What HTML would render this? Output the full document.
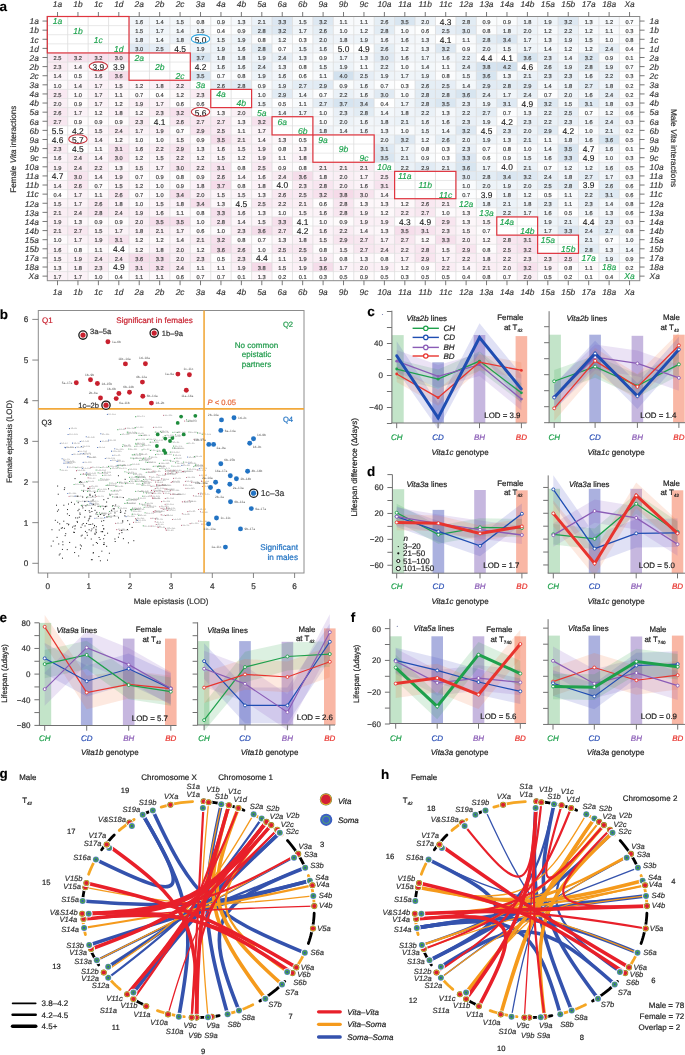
<!DOCTYPE html>
<html><head><meta charset="utf-8"><style>
html,body{margin:0;padding:0;background:#fff;}
svg{display:block;text-rendering:geometricPrecision;will-change:transform;}
</style></head><body>
<svg width="685" height="1055" viewBox="0 0 685 1055" font-family='"Liberation Sans", sans-serif'>
<rect width="685" height="1055" fill="#fff"/>
<rect x="129.02" y="16.5" width="20.43" height="9.11" fill="#f2f6fa"/>
<rect x="149.45" y="16.5" width="20.43" height="9.11" fill="#f4f8fb"/>
<rect x="169.88" y="16.5" width="20.43" height="9.11" fill="#f3f7fa"/>
<rect x="190.31" y="16.5" width="20.43" height="9.11" fill="#fbfcfd"/>
<rect x="210.74" y="16.5" width="20.43" height="9.11" fill="#fafcfd"/>
<rect x="231.17" y="16.5" width="20.43" height="9.11" fill="#f5f8fb"/>
<rect x="251.6" y="16.5" width="20.43" height="9.11" fill="#ebf2f8"/>
<rect x="272.03" y="16.5" width="20.43" height="9.11" fill="#dce7f2"/>
<rect x="292.46" y="16.5" width="20.43" height="9.11" fill="#f3f7fa"/>
<rect x="312.89" y="16.5" width="20.43" height="9.11" fill="#dde8f2"/>
<rect x="333.32" y="16.5" width="20.43" height="9.11" fill="#f8fafc"/>
<rect x="353.75" y="16.5" width="20.43" height="9.11" fill="#f8fafc"/>
<rect x="374.18" y="16.5" width="20.43" height="9.11" fill="#e5eef5"/>
<rect x="394.61" y="16.5" width="20.43" height="9.11" fill="#d9e6f1"/>
<rect x="415.04" y="16.5" width="20.43" height="9.11" fill="#edf3f8"/>
<rect x="435.47" y="16.5" width="20.43" height="9.11" fill="#ffffff"/>
<rect x="455.9" y="16.5" width="20.43" height="9.11" fill="#e2ecf4"/>
<rect x="476.33" y="16.5" width="20.43" height="9.11" fill="#fafcfd"/>
<rect x="496.76" y="16.5" width="20.43" height="9.11" fill="#fafcfd"/>
<rect x="517.19" y="16.5" width="20.43" height="9.11" fill="#eff4f9"/>
<rect x="537.62" y="16.5" width="20.43" height="9.11" fill="#eef4f9"/>
<rect x="558.05" y="16.5" width="20.43" height="9.11" fill="#dde8f2"/>
<rect x="578.48" y="16.5" width="20.43" height="9.11" fill="#f5f8fb"/>
<rect x="598.91" y="16.5" width="20.43" height="9.11" fill="#f6f9fc"/>
<rect x="619.34" y="16.5" width="20.43" height="9.11" fill="#fcfdfe"/>
<rect x="129.02" y="25.61" width="20.43" height="9.11" fill="#f3f7fa"/>
<rect x="149.45" y="25.61" width="20.43" height="9.11" fill="#f0f5f9"/>
<rect x="169.88" y="25.61" width="20.43" height="9.11" fill="#f4f8fb"/>
<rect x="190.31" y="25.61" width="20.43" height="9.11" fill="#f3f7fa"/>
<rect x="210.74" y="25.61" width="20.43" height="9.11" fill="#ffffff"/>
<rect x="231.17" y="25.61" width="20.43" height="9.11" fill="#fafcfd"/>
<rect x="251.6" y="25.61" width="20.43" height="9.11" fill="#e2ecf4"/>
<rect x="272.03" y="25.61" width="20.43" height="9.11" fill="#dde8f2"/>
<rect x="292.46" y="25.61" width="20.43" height="9.11" fill="#f0f5f9"/>
<rect x="312.89" y="25.61" width="20.43" height="9.11" fill="#e5eef5"/>
<rect x="333.32" y="25.61" width="20.43" height="9.11" fill="#f9fbfd"/>
<rect x="353.75" y="25.61" width="20.43" height="9.11" fill="#f6f9fc"/>
<rect x="374.18" y="25.61" width="20.43" height="9.11" fill="#e2ecf4"/>
<rect x="394.61" y="25.61" width="20.43" height="9.11" fill="#f9fbfd"/>
<rect x="415.04" y="25.61" width="20.43" height="9.11" fill="#fdfefe"/>
<rect x="435.47" y="25.61" width="20.43" height="9.11" fill="#e6eef6"/>
<rect x="455.9" y="25.61" width="20.43" height="9.11" fill="#e0eaf3"/>
<rect x="476.33" y="25.61" width="20.43" height="9.11" fill="#fbfcfd"/>
<rect x="496.76" y="25.61" width="20.43" height="9.11" fill="#eff4f9"/>
<rect x="517.19" y="25.61" width="20.43" height="9.11" fill="#edf3f8"/>
<rect x="537.62" y="25.61" width="20.43" height="9.11" fill="#f6f9fc"/>
<rect x="558.05" y="25.61" width="20.43" height="9.11" fill="#eaf1f7"/>
<rect x="578.48" y="25.61" width="20.43" height="9.11" fill="#f6f9fc"/>
<rect x="598.91" y="25.61" width="20.43" height="9.11" fill="#f8fafc"/>
<rect x="619.34" y="25.61" width="20.43" height="9.11" fill="#ffffff"/>
<rect x="129.02" y="34.72" width="20.43" height="9.11" fill="#eff4f9"/>
<rect x="149.45" y="34.72" width="20.43" height="9.11" fill="#f4f8fb"/>
<rect x="169.88" y="34.72" width="20.43" height="9.11" fill="#eff4f9"/>
<rect x="190.31" y="34.72" width="20.43" height="9.11" fill="#ffffff"/>
<rect x="210.74" y="34.72" width="20.43" height="9.11" fill="#f3f7fa"/>
<rect x="231.17" y="34.72" width="20.43" height="9.11" fill="#eef4f9"/>
<rect x="251.6" y="34.72" width="20.43" height="9.11" fill="#fbfcfd"/>
<rect x="272.03" y="34.72" width="20.43" height="9.11" fill="#f6f9fc"/>
<rect x="292.46" y="34.72" width="20.43" height="9.11" fill="#ffffff"/>
<rect x="312.89" y="34.72" width="20.43" height="9.11" fill="#edf3f8"/>
<rect x="333.32" y="34.72" width="20.43" height="9.11" fill="#eff4f9"/>
<rect x="353.75" y="34.72" width="20.43" height="9.11" fill="#eef4f9"/>
<rect x="374.18" y="34.72" width="20.43" height="9.11" fill="#f2f6fa"/>
<rect x="394.61" y="34.72" width="20.43" height="9.11" fill="#f2f6fa"/>
<rect x="415.04" y="34.72" width="20.43" height="9.11" fill="#f5f8fb"/>
<rect x="435.47" y="34.72" width="20.43" height="9.11" fill="#ffffff"/>
<rect x="455.9" y="34.72" width="20.43" height="9.11" fill="#f8fafc"/>
<rect x="476.33" y="34.72" width="20.43" height="9.11" fill="#e2ecf4"/>
<rect x="496.76" y="34.72" width="20.43" height="9.11" fill="#dae6f1"/>
<rect x="517.19" y="34.72" width="20.43" height="9.11" fill="#f0f5f9"/>
<rect x="537.62" y="34.72" width="20.43" height="9.11" fill="#f5f8fb"/>
<rect x="558.05" y="34.72" width="20.43" height="9.11" fill="#eef4f9"/>
<rect x="578.48" y="34.72" width="20.43" height="9.11" fill="#f3f7fa"/>
<rect x="598.91" y="34.72" width="20.43" height="9.11" fill="#f9fbfd"/>
<rect x="619.34" y="34.72" width="20.43" height="9.11" fill="#fbfcfd"/>
<rect x="129.02" y="43.83" width="20.43" height="9.11" fill="#e0eaf3"/>
<rect x="149.45" y="43.83" width="20.43" height="9.11" fill="#e6eef6"/>
<rect x="169.88" y="43.83" width="20.43" height="9.11" fill="#ffffff"/>
<rect x="190.31" y="43.83" width="20.43" height="9.11" fill="#eef4f9"/>
<rect x="210.74" y="43.83" width="20.43" height="9.11" fill="#eef4f9"/>
<rect x="231.17" y="43.83" width="20.43" height="9.11" fill="#f2f6fa"/>
<rect x="251.6" y="43.83" width="20.43" height="9.11" fill="#e2ecf4"/>
<rect x="272.03" y="43.83" width="20.43" height="9.11" fill="#fcfdfe"/>
<rect x="292.46" y="43.83" width="20.43" height="9.11" fill="#f3f7fa"/>
<rect x="312.89" y="43.83" width="20.43" height="9.11" fill="#f2f6fa"/>
<rect x="333.32" y="43.83" width="20.43" height="9.11" fill="#ffffff"/>
<rect x="353.75" y="43.83" width="20.43" height="9.11" fill="#ffffff"/>
<rect x="374.18" y="43.83" width="20.43" height="9.11" fill="#e5eef5"/>
<rect x="394.61" y="43.83" width="20.43" height="9.11" fill="#f6f9fc"/>
<rect x="415.04" y="43.83" width="20.43" height="9.11" fill="#f5f8fb"/>
<rect x="435.47" y="43.83" width="20.43" height="9.11" fill="#dde8f2"/>
<rect x="455.9" y="43.83" width="20.43" height="9.11" fill="#fafcfd"/>
<rect x="476.33" y="43.83" width="20.43" height="9.11" fill="#edf3f8"/>
<rect x="496.76" y="43.83" width="20.43" height="9.11" fill="#f3f7fa"/>
<rect x="517.19" y="43.83" width="20.43" height="9.11" fill="#f0f5f9"/>
<rect x="537.62" y="43.83" width="20.43" height="9.11" fill="#f4f8fb"/>
<rect x="558.05" y="43.83" width="20.43" height="9.11" fill="#f6f9fc"/>
<rect x="578.48" y="43.83" width="20.43" height="9.11" fill="#f6f9fc"/>
<rect x="598.91" y="43.83" width="20.43" height="9.11" fill="#e7eff6"/>
<rect x="619.34" y="43.83" width="20.43" height="9.11" fill="#ffffff"/>
<rect x="47.3" y="52.94" width="20.43" height="9.11" fill="#f9e9f2"/>
<rect x="67.73" y="52.94" width="20.43" height="9.11" fill="#f7e1ed"/>
<rect x="88.16" y="52.94" width="20.43" height="9.11" fill="#f7e1ed"/>
<rect x="108.59" y="52.94" width="20.43" height="9.11" fill="#f7e4ee"/>
<rect x="190.31" y="52.94" width="20.43" height="9.11" fill="#d6e4f0"/>
<rect x="210.74" y="52.94" width="20.43" height="9.11" fill="#eff4f9"/>
<rect x="231.17" y="52.94" width="20.43" height="9.11" fill="#eff4f9"/>
<rect x="251.6" y="52.94" width="20.43" height="9.11" fill="#eef4f9"/>
<rect x="272.03" y="52.94" width="20.43" height="9.11" fill="#e7eff6"/>
<rect x="292.46" y="52.94" width="20.43" height="9.11" fill="#f5f8fb"/>
<rect x="312.89" y="52.94" width="20.43" height="9.11" fill="#fafcfd"/>
<rect x="333.32" y="52.94" width="20.43" height="9.11" fill="#f0f5f9"/>
<rect x="353.75" y="52.94" width="20.43" height="9.11" fill="#f5f8fb"/>
<rect x="374.18" y="52.94" width="20.43" height="9.11" fill="#e0eaf3"/>
<rect x="394.61" y="52.94" width="20.43" height="9.11" fill="#f2f6fa"/>
<rect x="415.04" y="52.94" width="20.43" height="9.11" fill="#f0f5f9"/>
<rect x="435.47" y="52.94" width="20.43" height="9.11" fill="#f2f6fa"/>
<rect x="455.9" y="52.94" width="20.43" height="9.11" fill="#eaf1f7"/>
<rect x="476.33" y="52.94" width="20.43" height="9.11" fill="#ffffff"/>
<rect x="496.76" y="52.94" width="20.43" height="9.11" fill="#ffffff"/>
<rect x="517.19" y="52.94" width="20.43" height="9.11" fill="#d7e5f0"/>
<rect x="537.62" y="52.94" width="20.43" height="9.11" fill="#e9f0f7"/>
<rect x="558.05" y="52.94" width="20.43" height="9.11" fill="#f4f8fb"/>
<rect x="578.48" y="52.94" width="20.43" height="9.11" fill="#dde8f2"/>
<rect x="598.91" y="52.94" width="20.43" height="9.11" fill="#fafcfd"/>
<rect x="619.34" y="52.94" width="20.43" height="9.11" fill="#ffffff"/>
<rect x="47.3" y="62.05" width="20.43" height="9.11" fill="#faecf3"/>
<rect x="67.73" y="62.05" width="20.43" height="9.11" fill="#fcf5f9"/>
<rect x="88.16" y="62.05" width="20.43" height="9.11" fill="#ffffff"/>
<rect x="108.59" y="62.05" width="20.43" height="9.11" fill="#ffffff"/>
<rect x="190.31" y="62.05" width="20.43" height="9.11" fill="#ffffff"/>
<rect x="210.74" y="62.05" width="20.43" height="9.11" fill="#f2f6fa"/>
<rect x="231.17" y="62.05" width="20.43" height="9.11" fill="#f2f6fa"/>
<rect x="251.6" y="62.05" width="20.43" height="9.11" fill="#e7eff6"/>
<rect x="272.03" y="62.05" width="20.43" height="9.11" fill="#f5f8fb"/>
<rect x="292.46" y="62.05" width="20.43" height="9.11" fill="#fbfcfd"/>
<rect x="312.89" y="62.05" width="20.43" height="9.11" fill="#f3f7fa"/>
<rect x="333.32" y="62.05" width="20.43" height="9.11" fill="#eef4f9"/>
<rect x="353.75" y="62.05" width="20.43" height="9.11" fill="#f8fafc"/>
<rect x="374.18" y="62.05" width="20.43" height="9.11" fill="#eaf1f7"/>
<rect x="394.61" y="62.05" width="20.43" height="9.11" fill="#f9fbfd"/>
<rect x="415.04" y="62.05" width="20.43" height="9.11" fill="#f4f8fb"/>
<rect x="435.47" y="62.05" width="20.43" height="9.11" fill="#f8fafc"/>
<rect x="455.9" y="62.05" width="20.43" height="9.11" fill="#e7eff6"/>
<rect x="476.33" y="62.05" width="20.43" height="9.11" fill="#d5e3ef"/>
<rect x="496.76" y="62.05" width="20.43" height="9.11" fill="#d2e1ee"/>
<rect x="517.19" y="62.05" width="20.43" height="9.11" fill="#ffffff"/>
<rect x="537.62" y="62.05" width="20.43" height="9.11" fill="#e5eef5"/>
<rect x="558.05" y="62.05" width="20.43" height="9.11" fill="#eef4f9"/>
<rect x="578.48" y="62.05" width="20.43" height="9.11" fill="#e2ecf4"/>
<rect x="598.91" y="62.05" width="20.43" height="9.11" fill="#eef4f9"/>
<rect x="619.34" y="62.05" width="20.43" height="9.11" fill="#fcfdfe"/>
<rect x="47.3" y="71.16" width="20.43" height="9.11" fill="#fcf5f9"/>
<rect x="67.73" y="71.16" width="20.43" height="9.11" fill="#fffeff"/>
<rect x="88.16" y="71.16" width="20.43" height="9.11" fill="#fcf3f8"/>
<rect x="108.59" y="71.16" width="20.43" height="9.11" fill="#f5ddea"/>
<rect x="190.31" y="71.16" width="20.43" height="9.11" fill="#d9e6f1"/>
<rect x="210.74" y="71.16" width="20.43" height="9.11" fill="#fcfdfe"/>
<rect x="231.17" y="71.16" width="20.43" height="9.11" fill="#fbfcfd"/>
<rect x="251.6" y="71.16" width="20.43" height="9.11" fill="#eef4f9"/>
<rect x="272.03" y="71.16" width="20.43" height="9.11" fill="#f2f6fa"/>
<rect x="292.46" y="71.16" width="20.43" height="9.11" fill="#fdfefe"/>
<rect x="312.89" y="71.16" width="20.43" height="9.11" fill="#f8fafc"/>
<rect x="333.32" y="71.16" width="20.43" height="9.11" fill="#d2e1ee"/>
<rect x="353.75" y="71.16" width="20.43" height="9.11" fill="#e6eef6"/>
<rect x="374.18" y="71.16" width="20.43" height="9.11" fill="#eef4f9"/>
<rect x="394.61" y="71.16" width="20.43" height="9.11" fill="#f0f5f9"/>
<rect x="415.04" y="71.16" width="20.43" height="9.11" fill="#eef4f9"/>
<rect x="435.47" y="71.16" width="20.43" height="9.11" fill="#fbfcfd"/>
<rect x="455.9" y="71.16" width="20.43" height="9.11" fill="#f3f7fa"/>
<rect x="476.33" y="71.16" width="20.43" height="9.11" fill="#d7e5f0"/>
<rect x="496.76" y="71.16" width="20.43" height="9.11" fill="#f5f8fb"/>
<rect x="517.19" y="71.16" width="20.43" height="9.11" fill="#ebf2f8"/>
<rect x="537.62" y="71.16" width="20.43" height="9.11" fill="#e9f0f7"/>
<rect x="558.05" y="71.16" width="20.43" height="9.11" fill="#e9f0f7"/>
<rect x="578.48" y="71.16" width="20.43" height="9.11" fill="#f2f6fa"/>
<rect x="598.91" y="71.16" width="20.43" height="9.11" fill="#eaf1f7"/>
<rect x="619.34" y="71.16" width="20.43" height="9.11" fill="#ffffff"/>
<rect x="47.3" y="80.27" width="20.43" height="9.11" fill="#fdfafc"/>
<rect x="67.73" y="80.27" width="20.43" height="9.11" fill="#fcf5f9"/>
<rect x="88.16" y="80.27" width="20.43" height="9.11" fill="#fbf2f7"/>
<rect x="108.59" y="80.27" width="20.43" height="9.11" fill="#fcf4f8"/>
<rect x="129.02" y="80.27" width="20.43" height="9.11" fill="#fdf8fa"/>
<rect x="149.45" y="80.27" width="20.43" height="9.11" fill="#fbf1f7"/>
<rect x="169.88" y="80.27" width="20.43" height="9.11" fill="#faedf4"/>
<rect x="210.74" y="80.27" width="20.43" height="9.11" fill="#e5eef5"/>
<rect x="231.17" y="80.27" width="20.43" height="9.11" fill="#e2ecf4"/>
<rect x="251.6" y="80.27" width="20.43" height="9.11" fill="#fafcfd"/>
<rect x="272.03" y="80.27" width="20.43" height="9.11" fill="#eef4f9"/>
<rect x="292.46" y="80.27" width="20.43" height="9.11" fill="#e4edf5"/>
<rect x="312.89" y="80.27" width="20.43" height="9.11" fill="#e1ebf4"/>
<rect x="333.32" y="80.27" width="20.43" height="9.11" fill="#fafcfd"/>
<rect x="353.75" y="80.27" width="20.43" height="9.11" fill="#f2f6fa"/>
<rect x="374.18" y="80.27" width="20.43" height="9.11" fill="#fcfdfe"/>
<rect x="394.61" y="80.27" width="20.43" height="9.11" fill="#ffffff"/>
<rect x="415.04" y="80.27" width="20.43" height="9.11" fill="#e5eef5"/>
<rect x="435.47" y="80.27" width="20.43" height="9.11" fill="#e6eef6"/>
<rect x="455.9" y="80.27" width="20.43" height="9.11" fill="#f4f8fb"/>
<rect x="476.33" y="80.27" width="20.43" height="9.11" fill="#e1ebf4"/>
<rect x="496.76" y="80.27" width="20.43" height="9.11" fill="#e2ecf4"/>
<rect x="517.19" y="80.27" width="20.43" height="9.11" fill="#e1ebf4"/>
<rect x="537.62" y="80.27" width="20.43" height="9.11" fill="#f4f8fb"/>
<rect x="558.05" y="80.27" width="20.43" height="9.11" fill="#eff4f9"/>
<rect x="578.48" y="80.27" width="20.43" height="9.11" fill="#e4edf5"/>
<rect x="598.91" y="80.27" width="20.43" height="9.11" fill="#eff4f9"/>
<rect x="619.34" y="80.27" width="20.43" height="9.11" fill="#ffffff"/>
<rect x="47.3" y="89.38" width="20.43" height="9.11" fill="#f9e9f2"/>
<rect x="67.73" y="89.38" width="20.43" height="9.11" fill="#fdfafc"/>
<rect x="88.16" y="89.38" width="20.43" height="9.11" fill="#fbf2f7"/>
<rect x="108.59" y="89.38" width="20.43" height="9.11" fill="#fdf9fb"/>
<rect x="129.02" y="89.38" width="20.43" height="9.11" fill="#fefcfd"/>
<rect x="149.45" y="89.38" width="20.43" height="9.11" fill="#ffffff"/>
<rect x="169.88" y="89.38" width="20.43" height="9.11" fill="#fdf8fa"/>
<rect x="190.31" y="89.38" width="20.43" height="9.11" fill="#faecf3"/>
<rect x="251.6" y="89.38" width="20.43" height="9.11" fill="#f9fbfd"/>
<rect x="272.03" y="89.38" width="20.43" height="9.11" fill="#e1ebf4"/>
<rect x="292.46" y="89.38" width="20.43" height="9.11" fill="#f4f8fb"/>
<rect x="312.89" y="89.38" width="20.43" height="9.11" fill="#fcfdfe"/>
<rect x="333.32" y="89.38" width="20.43" height="9.11" fill="#eaf1f7"/>
<rect x="353.75" y="89.38" width="20.43" height="9.11" fill="#f2f6fa"/>
<rect x="374.18" y="89.38" width="20.43" height="9.11" fill="#e0eaf3"/>
<rect x="394.61" y="89.38" width="20.43" height="9.11" fill="#f9fbfd"/>
<rect x="415.04" y="89.38" width="20.43" height="9.11" fill="#e2ecf4"/>
<rect x="435.47" y="89.38" width="20.43" height="9.11" fill="#e2ecf4"/>
<rect x="455.9" y="89.38" width="20.43" height="9.11" fill="#d7e5f0"/>
<rect x="476.33" y="89.38" width="20.43" height="9.11" fill="#e7eff6"/>
<rect x="496.76" y="89.38" width="20.43" height="9.11" fill="#f0f5f9"/>
<rect x="517.19" y="89.38" width="20.43" height="9.11" fill="#e7eff6"/>
<rect x="537.62" y="89.38" width="20.43" height="9.11" fill="#fcfdfe"/>
<rect x="558.05" y="89.38" width="20.43" height="9.11" fill="#edf3f8"/>
<rect x="578.48" y="89.38" width="20.43" height="9.11" fill="#f2f6fa"/>
<rect x="598.91" y="89.38" width="20.43" height="9.11" fill="#e7eff6"/>
<rect x="619.34" y="89.38" width="20.43" height="9.11" fill="#ffffff"/>
<rect x="47.3" y="98.49" width="20.43" height="9.11" fill="#faeff5"/>
<rect x="67.73" y="98.49" width="20.43" height="9.11" fill="#fefbfc"/>
<rect x="88.16" y="98.49" width="20.43" height="9.11" fill="#fbf2f7"/>
<rect x="108.59" y="98.49" width="20.43" height="9.11" fill="#fdf8fa"/>
<rect x="129.02" y="98.49" width="20.43" height="9.11" fill="#fbf0f6"/>
<rect x="149.45" y="98.49" width="20.43" height="9.11" fill="#fbf2f7"/>
<rect x="169.88" y="98.49" width="20.43" height="9.11" fill="#fffdfe"/>
<rect x="190.31" y="98.49" width="20.43" height="9.11" fill="#fffdfe"/>
<rect x="251.6" y="98.49" width="20.43" height="9.11" fill="#f3f7fa"/>
<rect x="272.03" y="98.49" width="20.43" height="9.11" fill="#fefeff"/>
<rect x="292.46" y="98.49" width="20.43" height="9.11" fill="#f8fafc"/>
<rect x="312.89" y="98.49" width="20.43" height="9.11" fill="#e4edf5"/>
<rect x="333.32" y="98.49" width="20.43" height="9.11" fill="#d6e4f0"/>
<rect x="353.75" y="98.49" width="20.43" height="9.11" fill="#dae6f1"/>
<rect x="374.18" y="98.49" width="20.43" height="9.11" fill="#ffffff"/>
<rect x="394.61" y="98.49" width="20.43" height="9.11" fill="#f0f5f9"/>
<rect x="415.04" y="98.49" width="20.43" height="9.11" fill="#e2ecf4"/>
<rect x="435.47" y="98.49" width="20.43" height="9.11" fill="#d9e6f1"/>
<rect x="455.9" y="98.49" width="20.43" height="9.11" fill="#e9f0f7"/>
<rect x="476.33" y="98.49" width="20.43" height="9.11" fill="#eef4f9"/>
<rect x="496.76" y="98.49" width="20.43" height="9.11" fill="#dee9f3"/>
<rect x="517.19" y="98.49" width="20.43" height="9.11" fill="#ffffff"/>
<rect x="537.62" y="98.49" width="20.43" height="9.11" fill="#dde8f2"/>
<rect x="558.05" y="98.49" width="20.43" height="9.11" fill="#f3f7fa"/>
<rect x="578.48" y="98.49" width="20.43" height="9.11" fill="#dee9f3"/>
<rect x="598.91" y="98.49" width="20.43" height="9.11" fill="#eff4f9"/>
<rect x="619.34" y="98.49" width="20.43" height="9.11" fill="#ffffff"/>
<rect x="47.3" y="107.6" width="20.43" height="9.11" fill="#f9e8f1"/>
<rect x="67.73" y="107.6" width="20.43" height="9.11" fill="#fbf2f7"/>
<rect x="88.16" y="107.6" width="20.43" height="9.11" fill="#fdf8fa"/>
<rect x="108.59" y="107.6" width="20.43" height="9.11" fill="#fbf1f7"/>
<rect x="129.02" y="107.6" width="20.43" height="9.11" fill="#fdf8fa"/>
<rect x="149.45" y="107.6" width="20.43" height="9.11" fill="#faecf3"/>
<rect x="169.88" y="107.6" width="20.43" height="9.11" fill="#f7e1ed"/>
<rect x="190.31" y="107.6" width="20.43" height="9.11" fill="#ffffff"/>
<rect x="210.74" y="107.6" width="20.43" height="9.11" fill="#fdf7fa"/>
<rect x="231.17" y="107.6" width="20.43" height="9.11" fill="#faeff5"/>
<rect x="272.03" y="107.6" width="20.43" height="9.11" fill="#f4f8fb"/>
<rect x="292.46" y="107.6" width="20.43" height="9.11" fill="#f0f5f9"/>
<rect x="312.89" y="107.6" width="20.43" height="9.11" fill="#f9fbfd"/>
<rect x="333.32" y="107.6" width="20.43" height="9.11" fill="#e9f0f7"/>
<rect x="353.75" y="107.6" width="20.43" height="9.11" fill="#e2ecf4"/>
<rect x="374.18" y="107.6" width="20.43" height="9.11" fill="#f4f8fb"/>
<rect x="394.61" y="107.6" width="20.43" height="9.11" fill="#eff4f9"/>
<rect x="415.04" y="107.6" width="20.43" height="9.11" fill="#eaf1f7"/>
<rect x="435.47" y="107.6" width="20.43" height="9.11" fill="#f5f8fb"/>
<rect x="455.9" y="107.6" width="20.43" height="9.11" fill="#eaf1f7"/>
<rect x="476.33" y="107.6" width="20.43" height="9.11" fill="#e4edf5"/>
<rect x="496.76" y="107.6" width="20.43" height="9.11" fill="#fcfdfe"/>
<rect x="517.19" y="107.6" width="20.43" height="9.11" fill="#f5f8fb"/>
<rect x="537.62" y="107.6" width="20.43" height="9.11" fill="#eaf1f7"/>
<rect x="558.05" y="107.6" width="20.43" height="9.11" fill="#e6eef6"/>
<rect x="578.48" y="107.6" width="20.43" height="9.11" fill="#fcfdfe"/>
<rect x="598.91" y="107.6" width="20.43" height="9.11" fill="#f6f9fc"/>
<rect x="619.34" y="107.6" width="20.43" height="9.11" fill="#fdfefe"/>
<rect x="47.3" y="116.71" width="20.43" height="9.11" fill="#f8e7f0"/>
<rect x="67.73" y="116.71" width="20.43" height="9.11" fill="#fefbfc"/>
<rect x="88.16" y="116.71" width="20.43" height="9.11" fill="#fefbfc"/>
<rect x="108.59" y="116.71" width="20.43" height="9.11" fill="#fefbfc"/>
<rect x="129.02" y="116.71" width="20.43" height="9.11" fill="#faecf3"/>
<rect x="149.45" y="116.71" width="20.43" height="9.11" fill="#ffffff"/>
<rect x="169.88" y="116.71" width="20.43" height="9.11" fill="#f9e8f1"/>
<rect x="190.31" y="116.71" width="20.43" height="9.11" fill="#f8e7f0"/>
<rect x="210.74" y="116.71" width="20.43" height="9.11" fill="#f8e7f0"/>
<rect x="231.17" y="116.71" width="20.43" height="9.11" fill="#fdf7fa"/>
<rect x="251.6" y="116.71" width="20.43" height="9.11" fill="#f7e1ed"/>
<rect x="312.89" y="116.71" width="20.43" height="9.11" fill="#f9fbfd"/>
<rect x="333.32" y="116.71" width="20.43" height="9.11" fill="#edf3f8"/>
<rect x="353.75" y="116.71" width="20.43" height="9.11" fill="#f2f6fa"/>
<rect x="374.18" y="116.71" width="20.43" height="9.11" fill="#eff4f9"/>
<rect x="394.61" y="116.71" width="20.43" height="9.11" fill="#ebf2f8"/>
<rect x="415.04" y="116.71" width="20.43" height="9.11" fill="#f2f6fa"/>
<rect x="435.47" y="116.71" width="20.43" height="9.11" fill="#f2f6fa"/>
<rect x="455.9" y="116.71" width="20.43" height="9.11" fill="#e9f0f7"/>
<rect x="476.33" y="116.71" width="20.43" height="9.11" fill="#eef4f9"/>
<rect x="496.76" y="116.71" width="20.43" height="9.11" fill="#ffffff"/>
<rect x="517.19" y="116.71" width="20.43" height="9.11" fill="#e9f0f7"/>
<rect x="537.62" y="116.71" width="20.43" height="9.11" fill="#eaf1f7"/>
<rect x="558.05" y="116.71" width="20.43" height="9.11" fill="#e9f0f7"/>
<rect x="578.48" y="116.71" width="20.43" height="9.11" fill="#f2f6fa"/>
<rect x="598.91" y="116.71" width="20.43" height="9.11" fill="#e7eff6"/>
<rect x="619.34" y="116.71" width="20.43" height="9.11" fill="#ffffff"/>
<rect x="47.3" y="125.82" width="20.43" height="9.11" fill="#ffffff"/>
<rect x="67.73" y="125.82" width="20.43" height="9.11" fill="#ffffff"/>
<rect x="88.16" y="125.82" width="20.43" height="9.11" fill="#fcf4f8"/>
<rect x="108.59" y="125.82" width="20.43" height="9.11" fill="#f9ebf2"/>
<rect x="129.02" y="125.82" width="20.43" height="9.11" fill="#fbf2f7"/>
<rect x="149.45" y="125.82" width="20.43" height="9.11" fill="#fbf0f6"/>
<rect x="169.88" y="125.82" width="20.43" height="9.11" fill="#fefcfd"/>
<rect x="190.31" y="125.82" width="20.43" height="9.11" fill="#f8e5ef"/>
<rect x="210.74" y="125.82" width="20.43" height="9.11" fill="#f9e9f2"/>
<rect x="231.17" y="125.82" width="20.43" height="9.11" fill="#fdf9fb"/>
<rect x="251.6" y="125.82" width="20.43" height="9.11" fill="#fbf2f7"/>
<rect x="312.89" y="125.82" width="20.43" height="9.11" fill="#eff4f9"/>
<rect x="333.32" y="125.82" width="20.43" height="9.11" fill="#f4f8fb"/>
<rect x="353.75" y="125.82" width="20.43" height="9.11" fill="#f2f6fa"/>
<rect x="374.18" y="125.82" width="20.43" height="9.11" fill="#f5f8fb"/>
<rect x="394.61" y="125.82" width="20.43" height="9.11" fill="#f9fbfd"/>
<rect x="415.04" y="125.82" width="20.43" height="9.11" fill="#f3f7fa"/>
<rect x="435.47" y="125.82" width="20.43" height="9.11" fill="#f4f8fb"/>
<rect x="455.9" y="125.82" width="20.43" height="9.11" fill="#dde8f2"/>
<rect x="476.33" y="125.82" width="20.43" height="9.11" fill="#ffffff"/>
<rect x="496.76" y="125.82" width="20.43" height="9.11" fill="#e9f0f7"/>
<rect x="517.19" y="125.82" width="20.43" height="9.11" fill="#edf3f8"/>
<rect x="537.62" y="125.82" width="20.43" height="9.11" fill="#e1ebf4"/>
<rect x="558.05" y="125.82" width="20.43" height="9.11" fill="#ffffff"/>
<rect x="578.48" y="125.82" width="20.43" height="9.11" fill="#f9fbfd"/>
<rect x="598.91" y="125.82" width="20.43" height="9.11" fill="#ebf2f8"/>
<rect x="619.34" y="125.82" width="20.43" height="9.11" fill="#ffffff"/>
<rect x="47.3" y="134.93" width="20.43" height="9.11" fill="#ffffff"/>
<rect x="67.73" y="134.93" width="20.43" height="9.11" fill="#ffffff"/>
<rect x="88.16" y="134.93" width="20.43" height="9.11" fill="#fcf5f9"/>
<rect x="108.59" y="134.93" width="20.43" height="9.11" fill="#fdf8fa"/>
<rect x="129.02" y="134.93" width="20.43" height="9.11" fill="#fdfafc"/>
<rect x="149.45" y="134.93" width="20.43" height="9.11" fill="#fdfafc"/>
<rect x="169.88" y="134.93" width="20.43" height="9.11" fill="#fcf4f8"/>
<rect x="190.31" y="134.93" width="20.43" height="9.11" fill="#fefbfc"/>
<rect x="210.74" y="134.93" width="20.43" height="9.11" fill="#f6deeb"/>
<rect x="231.17" y="134.93" width="20.43" height="9.11" fill="#faeef4"/>
<rect x="251.6" y="134.93" width="20.43" height="9.11" fill="#fcf5f9"/>
<rect x="272.03" y="134.93" width="20.43" height="9.11" fill="#fdf7fa"/>
<rect x="292.46" y="134.93" width="20.43" height="9.11" fill="#fffeff"/>
<rect x="374.18" y="134.93" width="20.43" height="9.11" fill="#edf3f8"/>
<rect x="394.61" y="134.93" width="20.43" height="9.11" fill="#dde8f2"/>
<rect x="415.04" y="134.93" width="20.43" height="9.11" fill="#f6f9fc"/>
<rect x="435.47" y="134.93" width="20.43" height="9.11" fill="#e5eef5"/>
<rect x="455.9" y="134.93" width="20.43" height="9.11" fill="#edf3f8"/>
<rect x="476.33" y="134.93" width="20.43" height="9.11" fill="#eef4f9"/>
<rect x="496.76" y="134.93" width="20.43" height="9.11" fill="#f5f8fb"/>
<rect x="517.19" y="134.93" width="20.43" height="9.11" fill="#ebf2f8"/>
<rect x="537.62" y="134.93" width="20.43" height="9.11" fill="#f8fafc"/>
<rect x="558.05" y="134.93" width="20.43" height="9.11" fill="#eff4f9"/>
<rect x="578.48" y="134.93" width="20.43" height="9.11" fill="#f2f6fa"/>
<rect x="598.91" y="134.93" width="20.43" height="9.11" fill="#d7e5f0"/>
<rect x="619.34" y="134.93" width="20.43" height="9.11" fill="#fefeff"/>
<rect x="47.3" y="144.04" width="20.43" height="9.11" fill="#faecf3"/>
<rect x="67.73" y="144.04" width="20.43" height="9.11" fill="#ffffff"/>
<rect x="88.16" y="144.04" width="20.43" height="9.11" fill="#fdf9fb"/>
<rect x="108.59" y="144.04" width="20.43" height="9.11" fill="#f7e3ee"/>
<rect x="129.02" y="144.04" width="20.43" height="9.11" fill="#fcf3f8"/>
<rect x="149.45" y="144.04" width="20.43" height="9.11" fill="#faedf4"/>
<rect x="169.88" y="144.04" width="20.43" height="9.11" fill="#f8e5ef"/>
<rect x="190.31" y="144.04" width="20.43" height="9.11" fill="#fdf7fa"/>
<rect x="210.74" y="144.04" width="20.43" height="9.11" fill="#fcf3f8"/>
<rect x="231.17" y="144.04" width="20.43" height="9.11" fill="#fcf4f8"/>
<rect x="251.6" y="144.04" width="20.43" height="9.11" fill="#fbf0f6"/>
<rect x="272.03" y="144.04" width="20.43" height="9.11" fill="#fefcfd"/>
<rect x="292.46" y="144.04" width="20.43" height="9.11" fill="#fdf7fa"/>
<rect x="374.18" y="144.04" width="20.43" height="9.11" fill="#dee9f3"/>
<rect x="394.61" y="144.04" width="20.43" height="9.11" fill="#f0f5f9"/>
<rect x="415.04" y="144.04" width="20.43" height="9.11" fill="#fbfcfd"/>
<rect x="435.47" y="144.04" width="20.43" height="9.11" fill="#ffffff"/>
<rect x="455.9" y="144.04" width="20.43" height="9.11" fill="#e9f0f7"/>
<rect x="476.33" y="144.04" width="20.43" height="9.11" fill="#fcfdfe"/>
<rect x="496.76" y="144.04" width="20.43" height="9.11" fill="#fbfcfd"/>
<rect x="517.19" y="144.04" width="20.43" height="9.11" fill="#f9fbfd"/>
<rect x="537.62" y="144.04" width="20.43" height="9.11" fill="#f4f8fb"/>
<rect x="558.05" y="144.04" width="20.43" height="9.11" fill="#d9e6f1"/>
<rect x="578.48" y="144.04" width="20.43" height="9.11" fill="#ffffff"/>
<rect x="598.91" y="144.04" width="20.43" height="9.11" fill="#f2f6fa"/>
<rect x="619.34" y="144.04" width="20.43" height="9.11" fill="#ffffff"/>
<rect x="47.3" y="153.15" width="20.43" height="9.11" fill="#fcf3f8"/>
<rect x="67.73" y="153.15" width="20.43" height="9.11" fill="#f9ebf2"/>
<rect x="88.16" y="153.15" width="20.43" height="9.11" fill="#fcf5f9"/>
<rect x="108.59" y="153.15" width="20.43" height="9.11" fill="#f7e4ee"/>
<rect x="129.02" y="153.15" width="20.43" height="9.11" fill="#fdf8fa"/>
<rect x="149.45" y="153.15" width="20.43" height="9.11" fill="#fcf4f8"/>
<rect x="169.88" y="153.15" width="20.43" height="9.11" fill="#faedf4"/>
<rect x="190.31" y="153.15" width="20.43" height="9.11" fill="#fdf8fa"/>
<rect x="210.74" y="153.15" width="20.43" height="9.11" fill="#fcf4f8"/>
<rect x="231.17" y="153.15" width="20.43" height="9.11" fill="#fdf8fa"/>
<rect x="251.6" y="153.15" width="20.43" height="9.11" fill="#fbf0f6"/>
<rect x="272.03" y="153.15" width="20.43" height="9.11" fill="#fdf9fb"/>
<rect x="292.46" y="153.15" width="20.43" height="9.11" fill="#fbf1f7"/>
<rect x="374.18" y="153.15" width="20.43" height="9.11" fill="#d9e6f1"/>
<rect x="394.61" y="153.15" width="20.43" height="9.11" fill="#ebf2f8"/>
<rect x="415.04" y="153.15" width="20.43" height="9.11" fill="#fafcfd"/>
<rect x="435.47" y="153.15" width="20.43" height="9.11" fill="#ffffff"/>
<rect x="455.9" y="153.15" width="20.43" height="9.11" fill="#dce7f2"/>
<rect x="476.33" y="153.15" width="20.43" height="9.11" fill="#fdfefe"/>
<rect x="496.76" y="153.15" width="20.43" height="9.11" fill="#fafcfd"/>
<rect x="517.19" y="153.15" width="20.43" height="9.11" fill="#f3f7fa"/>
<rect x="537.62" y="153.15" width="20.43" height="9.11" fill="#f2f6fa"/>
<rect x="558.05" y="153.15" width="20.43" height="9.11" fill="#dce7f2"/>
<rect x="578.48" y="153.15" width="20.43" height="9.11" fill="#ffffff"/>
<rect x="598.91" y="153.15" width="20.43" height="9.11" fill="#f9fbfd"/>
<rect x="619.34" y="153.15" width="20.43" height="9.11" fill="#ffffff"/>
<rect x="47.3" y="162.26" width="20.43" height="9.11" fill="#fbf0f6"/>
<rect x="67.73" y="162.26" width="20.43" height="9.11" fill="#f9ebf2"/>
<rect x="88.16" y="162.26" width="20.43" height="9.11" fill="#faedf4"/>
<rect x="108.59" y="162.26" width="20.43" height="9.11" fill="#fdf7fa"/>
<rect x="129.02" y="162.26" width="20.43" height="9.11" fill="#fcf4f8"/>
<rect x="149.45" y="162.26" width="20.43" height="9.11" fill="#fbf2f7"/>
<rect x="169.88" y="162.26" width="20.43" height="9.11" fill="#f7e4ee"/>
<rect x="190.31" y="162.26" width="20.43" height="9.11" fill="#faedf4"/>
<rect x="210.74" y="162.26" width="20.43" height="9.11" fill="#f7e3ee"/>
<rect x="231.17" y="162.26" width="20.43" height="9.11" fill="#fefcfd"/>
<rect x="251.6" y="162.26" width="20.43" height="9.11" fill="#f9e9f2"/>
<rect x="272.03" y="162.26" width="20.43" height="9.11" fill="#fefbfc"/>
<rect x="292.46" y="162.26" width="20.43" height="9.11" fill="#fefcfd"/>
<rect x="312.89" y="162.26" width="20.43" height="9.11" fill="#faeef4"/>
<rect x="333.32" y="162.26" width="20.43" height="9.11" fill="#faeef4"/>
<rect x="353.75" y="162.26" width="20.43" height="9.11" fill="#faeef4"/>
<rect x="394.61" y="162.26" width="20.43" height="9.11" fill="#eaf1f7"/>
<rect x="415.04" y="162.26" width="20.43" height="9.11" fill="#e1ebf4"/>
<rect x="435.47" y="162.26" width="20.43" height="9.11" fill="#ebf2f8"/>
<rect x="455.9" y="162.26" width="20.43" height="9.11" fill="#d7e5f0"/>
<rect x="476.33" y="162.26" width="20.43" height="9.11" fill="#f0f5f9"/>
<rect x="496.76" y="162.26" width="20.43" height="9.11" fill="#ffffff"/>
<rect x="517.19" y="162.26" width="20.43" height="9.11" fill="#ebf2f8"/>
<rect x="537.62" y="162.26" width="20.43" height="9.11" fill="#fcfdfe"/>
<rect x="558.05" y="162.26" width="20.43" height="9.11" fill="#f6f9fc"/>
<rect x="578.48" y="162.26" width="20.43" height="9.11" fill="#f6f9fc"/>
<rect x="598.91" y="162.26" width="20.43" height="9.11" fill="#f2f6fa"/>
<rect x="619.34" y="162.26" width="20.43" height="9.11" fill="#fefeff"/>
<rect x="47.3" y="171.37" width="20.43" height="9.11" fill="#ffffff"/>
<rect x="67.73" y="171.37" width="20.43" height="9.11" fill="#f7e4ee"/>
<rect x="88.16" y="171.37" width="20.43" height="9.11" fill="#fcf5f9"/>
<rect x="108.59" y="171.37" width="20.43" height="9.11" fill="#fbf0f6"/>
<rect x="129.02" y="171.37" width="20.43" height="9.11" fill="#fefcfd"/>
<rect x="149.45" y="171.37" width="20.43" height="9.11" fill="#fefbfc"/>
<rect x="169.88" y="171.37" width="20.43" height="9.11" fill="#fefcfd"/>
<rect x="190.31" y="171.37" width="20.43" height="9.11" fill="#fefbfc"/>
<rect x="210.74" y="171.37" width="20.43" height="9.11" fill="#f9e8f1"/>
<rect x="231.17" y="171.37" width="20.43" height="9.11" fill="#fcf5f9"/>
<rect x="251.6" y="171.37" width="20.43" height="9.11" fill="#fcf3f8"/>
<rect x="272.03" y="171.37" width="20.43" height="9.11" fill="#f9ebf2"/>
<rect x="292.46" y="171.37" width="20.43" height="9.11" fill="#f5ddea"/>
<rect x="312.89" y="171.37" width="20.43" height="9.11" fill="#fbf1f7"/>
<rect x="333.32" y="171.37" width="20.43" height="9.11" fill="#faeff5"/>
<rect x="353.75" y="171.37" width="20.43" height="9.11" fill="#fbf2f7"/>
<rect x="374.18" y="171.37" width="20.43" height="9.11" fill="#f9e9f2"/>
<rect x="455.9" y="171.37" width="20.43" height="9.11" fill="#e0eaf3"/>
<rect x="476.33" y="171.37" width="20.43" height="9.11" fill="#e2ecf4"/>
<rect x="496.76" y="171.37" width="20.43" height="9.11" fill="#dae6f1"/>
<rect x="517.19" y="171.37" width="20.43" height="9.11" fill="#dde8f2"/>
<rect x="537.62" y="171.37" width="20.43" height="9.11" fill="#e7eff6"/>
<rect x="558.05" y="171.37" width="20.43" height="9.11" fill="#eff4f9"/>
<rect x="578.48" y="171.37" width="20.43" height="9.11" fill="#e4edf5"/>
<rect x="598.91" y="171.37" width="20.43" height="9.11" fill="#f0f5f9"/>
<rect x="619.34" y="171.37" width="20.43" height="9.11" fill="#ffffff"/>
<rect x="47.3" y="180.48" width="20.43" height="9.11" fill="#fcf5f9"/>
<rect x="67.73" y="180.48" width="20.43" height="9.11" fill="#f9e8f1"/>
<rect x="88.16" y="180.48" width="20.43" height="9.11" fill="#fefcfd"/>
<rect x="108.59" y="180.48" width="20.43" height="9.11" fill="#fcf4f8"/>
<rect x="129.02" y="180.48" width="20.43" height="9.11" fill="#fdf8fa"/>
<rect x="149.45" y="180.48" width="20.43" height="9.11" fill="#fdfafc"/>
<rect x="169.88" y="180.48" width="20.43" height="9.11" fill="#fefbfc"/>
<rect x="190.31" y="180.48" width="20.43" height="9.11" fill="#fbf1f7"/>
<rect x="210.74" y="180.48" width="20.43" height="9.11" fill="#f5dce9"/>
<rect x="231.17" y="180.48" width="20.43" height="9.11" fill="#fefcfd"/>
<rect x="251.6" y="180.48" width="20.43" height="9.11" fill="#fbf1f7"/>
<rect x="272.03" y="180.48" width="20.43" height="9.11" fill="#ffffff"/>
<rect x="292.46" y="180.48" width="20.43" height="9.11" fill="#faecf3"/>
<rect x="312.89" y="180.48" width="20.43" height="9.11" fill="#f8e6f0"/>
<rect x="333.32" y="180.48" width="20.43" height="9.11" fill="#faeff5"/>
<rect x="353.75" y="180.48" width="20.43" height="9.11" fill="#fcf3f8"/>
<rect x="374.18" y="180.48" width="20.43" height="9.11" fill="#f7e3ee"/>
<rect x="455.9" y="180.48" width="20.43" height="9.11" fill="#f9fbfd"/>
<rect x="476.33" y="180.48" width="20.43" height="9.11" fill="#edf3f8"/>
<rect x="496.76" y="180.48" width="20.43" height="9.11" fill="#eef4f9"/>
<rect x="517.19" y="180.48" width="20.43" height="9.11" fill="#edf3f8"/>
<rect x="537.62" y="180.48" width="20.43" height="9.11" fill="#e6eef6"/>
<rect x="558.05" y="180.48" width="20.43" height="9.11" fill="#e2ecf4"/>
<rect x="578.48" y="180.48" width="20.43" height="9.11" fill="#ffffff"/>
<rect x="598.91" y="180.48" width="20.43" height="9.11" fill="#e5eef5"/>
<rect x="619.34" y="180.48" width="20.43" height="9.11" fill="#fdfefe"/>
<rect x="47.3" y="189.59" width="20.43" height="9.11" fill="#ffffff"/>
<rect x="67.73" y="189.59" width="20.43" height="9.11" fill="#fbf2f7"/>
<rect x="88.16" y="189.59" width="20.43" height="9.11" fill="#fdf9fb"/>
<rect x="108.59" y="189.59" width="20.43" height="9.11" fill="#f9e8f1"/>
<rect x="129.02" y="189.59" width="20.43" height="9.11" fill="#fefcfd"/>
<rect x="149.45" y="189.59" width="20.43" height="9.11" fill="#fdfafc"/>
<rect x="169.88" y="189.59" width="20.43" height="9.11" fill="#f6dfeb"/>
<rect x="190.31" y="189.59" width="20.43" height="9.11" fill="#faeff5"/>
<rect x="210.74" y="189.59" width="20.43" height="9.11" fill="#fcf4f8"/>
<rect x="231.17" y="189.59" width="20.43" height="9.11" fill="#fcf4f8"/>
<rect x="251.6" y="189.59" width="20.43" height="9.11" fill="#fdf7fa"/>
<rect x="272.03" y="189.59" width="20.43" height="9.11" fill="#f9e8f1"/>
<rect x="292.46" y="189.59" width="20.43" height="9.11" fill="#f9e9f2"/>
<rect x="312.89" y="189.59" width="20.43" height="9.11" fill="#f7e1ed"/>
<rect x="333.32" y="189.59" width="20.43" height="9.11" fill="#f5dae8"/>
<rect x="353.75" y="189.59" width="20.43" height="9.11" fill="#f7e4ee"/>
<rect x="374.18" y="189.59" width="20.43" height="9.11" fill="#fcf5f9"/>
<rect x="455.9" y="189.59" width="20.43" height="9.11" fill="#fcfdfe"/>
<rect x="476.33" y="189.59" width="20.43" height="9.11" fill="#ffffff"/>
<rect x="496.76" y="189.59" width="20.43" height="9.11" fill="#eff4f9"/>
<rect x="517.19" y="189.59" width="20.43" height="9.11" fill="#f6f9fc"/>
<rect x="537.62" y="189.59" width="20.43" height="9.11" fill="#fefeff"/>
<rect x="558.05" y="189.59" width="20.43" height="9.11" fill="#f8fafc"/>
<rect x="578.48" y="189.59" width="20.43" height="9.11" fill="#eaf1f7"/>
<rect x="598.91" y="189.59" width="20.43" height="9.11" fill="#dee9f3"/>
<rect x="619.34" y="189.59" width="20.43" height="9.11" fill="#fdfefe"/>
<rect x="47.3" y="198.7" width="20.43" height="9.11" fill="#fcf4f8"/>
<rect x="67.73" y="198.7" width="20.43" height="9.11" fill="#fbf2f7"/>
<rect x="88.16" y="198.7" width="20.43" height="9.11" fill="#f9e8f1"/>
<rect x="108.59" y="198.7" width="20.43" height="9.11" fill="#fbf1f7"/>
<rect x="129.02" y="198.7" width="20.43" height="9.11" fill="#fdfafc"/>
<rect x="149.45" y="198.7" width="20.43" height="9.11" fill="#fcf4f8"/>
<rect x="169.88" y="198.7" width="20.43" height="9.11" fill="#fbf1f7"/>
<rect x="190.31" y="198.7" width="20.43" height="9.11" fill="#f6dfeb"/>
<rect x="210.74" y="198.7" width="20.43" height="9.11" fill="#fdf7fa"/>
<rect x="231.17" y="198.7" width="20.43" height="9.11" fill="#ffffff"/>
<rect x="251.6" y="198.7" width="20.43" height="9.11" fill="#f9e9f2"/>
<rect x="272.03" y="198.7" width="20.43" height="9.11" fill="#faedf4"/>
<rect x="292.46" y="198.7" width="20.43" height="9.11" fill="#faeef4"/>
<rect x="312.89" y="198.7" width="20.43" height="9.11" fill="#fffdfe"/>
<rect x="333.32" y="198.7" width="20.43" height="9.11" fill="#f8e6f0"/>
<rect x="353.75" y="198.7" width="20.43" height="9.11" fill="#fdf7fa"/>
<rect x="374.18" y="198.7" width="20.43" height="9.11" fill="#fdf7fa"/>
<rect x="394.61" y="198.7" width="20.43" height="9.11" fill="#fdf8fa"/>
<rect x="415.04" y="198.7" width="20.43" height="9.11" fill="#f9e8f1"/>
<rect x="435.47" y="198.7" width="20.43" height="9.11" fill="#faeef4"/>
<rect x="476.33" y="198.7" width="20.43" height="9.11" fill="#eff4f9"/>
<rect x="496.76" y="198.7" width="20.43" height="9.11" fill="#ebf2f8"/>
<rect x="517.19" y="198.7" width="20.43" height="9.11" fill="#eff4f9"/>
<rect x="537.62" y="198.7" width="20.43" height="9.11" fill="#e9f0f7"/>
<rect x="558.05" y="198.7" width="20.43" height="9.11" fill="#f8fafc"/>
<rect x="578.48" y="198.7" width="20.43" height="9.11" fill="#e9f0f7"/>
<rect x="598.91" y="198.7" width="20.43" height="9.11" fill="#f4f8fb"/>
<rect x="619.34" y="198.7" width="20.43" height="9.11" fill="#fbfcfd"/>
<rect x="47.3" y="207.81" width="20.43" height="9.11" fill="#faeef4"/>
<rect x="67.73" y="207.81" width="20.43" height="9.11" fill="#f9ebf2"/>
<rect x="88.16" y="207.81" width="20.43" height="9.11" fill="#f8e6f0"/>
<rect x="108.59" y="207.81" width="20.43" height="9.11" fill="#f9ebf2"/>
<rect x="129.02" y="207.81" width="20.43" height="9.11" fill="#fbf0f6"/>
<rect x="149.45" y="207.81" width="20.43" height="9.11" fill="#fcf3f8"/>
<rect x="169.88" y="207.81" width="20.43" height="9.11" fill="#fdf9fb"/>
<rect x="190.31" y="207.81" width="20.43" height="9.11" fill="#fefcfd"/>
<rect x="210.74" y="207.81" width="20.43" height="9.11" fill="#f6e0ec"/>
<rect x="231.17" y="207.81" width="20.43" height="9.11" fill="#fcf3f8"/>
<rect x="251.6" y="207.81" width="20.43" height="9.11" fill="#fdf7fa"/>
<rect x="272.03" y="207.81" width="20.43" height="9.11" fill="#fdfafc"/>
<rect x="292.46" y="207.81" width="20.43" height="9.11" fill="#fcf4f8"/>
<rect x="312.89" y="207.81" width="20.43" height="9.11" fill="#fcf3f8"/>
<rect x="333.32" y="207.81" width="20.43" height="9.11" fill="#f8e6f0"/>
<rect x="353.75" y="207.81" width="20.43" height="9.11" fill="#fbf0f6"/>
<rect x="374.18" y="207.81" width="20.43" height="9.11" fill="#fdf8fa"/>
<rect x="394.61" y="207.81" width="20.43" height="9.11" fill="#faedf4"/>
<rect x="415.04" y="207.81" width="20.43" height="9.11" fill="#f8e7f0"/>
<rect x="435.47" y="207.81" width="20.43" height="9.11" fill="#fdfafc"/>
<rect x="455.9" y="207.81" width="20.43" height="9.11" fill="#fdf7fa"/>
<rect x="496.76" y="207.81" width="20.43" height="9.11" fill="#eaf1f7"/>
<rect x="517.19" y="207.81" width="20.43" height="9.11" fill="#f0f5f9"/>
<rect x="537.62" y="207.81" width="20.43" height="9.11" fill="#f2f6fa"/>
<rect x="558.05" y="207.81" width="20.43" height="9.11" fill="#fefeff"/>
<rect x="578.48" y="207.81" width="20.43" height="9.11" fill="#f2f6fa"/>
<rect x="598.91" y="207.81" width="20.43" height="9.11" fill="#f5f8fb"/>
<rect x="619.34" y="207.81" width="20.43" height="9.11" fill="#fdfefe"/>
<rect x="47.3" y="216.92" width="20.43" height="9.11" fill="#fbf0f6"/>
<rect x="67.73" y="216.92" width="20.43" height="9.11" fill="#fdf7fa"/>
<rect x="88.16" y="216.92" width="20.43" height="9.11" fill="#fefbfc"/>
<rect x="108.59" y="216.92" width="20.43" height="9.11" fill="#fefbfc"/>
<rect x="129.02" y="216.92" width="20.43" height="9.11" fill="#faeff5"/>
<rect x="149.45" y="216.92" width="20.43" height="9.11" fill="#f6deeb"/>
<rect x="169.88" y="216.92" width="20.43" height="9.11" fill="#f6deeb"/>
<rect x="190.31" y="216.92" width="20.43" height="9.11" fill="#fdfafc"/>
<rect x="210.74" y="216.92" width="20.43" height="9.11" fill="#f8e6f0"/>
<rect x="231.17" y="216.92" width="20.43" height="9.11" fill="#fcf5f9"/>
<rect x="251.6" y="216.92" width="20.43" height="9.11" fill="#fcf4f8"/>
<rect x="272.03" y="216.92" width="20.43" height="9.11" fill="#f6e0ec"/>
<rect x="292.46" y="216.92" width="20.43" height="9.11" fill="#ffffff"/>
<rect x="312.89" y="216.92" width="20.43" height="9.11" fill="#fdfafc"/>
<rect x="333.32" y="216.92" width="20.43" height="9.11" fill="#fefbfc"/>
<rect x="353.75" y="216.92" width="20.43" height="9.11" fill="#fbf0f6"/>
<rect x="374.18" y="216.92" width="20.43" height="9.11" fill="#fbf0f6"/>
<rect x="394.61" y="216.92" width="20.43" height="9.11" fill="#ffffff"/>
<rect x="415.04" y="216.92" width="20.43" height="9.11" fill="#ffffff"/>
<rect x="435.47" y="216.92" width="20.43" height="9.11" fill="#f8e5ef"/>
<rect x="455.9" y="216.92" width="20.43" height="9.11" fill="#fdf7fa"/>
<rect x="476.33" y="216.92" width="20.43" height="9.11" fill="#fcf4f8"/>
<rect x="537.62" y="216.92" width="20.43" height="9.11" fill="#eef4f9"/>
<rect x="558.05" y="216.92" width="20.43" height="9.11" fill="#ebf2f8"/>
<rect x="578.48" y="216.92" width="20.43" height="9.11" fill="#ffffff"/>
<rect x="598.91" y="216.92" width="20.43" height="9.11" fill="#e9f0f7"/>
<rect x="619.34" y="216.92" width="20.43" height="9.11" fill="#ffffff"/>
<rect x="47.3" y="226.03" width="20.43" height="9.11" fill="#faeef4"/>
<rect x="67.73" y="226.03" width="20.43" height="9.11" fill="#f8e7f0"/>
<rect x="88.16" y="226.03" width="20.43" height="9.11" fill="#fcf4f8"/>
<rect x="108.59" y="226.03" width="20.43" height="9.11" fill="#fbf2f7"/>
<rect x="129.02" y="226.03" width="20.43" height="9.11" fill="#fbf1f7"/>
<rect x="149.45" y="226.03" width="20.43" height="9.11" fill="#faeef4"/>
<rect x="169.88" y="226.03" width="20.43" height="9.11" fill="#fbf2f7"/>
<rect x="190.31" y="226.03" width="20.43" height="9.11" fill="#fffdfe"/>
<rect x="210.74" y="226.03" width="20.43" height="9.11" fill="#fdfafc"/>
<rect x="231.17" y="226.03" width="20.43" height="9.11" fill="#faecf3"/>
<rect x="251.6" y="226.03" width="20.43" height="9.11" fill="#f5ddea"/>
<rect x="272.03" y="226.03" width="20.43" height="9.11" fill="#f8e7f0"/>
<rect x="292.46" y="226.03" width="20.43" height="9.11" fill="#ffffff"/>
<rect x="312.89" y="226.03" width="20.43" height="9.11" fill="#fcf3f8"/>
<rect x="333.32" y="226.03" width="20.43" height="9.11" fill="#faedf4"/>
<rect x="353.75" y="226.03" width="20.43" height="9.11" fill="#fcf5f9"/>
<rect x="374.18" y="226.03" width="20.43" height="9.11" fill="#fdf7fa"/>
<rect x="394.61" y="226.03" width="20.43" height="9.11" fill="#f6deeb"/>
<rect x="415.04" y="226.03" width="20.43" height="9.11" fill="#f7e3ee"/>
<rect x="435.47" y="226.03" width="20.43" height="9.11" fill="#faecf3"/>
<rect x="455.9" y="226.03" width="20.43" height="9.11" fill="#fcf4f8"/>
<rect x="476.33" y="226.03" width="20.43" height="9.11" fill="#fefcfd"/>
<rect x="537.62" y="226.03" width="20.43" height="9.11" fill="#f0f5f9"/>
<rect x="558.05" y="226.03" width="20.43" height="9.11" fill="#dce7f2"/>
<rect x="578.48" y="226.03" width="20.43" height="9.11" fill="#e7eff6"/>
<rect x="598.91" y="226.03" width="20.43" height="9.11" fill="#e4edf5"/>
<rect x="619.34" y="226.03" width="20.43" height="9.11" fill="#fbfcfd"/>
<rect x="47.3" y="235.14" width="20.43" height="9.11" fill="#fdfafc"/>
<rect x="67.73" y="235.14" width="20.43" height="9.11" fill="#fbf2f7"/>
<rect x="88.16" y="235.14" width="20.43" height="9.11" fill="#fbf0f6"/>
<rect x="108.59" y="235.14" width="20.43" height="9.11" fill="#f7e3ee"/>
<rect x="129.02" y="235.14" width="20.43" height="9.11" fill="#fdf8fa"/>
<rect x="149.45" y="235.14" width="20.43" height="9.11" fill="#fdf8fa"/>
<rect x="169.88" y="235.14" width="20.43" height="9.11" fill="#fcf5f9"/>
<rect x="190.31" y="235.14" width="20.43" height="9.11" fill="#faeef4"/>
<rect x="210.74" y="235.14" width="20.43" height="9.11" fill="#f7e1ed"/>
<rect x="231.17" y="235.14" width="20.43" height="9.11" fill="#fefcfd"/>
<rect x="251.6" y="235.14" width="20.43" height="9.11" fill="#fefcfd"/>
<rect x="272.03" y="235.14" width="20.43" height="9.11" fill="#fdf7fa"/>
<rect x="292.46" y="235.14" width="20.43" height="9.11" fill="#fbf1f7"/>
<rect x="312.89" y="235.14" width="20.43" height="9.11" fill="#fcf4f8"/>
<rect x="333.32" y="235.14" width="20.43" height="9.11" fill="#f8e5ef"/>
<rect x="353.75" y="235.14" width="20.43" height="9.11" fill="#f8e7f0"/>
<rect x="374.18" y="235.14" width="20.43" height="9.11" fill="#fbf2f7"/>
<rect x="394.61" y="235.14" width="20.43" height="9.11" fill="#f8e7f0"/>
<rect x="415.04" y="235.14" width="20.43" height="9.11" fill="#fdf8fa"/>
<rect x="435.47" y="235.14" width="20.43" height="9.11" fill="#f6e0ec"/>
<rect x="455.9" y="235.14" width="20.43" height="9.11" fill="#faeff5"/>
<rect x="476.33" y="235.14" width="20.43" height="9.11" fill="#fdf8fa"/>
<rect x="496.76" y="235.14" width="20.43" height="9.11" fill="#f8e6f0"/>
<rect x="517.19" y="235.14" width="20.43" height="9.11" fill="#f7e3ee"/>
<rect x="578.48" y="235.14" width="20.43" height="9.11" fill="#ebf2f8"/>
<rect x="598.91" y="235.14" width="20.43" height="9.11" fill="#fcfdfe"/>
<rect x="619.34" y="235.14" width="20.43" height="9.11" fill="#f9fbfd"/>
<rect x="47.3" y="244.25" width="20.43" height="9.11" fill="#fcf3f8"/>
<rect x="67.73" y="244.25" width="20.43" height="9.11" fill="#fefcfd"/>
<rect x="88.16" y="244.25" width="20.43" height="9.11" fill="#fdf9fb"/>
<rect x="108.59" y="244.25" width="20.43" height="9.11" fill="#ffffff"/>
<rect x="129.02" y="244.25" width="20.43" height="9.11" fill="#fdf8fa"/>
<rect x="149.45" y="244.25" width="20.43" height="9.11" fill="#fbf1f7"/>
<rect x="169.88" y="244.25" width="20.43" height="9.11" fill="#faeff5"/>
<rect x="190.31" y="244.25" width="20.43" height="9.11" fill="#fdf8fa"/>
<rect x="210.74" y="244.25" width="20.43" height="9.11" fill="#f5ddea"/>
<rect x="231.17" y="244.25" width="20.43" height="9.11" fill="#f9e8f1"/>
<rect x="251.6" y="244.25" width="20.43" height="9.11" fill="#fdfafc"/>
<rect x="272.03" y="244.25" width="20.43" height="9.11" fill="#f9e9f2"/>
<rect x="292.46" y="244.25" width="20.43" height="9.11" fill="#f9e9f2"/>
<rect x="312.89" y="244.25" width="20.43" height="9.11" fill="#fefcfd"/>
<rect x="333.32" y="244.25" width="20.43" height="9.11" fill="#fcf4f8"/>
<rect x="353.75" y="244.25" width="20.43" height="9.11" fill="#f8e7f0"/>
<rect x="374.18" y="244.25" width="20.43" height="9.11" fill="#f9ebf2"/>
<rect x="394.61" y="244.25" width="20.43" height="9.11" fill="#faedf4"/>
<rect x="415.04" y="244.25" width="20.43" height="9.11" fill="#f8e6f0"/>
<rect x="435.47" y="244.25" width="20.43" height="9.11" fill="#fcf4f8"/>
<rect x="455.9" y="244.25" width="20.43" height="9.11" fill="#f8e5ef"/>
<rect x="476.33" y="244.25" width="20.43" height="9.11" fill="#fefcfd"/>
<rect x="496.76" y="244.25" width="20.43" height="9.11" fill="#f9e9f2"/>
<rect x="517.19" y="244.25" width="20.43" height="9.11" fill="#f7e1ed"/>
<rect x="578.48" y="244.25" width="20.43" height="9.11" fill="#e2ecf4"/>
<rect x="598.91" y="244.25" width="20.43" height="9.11" fill="#f5f8fb"/>
<rect x="619.34" y="244.25" width="20.43" height="9.11" fill="#f4f8fb"/>
<rect x="47.3" y="253.36" width="20.43" height="9.11" fill="#fcf4f8"/>
<rect x="67.73" y="253.36" width="20.43" height="9.11" fill="#fbf0f6"/>
<rect x="88.16" y="253.36" width="20.43" height="9.11" fill="#f9ebf2"/>
<rect x="108.59" y="253.36" width="20.43" height="9.11" fill="#f9ebf2"/>
<rect x="129.02" y="253.36" width="20.43" height="9.11" fill="#f5ddea"/>
<rect x="149.45" y="253.36" width="20.43" height="9.11" fill="#f6e0ec"/>
<rect x="169.88" y="253.36" width="20.43" height="9.11" fill="#faeff5"/>
<rect x="190.31" y="253.36" width="20.43" height="9.11" fill="#faecf3"/>
<rect x="210.74" y="253.36" width="20.43" height="9.11" fill="#fffeff"/>
<rect x="231.17" y="253.36" width="20.43" height="9.11" fill="#faecf3"/>
<rect x="251.6" y="253.36" width="20.43" height="9.11" fill="#ffffff"/>
<rect x="272.03" y="253.36" width="20.43" height="9.11" fill="#fdf9fb"/>
<rect x="292.46" y="253.36" width="20.43" height="9.11" fill="#fbf0f6"/>
<rect x="312.89" y="253.36" width="20.43" height="9.11" fill="#fbf0f6"/>
<rect x="333.32" y="253.36" width="20.43" height="9.11" fill="#fefcfd"/>
<rect x="353.75" y="253.36" width="20.43" height="9.11" fill="#fdf7fa"/>
<rect x="374.18" y="253.36" width="20.43" height="9.11" fill="#fefcfd"/>
<rect x="394.61" y="253.36" width="20.43" height="9.11" fill="#fbf2f7"/>
<rect x="415.04" y="253.36" width="20.43" height="9.11" fill="#f8e5ef"/>
<rect x="435.47" y="253.36" width="20.43" height="9.11" fill="#fbf2f7"/>
<rect x="455.9" y="253.36" width="20.43" height="9.11" fill="#faedf4"/>
<rect x="476.33" y="253.36" width="20.43" height="9.11" fill="#fbf1f7"/>
<rect x="496.76" y="253.36" width="20.43" height="9.11" fill="#faedf4"/>
<rect x="517.19" y="253.36" width="20.43" height="9.11" fill="#faecf3"/>
<rect x="537.62" y="253.36" width="20.43" height="9.11" fill="#faecf3"/>
<rect x="558.05" y="253.36" width="20.43" height="9.11" fill="#f9e9f2"/>
<rect x="598.91" y="253.36" width="20.43" height="9.11" fill="#eef4f9"/>
<rect x="619.34" y="253.36" width="20.43" height="9.11" fill="#fafcfd"/>
<rect x="47.3" y="262.47" width="20.43" height="9.11" fill="#fdf7fa"/>
<rect x="67.73" y="262.47" width="20.43" height="9.11" fill="#fbf1f7"/>
<rect x="88.16" y="262.47" width="20.43" height="9.11" fill="#faecf3"/>
<rect x="108.59" y="262.47" width="20.43" height="9.11" fill="#ffffff"/>
<rect x="129.02" y="262.47" width="20.43" height="9.11" fill="#f7e3ee"/>
<rect x="149.45" y="262.47" width="20.43" height="9.11" fill="#f7e1ed"/>
<rect x="169.88" y="262.47" width="20.43" height="9.11" fill="#f9ebf2"/>
<rect x="190.31" y="262.47" width="20.43" height="9.11" fill="#fdf9fb"/>
<rect x="210.74" y="262.47" width="20.43" height="9.11" fill="#fdf9fb"/>
<rect x="231.17" y="262.47" width="20.43" height="9.11" fill="#fbf0f6"/>
<rect x="251.6" y="262.47" width="20.43" height="9.11" fill="#f5dae8"/>
<rect x="272.03" y="262.47" width="20.43" height="9.11" fill="#fcf4f8"/>
<rect x="292.46" y="262.47" width="20.43" height="9.11" fill="#fbf0f6"/>
<rect x="312.89" y="262.47" width="20.43" height="9.11" fill="#f5ddea"/>
<rect x="333.32" y="262.47" width="20.43" height="9.11" fill="#fbf2f7"/>
<rect x="353.75" y="262.47" width="20.43" height="9.11" fill="#faeff5"/>
<rect x="374.18" y="262.47" width="20.43" height="9.11" fill="#fbf0f6"/>
<rect x="394.61" y="262.47" width="20.43" height="9.11" fill="#fdf8fa"/>
<rect x="415.04" y="262.47" width="20.43" height="9.11" fill="#fefbfc"/>
<rect x="435.47" y="262.47" width="20.43" height="9.11" fill="#faedf4"/>
<rect x="455.9" y="262.47" width="20.43" height="9.11" fill="#fcf5f9"/>
<rect x="476.33" y="262.47" width="20.43" height="9.11" fill="#faeef4"/>
<rect x="496.76" y="262.47" width="20.43" height="9.11" fill="#faeff5"/>
<rect x="517.19" y="262.47" width="20.43" height="9.11" fill="#f7e1ed"/>
<rect x="537.62" y="262.47" width="20.43" height="9.11" fill="#fbf0f6"/>
<rect x="558.05" y="262.47" width="20.43" height="9.11" fill="#fefcfd"/>
<rect x="578.48" y="262.47" width="20.43" height="9.11" fill="#fdf9fb"/>
<rect x="619.34" y="262.47" width="20.43" height="9.11" fill="#ffffff"/>
<rect x="47.3" y="271.58" width="20.43" height="9.11" fill="#fbf2f7"/>
<rect x="67.73" y="271.58" width="20.43" height="9.11" fill="#fbf2f7"/>
<rect x="88.16" y="271.58" width="20.43" height="9.11" fill="#fdfafc"/>
<rect x="108.59" y="271.58" width="20.43" height="9.11" fill="#ffffff"/>
<rect x="129.02" y="271.58" width="20.43" height="9.11" fill="#fdf9fb"/>
<rect x="149.45" y="271.58" width="20.43" height="9.11" fill="#fdf9fb"/>
<rect x="169.88" y="271.58" width="20.43" height="9.11" fill="#fffdfe"/>
<rect x="190.31" y="271.58" width="20.43" height="9.11" fill="#fefcfd"/>
<rect x="210.74" y="271.58" width="20.43" height="9.11" fill="#fefcfd"/>
<rect x="231.17" y="271.58" width="20.43" height="9.11" fill="#ffffff"/>
<rect x="251.6" y="271.58" width="20.43" height="9.11" fill="#fdf7fa"/>
<rect x="272.03" y="271.58" width="20.43" height="9.11" fill="#ffffff"/>
<rect x="292.46" y="271.58" width="20.43" height="9.11" fill="#ffffff"/>
<rect x="312.89" y="271.58" width="20.43" height="9.11" fill="#ffffff"/>
<rect x="333.32" y="271.58" width="20.43" height="9.11" fill="#fffeff"/>
<rect x="353.75" y="271.58" width="20.43" height="9.11" fill="#fefbfc"/>
<rect x="374.18" y="271.58" width="20.43" height="9.11" fill="#fffeff"/>
<rect x="394.61" y="271.58" width="20.43" height="9.11" fill="#ffffff"/>
<rect x="415.04" y="271.58" width="20.43" height="9.11" fill="#fffeff"/>
<rect x="435.47" y="271.58" width="20.43" height="9.11" fill="#fffeff"/>
<rect x="455.9" y="271.58" width="20.43" height="9.11" fill="#ffffff"/>
<rect x="476.33" y="271.58" width="20.43" height="9.11" fill="#fefcfd"/>
<rect x="496.76" y="271.58" width="20.43" height="9.11" fill="#fefcfd"/>
<rect x="517.19" y="271.58" width="20.43" height="9.11" fill="#faeff5"/>
<rect x="537.62" y="271.58" width="20.43" height="9.11" fill="#fffeff"/>
<rect x="558.05" y="271.58" width="20.43" height="9.11" fill="#ffffff"/>
<rect x="578.48" y="271.58" width="20.43" height="9.11" fill="#ffffff"/>
<rect x="598.91" y="271.58" width="20.43" height="9.11" fill="#ffffff"/>
<line x1="67.73" y1="16.5" x2="67.73" y2="280.69" stroke="#d9d9d9" stroke-width="0.7"/>
<line x1="88.16" y1="16.5" x2="88.16" y2="280.69" stroke="#d9d9d9" stroke-width="0.7"/>
<line x1="108.59" y1="16.5" x2="108.59" y2="280.69" stroke="#d9d9d9" stroke-width="0.7"/>
<line x1="129.02" y1="16.5" x2="129.02" y2="280.69" stroke="#d9d9d9" stroke-width="0.7"/>
<line x1="149.45" y1="16.5" x2="149.45" y2="280.69" stroke="#d9d9d9" stroke-width="0.7"/>
<line x1="169.88" y1="16.5" x2="169.88" y2="280.69" stroke="#d9d9d9" stroke-width="0.7"/>
<line x1="190.31" y1="16.5" x2="190.31" y2="280.69" stroke="#d9d9d9" stroke-width="0.7"/>
<line x1="210.74" y1="16.5" x2="210.74" y2="280.69" stroke="#d9d9d9" stroke-width="0.7"/>
<line x1="231.17" y1="16.5" x2="231.17" y2="280.69" stroke="#d9d9d9" stroke-width="0.7"/>
<line x1="251.6" y1="16.5" x2="251.6" y2="280.69" stroke="#d9d9d9" stroke-width="0.7"/>
<line x1="272.03" y1="16.5" x2="272.03" y2="280.69" stroke="#d9d9d9" stroke-width="0.7"/>
<line x1="292.46" y1="16.5" x2="292.46" y2="280.69" stroke="#d9d9d9" stroke-width="0.7"/>
<line x1="312.89" y1="16.5" x2="312.89" y2="280.69" stroke="#d9d9d9" stroke-width="0.7"/>
<line x1="333.32" y1="16.5" x2="333.32" y2="280.69" stroke="#d9d9d9" stroke-width="0.7"/>
<line x1="353.75" y1="16.5" x2="353.75" y2="280.69" stroke="#d9d9d9" stroke-width="0.7"/>
<line x1="374.18" y1="16.5" x2="374.18" y2="280.69" stroke="#d9d9d9" stroke-width="0.7"/>
<line x1="394.61" y1="16.5" x2="394.61" y2="280.69" stroke="#d9d9d9" stroke-width="0.7"/>
<line x1="415.04" y1="16.5" x2="415.04" y2="280.69" stroke="#d9d9d9" stroke-width="0.7"/>
<line x1="435.47" y1="16.5" x2="435.47" y2="280.69" stroke="#d9d9d9" stroke-width="0.7"/>
<line x1="455.9" y1="16.5" x2="455.9" y2="280.69" stroke="#d9d9d9" stroke-width="0.7"/>
<line x1="476.33" y1="16.5" x2="476.33" y2="280.69" stroke="#d9d9d9" stroke-width="0.7"/>
<line x1="496.76" y1="16.5" x2="496.76" y2="280.69" stroke="#d9d9d9" stroke-width="0.7"/>
<line x1="517.19" y1="16.5" x2="517.19" y2="280.69" stroke="#d9d9d9" stroke-width="0.7"/>
<line x1="537.62" y1="16.5" x2="537.62" y2="280.69" stroke="#d9d9d9" stroke-width="0.7"/>
<line x1="558.05" y1="16.5" x2="558.05" y2="280.69" stroke="#d9d9d9" stroke-width="0.7"/>
<line x1="578.48" y1="16.5" x2="578.48" y2="280.69" stroke="#d9d9d9" stroke-width="0.7"/>
<line x1="598.91" y1="16.5" x2="598.91" y2="280.69" stroke="#d9d9d9" stroke-width="0.7"/>
<line x1="619.34" y1="16.5" x2="619.34" y2="280.69" stroke="#d9d9d9" stroke-width="0.7"/>
<line x1="47.3" y1="25.61" x2="639.77" y2="25.61" stroke="#e0e0e0" stroke-width="0.7"/>
<line x1="47.3" y1="34.72" x2="639.77" y2="34.72" stroke="#e0e0e0" stroke-width="0.7"/>
<line x1="47.3" y1="43.83" x2="639.77" y2="43.83" stroke="#e0e0e0" stroke-width="0.7"/>
<line x1="47.3" y1="52.94" x2="639.77" y2="52.94" stroke="#e0e0e0" stroke-width="0.7"/>
<line x1="47.3" y1="62.05" x2="639.77" y2="62.05" stroke="#e0e0e0" stroke-width="0.7"/>
<line x1="47.3" y1="71.16" x2="639.77" y2="71.16" stroke="#e0e0e0" stroke-width="0.7"/>
<line x1="47.3" y1="80.27" x2="639.77" y2="80.27" stroke="#e0e0e0" stroke-width="0.7"/>
<line x1="47.3" y1="89.38" x2="639.77" y2="89.38" stroke="#e0e0e0" stroke-width="0.7"/>
<line x1="47.3" y1="98.49" x2="639.77" y2="98.49" stroke="#e0e0e0" stroke-width="0.7"/>
<line x1="47.3" y1="107.6" x2="639.77" y2="107.6" stroke="#e0e0e0" stroke-width="0.7"/>
<line x1="47.3" y1="116.71" x2="639.77" y2="116.71" stroke="#e0e0e0" stroke-width="0.7"/>
<line x1="47.3" y1="125.82" x2="639.77" y2="125.82" stroke="#e0e0e0" stroke-width="0.7"/>
<line x1="47.3" y1="134.93" x2="639.77" y2="134.93" stroke="#e0e0e0" stroke-width="0.7"/>
<line x1="47.3" y1="144.04" x2="639.77" y2="144.04" stroke="#e0e0e0" stroke-width="0.7"/>
<line x1="47.3" y1="153.15" x2="639.77" y2="153.15" stroke="#e0e0e0" stroke-width="0.7"/>
<line x1="47.3" y1="162.26" x2="639.77" y2="162.26" stroke="#e0e0e0" stroke-width="0.7"/>
<line x1="47.3" y1="171.37" x2="639.77" y2="171.37" stroke="#e0e0e0" stroke-width="0.7"/>
<line x1="47.3" y1="180.48" x2="639.77" y2="180.48" stroke="#e0e0e0" stroke-width="0.7"/>
<line x1="47.3" y1="189.59" x2="639.77" y2="189.59" stroke="#e0e0e0" stroke-width="0.7"/>
<line x1="47.3" y1="198.7" x2="639.77" y2="198.7" stroke="#e0e0e0" stroke-width="0.7"/>
<line x1="47.3" y1="207.81" x2="639.77" y2="207.81" stroke="#e0e0e0" stroke-width="0.7"/>
<line x1="47.3" y1="216.92" x2="639.77" y2="216.92" stroke="#e0e0e0" stroke-width="0.7"/>
<line x1="47.3" y1="226.03" x2="639.77" y2="226.03" stroke="#e0e0e0" stroke-width="0.7"/>
<line x1="47.3" y1="235.14" x2="639.77" y2="235.14" stroke="#e0e0e0" stroke-width="0.7"/>
<line x1="47.3" y1="244.25" x2="639.77" y2="244.25" stroke="#e0e0e0" stroke-width="0.7"/>
<line x1="47.3" y1="253.36" x2="639.77" y2="253.36" stroke="#e0e0e0" stroke-width="0.7"/>
<line x1="47.3" y1="262.47" x2="639.77" y2="262.47" stroke="#e0e0e0" stroke-width="0.7"/>
<line x1="47.3" y1="271.58" x2="639.77" y2="271.58" stroke="#e0e0e0" stroke-width="0.7"/>
<text x="57.52" y="24.41" font-size="8.6" font-style="italic" fill="#1ea34e" text-anchor="middle" stroke="#1ea34e" stroke-width="0.14">1a</text>
<text x="139.23" y="23.81" font-size="5.7" fill="#4a4a4a" text-anchor="middle" stroke="#4a4a4a" stroke-width="0.2">1.6</text>
<text x="159.66" y="23.81" font-size="5.7" fill="#4a4a4a" text-anchor="middle" stroke="#4a4a4a" stroke-width="0.2">1.4</text>
<text x="180.09" y="23.81" font-size="5.7" fill="#4a4a4a" text-anchor="middle" stroke="#4a4a4a" stroke-width="0.2">1.5</text>
<text x="200.53" y="23.81" font-size="5.7" fill="#4a4a4a" text-anchor="middle" stroke="#4a4a4a" stroke-width="0.2">0.8</text>
<text x="220.96" y="23.81" font-size="5.7" fill="#4a4a4a" text-anchor="middle" stroke="#4a4a4a" stroke-width="0.2">0.9</text>
<text x="241.39" y="23.81" font-size="5.7" fill="#4a4a4a" text-anchor="middle" stroke="#4a4a4a" stroke-width="0.2">1.3</text>
<text x="261.81" y="23.81" font-size="5.7" fill="#4a4a4a" text-anchor="middle" stroke="#4a4a4a" stroke-width="0.2">2.1</text>
<text x="282.24" y="23.81" font-size="5.7" fill="#4a4a4a" text-anchor="middle" stroke="#4a4a4a" stroke-width="0.2">3.3</text>
<text x="302.67" y="23.81" font-size="5.7" fill="#4a4a4a" text-anchor="middle" stroke="#4a4a4a" stroke-width="0.2">1.5</text>
<text x="323.1" y="23.81" font-size="5.7" fill="#4a4a4a" text-anchor="middle" stroke="#4a4a4a" stroke-width="0.2">3.2</text>
<text x="343.53" y="23.81" font-size="5.7" fill="#4a4a4a" text-anchor="middle" stroke="#4a4a4a" stroke-width="0.2">1.1</text>
<text x="363.96" y="23.81" font-size="5.7" fill="#4a4a4a" text-anchor="middle" stroke="#4a4a4a" stroke-width="0.2">1.1</text>
<text x="384.39" y="23.81" font-size="5.7" fill="#4a4a4a" text-anchor="middle" stroke="#4a4a4a" stroke-width="0.2">2.6</text>
<text x="404.82" y="23.81" font-size="5.7" fill="#4a4a4a" text-anchor="middle" stroke="#4a4a4a" stroke-width="0.2">3.5</text>
<text x="425.25" y="23.81" font-size="5.7" fill="#4a4a4a" text-anchor="middle" stroke="#4a4a4a" stroke-width="0.2">2.0</text>
<text x="445.69" y="24.51" font-size="8.4" fill="#1a1a1a" text-anchor="middle" stroke="#1a1a1a" stroke-width="0.14">4.3</text>
<text x="466.12" y="23.81" font-size="5.7" fill="#4a4a4a" text-anchor="middle" stroke="#4a4a4a" stroke-width="0.2">2.8</text>
<text x="486.54" y="23.81" font-size="5.7" fill="#4a4a4a" text-anchor="middle" stroke="#4a4a4a" stroke-width="0.2">0.9</text>
<text x="506.97" y="23.81" font-size="5.7" fill="#4a4a4a" text-anchor="middle" stroke="#4a4a4a" stroke-width="0.2">0.9</text>
<text x="527.4" y="23.81" font-size="5.7" fill="#4a4a4a" text-anchor="middle" stroke="#4a4a4a" stroke-width="0.2">1.8</text>
<text x="547.84" y="23.81" font-size="5.7" fill="#4a4a4a" text-anchor="middle" stroke="#4a4a4a" stroke-width="0.2">1.9</text>
<text x="568.26" y="23.81" font-size="5.7" fill="#4a4a4a" text-anchor="middle" stroke="#4a4a4a" stroke-width="0.2">3.2</text>
<text x="588.69" y="23.81" font-size="5.7" fill="#4a4a4a" text-anchor="middle" stroke="#4a4a4a" stroke-width="0.2">1.3</text>
<text x="609.12" y="23.81" font-size="5.7" fill="#4a4a4a" text-anchor="middle" stroke="#4a4a4a" stroke-width="0.2">1.2</text>
<text x="629.55" y="23.81" font-size="5.7" fill="#4a4a4a" text-anchor="middle" stroke="#4a4a4a" stroke-width="0.2">0.7</text>
<text x="77.94" y="33.52" font-size="8.6" font-style="italic" fill="#1ea34e" text-anchor="middle" stroke="#1ea34e" stroke-width="0.14">1b</text>
<text x="139.23" y="32.92" font-size="5.7" fill="#4a4a4a" text-anchor="middle" stroke="#4a4a4a" stroke-width="0.2">1.5</text>
<text x="159.66" y="32.92" font-size="5.7" fill="#4a4a4a" text-anchor="middle" stroke="#4a4a4a" stroke-width="0.2">1.7</text>
<text x="180.09" y="32.92" font-size="5.7" fill="#4a4a4a" text-anchor="middle" stroke="#4a4a4a" stroke-width="0.2">1.4</text>
<text x="200.53" y="32.92" font-size="5.7" fill="#4a4a4a" text-anchor="middle" stroke="#4a4a4a" stroke-width="0.2">1.5</text>
<text x="220.96" y="32.92" font-size="5.7" fill="#4a4a4a" text-anchor="middle" stroke="#4a4a4a" stroke-width="0.2">0.4</text>
<text x="241.39" y="32.92" font-size="5.7" fill="#4a4a4a" text-anchor="middle" stroke="#4a4a4a" stroke-width="0.2">0.9</text>
<text x="261.81" y="32.92" font-size="5.7" fill="#4a4a4a" text-anchor="middle" stroke="#4a4a4a" stroke-width="0.2">2.8</text>
<text x="282.24" y="32.92" font-size="5.7" fill="#4a4a4a" text-anchor="middle" stroke="#4a4a4a" stroke-width="0.2">3.2</text>
<text x="302.67" y="32.92" font-size="5.7" fill="#4a4a4a" text-anchor="middle" stroke="#4a4a4a" stroke-width="0.2">1.7</text>
<text x="323.1" y="32.92" font-size="5.7" fill="#4a4a4a" text-anchor="middle" stroke="#4a4a4a" stroke-width="0.2">2.6</text>
<text x="343.53" y="32.92" font-size="5.7" fill="#4a4a4a" text-anchor="middle" stroke="#4a4a4a" stroke-width="0.2">1.0</text>
<text x="363.96" y="32.92" font-size="5.7" fill="#4a4a4a" text-anchor="middle" stroke="#4a4a4a" stroke-width="0.2">1.2</text>
<text x="384.39" y="32.92" font-size="5.7" fill="#4a4a4a" text-anchor="middle" stroke="#4a4a4a" stroke-width="0.2">2.8</text>
<text x="404.82" y="32.92" font-size="5.7" fill="#4a4a4a" text-anchor="middle" stroke="#4a4a4a" stroke-width="0.2">1.0</text>
<text x="425.25" y="32.92" font-size="5.7" fill="#4a4a4a" text-anchor="middle" stroke="#4a4a4a" stroke-width="0.2">0.6</text>
<text x="445.69" y="32.92" font-size="5.7" fill="#4a4a4a" text-anchor="middle" stroke="#4a4a4a" stroke-width="0.2">2.5</text>
<text x="466.12" y="32.92" font-size="5.7" fill="#4a4a4a" text-anchor="middle" stroke="#4a4a4a" stroke-width="0.2">3.0</text>
<text x="486.54" y="32.92" font-size="5.7" fill="#4a4a4a" text-anchor="middle" stroke="#4a4a4a" stroke-width="0.2">0.8</text>
<text x="506.97" y="32.92" font-size="5.7" fill="#4a4a4a" text-anchor="middle" stroke="#4a4a4a" stroke-width="0.2">1.8</text>
<text x="527.4" y="32.92" font-size="5.7" fill="#4a4a4a" text-anchor="middle" stroke="#4a4a4a" stroke-width="0.2">2.0</text>
<text x="547.84" y="32.92" font-size="5.7" fill="#4a4a4a" text-anchor="middle" stroke="#4a4a4a" stroke-width="0.2">1.2</text>
<text x="568.26" y="32.92" font-size="5.7" fill="#4a4a4a" text-anchor="middle" stroke="#4a4a4a" stroke-width="0.2">2.2</text>
<text x="588.69" y="32.92" font-size="5.7" fill="#4a4a4a" text-anchor="middle" stroke="#4a4a4a" stroke-width="0.2">1.2</text>
<text x="609.12" y="32.92" font-size="5.7" fill="#4a4a4a" text-anchor="middle" stroke="#4a4a4a" stroke-width="0.2">1.1</text>
<text x="629.55" y="32.92" font-size="5.7" fill="#4a4a4a" text-anchor="middle" stroke="#4a4a4a" stroke-width="0.2">0.3</text>
<text x="98.38" y="42.63" font-size="8.6" font-style="italic" fill="#1ea34e" text-anchor="middle" stroke="#1ea34e" stroke-width="0.14">1c</text>
<text x="139.23" y="42.03" font-size="5.7" fill="#4a4a4a" text-anchor="middle" stroke="#4a4a4a" stroke-width="0.2">1.8</text>
<text x="159.66" y="42.03" font-size="5.7" fill="#4a4a4a" text-anchor="middle" stroke="#4a4a4a" stroke-width="0.2">1.4</text>
<text x="180.09" y="42.03" font-size="5.7" fill="#4a4a4a" text-anchor="middle" stroke="#4a4a4a" stroke-width="0.2">1.8</text>
<text x="200.53" y="42.73" font-size="8.4" fill="#1a1a1a" text-anchor="middle" stroke="#1a1a1a" stroke-width="0.14">5.0</text>
<ellipse cx="200.53" cy="38.98" rx="9.2" ry="4.4" fill="none" stroke="#2fa6e0" stroke-width="1.1"/>
<text x="220.96" y="42.03" font-size="5.7" fill="#4a4a4a" text-anchor="middle" stroke="#4a4a4a" stroke-width="0.2">1.5</text>
<text x="241.39" y="42.03" font-size="5.7" fill="#4a4a4a" text-anchor="middle" stroke="#4a4a4a" stroke-width="0.2">1.9</text>
<text x="261.81" y="42.03" font-size="5.7" fill="#4a4a4a" text-anchor="middle" stroke="#4a4a4a" stroke-width="0.2">0.8</text>
<text x="282.24" y="42.03" font-size="5.7" fill="#4a4a4a" text-anchor="middle" stroke="#4a4a4a" stroke-width="0.2">1.2</text>
<text x="302.67" y="42.03" font-size="5.7" fill="#4a4a4a" text-anchor="middle" stroke="#4a4a4a" stroke-width="0.2">0.3</text>
<text x="323.1" y="42.03" font-size="5.7" fill="#4a4a4a" text-anchor="middle" stroke="#4a4a4a" stroke-width="0.2">2.0</text>
<text x="343.53" y="42.03" font-size="5.7" fill="#4a4a4a" text-anchor="middle" stroke="#4a4a4a" stroke-width="0.2">1.8</text>
<text x="363.96" y="42.03" font-size="5.7" fill="#4a4a4a" text-anchor="middle" stroke="#4a4a4a" stroke-width="0.2">1.9</text>
<text x="384.39" y="42.03" font-size="5.7" fill="#4a4a4a" text-anchor="middle" stroke="#4a4a4a" stroke-width="0.2">1.6</text>
<text x="404.82" y="42.03" font-size="5.7" fill="#4a4a4a" text-anchor="middle" stroke="#4a4a4a" stroke-width="0.2">1.6</text>
<text x="425.25" y="42.03" font-size="5.7" fill="#4a4a4a" text-anchor="middle" stroke="#4a4a4a" stroke-width="0.2">1.3</text>
<text x="445.69" y="42.73" font-size="8.4" fill="#1a1a1a" text-anchor="middle" stroke="#1a1a1a" stroke-width="0.14">4.1</text>
<text x="466.12" y="42.03" font-size="5.7" fill="#4a4a4a" text-anchor="middle" stroke="#4a4a4a" stroke-width="0.2">1.1</text>
<text x="486.54" y="42.03" font-size="5.7" fill="#4a4a4a" text-anchor="middle" stroke="#4a4a4a" stroke-width="0.2">2.8</text>
<text x="506.97" y="42.03" font-size="5.7" fill="#4a4a4a" text-anchor="middle" stroke="#4a4a4a" stroke-width="0.2">3.4</text>
<text x="527.4" y="42.03" font-size="5.7" fill="#4a4a4a" text-anchor="middle" stroke="#4a4a4a" stroke-width="0.2">1.7</text>
<text x="547.84" y="42.03" font-size="5.7" fill="#4a4a4a" text-anchor="middle" stroke="#4a4a4a" stroke-width="0.2">1.3</text>
<text x="568.26" y="42.03" font-size="5.7" fill="#4a4a4a" text-anchor="middle" stroke="#4a4a4a" stroke-width="0.2">1.9</text>
<text x="588.69" y="42.03" font-size="5.7" fill="#4a4a4a" text-anchor="middle" stroke="#4a4a4a" stroke-width="0.2">1.5</text>
<text x="609.12" y="42.03" font-size="5.7" fill="#4a4a4a" text-anchor="middle" stroke="#4a4a4a" stroke-width="0.2">1.0</text>
<text x="629.55" y="42.03" font-size="5.7" fill="#4a4a4a" text-anchor="middle" stroke="#4a4a4a" stroke-width="0.2">0.8</text>
<text x="118.81" y="51.74" font-size="8.6" font-style="italic" fill="#1ea34e" text-anchor="middle" stroke="#1ea34e" stroke-width="0.14">1d</text>
<text x="139.23" y="51.14" font-size="5.7" fill="#4a4a4a" text-anchor="middle" stroke="#4a4a4a" stroke-width="0.2">3.0</text>
<text x="159.66" y="51.14" font-size="5.7" fill="#4a4a4a" text-anchor="middle" stroke="#4a4a4a" stroke-width="0.2">2.5</text>
<text x="180.09" y="51.84" font-size="8.4" fill="#1a1a1a" text-anchor="middle" stroke="#1a1a1a" stroke-width="0.14">4.5</text>
<text x="200.53" y="51.14" font-size="5.7" fill="#4a4a4a" text-anchor="middle" stroke="#4a4a4a" stroke-width="0.2">1.9</text>
<text x="220.96" y="51.14" font-size="5.7" fill="#4a4a4a" text-anchor="middle" stroke="#4a4a4a" stroke-width="0.2">1.9</text>
<text x="241.39" y="51.14" font-size="5.7" fill="#4a4a4a" text-anchor="middle" stroke="#4a4a4a" stroke-width="0.2">1.6</text>
<text x="261.81" y="51.14" font-size="5.7" fill="#4a4a4a" text-anchor="middle" stroke="#4a4a4a" stroke-width="0.2">2.8</text>
<text x="282.24" y="51.14" font-size="5.7" fill="#4a4a4a" text-anchor="middle" stroke="#4a4a4a" stroke-width="0.2">0.7</text>
<text x="302.67" y="51.14" font-size="5.7" fill="#4a4a4a" text-anchor="middle" stroke="#4a4a4a" stroke-width="0.2">1.5</text>
<text x="323.1" y="51.14" font-size="5.7" fill="#4a4a4a" text-anchor="middle" stroke="#4a4a4a" stroke-width="0.2">1.6</text>
<text x="343.53" y="51.84" font-size="8.4" fill="#1a1a1a" text-anchor="middle" stroke="#1a1a1a" stroke-width="0.14">5.0</text>
<text x="363.96" y="51.84" font-size="8.4" fill="#1a1a1a" text-anchor="middle" stroke="#1a1a1a" stroke-width="0.14">4.9</text>
<text x="384.39" y="51.14" font-size="5.7" fill="#4a4a4a" text-anchor="middle" stroke="#4a4a4a" stroke-width="0.2">2.6</text>
<text x="404.82" y="51.14" font-size="5.7" fill="#4a4a4a" text-anchor="middle" stroke="#4a4a4a" stroke-width="0.2">1.2</text>
<text x="425.25" y="51.14" font-size="5.7" fill="#4a4a4a" text-anchor="middle" stroke="#4a4a4a" stroke-width="0.2">1.3</text>
<text x="445.69" y="51.14" font-size="5.7" fill="#4a4a4a" text-anchor="middle" stroke="#4a4a4a" stroke-width="0.2">3.2</text>
<text x="466.12" y="51.14" font-size="5.7" fill="#4a4a4a" text-anchor="middle" stroke="#4a4a4a" stroke-width="0.2">0.9</text>
<text x="486.54" y="51.14" font-size="5.7" fill="#4a4a4a" text-anchor="middle" stroke="#4a4a4a" stroke-width="0.2">2.0</text>
<text x="506.97" y="51.14" font-size="5.7" fill="#4a4a4a" text-anchor="middle" stroke="#4a4a4a" stroke-width="0.2">1.5</text>
<text x="527.4" y="51.14" font-size="5.7" fill="#4a4a4a" text-anchor="middle" stroke="#4a4a4a" stroke-width="0.2">1.7</text>
<text x="547.84" y="51.14" font-size="5.7" fill="#4a4a4a" text-anchor="middle" stroke="#4a4a4a" stroke-width="0.2">1.4</text>
<text x="568.26" y="51.14" font-size="5.7" fill="#4a4a4a" text-anchor="middle" stroke="#4a4a4a" stroke-width="0.2">1.2</text>
<text x="588.69" y="51.14" font-size="5.7" fill="#4a4a4a" text-anchor="middle" stroke="#4a4a4a" stroke-width="0.2">1.2</text>
<text x="609.12" y="51.14" font-size="5.7" fill="#4a4a4a" text-anchor="middle" stroke="#4a4a4a" stroke-width="0.2">2.4</text>
<text x="629.55" y="51.14" font-size="5.7" fill="#4a4a4a" text-anchor="middle" stroke="#4a4a4a" stroke-width="0.2">0.4</text>
<text x="57.52" y="60.25" font-size="5.7" fill="#4a4a4a" text-anchor="middle" stroke="#4a4a4a" stroke-width="0.2">2.5</text>
<text x="77.94" y="60.25" font-size="5.7" fill="#4a4a4a" text-anchor="middle" stroke="#4a4a4a" stroke-width="0.2">3.2</text>
<text x="98.38" y="60.25" font-size="5.7" fill="#4a4a4a" text-anchor="middle" stroke="#4a4a4a" stroke-width="0.2">3.2</text>
<text x="118.81" y="60.25" font-size="5.7" fill="#4a4a4a" text-anchor="middle" stroke="#4a4a4a" stroke-width="0.2">3.0</text>
<text x="139.23" y="60.85" font-size="8.6" font-style="italic" fill="#1ea34e" text-anchor="middle" stroke="#1ea34e" stroke-width="0.14">2a</text>
<text x="200.53" y="60.25" font-size="5.7" fill="#4a4a4a" text-anchor="middle" stroke="#4a4a4a" stroke-width="0.2">3.7</text>
<text x="220.96" y="60.25" font-size="5.7" fill="#4a4a4a" text-anchor="middle" stroke="#4a4a4a" stroke-width="0.2">1.8</text>
<text x="241.39" y="60.25" font-size="5.7" fill="#4a4a4a" text-anchor="middle" stroke="#4a4a4a" stroke-width="0.2">1.8</text>
<text x="261.81" y="60.25" font-size="5.7" fill="#4a4a4a" text-anchor="middle" stroke="#4a4a4a" stroke-width="0.2">1.9</text>
<text x="282.24" y="60.25" font-size="5.7" fill="#4a4a4a" text-anchor="middle" stroke="#4a4a4a" stroke-width="0.2">2.4</text>
<text x="302.67" y="60.25" font-size="5.7" fill="#4a4a4a" text-anchor="middle" stroke="#4a4a4a" stroke-width="0.2">1.3</text>
<text x="323.1" y="60.25" font-size="5.7" fill="#4a4a4a" text-anchor="middle" stroke="#4a4a4a" stroke-width="0.2">0.9</text>
<text x="343.53" y="60.25" font-size="5.7" fill="#4a4a4a" text-anchor="middle" stroke="#4a4a4a" stroke-width="0.2">1.7</text>
<text x="363.96" y="60.25" font-size="5.7" fill="#4a4a4a" text-anchor="middle" stroke="#4a4a4a" stroke-width="0.2">1.3</text>
<text x="384.39" y="60.25" font-size="5.7" fill="#4a4a4a" text-anchor="middle" stroke="#4a4a4a" stroke-width="0.2">3.0</text>
<text x="404.82" y="60.25" font-size="5.7" fill="#4a4a4a" text-anchor="middle" stroke="#4a4a4a" stroke-width="0.2">1.6</text>
<text x="425.25" y="60.25" font-size="5.7" fill="#4a4a4a" text-anchor="middle" stroke="#4a4a4a" stroke-width="0.2">1.7</text>
<text x="445.69" y="60.25" font-size="5.7" fill="#4a4a4a" text-anchor="middle" stroke="#4a4a4a" stroke-width="0.2">1.6</text>
<text x="466.12" y="60.25" font-size="5.7" fill="#4a4a4a" text-anchor="middle" stroke="#4a4a4a" stroke-width="0.2">2.2</text>
<text x="486.54" y="60.95" font-size="8.4" fill="#1a1a1a" text-anchor="middle" stroke="#1a1a1a" stroke-width="0.14">4.4</text>
<text x="506.97" y="60.95" font-size="8.4" fill="#1a1a1a" text-anchor="middle" stroke="#1a1a1a" stroke-width="0.14">4.1</text>
<text x="527.4" y="60.25" font-size="5.7" fill="#4a4a4a" text-anchor="middle" stroke="#4a4a4a" stroke-width="0.2">3.6</text>
<text x="547.84" y="60.25" font-size="5.7" fill="#4a4a4a" text-anchor="middle" stroke="#4a4a4a" stroke-width="0.2">2.3</text>
<text x="568.26" y="60.25" font-size="5.7" fill="#4a4a4a" text-anchor="middle" stroke="#4a4a4a" stroke-width="0.2">1.4</text>
<text x="588.69" y="60.25" font-size="5.7" fill="#4a4a4a" text-anchor="middle" stroke="#4a4a4a" stroke-width="0.2">3.2</text>
<text x="609.12" y="60.25" font-size="5.7" fill="#4a4a4a" text-anchor="middle" stroke="#4a4a4a" stroke-width="0.2">0.9</text>
<text x="629.55" y="60.25" font-size="5.7" fill="#4a4a4a" text-anchor="middle" stroke="#4a4a4a" stroke-width="0.2">0.1</text>
<text x="57.52" y="69.36" font-size="5.7" fill="#4a4a4a" text-anchor="middle" stroke="#4a4a4a" stroke-width="0.2">2.3</text>
<text x="77.94" y="69.36" font-size="5.7" fill="#4a4a4a" text-anchor="middle" stroke="#4a4a4a" stroke-width="0.2">1.4</text>
<text x="98.38" y="70.06" font-size="8.4" fill="#1a1a1a" text-anchor="middle" stroke="#1a1a1a" stroke-width="0.14">3.9</text>
<ellipse cx="98.38" cy="66.3" rx="9.2" ry="4.4" fill="none" stroke="#c8303c" stroke-width="1.1"/>
<text x="118.81" y="70.06" font-size="8.4" fill="#1a1a1a" text-anchor="middle" stroke="#1a1a1a" stroke-width="0.14">3.9</text>
<text x="159.66" y="69.96" font-size="8.6" font-style="italic" fill="#1ea34e" text-anchor="middle" stroke="#1ea34e" stroke-width="0.14">2b</text>
<text x="200.53" y="70.06" font-size="8.4" fill="#1a1a1a" text-anchor="middle" stroke="#1a1a1a" stroke-width="0.14">4.2</text>
<text x="220.96" y="69.36" font-size="5.7" fill="#4a4a4a" text-anchor="middle" stroke="#4a4a4a" stroke-width="0.2">1.6</text>
<text x="241.39" y="69.36" font-size="5.7" fill="#4a4a4a" text-anchor="middle" stroke="#4a4a4a" stroke-width="0.2">1.6</text>
<text x="261.81" y="69.36" font-size="5.7" fill="#4a4a4a" text-anchor="middle" stroke="#4a4a4a" stroke-width="0.2">2.4</text>
<text x="282.24" y="69.36" font-size="5.7" fill="#4a4a4a" text-anchor="middle" stroke="#4a4a4a" stroke-width="0.2">1.3</text>
<text x="302.67" y="69.36" font-size="5.7" fill="#4a4a4a" text-anchor="middle" stroke="#4a4a4a" stroke-width="0.2">0.8</text>
<text x="323.1" y="69.36" font-size="5.7" fill="#4a4a4a" text-anchor="middle" stroke="#4a4a4a" stroke-width="0.2">1.5</text>
<text x="343.53" y="69.36" font-size="5.7" fill="#4a4a4a" text-anchor="middle" stroke="#4a4a4a" stroke-width="0.2">1.9</text>
<text x="363.96" y="69.36" font-size="5.7" fill="#4a4a4a" text-anchor="middle" stroke="#4a4a4a" stroke-width="0.2">1.1</text>
<text x="384.39" y="69.36" font-size="5.7" fill="#4a4a4a" text-anchor="middle" stroke="#4a4a4a" stroke-width="0.2">2.2</text>
<text x="404.82" y="69.36" font-size="5.7" fill="#4a4a4a" text-anchor="middle" stroke="#4a4a4a" stroke-width="0.2">1.0</text>
<text x="425.25" y="69.36" font-size="5.7" fill="#4a4a4a" text-anchor="middle" stroke="#4a4a4a" stroke-width="0.2">1.4</text>
<text x="445.69" y="69.36" font-size="5.7" fill="#4a4a4a" text-anchor="middle" stroke="#4a4a4a" stroke-width="0.2">1.1</text>
<text x="466.12" y="69.36" font-size="5.7" fill="#4a4a4a" text-anchor="middle" stroke="#4a4a4a" stroke-width="0.2">2.4</text>
<text x="486.54" y="69.36" font-size="5.7" fill="#4a4a4a" text-anchor="middle" stroke="#4a4a4a" stroke-width="0.2">3.8</text>
<text x="506.97" y="69.36" font-size="5.7" fill="#4a4a4a" text-anchor="middle" stroke="#4a4a4a" stroke-width="0.2">4.2</text>
<text x="527.4" y="70.06" font-size="8.4" fill="#1a1a1a" text-anchor="middle" stroke="#1a1a1a" stroke-width="0.14">4.6</text>
<text x="547.84" y="69.36" font-size="5.7" fill="#4a4a4a" text-anchor="middle" stroke="#4a4a4a" stroke-width="0.2">2.6</text>
<text x="568.26" y="69.36" font-size="5.7" fill="#4a4a4a" text-anchor="middle" stroke="#4a4a4a" stroke-width="0.2">1.9</text>
<text x="588.69" y="69.36" font-size="5.7" fill="#4a4a4a" text-anchor="middle" stroke="#4a4a4a" stroke-width="0.2">2.8</text>
<text x="609.12" y="69.36" font-size="5.7" fill="#4a4a4a" text-anchor="middle" stroke="#4a4a4a" stroke-width="0.2">1.9</text>
<text x="629.55" y="69.36" font-size="5.7" fill="#4a4a4a" text-anchor="middle" stroke="#4a4a4a" stroke-width="0.2">0.7</text>
<text x="57.52" y="78.47" font-size="5.7" fill="#4a4a4a" text-anchor="middle" stroke="#4a4a4a" stroke-width="0.2">1.4</text>
<text x="77.94" y="78.47" font-size="5.7" fill="#4a4a4a" text-anchor="middle" stroke="#4a4a4a" stroke-width="0.2">0.5</text>
<text x="98.38" y="78.47" font-size="5.7" fill="#4a4a4a" text-anchor="middle" stroke="#4a4a4a" stroke-width="0.2">1.6</text>
<text x="118.81" y="78.47" font-size="5.7" fill="#4a4a4a" text-anchor="middle" stroke="#4a4a4a" stroke-width="0.2">3.6</text>
<text x="180.09" y="79.07" font-size="8.6" font-style="italic" fill="#1ea34e" text-anchor="middle" stroke="#1ea34e" stroke-width="0.14">2c</text>
<text x="200.53" y="78.47" font-size="5.7" fill="#4a4a4a" text-anchor="middle" stroke="#4a4a4a" stroke-width="0.2">3.5</text>
<text x="220.96" y="78.47" font-size="5.7" fill="#4a4a4a" text-anchor="middle" stroke="#4a4a4a" stroke-width="0.2">0.7</text>
<text x="241.39" y="78.47" font-size="5.7" fill="#4a4a4a" text-anchor="middle" stroke="#4a4a4a" stroke-width="0.2">0.8</text>
<text x="261.81" y="78.47" font-size="5.7" fill="#4a4a4a" text-anchor="middle" stroke="#4a4a4a" stroke-width="0.2">1.9</text>
<text x="282.24" y="78.47" font-size="5.7" fill="#4a4a4a" text-anchor="middle" stroke="#4a4a4a" stroke-width="0.2">1.6</text>
<text x="302.67" y="78.47" font-size="5.7" fill="#4a4a4a" text-anchor="middle" stroke="#4a4a4a" stroke-width="0.2">0.6</text>
<text x="323.1" y="78.47" font-size="5.7" fill="#4a4a4a" text-anchor="middle" stroke="#4a4a4a" stroke-width="0.2">1.1</text>
<text x="343.53" y="78.47" font-size="5.7" fill="#4a4a4a" text-anchor="middle" stroke="#4a4a4a" stroke-width="0.2">4.0</text>
<text x="363.96" y="78.47" font-size="5.7" fill="#4a4a4a" text-anchor="middle" stroke="#4a4a4a" stroke-width="0.2">2.5</text>
<text x="384.39" y="78.47" font-size="5.7" fill="#4a4a4a" text-anchor="middle" stroke="#4a4a4a" stroke-width="0.2">1.9</text>
<text x="404.82" y="78.47" font-size="5.7" fill="#4a4a4a" text-anchor="middle" stroke="#4a4a4a" stroke-width="0.2">1.7</text>
<text x="425.25" y="78.47" font-size="5.7" fill="#4a4a4a" text-anchor="middle" stroke="#4a4a4a" stroke-width="0.2">1.9</text>
<text x="445.69" y="78.47" font-size="5.7" fill="#4a4a4a" text-anchor="middle" stroke="#4a4a4a" stroke-width="0.2">0.8</text>
<text x="466.12" y="78.47" font-size="5.7" fill="#4a4a4a" text-anchor="middle" stroke="#4a4a4a" stroke-width="0.2">1.5</text>
<text x="486.54" y="78.47" font-size="5.7" fill="#4a4a4a" text-anchor="middle" stroke="#4a4a4a" stroke-width="0.2">3.6</text>
<text x="506.97" y="78.47" font-size="5.7" fill="#4a4a4a" text-anchor="middle" stroke="#4a4a4a" stroke-width="0.2">1.3</text>
<text x="527.4" y="78.47" font-size="5.7" fill="#4a4a4a" text-anchor="middle" stroke="#4a4a4a" stroke-width="0.2">2.1</text>
<text x="547.84" y="78.47" font-size="5.7" fill="#4a4a4a" text-anchor="middle" stroke="#4a4a4a" stroke-width="0.2">2.3</text>
<text x="568.26" y="78.47" font-size="5.7" fill="#4a4a4a" text-anchor="middle" stroke="#4a4a4a" stroke-width="0.2">2.3</text>
<text x="588.69" y="78.47" font-size="5.7" fill="#4a4a4a" text-anchor="middle" stroke="#4a4a4a" stroke-width="0.2">1.6</text>
<text x="609.12" y="78.47" font-size="5.7" fill="#4a4a4a" text-anchor="middle" stroke="#4a4a4a" stroke-width="0.2">2.2</text>
<text x="629.55" y="78.47" font-size="5.7" fill="#4a4a4a" text-anchor="middle" stroke="#4a4a4a" stroke-width="0.2">0.3</text>
<text x="57.52" y="87.58" font-size="5.7" fill="#4a4a4a" text-anchor="middle" stroke="#4a4a4a" stroke-width="0.2">1.0</text>
<text x="77.94" y="87.58" font-size="5.7" fill="#4a4a4a" text-anchor="middle" stroke="#4a4a4a" stroke-width="0.2">1.4</text>
<text x="98.38" y="87.58" font-size="5.7" fill="#4a4a4a" text-anchor="middle" stroke="#4a4a4a" stroke-width="0.2">1.7</text>
<text x="118.81" y="87.58" font-size="5.7" fill="#4a4a4a" text-anchor="middle" stroke="#4a4a4a" stroke-width="0.2">1.5</text>
<text x="139.23" y="87.58" font-size="5.7" fill="#4a4a4a" text-anchor="middle" stroke="#4a4a4a" stroke-width="0.2">1.2</text>
<text x="159.66" y="87.58" font-size="5.7" fill="#4a4a4a" text-anchor="middle" stroke="#4a4a4a" stroke-width="0.2">1.8</text>
<text x="180.09" y="87.58" font-size="5.7" fill="#4a4a4a" text-anchor="middle" stroke="#4a4a4a" stroke-width="0.2">2.2</text>
<text x="200.53" y="88.18" font-size="8.6" font-style="italic" fill="#1ea34e" text-anchor="middle" stroke="#1ea34e" stroke-width="0.14">3a</text>
<text x="220.96" y="87.58" font-size="5.7" fill="#4a4a4a" text-anchor="middle" stroke="#4a4a4a" stroke-width="0.2">2.6</text>
<text x="241.39" y="87.58" font-size="5.7" fill="#4a4a4a" text-anchor="middle" stroke="#4a4a4a" stroke-width="0.2">2.8</text>
<text x="261.81" y="87.58" font-size="5.7" fill="#4a4a4a" text-anchor="middle" stroke="#4a4a4a" stroke-width="0.2">0.9</text>
<text x="282.24" y="87.58" font-size="5.7" fill="#4a4a4a" text-anchor="middle" stroke="#4a4a4a" stroke-width="0.2">1.9</text>
<text x="302.67" y="87.58" font-size="5.7" fill="#4a4a4a" text-anchor="middle" stroke="#4a4a4a" stroke-width="0.2">2.7</text>
<text x="323.1" y="87.58" font-size="5.7" fill="#4a4a4a" text-anchor="middle" stroke="#4a4a4a" stroke-width="0.2">2.9</text>
<text x="343.53" y="87.58" font-size="5.7" fill="#4a4a4a" text-anchor="middle" stroke="#4a4a4a" stroke-width="0.2">0.9</text>
<text x="363.96" y="87.58" font-size="5.7" fill="#4a4a4a" text-anchor="middle" stroke="#4a4a4a" stroke-width="0.2">1.6</text>
<text x="384.39" y="87.58" font-size="5.7" fill="#4a4a4a" text-anchor="middle" stroke="#4a4a4a" stroke-width="0.2">0.7</text>
<text x="404.82" y="87.58" font-size="5.7" fill="#4a4a4a" text-anchor="middle" stroke="#4a4a4a" stroke-width="0.2">0.3</text>
<text x="425.25" y="87.58" font-size="5.7" fill="#4a4a4a" text-anchor="middle" stroke="#4a4a4a" stroke-width="0.2">2.6</text>
<text x="445.69" y="87.58" font-size="5.7" fill="#4a4a4a" text-anchor="middle" stroke="#4a4a4a" stroke-width="0.2">2.5</text>
<text x="466.12" y="87.58" font-size="5.7" fill="#4a4a4a" text-anchor="middle" stroke="#4a4a4a" stroke-width="0.2">1.4</text>
<text x="486.54" y="87.58" font-size="5.7" fill="#4a4a4a" text-anchor="middle" stroke="#4a4a4a" stroke-width="0.2">2.9</text>
<text x="506.97" y="87.58" font-size="5.7" fill="#4a4a4a" text-anchor="middle" stroke="#4a4a4a" stroke-width="0.2">2.8</text>
<text x="527.4" y="87.58" font-size="5.7" fill="#4a4a4a" text-anchor="middle" stroke="#4a4a4a" stroke-width="0.2">2.9</text>
<text x="547.84" y="87.58" font-size="5.7" fill="#4a4a4a" text-anchor="middle" stroke="#4a4a4a" stroke-width="0.2">1.4</text>
<text x="568.26" y="87.58" font-size="5.7" fill="#4a4a4a" text-anchor="middle" stroke="#4a4a4a" stroke-width="0.2">1.8</text>
<text x="588.69" y="87.58" font-size="5.7" fill="#4a4a4a" text-anchor="middle" stroke="#4a4a4a" stroke-width="0.2">2.7</text>
<text x="609.12" y="87.58" font-size="5.7" fill="#4a4a4a" text-anchor="middle" stroke="#4a4a4a" stroke-width="0.2">1.8</text>
<text x="629.55" y="87.58" font-size="5.7" fill="#4a4a4a" text-anchor="middle" stroke="#4a4a4a" stroke-width="0.2">0.2</text>
<text x="57.52" y="96.69" font-size="5.7" fill="#4a4a4a" text-anchor="middle" stroke="#4a4a4a" stroke-width="0.2">2.5</text>
<text x="77.94" y="96.69" font-size="5.7" fill="#4a4a4a" text-anchor="middle" stroke="#4a4a4a" stroke-width="0.2">1.0</text>
<text x="98.38" y="96.69" font-size="5.7" fill="#4a4a4a" text-anchor="middle" stroke="#4a4a4a" stroke-width="0.2">1.7</text>
<text x="118.81" y="96.69" font-size="5.7" fill="#4a4a4a" text-anchor="middle" stroke="#4a4a4a" stroke-width="0.2">1.1</text>
<text x="139.23" y="96.69" font-size="5.7" fill="#4a4a4a" text-anchor="middle" stroke="#4a4a4a" stroke-width="0.2">0.7</text>
<text x="159.66" y="96.69" font-size="5.7" fill="#4a4a4a" text-anchor="middle" stroke="#4a4a4a" stroke-width="0.2">0.4</text>
<text x="180.09" y="96.69" font-size="5.7" fill="#4a4a4a" text-anchor="middle" stroke="#4a4a4a" stroke-width="0.2">1.2</text>
<text x="200.53" y="96.69" font-size="5.7" fill="#4a4a4a" text-anchor="middle" stroke="#4a4a4a" stroke-width="0.2">2.3</text>
<text x="220.96" y="97.29" font-size="8.6" font-style="italic" fill="#1ea34e" text-anchor="middle" stroke="#1ea34e" stroke-width="0.14">4a</text>
<text x="261.81" y="96.69" font-size="5.7" fill="#4a4a4a" text-anchor="middle" stroke="#4a4a4a" stroke-width="0.2">1.0</text>
<text x="282.24" y="96.69" font-size="5.7" fill="#4a4a4a" text-anchor="middle" stroke="#4a4a4a" stroke-width="0.2">2.9</text>
<text x="302.67" y="96.69" font-size="5.7" fill="#4a4a4a" text-anchor="middle" stroke="#4a4a4a" stroke-width="0.2">1.4</text>
<text x="323.1" y="96.69" font-size="5.7" fill="#4a4a4a" text-anchor="middle" stroke="#4a4a4a" stroke-width="0.2">0.7</text>
<text x="343.53" y="96.69" font-size="5.7" fill="#4a4a4a" text-anchor="middle" stroke="#4a4a4a" stroke-width="0.2">2.2</text>
<text x="363.96" y="96.69" font-size="5.7" fill="#4a4a4a" text-anchor="middle" stroke="#4a4a4a" stroke-width="0.2">1.6</text>
<text x="384.39" y="96.69" font-size="5.7" fill="#4a4a4a" text-anchor="middle" stroke="#4a4a4a" stroke-width="0.2">3.0</text>
<text x="404.82" y="96.69" font-size="5.7" fill="#4a4a4a" text-anchor="middle" stroke="#4a4a4a" stroke-width="0.2">1.0</text>
<text x="425.25" y="96.69" font-size="5.7" fill="#4a4a4a" text-anchor="middle" stroke="#4a4a4a" stroke-width="0.2">2.8</text>
<text x="445.69" y="96.69" font-size="5.7" fill="#4a4a4a" text-anchor="middle" stroke="#4a4a4a" stroke-width="0.2">2.8</text>
<text x="466.12" y="96.69" font-size="5.7" fill="#4a4a4a" text-anchor="middle" stroke="#4a4a4a" stroke-width="0.2">3.6</text>
<text x="486.54" y="96.69" font-size="5.7" fill="#4a4a4a" text-anchor="middle" stroke="#4a4a4a" stroke-width="0.2">2.4</text>
<text x="506.97" y="96.69" font-size="5.7" fill="#4a4a4a" text-anchor="middle" stroke="#4a4a4a" stroke-width="0.2">1.7</text>
<text x="527.4" y="96.69" font-size="5.7" fill="#4a4a4a" text-anchor="middle" stroke="#4a4a4a" stroke-width="0.2">2.4</text>
<text x="547.84" y="96.69" font-size="5.7" fill="#4a4a4a" text-anchor="middle" stroke="#4a4a4a" stroke-width="0.2">0.7</text>
<text x="568.26" y="96.69" font-size="5.7" fill="#4a4a4a" text-anchor="middle" stroke="#4a4a4a" stroke-width="0.2">2.0</text>
<text x="588.69" y="96.69" font-size="5.7" fill="#4a4a4a" text-anchor="middle" stroke="#4a4a4a" stroke-width="0.2">1.6</text>
<text x="609.12" y="96.69" font-size="5.7" fill="#4a4a4a" text-anchor="middle" stroke="#4a4a4a" stroke-width="0.2">2.4</text>
<text x="629.55" y="96.69" font-size="5.7" fill="#4a4a4a" text-anchor="middle" stroke="#4a4a4a" stroke-width="0.2">0.2</text>
<text x="57.52" y="105.8" font-size="5.7" fill="#4a4a4a" text-anchor="middle" stroke="#4a4a4a" stroke-width="0.2">2.0</text>
<text x="77.94" y="105.8" font-size="5.7" fill="#4a4a4a" text-anchor="middle" stroke="#4a4a4a" stroke-width="0.2">0.9</text>
<text x="98.38" y="105.8" font-size="5.7" fill="#4a4a4a" text-anchor="middle" stroke="#4a4a4a" stroke-width="0.2">1.7</text>
<text x="118.81" y="105.8" font-size="5.7" fill="#4a4a4a" text-anchor="middle" stroke="#4a4a4a" stroke-width="0.2">1.2</text>
<text x="139.23" y="105.8" font-size="5.7" fill="#4a4a4a" text-anchor="middle" stroke="#4a4a4a" stroke-width="0.2">1.9</text>
<text x="159.66" y="105.8" font-size="5.7" fill="#4a4a4a" text-anchor="middle" stroke="#4a4a4a" stroke-width="0.2">1.7</text>
<text x="180.09" y="105.8" font-size="5.7" fill="#4a4a4a" text-anchor="middle" stroke="#4a4a4a" stroke-width="0.2">0.6</text>
<text x="200.53" y="105.8" font-size="5.7" fill="#4a4a4a" text-anchor="middle" stroke="#4a4a4a" stroke-width="0.2">0.6</text>
<text x="241.39" y="106.4" font-size="8.6" font-style="italic" fill="#1ea34e" text-anchor="middle" stroke="#1ea34e" stroke-width="0.14">4b</text>
<text x="261.81" y="105.8" font-size="5.7" fill="#4a4a4a" text-anchor="middle" stroke="#4a4a4a" stroke-width="0.2">1.5</text>
<text x="282.24" y="105.8" font-size="5.7" fill="#4a4a4a" text-anchor="middle" stroke="#4a4a4a" stroke-width="0.2">0.5</text>
<text x="302.67" y="105.8" font-size="5.7" fill="#4a4a4a" text-anchor="middle" stroke="#4a4a4a" stroke-width="0.2">1.1</text>
<text x="323.1" y="105.8" font-size="5.7" fill="#4a4a4a" text-anchor="middle" stroke="#4a4a4a" stroke-width="0.2">2.7</text>
<text x="343.53" y="105.8" font-size="5.7" fill="#4a4a4a" text-anchor="middle" stroke="#4a4a4a" stroke-width="0.2">3.7</text>
<text x="363.96" y="105.8" font-size="5.7" fill="#4a4a4a" text-anchor="middle" stroke="#4a4a4a" stroke-width="0.2">3.4</text>
<text x="384.39" y="105.8" font-size="5.7" fill="#4a4a4a" text-anchor="middle" stroke="#4a4a4a" stroke-width="0.2">0.4</text>
<text x="404.82" y="105.8" font-size="5.7" fill="#4a4a4a" text-anchor="middle" stroke="#4a4a4a" stroke-width="0.2">1.7</text>
<text x="425.25" y="105.8" font-size="5.7" fill="#4a4a4a" text-anchor="middle" stroke="#4a4a4a" stroke-width="0.2">2.8</text>
<text x="445.69" y="105.8" font-size="5.7" fill="#4a4a4a" text-anchor="middle" stroke="#4a4a4a" stroke-width="0.2">3.5</text>
<text x="466.12" y="105.8" font-size="5.7" fill="#4a4a4a" text-anchor="middle" stroke="#4a4a4a" stroke-width="0.2">2.3</text>
<text x="486.54" y="105.8" font-size="5.7" fill="#4a4a4a" text-anchor="middle" stroke="#4a4a4a" stroke-width="0.2">1.9</text>
<text x="506.97" y="105.8" font-size="5.7" fill="#4a4a4a" text-anchor="middle" stroke="#4a4a4a" stroke-width="0.2">3.1</text>
<text x="527.4" y="106.5" font-size="8.4" fill="#1a1a1a" text-anchor="middle" stroke="#1a1a1a" stroke-width="0.14">4.9</text>
<text x="547.84" y="105.8" font-size="5.7" fill="#4a4a4a" text-anchor="middle" stroke="#4a4a4a" stroke-width="0.2">3.2</text>
<text x="568.26" y="105.8" font-size="5.7" fill="#4a4a4a" text-anchor="middle" stroke="#4a4a4a" stroke-width="0.2">1.5</text>
<text x="588.69" y="105.8" font-size="5.7" fill="#4a4a4a" text-anchor="middle" stroke="#4a4a4a" stroke-width="0.2">3.1</text>
<text x="609.12" y="105.8" font-size="5.7" fill="#4a4a4a" text-anchor="middle" stroke="#4a4a4a" stroke-width="0.2">1.8</text>
<text x="629.55" y="105.8" font-size="5.7" fill="#4a4a4a" text-anchor="middle" stroke="#4a4a4a" stroke-width="0.2">0.3</text>
<text x="57.52" y="114.91" font-size="5.7" fill="#4a4a4a" text-anchor="middle" stroke="#4a4a4a" stroke-width="0.2">2.6</text>
<text x="77.94" y="114.91" font-size="5.7" fill="#4a4a4a" text-anchor="middle" stroke="#4a4a4a" stroke-width="0.2">1.7</text>
<text x="98.38" y="114.91" font-size="5.7" fill="#4a4a4a" text-anchor="middle" stroke="#4a4a4a" stroke-width="0.2">1.2</text>
<text x="118.81" y="114.91" font-size="5.7" fill="#4a4a4a" text-anchor="middle" stroke="#4a4a4a" stroke-width="0.2">1.8</text>
<text x="139.23" y="114.91" font-size="5.7" fill="#4a4a4a" text-anchor="middle" stroke="#4a4a4a" stroke-width="0.2">1.2</text>
<text x="159.66" y="114.91" font-size="5.7" fill="#4a4a4a" text-anchor="middle" stroke="#4a4a4a" stroke-width="0.2">2.3</text>
<text x="180.09" y="114.91" font-size="5.7" fill="#4a4a4a" text-anchor="middle" stroke="#4a4a4a" stroke-width="0.2">3.2</text>
<text x="200.53" y="115.61" font-size="8.4" fill="#1a1a1a" text-anchor="middle" stroke="#1a1a1a" stroke-width="0.14">5.6</text>
<ellipse cx="200.53" cy="111.86" rx="9.2" ry="4.4" fill="none" stroke="#c8303c" stroke-width="1.1"/>
<text x="220.96" y="114.91" font-size="5.7" fill="#4a4a4a" text-anchor="middle" stroke="#4a4a4a" stroke-width="0.2">1.3</text>
<text x="241.39" y="114.91" font-size="5.7" fill="#4a4a4a" text-anchor="middle" stroke="#4a4a4a" stroke-width="0.2">2.0</text>
<text x="261.81" y="115.51" font-size="8.6" font-style="italic" fill="#1ea34e" text-anchor="middle" stroke="#1ea34e" stroke-width="0.14">5a</text>
<text x="282.24" y="114.91" font-size="5.7" fill="#4a4a4a" text-anchor="middle" stroke="#4a4a4a" stroke-width="0.2">1.4</text>
<text x="302.67" y="114.91" font-size="5.7" fill="#4a4a4a" text-anchor="middle" stroke="#4a4a4a" stroke-width="0.2">1.7</text>
<text x="323.1" y="114.91" font-size="5.7" fill="#4a4a4a" text-anchor="middle" stroke="#4a4a4a" stroke-width="0.2">1.0</text>
<text x="343.53" y="114.91" font-size="5.7" fill="#4a4a4a" text-anchor="middle" stroke="#4a4a4a" stroke-width="0.2">2.3</text>
<text x="363.96" y="114.91" font-size="5.7" fill="#4a4a4a" text-anchor="middle" stroke="#4a4a4a" stroke-width="0.2">2.8</text>
<text x="384.39" y="114.91" font-size="5.7" fill="#4a4a4a" text-anchor="middle" stroke="#4a4a4a" stroke-width="0.2">1.4</text>
<text x="404.82" y="114.91" font-size="5.7" fill="#4a4a4a" text-anchor="middle" stroke="#4a4a4a" stroke-width="0.2">1.8</text>
<text x="425.25" y="114.91" font-size="5.7" fill="#4a4a4a" text-anchor="middle" stroke="#4a4a4a" stroke-width="0.2">2.2</text>
<text x="445.69" y="114.91" font-size="5.7" fill="#4a4a4a" text-anchor="middle" stroke="#4a4a4a" stroke-width="0.2">1.3</text>
<text x="466.12" y="114.91" font-size="5.7" fill="#4a4a4a" text-anchor="middle" stroke="#4a4a4a" stroke-width="0.2">2.2</text>
<text x="486.54" y="114.91" font-size="5.7" fill="#4a4a4a" text-anchor="middle" stroke="#4a4a4a" stroke-width="0.2">2.7</text>
<text x="506.97" y="114.91" font-size="5.7" fill="#4a4a4a" text-anchor="middle" stroke="#4a4a4a" stroke-width="0.2">0.7</text>
<text x="527.4" y="114.91" font-size="5.7" fill="#4a4a4a" text-anchor="middle" stroke="#4a4a4a" stroke-width="0.2">1.3</text>
<text x="547.84" y="114.91" font-size="5.7" fill="#4a4a4a" text-anchor="middle" stroke="#4a4a4a" stroke-width="0.2">2.2</text>
<text x="568.26" y="114.91" font-size="5.7" fill="#4a4a4a" text-anchor="middle" stroke="#4a4a4a" stroke-width="0.2">2.5</text>
<text x="588.69" y="114.91" font-size="5.7" fill="#4a4a4a" text-anchor="middle" stroke="#4a4a4a" stroke-width="0.2">0.7</text>
<text x="609.12" y="114.91" font-size="5.7" fill="#4a4a4a" text-anchor="middle" stroke="#4a4a4a" stroke-width="0.2">1.2</text>
<text x="629.55" y="114.91" font-size="5.7" fill="#4a4a4a" text-anchor="middle" stroke="#4a4a4a" stroke-width="0.2">0.6</text>
<text x="57.52" y="124.02" font-size="5.7" fill="#4a4a4a" text-anchor="middle" stroke="#4a4a4a" stroke-width="0.2">2.7</text>
<text x="77.94" y="124.02" font-size="5.7" fill="#4a4a4a" text-anchor="middle" stroke="#4a4a4a" stroke-width="0.2">0.9</text>
<text x="98.38" y="124.02" font-size="5.7" fill="#4a4a4a" text-anchor="middle" stroke="#4a4a4a" stroke-width="0.2">0.9</text>
<text x="118.81" y="124.02" font-size="5.7" fill="#4a4a4a" text-anchor="middle" stroke="#4a4a4a" stroke-width="0.2">0.9</text>
<text x="139.23" y="124.02" font-size="5.7" fill="#4a4a4a" text-anchor="middle" stroke="#4a4a4a" stroke-width="0.2">2.3</text>
<text x="159.66" y="124.72" font-size="8.4" fill="#1a1a1a" text-anchor="middle" stroke="#1a1a1a" stroke-width="0.14">4.1</text>
<text x="180.09" y="124.02" font-size="5.7" fill="#4a4a4a" text-anchor="middle" stroke="#4a4a4a" stroke-width="0.2">2.6</text>
<text x="200.53" y="124.02" font-size="5.7" fill="#4a4a4a" text-anchor="middle" stroke="#4a4a4a" stroke-width="0.2">2.7</text>
<text x="220.96" y="124.02" font-size="5.7" fill="#4a4a4a" text-anchor="middle" stroke="#4a4a4a" stroke-width="0.2">2.7</text>
<text x="241.39" y="124.02" font-size="5.7" fill="#4a4a4a" text-anchor="middle" stroke="#4a4a4a" stroke-width="0.2">1.3</text>
<text x="261.81" y="124.02" font-size="5.7" fill="#4a4a4a" text-anchor="middle" stroke="#4a4a4a" stroke-width="0.2">3.2</text>
<text x="282.24" y="124.62" font-size="8.6" font-style="italic" fill="#1ea34e" text-anchor="middle" stroke="#1ea34e" stroke-width="0.14">6a</text>
<text x="323.1" y="124.02" font-size="5.7" fill="#4a4a4a" text-anchor="middle" stroke="#4a4a4a" stroke-width="0.2">1.0</text>
<text x="343.53" y="124.02" font-size="5.7" fill="#4a4a4a" text-anchor="middle" stroke="#4a4a4a" stroke-width="0.2">2.0</text>
<text x="363.96" y="124.02" font-size="5.7" fill="#4a4a4a" text-anchor="middle" stroke="#4a4a4a" stroke-width="0.2">1.6</text>
<text x="384.39" y="124.02" font-size="5.7" fill="#4a4a4a" text-anchor="middle" stroke="#4a4a4a" stroke-width="0.2">1.8</text>
<text x="404.82" y="124.02" font-size="5.7" fill="#4a4a4a" text-anchor="middle" stroke="#4a4a4a" stroke-width="0.2">2.1</text>
<text x="425.25" y="124.02" font-size="5.7" fill="#4a4a4a" text-anchor="middle" stroke="#4a4a4a" stroke-width="0.2">1.6</text>
<text x="445.69" y="124.02" font-size="5.7" fill="#4a4a4a" text-anchor="middle" stroke="#4a4a4a" stroke-width="0.2">1.6</text>
<text x="466.12" y="124.02" font-size="5.7" fill="#4a4a4a" text-anchor="middle" stroke="#4a4a4a" stroke-width="0.2">2.3</text>
<text x="486.54" y="124.02" font-size="5.7" fill="#4a4a4a" text-anchor="middle" stroke="#4a4a4a" stroke-width="0.2">1.9</text>
<text x="506.97" y="124.72" font-size="8.4" fill="#1a1a1a" text-anchor="middle" stroke="#1a1a1a" stroke-width="0.14">4.2</text>
<text x="527.4" y="124.02" font-size="5.7" fill="#4a4a4a" text-anchor="middle" stroke="#4a4a4a" stroke-width="0.2">2.3</text>
<text x="547.84" y="124.02" font-size="5.7" fill="#4a4a4a" text-anchor="middle" stroke="#4a4a4a" stroke-width="0.2">2.2</text>
<text x="568.26" y="124.02" font-size="5.7" fill="#4a4a4a" text-anchor="middle" stroke="#4a4a4a" stroke-width="0.2">2.3</text>
<text x="588.69" y="124.02" font-size="5.7" fill="#4a4a4a" text-anchor="middle" stroke="#4a4a4a" stroke-width="0.2">1.6</text>
<text x="609.12" y="124.02" font-size="5.7" fill="#4a4a4a" text-anchor="middle" stroke="#4a4a4a" stroke-width="0.2">2.4</text>
<text x="629.55" y="124.02" font-size="5.7" fill="#4a4a4a" text-anchor="middle" stroke="#4a4a4a" stroke-width="0.2">0.3</text>
<text x="57.52" y="133.83" font-size="8.4" fill="#1a1a1a" text-anchor="middle" stroke="#1a1a1a" stroke-width="0.14">5.5</text>
<text x="77.94" y="133.83" font-size="8.4" fill="#1a1a1a" text-anchor="middle" stroke="#1a1a1a" stroke-width="0.14">4.2</text>
<text x="98.38" y="133.13" font-size="5.7" fill="#4a4a4a" text-anchor="middle" stroke="#4a4a4a" stroke-width="0.2">1.5</text>
<text x="118.81" y="133.13" font-size="5.7" fill="#4a4a4a" text-anchor="middle" stroke="#4a4a4a" stroke-width="0.2">2.4</text>
<text x="139.23" y="133.13" font-size="5.7" fill="#4a4a4a" text-anchor="middle" stroke="#4a4a4a" stroke-width="0.2">1.7</text>
<text x="159.66" y="133.13" font-size="5.7" fill="#4a4a4a" text-anchor="middle" stroke="#4a4a4a" stroke-width="0.2">1.9</text>
<text x="180.09" y="133.13" font-size="5.7" fill="#4a4a4a" text-anchor="middle" stroke="#4a4a4a" stroke-width="0.2">0.7</text>
<text x="200.53" y="133.13" font-size="5.7" fill="#4a4a4a" text-anchor="middle" stroke="#4a4a4a" stroke-width="0.2">2.9</text>
<text x="220.96" y="133.13" font-size="5.7" fill="#4a4a4a" text-anchor="middle" stroke="#4a4a4a" stroke-width="0.2">2.5</text>
<text x="241.39" y="133.13" font-size="5.7" fill="#4a4a4a" text-anchor="middle" stroke="#4a4a4a" stroke-width="0.2">1.1</text>
<text x="261.81" y="133.13" font-size="5.7" fill="#4a4a4a" text-anchor="middle" stroke="#4a4a4a" stroke-width="0.2">1.7</text>
<text x="302.67" y="133.73" font-size="8.6" font-style="italic" fill="#1ea34e" text-anchor="middle" stroke="#1ea34e" stroke-width="0.14">6b</text>
<text x="323.1" y="133.13" font-size="5.7" fill="#4a4a4a" text-anchor="middle" stroke="#4a4a4a" stroke-width="0.2">1.8</text>
<text x="343.53" y="133.13" font-size="5.7" fill="#4a4a4a" text-anchor="middle" stroke="#4a4a4a" stroke-width="0.2">1.4</text>
<text x="363.96" y="133.13" font-size="5.7" fill="#4a4a4a" text-anchor="middle" stroke="#4a4a4a" stroke-width="0.2">1.6</text>
<text x="384.39" y="133.13" font-size="5.7" fill="#4a4a4a" text-anchor="middle" stroke="#4a4a4a" stroke-width="0.2">1.3</text>
<text x="404.82" y="133.13" font-size="5.7" fill="#4a4a4a" text-anchor="middle" stroke="#4a4a4a" stroke-width="0.2">1.0</text>
<text x="425.25" y="133.13" font-size="5.7" fill="#4a4a4a" text-anchor="middle" stroke="#4a4a4a" stroke-width="0.2">1.5</text>
<text x="445.69" y="133.13" font-size="5.7" fill="#4a4a4a" text-anchor="middle" stroke="#4a4a4a" stroke-width="0.2">1.4</text>
<text x="466.12" y="133.13" font-size="5.7" fill="#4a4a4a" text-anchor="middle" stroke="#4a4a4a" stroke-width="0.2">3.2</text>
<text x="486.54" y="133.83" font-size="8.4" fill="#1a1a1a" text-anchor="middle" stroke="#1a1a1a" stroke-width="0.14">4.5</text>
<text x="506.97" y="133.13" font-size="5.7" fill="#4a4a4a" text-anchor="middle" stroke="#4a4a4a" stroke-width="0.2">2.3</text>
<text x="527.4" y="133.13" font-size="5.7" fill="#4a4a4a" text-anchor="middle" stroke="#4a4a4a" stroke-width="0.2">2.0</text>
<text x="547.84" y="133.13" font-size="5.7" fill="#4a4a4a" text-anchor="middle" stroke="#4a4a4a" stroke-width="0.2">2.9</text>
<text x="568.26" y="133.83" font-size="8.4" fill="#1a1a1a" text-anchor="middle" stroke="#1a1a1a" stroke-width="0.14">4.2</text>
<text x="588.69" y="133.13" font-size="5.7" fill="#4a4a4a" text-anchor="middle" stroke="#4a4a4a" stroke-width="0.2">1.0</text>
<text x="609.12" y="133.13" font-size="5.7" fill="#4a4a4a" text-anchor="middle" stroke="#4a4a4a" stroke-width="0.2">2.1</text>
<text x="629.55" y="133.13" font-size="5.7" fill="#4a4a4a" text-anchor="middle" stroke="#4a4a4a" stroke-width="0.2">0.2</text>
<text x="57.52" y="142.94" font-size="8.4" fill="#1a1a1a" text-anchor="middle" stroke="#1a1a1a" stroke-width="0.14">4.6</text>
<text x="77.94" y="142.94" font-size="8.4" fill="#1a1a1a" text-anchor="middle" stroke="#1a1a1a" stroke-width="0.14">5.7</text>
<ellipse cx="77.94" cy="139.19" rx="9.2" ry="4.4" fill="none" stroke="#c8303c" stroke-width="1.1"/>
<text x="98.38" y="142.24" font-size="5.7" fill="#4a4a4a" text-anchor="middle" stroke="#4a4a4a" stroke-width="0.2">1.4</text>
<text x="118.81" y="142.24" font-size="5.7" fill="#4a4a4a" text-anchor="middle" stroke="#4a4a4a" stroke-width="0.2">1.2</text>
<text x="139.23" y="142.24" font-size="5.7" fill="#4a4a4a" text-anchor="middle" stroke="#4a4a4a" stroke-width="0.2">1.0</text>
<text x="159.66" y="142.24" font-size="5.7" fill="#4a4a4a" text-anchor="middle" stroke="#4a4a4a" stroke-width="0.2">1.0</text>
<text x="180.09" y="142.24" font-size="5.7" fill="#4a4a4a" text-anchor="middle" stroke="#4a4a4a" stroke-width="0.2">1.5</text>
<text x="200.53" y="142.24" font-size="5.7" fill="#4a4a4a" text-anchor="middle" stroke="#4a4a4a" stroke-width="0.2">0.9</text>
<text x="220.96" y="142.24" font-size="5.7" fill="#4a4a4a" text-anchor="middle" stroke="#4a4a4a" stroke-width="0.2">3.5</text>
<text x="241.39" y="142.24" font-size="5.7" fill="#4a4a4a" text-anchor="middle" stroke="#4a4a4a" stroke-width="0.2">2.1</text>
<text x="261.81" y="142.24" font-size="5.7" fill="#4a4a4a" text-anchor="middle" stroke="#4a4a4a" stroke-width="0.2">1.4</text>
<text x="282.24" y="142.24" font-size="5.7" fill="#4a4a4a" text-anchor="middle" stroke="#4a4a4a" stroke-width="0.2">1.3</text>
<text x="302.67" y="142.24" font-size="5.7" fill="#4a4a4a" text-anchor="middle" stroke="#4a4a4a" stroke-width="0.2">0.5</text>
<text x="323.1" y="142.84" font-size="8.6" font-style="italic" fill="#1ea34e" text-anchor="middle" stroke="#1ea34e" stroke-width="0.14">9a</text>
<text x="384.39" y="142.24" font-size="5.7" fill="#4a4a4a" text-anchor="middle" stroke="#4a4a4a" stroke-width="0.2">2.0</text>
<text x="404.82" y="142.24" font-size="5.7" fill="#4a4a4a" text-anchor="middle" stroke="#4a4a4a" stroke-width="0.2">3.2</text>
<text x="425.25" y="142.24" font-size="5.7" fill="#4a4a4a" text-anchor="middle" stroke="#4a4a4a" stroke-width="0.2">1.2</text>
<text x="445.69" y="142.24" font-size="5.7" fill="#4a4a4a" text-anchor="middle" stroke="#4a4a4a" stroke-width="0.2">2.6</text>
<text x="466.12" y="142.24" font-size="5.7" fill="#4a4a4a" text-anchor="middle" stroke="#4a4a4a" stroke-width="0.2">2.0</text>
<text x="486.54" y="142.24" font-size="5.7" fill="#4a4a4a" text-anchor="middle" stroke="#4a4a4a" stroke-width="0.2">1.9</text>
<text x="506.97" y="142.24" font-size="5.7" fill="#4a4a4a" text-anchor="middle" stroke="#4a4a4a" stroke-width="0.2">1.3</text>
<text x="527.4" y="142.24" font-size="5.7" fill="#4a4a4a" text-anchor="middle" stroke="#4a4a4a" stroke-width="0.2">2.1</text>
<text x="547.84" y="142.24" font-size="5.7" fill="#4a4a4a" text-anchor="middle" stroke="#4a4a4a" stroke-width="0.2">1.1</text>
<text x="568.26" y="142.24" font-size="5.7" fill="#4a4a4a" text-anchor="middle" stroke="#4a4a4a" stroke-width="0.2">1.8</text>
<text x="588.69" y="142.24" font-size="5.7" fill="#4a4a4a" text-anchor="middle" stroke="#4a4a4a" stroke-width="0.2">1.6</text>
<text x="609.12" y="142.24" font-size="5.7" fill="#4a4a4a" text-anchor="middle" stroke="#4a4a4a" stroke-width="0.2">3.6</text>
<text x="629.55" y="142.24" font-size="5.7" fill="#4a4a4a" text-anchor="middle" stroke="#4a4a4a" stroke-width="0.2">0.5</text>
<text x="57.52" y="151.35" font-size="5.7" fill="#4a4a4a" text-anchor="middle" stroke="#4a4a4a" stroke-width="0.2">2.3</text>
<text x="77.94" y="152.05" font-size="8.4" fill="#1a1a1a" text-anchor="middle" stroke="#1a1a1a" stroke-width="0.14">4.5</text>
<text x="98.38" y="151.35" font-size="5.7" fill="#4a4a4a" text-anchor="middle" stroke="#4a4a4a" stroke-width="0.2">1.1</text>
<text x="118.81" y="151.35" font-size="5.7" fill="#4a4a4a" text-anchor="middle" stroke="#4a4a4a" stroke-width="0.2">3.1</text>
<text x="139.23" y="151.35" font-size="5.7" fill="#4a4a4a" text-anchor="middle" stroke="#4a4a4a" stroke-width="0.2">1.6</text>
<text x="159.66" y="151.35" font-size="5.7" fill="#4a4a4a" text-anchor="middle" stroke="#4a4a4a" stroke-width="0.2">2.2</text>
<text x="180.09" y="151.35" font-size="5.7" fill="#4a4a4a" text-anchor="middle" stroke="#4a4a4a" stroke-width="0.2">2.9</text>
<text x="200.53" y="151.35" font-size="5.7" fill="#4a4a4a" text-anchor="middle" stroke="#4a4a4a" stroke-width="0.2">1.3</text>
<text x="220.96" y="151.35" font-size="5.7" fill="#4a4a4a" text-anchor="middle" stroke="#4a4a4a" stroke-width="0.2">1.6</text>
<text x="241.39" y="151.35" font-size="5.7" fill="#4a4a4a" text-anchor="middle" stroke="#4a4a4a" stroke-width="0.2">1.5</text>
<text x="261.81" y="151.35" font-size="5.7" fill="#4a4a4a" text-anchor="middle" stroke="#4a4a4a" stroke-width="0.2">1.9</text>
<text x="282.24" y="151.35" font-size="5.7" fill="#4a4a4a" text-anchor="middle" stroke="#4a4a4a" stroke-width="0.2">0.8</text>
<text x="302.67" y="151.35" font-size="5.7" fill="#4a4a4a" text-anchor="middle" stroke="#4a4a4a" stroke-width="0.2">1.3</text>
<text x="343.53" y="151.95" font-size="8.6" font-style="italic" fill="#1ea34e" text-anchor="middle" stroke="#1ea34e" stroke-width="0.14">9b</text>
<text x="384.39" y="151.35" font-size="5.7" fill="#4a4a4a" text-anchor="middle" stroke="#4a4a4a" stroke-width="0.2">3.1</text>
<text x="404.82" y="151.35" font-size="5.7" fill="#4a4a4a" text-anchor="middle" stroke="#4a4a4a" stroke-width="0.2">1.7</text>
<text x="425.25" y="151.35" font-size="5.7" fill="#4a4a4a" text-anchor="middle" stroke="#4a4a4a" stroke-width="0.2">0.8</text>
<text x="445.69" y="151.35" font-size="5.7" fill="#4a4a4a" text-anchor="middle" stroke="#4a4a4a" stroke-width="0.2">0.3</text>
<text x="466.12" y="151.35" font-size="5.7" fill="#4a4a4a" text-anchor="middle" stroke="#4a4a4a" stroke-width="0.2">2.3</text>
<text x="486.54" y="151.35" font-size="5.7" fill="#4a4a4a" text-anchor="middle" stroke="#4a4a4a" stroke-width="0.2">0.7</text>
<text x="506.97" y="151.35" font-size="5.7" fill="#4a4a4a" text-anchor="middle" stroke="#4a4a4a" stroke-width="0.2">0.8</text>
<text x="527.4" y="151.35" font-size="5.7" fill="#4a4a4a" text-anchor="middle" stroke="#4a4a4a" stroke-width="0.2">1.0</text>
<text x="547.84" y="151.35" font-size="5.7" fill="#4a4a4a" text-anchor="middle" stroke="#4a4a4a" stroke-width="0.2">1.4</text>
<text x="568.26" y="151.35" font-size="5.7" fill="#4a4a4a" text-anchor="middle" stroke="#4a4a4a" stroke-width="0.2">3.5</text>
<text x="588.69" y="152.05" font-size="8.4" fill="#1a1a1a" text-anchor="middle" stroke="#1a1a1a" stroke-width="0.14">4.7</text>
<text x="609.12" y="151.35" font-size="5.7" fill="#4a4a4a" text-anchor="middle" stroke="#4a4a4a" stroke-width="0.2">1.6</text>
<text x="629.55" y="151.35" font-size="5.7" fill="#4a4a4a" text-anchor="middle" stroke="#4a4a4a" stroke-width="0.2">0.1</text>
<text x="57.52" y="160.46" font-size="5.7" fill="#4a4a4a" text-anchor="middle" stroke="#4a4a4a" stroke-width="0.2">1.6</text>
<text x="77.94" y="160.46" font-size="5.7" fill="#4a4a4a" text-anchor="middle" stroke="#4a4a4a" stroke-width="0.2">2.4</text>
<text x="98.38" y="160.46" font-size="5.7" fill="#4a4a4a" text-anchor="middle" stroke="#4a4a4a" stroke-width="0.2">1.4</text>
<text x="118.81" y="160.46" font-size="5.7" fill="#4a4a4a" text-anchor="middle" stroke="#4a4a4a" stroke-width="0.2">3.0</text>
<text x="139.23" y="160.46" font-size="5.7" fill="#4a4a4a" text-anchor="middle" stroke="#4a4a4a" stroke-width="0.2">1.2</text>
<text x="159.66" y="160.46" font-size="5.7" fill="#4a4a4a" text-anchor="middle" stroke="#4a4a4a" stroke-width="0.2">1.5</text>
<text x="180.09" y="160.46" font-size="5.7" fill="#4a4a4a" text-anchor="middle" stroke="#4a4a4a" stroke-width="0.2">2.2</text>
<text x="200.53" y="160.46" font-size="5.7" fill="#4a4a4a" text-anchor="middle" stroke="#4a4a4a" stroke-width="0.2">1.2</text>
<text x="220.96" y="160.46" font-size="5.7" fill="#4a4a4a" text-anchor="middle" stroke="#4a4a4a" stroke-width="0.2">1.5</text>
<text x="241.39" y="160.46" font-size="5.7" fill="#4a4a4a" text-anchor="middle" stroke="#4a4a4a" stroke-width="0.2">1.2</text>
<text x="261.81" y="160.46" font-size="5.7" fill="#4a4a4a" text-anchor="middle" stroke="#4a4a4a" stroke-width="0.2">1.9</text>
<text x="282.24" y="160.46" font-size="5.7" fill="#4a4a4a" text-anchor="middle" stroke="#4a4a4a" stroke-width="0.2">1.1</text>
<text x="302.67" y="160.46" font-size="5.7" fill="#4a4a4a" text-anchor="middle" stroke="#4a4a4a" stroke-width="0.2">1.8</text>
<text x="363.96" y="161.06" font-size="8.6" font-style="italic" fill="#1ea34e" text-anchor="middle" stroke="#1ea34e" stroke-width="0.14">9c</text>
<text x="384.39" y="160.46" font-size="5.7" fill="#4a4a4a" text-anchor="middle" stroke="#4a4a4a" stroke-width="0.2">3.5</text>
<text x="404.82" y="160.46" font-size="5.7" fill="#4a4a4a" text-anchor="middle" stroke="#4a4a4a" stroke-width="0.2">2.1</text>
<text x="425.25" y="160.46" font-size="5.7" fill="#4a4a4a" text-anchor="middle" stroke="#4a4a4a" stroke-width="0.2">0.9</text>
<text x="445.69" y="160.46" font-size="5.7" fill="#4a4a4a" text-anchor="middle" stroke="#4a4a4a" stroke-width="0.2">0.3</text>
<text x="466.12" y="160.46" font-size="5.7" fill="#4a4a4a" text-anchor="middle" stroke="#4a4a4a" stroke-width="0.2">3.3</text>
<text x="486.54" y="160.46" font-size="5.7" fill="#4a4a4a" text-anchor="middle" stroke="#4a4a4a" stroke-width="0.2">0.6</text>
<text x="506.97" y="160.46" font-size="5.7" fill="#4a4a4a" text-anchor="middle" stroke="#4a4a4a" stroke-width="0.2">0.9</text>
<text x="527.4" y="160.46" font-size="5.7" fill="#4a4a4a" text-anchor="middle" stroke="#4a4a4a" stroke-width="0.2">1.5</text>
<text x="547.84" y="160.46" font-size="5.7" fill="#4a4a4a" text-anchor="middle" stroke="#4a4a4a" stroke-width="0.2">1.6</text>
<text x="568.26" y="160.46" font-size="5.7" fill="#4a4a4a" text-anchor="middle" stroke="#4a4a4a" stroke-width="0.2">3.3</text>
<text x="588.69" y="161.16" font-size="8.4" fill="#1a1a1a" text-anchor="middle" stroke="#1a1a1a" stroke-width="0.14">4.9</text>
<text x="609.12" y="160.46" font-size="5.7" fill="#4a4a4a" text-anchor="middle" stroke="#4a4a4a" stroke-width="0.2">1.0</text>
<text x="629.55" y="160.46" font-size="5.7" fill="#4a4a4a" text-anchor="middle" stroke="#4a4a4a" stroke-width="0.2">0.3</text>
<text x="57.52" y="169.57" font-size="5.7" fill="#4a4a4a" text-anchor="middle" stroke="#4a4a4a" stroke-width="0.2">1.9</text>
<text x="77.94" y="169.57" font-size="5.7" fill="#4a4a4a" text-anchor="middle" stroke="#4a4a4a" stroke-width="0.2">2.4</text>
<text x="98.38" y="169.57" font-size="5.7" fill="#4a4a4a" text-anchor="middle" stroke="#4a4a4a" stroke-width="0.2">2.2</text>
<text x="118.81" y="169.57" font-size="5.7" fill="#4a4a4a" text-anchor="middle" stroke="#4a4a4a" stroke-width="0.2">1.3</text>
<text x="139.23" y="169.57" font-size="5.7" fill="#4a4a4a" text-anchor="middle" stroke="#4a4a4a" stroke-width="0.2">1.5</text>
<text x="159.66" y="169.57" font-size="5.7" fill="#4a4a4a" text-anchor="middle" stroke="#4a4a4a" stroke-width="0.2">1.7</text>
<text x="180.09" y="169.57" font-size="5.7" fill="#4a4a4a" text-anchor="middle" stroke="#4a4a4a" stroke-width="0.2">3.0</text>
<text x="200.53" y="169.57" font-size="5.7" fill="#4a4a4a" text-anchor="middle" stroke="#4a4a4a" stroke-width="0.2">2.2</text>
<text x="220.96" y="169.57" font-size="5.7" fill="#4a4a4a" text-anchor="middle" stroke="#4a4a4a" stroke-width="0.2">3.1</text>
<text x="241.39" y="169.57" font-size="5.7" fill="#4a4a4a" text-anchor="middle" stroke="#4a4a4a" stroke-width="0.2">0.8</text>
<text x="261.81" y="169.57" font-size="5.7" fill="#4a4a4a" text-anchor="middle" stroke="#4a4a4a" stroke-width="0.2">2.5</text>
<text x="282.24" y="169.57" font-size="5.7" fill="#4a4a4a" text-anchor="middle" stroke="#4a4a4a" stroke-width="0.2">0.9</text>
<text x="302.67" y="169.57" font-size="5.7" fill="#4a4a4a" text-anchor="middle" stroke="#4a4a4a" stroke-width="0.2">0.8</text>
<text x="323.1" y="169.57" font-size="5.7" fill="#4a4a4a" text-anchor="middle" stroke="#4a4a4a" stroke-width="0.2">2.1</text>
<text x="343.53" y="169.57" font-size="5.7" fill="#4a4a4a" text-anchor="middle" stroke="#4a4a4a" stroke-width="0.2">2.1</text>
<text x="363.96" y="169.57" font-size="5.7" fill="#4a4a4a" text-anchor="middle" stroke="#4a4a4a" stroke-width="0.2">2.1</text>
<text x="384.39" y="170.17" font-size="8.6" font-style="italic" fill="#1ea34e" text-anchor="middle" stroke="#1ea34e" stroke-width="0.14">10a</text>
<text x="404.82" y="169.57" font-size="5.7" fill="#4a4a4a" text-anchor="middle" stroke="#4a4a4a" stroke-width="0.2">2.2</text>
<text x="425.25" y="169.57" font-size="5.7" fill="#4a4a4a" text-anchor="middle" stroke="#4a4a4a" stroke-width="0.2">2.9</text>
<text x="445.69" y="169.57" font-size="5.7" fill="#4a4a4a" text-anchor="middle" stroke="#4a4a4a" stroke-width="0.2">2.1</text>
<text x="466.12" y="169.57" font-size="5.7" fill="#4a4a4a" text-anchor="middle" stroke="#4a4a4a" stroke-width="0.2">3.6</text>
<text x="486.54" y="169.57" font-size="5.7" fill="#4a4a4a" text-anchor="middle" stroke="#4a4a4a" stroke-width="0.2">1.7</text>
<text x="506.97" y="170.27" font-size="8.4" fill="#1a1a1a" text-anchor="middle" stroke="#1a1a1a" stroke-width="0.14">4.0</text>
<text x="527.4" y="169.57" font-size="5.7" fill="#4a4a4a" text-anchor="middle" stroke="#4a4a4a" stroke-width="0.2">2.1</text>
<text x="547.84" y="169.57" font-size="5.7" fill="#4a4a4a" text-anchor="middle" stroke="#4a4a4a" stroke-width="0.2">0.7</text>
<text x="568.26" y="169.57" font-size="5.7" fill="#4a4a4a" text-anchor="middle" stroke="#4a4a4a" stroke-width="0.2">1.2</text>
<text x="588.69" y="169.57" font-size="5.7" fill="#4a4a4a" text-anchor="middle" stroke="#4a4a4a" stroke-width="0.2">1.2</text>
<text x="609.12" y="169.57" font-size="5.7" fill="#4a4a4a" text-anchor="middle" stroke="#4a4a4a" stroke-width="0.2">1.6</text>
<text x="629.55" y="169.57" font-size="5.7" fill="#4a4a4a" text-anchor="middle" stroke="#4a4a4a" stroke-width="0.2">0.5</text>
<text x="57.52" y="179.38" font-size="8.4" fill="#1a1a1a" text-anchor="middle" stroke="#1a1a1a" stroke-width="0.14">4.7</text>
<text x="77.94" y="178.68" font-size="5.7" fill="#4a4a4a" text-anchor="middle" stroke="#4a4a4a" stroke-width="0.2">3.0</text>
<text x="98.38" y="178.68" font-size="5.7" fill="#4a4a4a" text-anchor="middle" stroke="#4a4a4a" stroke-width="0.2">1.4</text>
<text x="118.81" y="178.68" font-size="5.7" fill="#4a4a4a" text-anchor="middle" stroke="#4a4a4a" stroke-width="0.2">1.9</text>
<text x="139.23" y="178.68" font-size="5.7" fill="#4a4a4a" text-anchor="middle" stroke="#4a4a4a" stroke-width="0.2">0.7</text>
<text x="159.66" y="178.68" font-size="5.7" fill="#4a4a4a" text-anchor="middle" stroke="#4a4a4a" stroke-width="0.2">0.9</text>
<text x="180.09" y="178.68" font-size="5.7" fill="#4a4a4a" text-anchor="middle" stroke="#4a4a4a" stroke-width="0.2">0.8</text>
<text x="200.53" y="178.68" font-size="5.7" fill="#4a4a4a" text-anchor="middle" stroke="#4a4a4a" stroke-width="0.2">0.9</text>
<text x="220.96" y="178.68" font-size="5.7" fill="#4a4a4a" text-anchor="middle" stroke="#4a4a4a" stroke-width="0.2">2.6</text>
<text x="241.39" y="178.68" font-size="5.7" fill="#4a4a4a" text-anchor="middle" stroke="#4a4a4a" stroke-width="0.2">1.4</text>
<text x="261.81" y="178.68" font-size="5.7" fill="#4a4a4a" text-anchor="middle" stroke="#4a4a4a" stroke-width="0.2">1.6</text>
<text x="282.24" y="178.68" font-size="5.7" fill="#4a4a4a" text-anchor="middle" stroke="#4a4a4a" stroke-width="0.2">2.4</text>
<text x="302.67" y="178.68" font-size="5.7" fill="#4a4a4a" text-anchor="middle" stroke="#4a4a4a" stroke-width="0.2">3.6</text>
<text x="323.1" y="178.68" font-size="5.7" fill="#4a4a4a" text-anchor="middle" stroke="#4a4a4a" stroke-width="0.2">1.8</text>
<text x="343.53" y="178.68" font-size="5.7" fill="#4a4a4a" text-anchor="middle" stroke="#4a4a4a" stroke-width="0.2">2.0</text>
<text x="363.96" y="178.68" font-size="5.7" fill="#4a4a4a" text-anchor="middle" stroke="#4a4a4a" stroke-width="0.2">1.7</text>
<text x="384.39" y="178.68" font-size="5.7" fill="#4a4a4a" text-anchor="middle" stroke="#4a4a4a" stroke-width="0.2">2.5</text>
<text x="404.82" y="179.28" font-size="8.6" font-style="italic" fill="#1ea34e" text-anchor="middle" stroke="#1ea34e" stroke-width="0.14">11a</text>
<text x="466.12" y="178.68" font-size="5.7" fill="#4a4a4a" text-anchor="middle" stroke="#4a4a4a" stroke-width="0.2">3.0</text>
<text x="486.54" y="178.68" font-size="5.7" fill="#4a4a4a" text-anchor="middle" stroke="#4a4a4a" stroke-width="0.2">2.8</text>
<text x="506.97" y="178.68" font-size="5.7" fill="#4a4a4a" text-anchor="middle" stroke="#4a4a4a" stroke-width="0.2">3.4</text>
<text x="527.4" y="178.68" font-size="5.7" fill="#4a4a4a" text-anchor="middle" stroke="#4a4a4a" stroke-width="0.2">3.2</text>
<text x="547.84" y="178.68" font-size="5.7" fill="#4a4a4a" text-anchor="middle" stroke="#4a4a4a" stroke-width="0.2">2.4</text>
<text x="568.26" y="178.68" font-size="5.7" fill="#4a4a4a" text-anchor="middle" stroke="#4a4a4a" stroke-width="0.2">1.8</text>
<text x="588.69" y="178.68" font-size="5.7" fill="#4a4a4a" text-anchor="middle" stroke="#4a4a4a" stroke-width="0.2">2.7</text>
<text x="609.12" y="178.68" font-size="5.7" fill="#4a4a4a" text-anchor="middle" stroke="#4a4a4a" stroke-width="0.2">1.7</text>
<text x="629.55" y="178.68" font-size="5.7" fill="#4a4a4a" text-anchor="middle" stroke="#4a4a4a" stroke-width="0.2">0.3</text>
<text x="57.52" y="187.79" font-size="5.7" fill="#4a4a4a" text-anchor="middle" stroke="#4a4a4a" stroke-width="0.2">1.4</text>
<text x="77.94" y="187.79" font-size="5.7" fill="#4a4a4a" text-anchor="middle" stroke="#4a4a4a" stroke-width="0.2">2.6</text>
<text x="98.38" y="187.79" font-size="5.7" fill="#4a4a4a" text-anchor="middle" stroke="#4a4a4a" stroke-width="0.2">0.7</text>
<text x="118.81" y="187.79" font-size="5.7" fill="#4a4a4a" text-anchor="middle" stroke="#4a4a4a" stroke-width="0.2">1.5</text>
<text x="139.23" y="187.79" font-size="5.7" fill="#4a4a4a" text-anchor="middle" stroke="#4a4a4a" stroke-width="0.2">1.2</text>
<text x="159.66" y="187.79" font-size="5.7" fill="#4a4a4a" text-anchor="middle" stroke="#4a4a4a" stroke-width="0.2">1.0</text>
<text x="180.09" y="187.79" font-size="5.7" fill="#4a4a4a" text-anchor="middle" stroke="#4a4a4a" stroke-width="0.2">0.9</text>
<text x="200.53" y="187.79" font-size="5.7" fill="#4a4a4a" text-anchor="middle" stroke="#4a4a4a" stroke-width="0.2">1.8</text>
<text x="220.96" y="187.79" font-size="5.7" fill="#4a4a4a" text-anchor="middle" stroke="#4a4a4a" stroke-width="0.2">3.7</text>
<text x="241.39" y="187.79" font-size="5.7" fill="#4a4a4a" text-anchor="middle" stroke="#4a4a4a" stroke-width="0.2">0.8</text>
<text x="261.81" y="187.79" font-size="5.7" fill="#4a4a4a" text-anchor="middle" stroke="#4a4a4a" stroke-width="0.2">1.8</text>
<text x="282.24" y="188.49" font-size="8.4" fill="#1a1a1a" text-anchor="middle" stroke="#1a1a1a" stroke-width="0.14">4.0</text>
<text x="302.67" y="187.79" font-size="5.7" fill="#4a4a4a" text-anchor="middle" stroke="#4a4a4a" stroke-width="0.2">2.3</text>
<text x="323.1" y="187.79" font-size="5.7" fill="#4a4a4a" text-anchor="middle" stroke="#4a4a4a" stroke-width="0.2">2.8</text>
<text x="343.53" y="187.79" font-size="5.7" fill="#4a4a4a" text-anchor="middle" stroke="#4a4a4a" stroke-width="0.2">2.0</text>
<text x="363.96" y="187.79" font-size="5.7" fill="#4a4a4a" text-anchor="middle" stroke="#4a4a4a" stroke-width="0.2">1.6</text>
<text x="384.39" y="187.79" font-size="5.7" fill="#4a4a4a" text-anchor="middle" stroke="#4a4a4a" stroke-width="0.2">3.1</text>
<text x="425.25" y="188.39" font-size="8.6" font-style="italic" fill="#1ea34e" text-anchor="middle" stroke="#1ea34e" stroke-width="0.14">11b</text>
<text x="466.12" y="187.79" font-size="5.7" fill="#4a4a4a" text-anchor="middle" stroke="#4a4a4a" stroke-width="0.2">1.0</text>
<text x="486.54" y="187.79" font-size="5.7" fill="#4a4a4a" text-anchor="middle" stroke="#4a4a4a" stroke-width="0.2">2.0</text>
<text x="506.97" y="187.79" font-size="5.7" fill="#4a4a4a" text-anchor="middle" stroke="#4a4a4a" stroke-width="0.2">1.9</text>
<text x="527.4" y="187.79" font-size="5.7" fill="#4a4a4a" text-anchor="middle" stroke="#4a4a4a" stroke-width="0.2">2.0</text>
<text x="547.84" y="187.79" font-size="5.7" fill="#4a4a4a" text-anchor="middle" stroke="#4a4a4a" stroke-width="0.2">2.5</text>
<text x="568.26" y="187.79" font-size="5.7" fill="#4a4a4a" text-anchor="middle" stroke="#4a4a4a" stroke-width="0.2">2.8</text>
<text x="588.69" y="188.49" font-size="8.4" fill="#1a1a1a" text-anchor="middle" stroke="#1a1a1a" stroke-width="0.14">3.9</text>
<text x="609.12" y="187.79" font-size="5.7" fill="#4a4a4a" text-anchor="middle" stroke="#4a4a4a" stroke-width="0.2">2.6</text>
<text x="629.55" y="187.79" font-size="5.7" fill="#4a4a4a" text-anchor="middle" stroke="#4a4a4a" stroke-width="0.2">0.6</text>
<text x="57.52" y="196.9" font-size="5.7" fill="#4a4a4a" text-anchor="middle" stroke="#4a4a4a" stroke-width="0.2">0.4</text>
<text x="77.94" y="196.9" font-size="5.7" fill="#4a4a4a" text-anchor="middle" stroke="#4a4a4a" stroke-width="0.2">1.7</text>
<text x="98.38" y="196.9" font-size="5.7" fill="#4a4a4a" text-anchor="middle" stroke="#4a4a4a" stroke-width="0.2">1.1</text>
<text x="118.81" y="196.9" font-size="5.7" fill="#4a4a4a" text-anchor="middle" stroke="#4a4a4a" stroke-width="0.2">2.6</text>
<text x="139.23" y="196.9" font-size="5.7" fill="#4a4a4a" text-anchor="middle" stroke="#4a4a4a" stroke-width="0.2">0.7</text>
<text x="159.66" y="196.9" font-size="5.7" fill="#4a4a4a" text-anchor="middle" stroke="#4a4a4a" stroke-width="0.2">1.0</text>
<text x="180.09" y="196.9" font-size="5.7" fill="#4a4a4a" text-anchor="middle" stroke="#4a4a4a" stroke-width="0.2">3.4</text>
<text x="200.53" y="196.9" font-size="5.7" fill="#4a4a4a" text-anchor="middle" stroke="#4a4a4a" stroke-width="0.2">2.0</text>
<text x="220.96" y="196.9" font-size="5.7" fill="#4a4a4a" text-anchor="middle" stroke="#4a4a4a" stroke-width="0.2">1.5</text>
<text x="241.39" y="196.9" font-size="5.7" fill="#4a4a4a" text-anchor="middle" stroke="#4a4a4a" stroke-width="0.2">1.5</text>
<text x="261.81" y="196.9" font-size="5.7" fill="#4a4a4a" text-anchor="middle" stroke="#4a4a4a" stroke-width="0.2">1.3</text>
<text x="282.24" y="196.9" font-size="5.7" fill="#4a4a4a" text-anchor="middle" stroke="#4a4a4a" stroke-width="0.2">2.6</text>
<text x="302.67" y="196.9" font-size="5.7" fill="#4a4a4a" text-anchor="middle" stroke="#4a4a4a" stroke-width="0.2">2.5</text>
<text x="323.1" y="196.9" font-size="5.7" fill="#4a4a4a" text-anchor="middle" stroke="#4a4a4a" stroke-width="0.2">3.2</text>
<text x="343.53" y="196.9" font-size="5.7" fill="#4a4a4a" text-anchor="middle" stroke="#4a4a4a" stroke-width="0.2">3.8</text>
<text x="363.96" y="196.9" font-size="5.7" fill="#4a4a4a" text-anchor="middle" stroke="#4a4a4a" stroke-width="0.2">3.0</text>
<text x="384.39" y="196.9" font-size="5.7" fill="#4a4a4a" text-anchor="middle" stroke="#4a4a4a" stroke-width="0.2">1.4</text>
<text x="445.69" y="197.5" font-size="8.6" font-style="italic" fill="#1ea34e" text-anchor="middle" stroke="#1ea34e" stroke-width="0.14">11c</text>
<text x="466.12" y="196.9" font-size="5.7" fill="#4a4a4a" text-anchor="middle" stroke="#4a4a4a" stroke-width="0.2">0.7</text>
<text x="486.54" y="197.6" font-size="8.4" fill="#1a1a1a" text-anchor="middle" stroke="#1a1a1a" stroke-width="0.14">3.9</text>
<text x="506.97" y="196.9" font-size="5.7" fill="#4a4a4a" text-anchor="middle" stroke="#4a4a4a" stroke-width="0.2">1.8</text>
<text x="527.4" y="196.9" font-size="5.7" fill="#4a4a4a" text-anchor="middle" stroke="#4a4a4a" stroke-width="0.2">1.2</text>
<text x="547.84" y="196.9" font-size="5.7" fill="#4a4a4a" text-anchor="middle" stroke="#4a4a4a" stroke-width="0.2">0.5</text>
<text x="568.26" y="196.9" font-size="5.7" fill="#4a4a4a" text-anchor="middle" stroke="#4a4a4a" stroke-width="0.2">1.1</text>
<text x="588.69" y="196.9" font-size="5.7" fill="#4a4a4a" text-anchor="middle" stroke="#4a4a4a" stroke-width="0.2">2.2</text>
<text x="609.12" y="196.9" font-size="5.7" fill="#4a4a4a" text-anchor="middle" stroke="#4a4a4a" stroke-width="0.2">3.1</text>
<text x="629.55" y="196.9" font-size="5.7" fill="#4a4a4a" text-anchor="middle" stroke="#4a4a4a" stroke-width="0.2">0.6</text>
<text x="57.52" y="206.01" font-size="5.7" fill="#4a4a4a" text-anchor="middle" stroke="#4a4a4a" stroke-width="0.2">1.5</text>
<text x="77.94" y="206.01" font-size="5.7" fill="#4a4a4a" text-anchor="middle" stroke="#4a4a4a" stroke-width="0.2">1.7</text>
<text x="98.38" y="206.01" font-size="5.7" fill="#4a4a4a" text-anchor="middle" stroke="#4a4a4a" stroke-width="0.2">2.6</text>
<text x="118.81" y="206.01" font-size="5.7" fill="#4a4a4a" text-anchor="middle" stroke="#4a4a4a" stroke-width="0.2">1.8</text>
<text x="139.23" y="206.01" font-size="5.7" fill="#4a4a4a" text-anchor="middle" stroke="#4a4a4a" stroke-width="0.2">1.0</text>
<text x="159.66" y="206.01" font-size="5.7" fill="#4a4a4a" text-anchor="middle" stroke="#4a4a4a" stroke-width="0.2">1.5</text>
<text x="180.09" y="206.01" font-size="5.7" fill="#4a4a4a" text-anchor="middle" stroke="#4a4a4a" stroke-width="0.2">1.8</text>
<text x="200.53" y="206.01" font-size="5.7" fill="#4a4a4a" text-anchor="middle" stroke="#4a4a4a" stroke-width="0.2">3.4</text>
<text x="220.96" y="206.01" font-size="5.7" fill="#4a4a4a" text-anchor="middle" stroke="#4a4a4a" stroke-width="0.2">1.3</text>
<text x="241.39" y="206.71" font-size="8.4" fill="#1a1a1a" text-anchor="middle" stroke="#1a1a1a" stroke-width="0.14">4.5</text>
<text x="261.81" y="206.01" font-size="5.7" fill="#4a4a4a" text-anchor="middle" stroke="#4a4a4a" stroke-width="0.2">2.5</text>
<text x="282.24" y="206.01" font-size="5.7" fill="#4a4a4a" text-anchor="middle" stroke="#4a4a4a" stroke-width="0.2">2.2</text>
<text x="302.67" y="206.01" font-size="5.7" fill="#4a4a4a" text-anchor="middle" stroke="#4a4a4a" stroke-width="0.2">2.1</text>
<text x="323.1" y="206.01" font-size="5.7" fill="#4a4a4a" text-anchor="middle" stroke="#4a4a4a" stroke-width="0.2">0.6</text>
<text x="343.53" y="206.01" font-size="5.7" fill="#4a4a4a" text-anchor="middle" stroke="#4a4a4a" stroke-width="0.2">2.8</text>
<text x="363.96" y="206.01" font-size="5.7" fill="#4a4a4a" text-anchor="middle" stroke="#4a4a4a" stroke-width="0.2">1.3</text>
<text x="384.39" y="206.01" font-size="5.7" fill="#4a4a4a" text-anchor="middle" stroke="#4a4a4a" stroke-width="0.2">1.3</text>
<text x="404.82" y="206.01" font-size="5.7" fill="#4a4a4a" text-anchor="middle" stroke="#4a4a4a" stroke-width="0.2">1.2</text>
<text x="425.25" y="206.01" font-size="5.7" fill="#4a4a4a" text-anchor="middle" stroke="#4a4a4a" stroke-width="0.2">2.6</text>
<text x="445.69" y="206.01" font-size="5.7" fill="#4a4a4a" text-anchor="middle" stroke="#4a4a4a" stroke-width="0.2">2.1</text>
<text x="466.12" y="206.61" font-size="8.6" font-style="italic" fill="#1ea34e" text-anchor="middle" stroke="#1ea34e" stroke-width="0.14">12a</text>
<text x="486.54" y="206.01" font-size="5.7" fill="#4a4a4a" text-anchor="middle" stroke="#4a4a4a" stroke-width="0.2">1.8</text>
<text x="506.97" y="206.01" font-size="5.7" fill="#4a4a4a" text-anchor="middle" stroke="#4a4a4a" stroke-width="0.2">2.1</text>
<text x="527.4" y="206.01" font-size="5.7" fill="#4a4a4a" text-anchor="middle" stroke="#4a4a4a" stroke-width="0.2">1.8</text>
<text x="547.84" y="206.01" font-size="5.7" fill="#4a4a4a" text-anchor="middle" stroke="#4a4a4a" stroke-width="0.2">2.3</text>
<text x="568.26" y="206.01" font-size="5.7" fill="#4a4a4a" text-anchor="middle" stroke="#4a4a4a" stroke-width="0.2">1.1</text>
<text x="588.69" y="206.01" font-size="5.7" fill="#4a4a4a" text-anchor="middle" stroke="#4a4a4a" stroke-width="0.2">2.3</text>
<text x="609.12" y="206.01" font-size="5.7" fill="#4a4a4a" text-anchor="middle" stroke="#4a4a4a" stroke-width="0.2">1.4</text>
<text x="629.55" y="206.01" font-size="5.7" fill="#4a4a4a" text-anchor="middle" stroke="#4a4a4a" stroke-width="0.2">0.8</text>
<text x="57.52" y="215.12" font-size="5.7" fill="#4a4a4a" text-anchor="middle" stroke="#4a4a4a" stroke-width="0.2">2.1</text>
<text x="77.94" y="215.12" font-size="5.7" fill="#4a4a4a" text-anchor="middle" stroke="#4a4a4a" stroke-width="0.2">2.4</text>
<text x="98.38" y="215.12" font-size="5.7" fill="#4a4a4a" text-anchor="middle" stroke="#4a4a4a" stroke-width="0.2">2.8</text>
<text x="118.81" y="215.12" font-size="5.7" fill="#4a4a4a" text-anchor="middle" stroke="#4a4a4a" stroke-width="0.2">2.4</text>
<text x="139.23" y="215.12" font-size="5.7" fill="#4a4a4a" text-anchor="middle" stroke="#4a4a4a" stroke-width="0.2">1.9</text>
<text x="159.66" y="215.12" font-size="5.7" fill="#4a4a4a" text-anchor="middle" stroke="#4a4a4a" stroke-width="0.2">1.6</text>
<text x="180.09" y="215.12" font-size="5.7" fill="#4a4a4a" text-anchor="middle" stroke="#4a4a4a" stroke-width="0.2">1.1</text>
<text x="200.53" y="215.12" font-size="5.7" fill="#4a4a4a" text-anchor="middle" stroke="#4a4a4a" stroke-width="0.2">0.8</text>
<text x="220.96" y="215.12" font-size="5.7" fill="#4a4a4a" text-anchor="middle" stroke="#4a4a4a" stroke-width="0.2">3.3</text>
<text x="241.39" y="215.12" font-size="5.7" fill="#4a4a4a" text-anchor="middle" stroke="#4a4a4a" stroke-width="0.2">1.6</text>
<text x="261.81" y="215.12" font-size="5.7" fill="#4a4a4a" text-anchor="middle" stroke="#4a4a4a" stroke-width="0.2">1.3</text>
<text x="282.24" y="215.12" font-size="5.7" fill="#4a4a4a" text-anchor="middle" stroke="#4a4a4a" stroke-width="0.2">1.0</text>
<text x="302.67" y="215.12" font-size="5.7" fill="#4a4a4a" text-anchor="middle" stroke="#4a4a4a" stroke-width="0.2">1.5</text>
<text x="323.1" y="215.12" font-size="5.7" fill="#4a4a4a" text-anchor="middle" stroke="#4a4a4a" stroke-width="0.2">1.6</text>
<text x="343.53" y="215.12" font-size="5.7" fill="#4a4a4a" text-anchor="middle" stroke="#4a4a4a" stroke-width="0.2">2.8</text>
<text x="363.96" y="215.12" font-size="5.7" fill="#4a4a4a" text-anchor="middle" stroke="#4a4a4a" stroke-width="0.2">1.9</text>
<text x="384.39" y="215.12" font-size="5.7" fill="#4a4a4a" text-anchor="middle" stroke="#4a4a4a" stroke-width="0.2">1.2</text>
<text x="404.82" y="215.12" font-size="5.7" fill="#4a4a4a" text-anchor="middle" stroke="#4a4a4a" stroke-width="0.2">2.2</text>
<text x="425.25" y="215.12" font-size="5.7" fill="#4a4a4a" text-anchor="middle" stroke="#4a4a4a" stroke-width="0.2">2.7</text>
<text x="445.69" y="215.12" font-size="5.7" fill="#4a4a4a" text-anchor="middle" stroke="#4a4a4a" stroke-width="0.2">1.0</text>
<text x="466.12" y="215.12" font-size="5.7" fill="#4a4a4a" text-anchor="middle" stroke="#4a4a4a" stroke-width="0.2">1.3</text>
<text x="486.54" y="215.72" font-size="8.6" font-style="italic" fill="#1ea34e" text-anchor="middle" stroke="#1ea34e" stroke-width="0.14">13a</text>
<text x="506.97" y="215.12" font-size="5.7" fill="#4a4a4a" text-anchor="middle" stroke="#4a4a4a" stroke-width="0.2">2.2</text>
<text x="527.4" y="215.12" font-size="5.7" fill="#4a4a4a" text-anchor="middle" stroke="#4a4a4a" stroke-width="0.2">1.7</text>
<text x="547.84" y="215.12" font-size="5.7" fill="#4a4a4a" text-anchor="middle" stroke="#4a4a4a" stroke-width="0.2">1.6</text>
<text x="568.26" y="215.12" font-size="5.7" fill="#4a4a4a" text-anchor="middle" stroke="#4a4a4a" stroke-width="0.2">0.5</text>
<text x="588.69" y="215.12" font-size="5.7" fill="#4a4a4a" text-anchor="middle" stroke="#4a4a4a" stroke-width="0.2">1.6</text>
<text x="609.12" y="215.12" font-size="5.7" fill="#4a4a4a" text-anchor="middle" stroke="#4a4a4a" stroke-width="0.2">1.3</text>
<text x="629.55" y="215.12" font-size="5.7" fill="#4a4a4a" text-anchor="middle" stroke="#4a4a4a" stroke-width="0.2">0.6</text>
<text x="57.52" y="224.23" font-size="5.7" fill="#4a4a4a" text-anchor="middle" stroke="#4a4a4a" stroke-width="0.2">1.9</text>
<text x="77.94" y="224.23" font-size="5.7" fill="#4a4a4a" text-anchor="middle" stroke="#4a4a4a" stroke-width="0.2">1.3</text>
<text x="98.38" y="224.23" font-size="5.7" fill="#4a4a4a" text-anchor="middle" stroke="#4a4a4a" stroke-width="0.2">0.9</text>
<text x="118.81" y="224.23" font-size="5.7" fill="#4a4a4a" text-anchor="middle" stroke="#4a4a4a" stroke-width="0.2">0.9</text>
<text x="139.23" y="224.23" font-size="5.7" fill="#4a4a4a" text-anchor="middle" stroke="#4a4a4a" stroke-width="0.2">2.0</text>
<text x="159.66" y="224.23" font-size="5.7" fill="#4a4a4a" text-anchor="middle" stroke="#4a4a4a" stroke-width="0.2">3.5</text>
<text x="180.09" y="224.23" font-size="5.7" fill="#4a4a4a" text-anchor="middle" stroke="#4a4a4a" stroke-width="0.2">3.5</text>
<text x="200.53" y="224.23" font-size="5.7" fill="#4a4a4a" text-anchor="middle" stroke="#4a4a4a" stroke-width="0.2">1.0</text>
<text x="220.96" y="224.23" font-size="5.7" fill="#4a4a4a" text-anchor="middle" stroke="#4a4a4a" stroke-width="0.2">2.8</text>
<text x="241.39" y="224.23" font-size="5.7" fill="#4a4a4a" text-anchor="middle" stroke="#4a4a4a" stroke-width="0.2">1.4</text>
<text x="261.81" y="224.23" font-size="5.7" fill="#4a4a4a" text-anchor="middle" stroke="#4a4a4a" stroke-width="0.2">1.5</text>
<text x="282.24" y="224.23" font-size="5.7" fill="#4a4a4a" text-anchor="middle" stroke="#4a4a4a" stroke-width="0.2">3.3</text>
<text x="302.67" y="224.93" font-size="8.4" fill="#1a1a1a" text-anchor="middle" stroke="#1a1a1a" stroke-width="0.14">4.1</text>
<text x="323.1" y="224.23" font-size="5.7" fill="#4a4a4a" text-anchor="middle" stroke="#4a4a4a" stroke-width="0.2">1.0</text>
<text x="343.53" y="224.23" font-size="5.7" fill="#4a4a4a" text-anchor="middle" stroke="#4a4a4a" stroke-width="0.2">0.9</text>
<text x="363.96" y="224.23" font-size="5.7" fill="#4a4a4a" text-anchor="middle" stroke="#4a4a4a" stroke-width="0.2">1.9</text>
<text x="384.39" y="224.23" font-size="5.7" fill="#4a4a4a" text-anchor="middle" stroke="#4a4a4a" stroke-width="0.2">1.9</text>
<text x="404.82" y="224.93" font-size="8.4" fill="#1a1a1a" text-anchor="middle" stroke="#1a1a1a" stroke-width="0.14">4.3</text>
<text x="425.25" y="224.93" font-size="8.4" fill="#1a1a1a" text-anchor="middle" stroke="#1a1a1a" stroke-width="0.14">4.9</text>
<text x="445.69" y="224.23" font-size="5.7" fill="#4a4a4a" text-anchor="middle" stroke="#4a4a4a" stroke-width="0.2">2.9</text>
<text x="466.12" y="224.23" font-size="5.7" fill="#4a4a4a" text-anchor="middle" stroke="#4a4a4a" stroke-width="0.2">1.3</text>
<text x="486.54" y="224.23" font-size="5.7" fill="#4a4a4a" text-anchor="middle" stroke="#4a4a4a" stroke-width="0.2">1.5</text>
<text x="506.97" y="224.83" font-size="8.6" font-style="italic" fill="#1ea34e" text-anchor="middle" stroke="#1ea34e" stroke-width="0.14">14a</text>
<text x="547.84" y="224.23" font-size="5.7" fill="#4a4a4a" text-anchor="middle" stroke="#4a4a4a" stroke-width="0.2">1.9</text>
<text x="568.26" y="224.23" font-size="5.7" fill="#4a4a4a" text-anchor="middle" stroke="#4a4a4a" stroke-width="0.2">2.1</text>
<text x="588.69" y="224.93" font-size="8.4" fill="#1a1a1a" text-anchor="middle" stroke="#1a1a1a" stroke-width="0.14">4.4</text>
<text x="609.12" y="224.23" font-size="5.7" fill="#4a4a4a" text-anchor="middle" stroke="#4a4a4a" stroke-width="0.2">2.3</text>
<text x="629.55" y="224.23" font-size="5.7" fill="#4a4a4a" text-anchor="middle" stroke="#4a4a4a" stroke-width="0.2">0.3</text>
<text x="57.52" y="233.34" font-size="5.7" fill="#4a4a4a" text-anchor="middle" stroke="#4a4a4a" stroke-width="0.2">2.1</text>
<text x="77.94" y="233.34" font-size="5.7" fill="#4a4a4a" text-anchor="middle" stroke="#4a4a4a" stroke-width="0.2">2.7</text>
<text x="98.38" y="233.34" font-size="5.7" fill="#4a4a4a" text-anchor="middle" stroke="#4a4a4a" stroke-width="0.2">1.5</text>
<text x="118.81" y="233.34" font-size="5.7" fill="#4a4a4a" text-anchor="middle" stroke="#4a4a4a" stroke-width="0.2">1.7</text>
<text x="139.23" y="233.34" font-size="5.7" fill="#4a4a4a" text-anchor="middle" stroke="#4a4a4a" stroke-width="0.2">1.8</text>
<text x="159.66" y="233.34" font-size="5.7" fill="#4a4a4a" text-anchor="middle" stroke="#4a4a4a" stroke-width="0.2">2.1</text>
<text x="180.09" y="233.34" font-size="5.7" fill="#4a4a4a" text-anchor="middle" stroke="#4a4a4a" stroke-width="0.2">1.7</text>
<text x="200.53" y="233.34" font-size="5.7" fill="#4a4a4a" text-anchor="middle" stroke="#4a4a4a" stroke-width="0.2">0.6</text>
<text x="220.96" y="233.34" font-size="5.7" fill="#4a4a4a" text-anchor="middle" stroke="#4a4a4a" stroke-width="0.2">1.0</text>
<text x="241.39" y="233.34" font-size="5.7" fill="#4a4a4a" text-anchor="middle" stroke="#4a4a4a" stroke-width="0.2">2.3</text>
<text x="261.81" y="233.34" font-size="5.7" fill="#4a4a4a" text-anchor="middle" stroke="#4a4a4a" stroke-width="0.2">3.6</text>
<text x="282.24" y="233.34" font-size="5.7" fill="#4a4a4a" text-anchor="middle" stroke="#4a4a4a" stroke-width="0.2">2.7</text>
<text x="302.67" y="234.04" font-size="8.4" fill="#1a1a1a" text-anchor="middle" stroke="#1a1a1a" stroke-width="0.14">4.2</text>
<text x="323.1" y="233.34" font-size="5.7" fill="#4a4a4a" text-anchor="middle" stroke="#4a4a4a" stroke-width="0.2">1.6</text>
<text x="343.53" y="233.34" font-size="5.7" fill="#4a4a4a" text-anchor="middle" stroke="#4a4a4a" stroke-width="0.2">2.2</text>
<text x="363.96" y="233.34" font-size="5.7" fill="#4a4a4a" text-anchor="middle" stroke="#4a4a4a" stroke-width="0.2">1.4</text>
<text x="384.39" y="233.34" font-size="5.7" fill="#4a4a4a" text-anchor="middle" stroke="#4a4a4a" stroke-width="0.2">1.3</text>
<text x="404.82" y="233.34" font-size="5.7" fill="#4a4a4a" text-anchor="middle" stroke="#4a4a4a" stroke-width="0.2">3.5</text>
<text x="425.25" y="233.34" font-size="5.7" fill="#4a4a4a" text-anchor="middle" stroke="#4a4a4a" stroke-width="0.2">3.1</text>
<text x="445.69" y="233.34" font-size="5.7" fill="#4a4a4a" text-anchor="middle" stroke="#4a4a4a" stroke-width="0.2">2.3</text>
<text x="466.12" y="233.34" font-size="5.7" fill="#4a4a4a" text-anchor="middle" stroke="#4a4a4a" stroke-width="0.2">1.5</text>
<text x="486.54" y="233.34" font-size="5.7" fill="#4a4a4a" text-anchor="middle" stroke="#4a4a4a" stroke-width="0.2">0.7</text>
<text x="527.4" y="233.94" font-size="8.6" font-style="italic" fill="#1ea34e" text-anchor="middle" stroke="#1ea34e" stroke-width="0.14">14b</text>
<text x="547.84" y="233.34" font-size="5.7" fill="#4a4a4a" text-anchor="middle" stroke="#4a4a4a" stroke-width="0.2">1.7</text>
<text x="568.26" y="233.34" font-size="5.7" fill="#4a4a4a" text-anchor="middle" stroke="#4a4a4a" stroke-width="0.2">3.3</text>
<text x="588.69" y="233.34" font-size="5.7" fill="#4a4a4a" text-anchor="middle" stroke="#4a4a4a" stroke-width="0.2">2.4</text>
<text x="609.12" y="233.34" font-size="5.7" fill="#4a4a4a" text-anchor="middle" stroke="#4a4a4a" stroke-width="0.2">2.7</text>
<text x="629.55" y="233.34" font-size="5.7" fill="#4a4a4a" text-anchor="middle" stroke="#4a4a4a" stroke-width="0.2">0.8</text>
<text x="57.52" y="242.45" font-size="5.7" fill="#4a4a4a" text-anchor="middle" stroke="#4a4a4a" stroke-width="0.2">1.0</text>
<text x="77.94" y="242.45" font-size="5.7" fill="#4a4a4a" text-anchor="middle" stroke="#4a4a4a" stroke-width="0.2">1.7</text>
<text x="98.38" y="242.45" font-size="5.7" fill="#4a4a4a" text-anchor="middle" stroke="#4a4a4a" stroke-width="0.2">1.9</text>
<text x="118.81" y="242.45" font-size="5.7" fill="#4a4a4a" text-anchor="middle" stroke="#4a4a4a" stroke-width="0.2">3.1</text>
<text x="139.23" y="242.45" font-size="5.7" fill="#4a4a4a" text-anchor="middle" stroke="#4a4a4a" stroke-width="0.2">1.2</text>
<text x="159.66" y="242.45" font-size="5.7" fill="#4a4a4a" text-anchor="middle" stroke="#4a4a4a" stroke-width="0.2">1.2</text>
<text x="180.09" y="242.45" font-size="5.7" fill="#4a4a4a" text-anchor="middle" stroke="#4a4a4a" stroke-width="0.2">1.4</text>
<text x="200.53" y="242.45" font-size="5.7" fill="#4a4a4a" text-anchor="middle" stroke="#4a4a4a" stroke-width="0.2">2.1</text>
<text x="220.96" y="242.45" font-size="5.7" fill="#4a4a4a" text-anchor="middle" stroke="#4a4a4a" stroke-width="0.2">3.2</text>
<text x="241.39" y="242.45" font-size="5.7" fill="#4a4a4a" text-anchor="middle" stroke="#4a4a4a" stroke-width="0.2">0.8</text>
<text x="261.81" y="242.45" font-size="5.7" fill="#4a4a4a" text-anchor="middle" stroke="#4a4a4a" stroke-width="0.2">0.7</text>
<text x="282.24" y="242.45" font-size="5.7" fill="#4a4a4a" text-anchor="middle" stroke="#4a4a4a" stroke-width="0.2">1.3</text>
<text x="302.67" y="242.45" font-size="5.7" fill="#4a4a4a" text-anchor="middle" stroke="#4a4a4a" stroke-width="0.2">1.8</text>
<text x="323.1" y="242.45" font-size="5.7" fill="#4a4a4a" text-anchor="middle" stroke="#4a4a4a" stroke-width="0.2">1.5</text>
<text x="343.53" y="242.45" font-size="5.7" fill="#4a4a4a" text-anchor="middle" stroke="#4a4a4a" stroke-width="0.2">2.9</text>
<text x="363.96" y="242.45" font-size="5.7" fill="#4a4a4a" text-anchor="middle" stroke="#4a4a4a" stroke-width="0.2">2.7</text>
<text x="384.39" y="242.45" font-size="5.7" fill="#4a4a4a" text-anchor="middle" stroke="#4a4a4a" stroke-width="0.2">1.7</text>
<text x="404.82" y="242.45" font-size="5.7" fill="#4a4a4a" text-anchor="middle" stroke="#4a4a4a" stroke-width="0.2">2.7</text>
<text x="425.25" y="242.45" font-size="5.7" fill="#4a4a4a" text-anchor="middle" stroke="#4a4a4a" stroke-width="0.2">1.2</text>
<text x="445.69" y="242.45" font-size="5.7" fill="#4a4a4a" text-anchor="middle" stroke="#4a4a4a" stroke-width="0.2">3.3</text>
<text x="466.12" y="242.45" font-size="5.7" fill="#4a4a4a" text-anchor="middle" stroke="#4a4a4a" stroke-width="0.2">2.0</text>
<text x="486.54" y="242.45" font-size="5.7" fill="#4a4a4a" text-anchor="middle" stroke="#4a4a4a" stroke-width="0.2">1.2</text>
<text x="506.97" y="242.45" font-size="5.7" fill="#4a4a4a" text-anchor="middle" stroke="#4a4a4a" stroke-width="0.2">2.8</text>
<text x="527.4" y="242.45" font-size="5.7" fill="#4a4a4a" text-anchor="middle" stroke="#4a4a4a" stroke-width="0.2">3.1</text>
<text x="547.84" y="243.05" font-size="8.6" font-style="italic" fill="#1ea34e" text-anchor="middle" stroke="#1ea34e" stroke-width="0.14">15a</text>
<text x="588.69" y="242.45" font-size="5.7" fill="#4a4a4a" text-anchor="middle" stroke="#4a4a4a" stroke-width="0.2">2.1</text>
<text x="609.12" y="242.45" font-size="5.7" fill="#4a4a4a" text-anchor="middle" stroke="#4a4a4a" stroke-width="0.2">0.7</text>
<text x="629.55" y="242.45" font-size="5.7" fill="#4a4a4a" text-anchor="middle" stroke="#4a4a4a" stroke-width="0.2">1.0</text>
<text x="57.52" y="251.56" font-size="5.7" fill="#4a4a4a" text-anchor="middle" stroke="#4a4a4a" stroke-width="0.2">1.6</text>
<text x="77.94" y="251.56" font-size="5.7" fill="#4a4a4a" text-anchor="middle" stroke="#4a4a4a" stroke-width="0.2">0.8</text>
<text x="98.38" y="251.56" font-size="5.7" fill="#4a4a4a" text-anchor="middle" stroke="#4a4a4a" stroke-width="0.2">1.1</text>
<text x="118.81" y="252.26" font-size="8.4" fill="#1a1a1a" text-anchor="middle" stroke="#1a1a1a" stroke-width="0.14">4.4</text>
<text x="139.23" y="251.56" font-size="5.7" fill="#4a4a4a" text-anchor="middle" stroke="#4a4a4a" stroke-width="0.2">1.2</text>
<text x="159.66" y="251.56" font-size="5.7" fill="#4a4a4a" text-anchor="middle" stroke="#4a4a4a" stroke-width="0.2">1.8</text>
<text x="180.09" y="251.56" font-size="5.7" fill="#4a4a4a" text-anchor="middle" stroke="#4a4a4a" stroke-width="0.2">2.0</text>
<text x="200.53" y="251.56" font-size="5.7" fill="#4a4a4a" text-anchor="middle" stroke="#4a4a4a" stroke-width="0.2">1.2</text>
<text x="220.96" y="251.56" font-size="5.7" fill="#4a4a4a" text-anchor="middle" stroke="#4a4a4a" stroke-width="0.2">3.6</text>
<text x="241.39" y="251.56" font-size="5.7" fill="#4a4a4a" text-anchor="middle" stroke="#4a4a4a" stroke-width="0.2">2.6</text>
<text x="261.81" y="251.56" font-size="5.7" fill="#4a4a4a" text-anchor="middle" stroke="#4a4a4a" stroke-width="0.2">1.0</text>
<text x="282.24" y="251.56" font-size="5.7" fill="#4a4a4a" text-anchor="middle" stroke="#4a4a4a" stroke-width="0.2">2.5</text>
<text x="302.67" y="251.56" font-size="5.7" fill="#4a4a4a" text-anchor="middle" stroke="#4a4a4a" stroke-width="0.2">2.5</text>
<text x="323.1" y="251.56" font-size="5.7" fill="#4a4a4a" text-anchor="middle" stroke="#4a4a4a" stroke-width="0.2">0.8</text>
<text x="343.53" y="251.56" font-size="5.7" fill="#4a4a4a" text-anchor="middle" stroke="#4a4a4a" stroke-width="0.2">1.5</text>
<text x="363.96" y="251.56" font-size="5.7" fill="#4a4a4a" text-anchor="middle" stroke="#4a4a4a" stroke-width="0.2">2.7</text>
<text x="384.39" y="251.56" font-size="5.7" fill="#4a4a4a" text-anchor="middle" stroke="#4a4a4a" stroke-width="0.2">2.4</text>
<text x="404.82" y="251.56" font-size="5.7" fill="#4a4a4a" text-anchor="middle" stroke="#4a4a4a" stroke-width="0.2">2.2</text>
<text x="425.25" y="251.56" font-size="5.7" fill="#4a4a4a" text-anchor="middle" stroke="#4a4a4a" stroke-width="0.2">2.8</text>
<text x="445.69" y="251.56" font-size="5.7" fill="#4a4a4a" text-anchor="middle" stroke="#4a4a4a" stroke-width="0.2">1.5</text>
<text x="466.12" y="251.56" font-size="5.7" fill="#4a4a4a" text-anchor="middle" stroke="#4a4a4a" stroke-width="0.2">2.9</text>
<text x="486.54" y="251.56" font-size="5.7" fill="#4a4a4a" text-anchor="middle" stroke="#4a4a4a" stroke-width="0.2">0.8</text>
<text x="506.97" y="251.56" font-size="5.7" fill="#4a4a4a" text-anchor="middle" stroke="#4a4a4a" stroke-width="0.2">2.5</text>
<text x="527.4" y="251.56" font-size="5.7" fill="#4a4a4a" text-anchor="middle" stroke="#4a4a4a" stroke-width="0.2">3.2</text>
<text x="568.26" y="252.16" font-size="8.6" font-style="italic" fill="#1ea34e" text-anchor="middle" stroke="#1ea34e" stroke-width="0.14">15b</text>
<text x="588.69" y="251.56" font-size="5.7" fill="#4a4a4a" text-anchor="middle" stroke="#4a4a4a" stroke-width="0.2">2.8</text>
<text x="609.12" y="251.56" font-size="5.7" fill="#4a4a4a" text-anchor="middle" stroke="#4a4a4a" stroke-width="0.2">1.3</text>
<text x="629.55" y="251.56" font-size="5.7" fill="#4a4a4a" text-anchor="middle" stroke="#4a4a4a" stroke-width="0.2">1.4</text>
<text x="57.52" y="260.67" font-size="5.7" fill="#4a4a4a" text-anchor="middle" stroke="#4a4a4a" stroke-width="0.2">1.5</text>
<text x="77.94" y="260.67" font-size="5.7" fill="#4a4a4a" text-anchor="middle" stroke="#4a4a4a" stroke-width="0.2">1.9</text>
<text x="98.38" y="260.67" font-size="5.7" fill="#4a4a4a" text-anchor="middle" stroke="#4a4a4a" stroke-width="0.2">2.4</text>
<text x="118.81" y="260.67" font-size="5.7" fill="#4a4a4a" text-anchor="middle" stroke="#4a4a4a" stroke-width="0.2">2.4</text>
<text x="139.23" y="260.67" font-size="5.7" fill="#4a4a4a" text-anchor="middle" stroke="#4a4a4a" stroke-width="0.2">3.6</text>
<text x="159.66" y="260.67" font-size="5.7" fill="#4a4a4a" text-anchor="middle" stroke="#4a4a4a" stroke-width="0.2">3.3</text>
<text x="180.09" y="260.67" font-size="5.7" fill="#4a4a4a" text-anchor="middle" stroke="#4a4a4a" stroke-width="0.2">2.0</text>
<text x="200.53" y="260.67" font-size="5.7" fill="#4a4a4a" text-anchor="middle" stroke="#4a4a4a" stroke-width="0.2">2.3</text>
<text x="220.96" y="260.67" font-size="5.7" fill="#4a4a4a" text-anchor="middle" stroke="#4a4a4a" stroke-width="0.2">0.5</text>
<text x="241.39" y="260.67" font-size="5.7" fill="#4a4a4a" text-anchor="middle" stroke="#4a4a4a" stroke-width="0.2">2.3</text>
<text x="261.81" y="261.37" font-size="8.4" fill="#1a1a1a" text-anchor="middle" stroke="#1a1a1a" stroke-width="0.14">4.4</text>
<text x="282.24" y="260.67" font-size="5.7" fill="#4a4a4a" text-anchor="middle" stroke="#4a4a4a" stroke-width="0.2">1.1</text>
<text x="302.67" y="260.67" font-size="5.7" fill="#4a4a4a" text-anchor="middle" stroke="#4a4a4a" stroke-width="0.2">1.9</text>
<text x="323.1" y="260.67" font-size="5.7" fill="#4a4a4a" text-anchor="middle" stroke="#4a4a4a" stroke-width="0.2">1.9</text>
<text x="343.53" y="260.67" font-size="5.7" fill="#4a4a4a" text-anchor="middle" stroke="#4a4a4a" stroke-width="0.2">0.8</text>
<text x="363.96" y="260.67" font-size="5.7" fill="#4a4a4a" text-anchor="middle" stroke="#4a4a4a" stroke-width="0.2">1.3</text>
<text x="384.39" y="260.67" font-size="5.7" fill="#4a4a4a" text-anchor="middle" stroke="#4a4a4a" stroke-width="0.2">0.8</text>
<text x="404.82" y="260.67" font-size="5.7" fill="#4a4a4a" text-anchor="middle" stroke="#4a4a4a" stroke-width="0.2">1.7</text>
<text x="425.25" y="260.67" font-size="5.7" fill="#4a4a4a" text-anchor="middle" stroke="#4a4a4a" stroke-width="0.2">2.9</text>
<text x="445.69" y="260.67" font-size="5.7" fill="#4a4a4a" text-anchor="middle" stroke="#4a4a4a" stroke-width="0.2">1.7</text>
<text x="466.12" y="260.67" font-size="5.7" fill="#4a4a4a" text-anchor="middle" stroke="#4a4a4a" stroke-width="0.2">2.2</text>
<text x="486.54" y="260.67" font-size="5.7" fill="#4a4a4a" text-anchor="middle" stroke="#4a4a4a" stroke-width="0.2">1.8</text>
<text x="506.97" y="260.67" font-size="5.7" fill="#4a4a4a" text-anchor="middle" stroke="#4a4a4a" stroke-width="0.2">2.2</text>
<text x="527.4" y="260.67" font-size="5.7" fill="#4a4a4a" text-anchor="middle" stroke="#4a4a4a" stroke-width="0.2">2.3</text>
<text x="547.84" y="260.67" font-size="5.7" fill="#4a4a4a" text-anchor="middle" stroke="#4a4a4a" stroke-width="0.2">2.3</text>
<text x="568.26" y="260.67" font-size="5.7" fill="#4a4a4a" text-anchor="middle" stroke="#4a4a4a" stroke-width="0.2">2.5</text>
<text x="588.69" y="261.27" font-size="8.6" font-style="italic" fill="#1ea34e" text-anchor="middle" stroke="#1ea34e" stroke-width="0.14">17a</text>
<text x="609.12" y="260.67" font-size="5.7" fill="#4a4a4a" text-anchor="middle" stroke="#4a4a4a" stroke-width="0.2">1.9</text>
<text x="629.55" y="260.67" font-size="5.7" fill="#4a4a4a" text-anchor="middle" stroke="#4a4a4a" stroke-width="0.2">0.9</text>
<text x="57.52" y="269.78" font-size="5.7" fill="#4a4a4a" text-anchor="middle" stroke="#4a4a4a" stroke-width="0.2">1.3</text>
<text x="77.94" y="269.78" font-size="5.7" fill="#4a4a4a" text-anchor="middle" stroke="#4a4a4a" stroke-width="0.2">1.8</text>
<text x="98.38" y="269.78" font-size="5.7" fill="#4a4a4a" text-anchor="middle" stroke="#4a4a4a" stroke-width="0.2">2.3</text>
<text x="118.81" y="270.48" font-size="8.4" fill="#1a1a1a" text-anchor="middle" stroke="#1a1a1a" stroke-width="0.14">4.9</text>
<text x="139.23" y="269.78" font-size="5.7" fill="#4a4a4a" text-anchor="middle" stroke="#4a4a4a" stroke-width="0.2">3.1</text>
<text x="159.66" y="269.78" font-size="5.7" fill="#4a4a4a" text-anchor="middle" stroke="#4a4a4a" stroke-width="0.2">3.2</text>
<text x="180.09" y="269.78" font-size="5.7" fill="#4a4a4a" text-anchor="middle" stroke="#4a4a4a" stroke-width="0.2">2.4</text>
<text x="200.53" y="269.78" font-size="5.7" fill="#4a4a4a" text-anchor="middle" stroke="#4a4a4a" stroke-width="0.2">1.1</text>
<text x="220.96" y="269.78" font-size="5.7" fill="#4a4a4a" text-anchor="middle" stroke="#4a4a4a" stroke-width="0.2">1.1</text>
<text x="241.39" y="269.78" font-size="5.7" fill="#4a4a4a" text-anchor="middle" stroke="#4a4a4a" stroke-width="0.2">1.9</text>
<text x="261.81" y="269.78" font-size="5.7" fill="#4a4a4a" text-anchor="middle" stroke="#4a4a4a" stroke-width="0.2">3.8</text>
<text x="282.24" y="269.78" font-size="5.7" fill="#4a4a4a" text-anchor="middle" stroke="#4a4a4a" stroke-width="0.2">1.5</text>
<text x="302.67" y="269.78" font-size="5.7" fill="#4a4a4a" text-anchor="middle" stroke="#4a4a4a" stroke-width="0.2">1.9</text>
<text x="323.1" y="269.78" font-size="5.7" fill="#4a4a4a" text-anchor="middle" stroke="#4a4a4a" stroke-width="0.2">3.6</text>
<text x="343.53" y="269.78" font-size="5.7" fill="#4a4a4a" text-anchor="middle" stroke="#4a4a4a" stroke-width="0.2">1.7</text>
<text x="363.96" y="269.78" font-size="5.7" fill="#4a4a4a" text-anchor="middle" stroke="#4a4a4a" stroke-width="0.2">2.0</text>
<text x="384.39" y="269.78" font-size="5.7" fill="#4a4a4a" text-anchor="middle" stroke="#4a4a4a" stroke-width="0.2">1.9</text>
<text x="404.82" y="269.78" font-size="5.7" fill="#4a4a4a" text-anchor="middle" stroke="#4a4a4a" stroke-width="0.2">1.2</text>
<text x="425.25" y="269.78" font-size="5.7" fill="#4a4a4a" text-anchor="middle" stroke="#4a4a4a" stroke-width="0.2">0.9</text>
<text x="445.69" y="269.78" font-size="5.7" fill="#4a4a4a" text-anchor="middle" stroke="#4a4a4a" stroke-width="0.2">2.2</text>
<text x="466.12" y="269.78" font-size="5.7" fill="#4a4a4a" text-anchor="middle" stroke="#4a4a4a" stroke-width="0.2">1.4</text>
<text x="486.54" y="269.78" font-size="5.7" fill="#4a4a4a" text-anchor="middle" stroke="#4a4a4a" stroke-width="0.2">2.1</text>
<text x="506.97" y="269.78" font-size="5.7" fill="#4a4a4a" text-anchor="middle" stroke="#4a4a4a" stroke-width="0.2">2.0</text>
<text x="527.4" y="269.78" font-size="5.7" fill="#4a4a4a" text-anchor="middle" stroke="#4a4a4a" stroke-width="0.2">3.2</text>
<text x="547.84" y="269.78" font-size="5.7" fill="#4a4a4a" text-anchor="middle" stroke="#4a4a4a" stroke-width="0.2">1.9</text>
<text x="568.26" y="269.78" font-size="5.7" fill="#4a4a4a" text-anchor="middle" stroke="#4a4a4a" stroke-width="0.2">0.8</text>
<text x="588.69" y="269.78" font-size="5.7" fill="#4a4a4a" text-anchor="middle" stroke="#4a4a4a" stroke-width="0.2">1.1</text>
<text x="609.12" y="270.38" font-size="8.6" font-style="italic" fill="#1ea34e" text-anchor="middle" stroke="#1ea34e" stroke-width="0.14">18a</text>
<text x="629.55" y="269.78" font-size="5.7" fill="#4a4a4a" text-anchor="middle" stroke="#4a4a4a" stroke-width="0.2">0.2</text>
<text x="57.52" y="278.89" font-size="5.7" fill="#4a4a4a" text-anchor="middle" stroke="#4a4a4a" stroke-width="0.2">1.7</text>
<text x="77.94" y="278.89" font-size="5.7" fill="#4a4a4a" text-anchor="middle" stroke="#4a4a4a" stroke-width="0.2">1.7</text>
<text x="98.38" y="278.89" font-size="5.7" fill="#4a4a4a" text-anchor="middle" stroke="#4a4a4a" stroke-width="0.2">1.0</text>
<text x="118.81" y="278.89" font-size="5.7" fill="#4a4a4a" text-anchor="middle" stroke="#4a4a4a" stroke-width="0.2">0.4</text>
<text x="139.23" y="278.89" font-size="5.7" fill="#4a4a4a" text-anchor="middle" stroke="#4a4a4a" stroke-width="0.2">1.1</text>
<text x="159.66" y="278.89" font-size="5.7" fill="#4a4a4a" text-anchor="middle" stroke="#4a4a4a" stroke-width="0.2">1.1</text>
<text x="180.09" y="278.89" font-size="5.7" fill="#4a4a4a" text-anchor="middle" stroke="#4a4a4a" stroke-width="0.2">0.6</text>
<text x="200.53" y="278.89" font-size="5.7" fill="#4a4a4a" text-anchor="middle" stroke="#4a4a4a" stroke-width="0.2">0.7</text>
<text x="220.96" y="278.89" font-size="5.7" fill="#4a4a4a" text-anchor="middle" stroke="#4a4a4a" stroke-width="0.2">0.7</text>
<text x="241.39" y="278.89" font-size="5.7" fill="#4a4a4a" text-anchor="middle" stroke="#4a4a4a" stroke-width="0.2">0.1</text>
<text x="261.81" y="278.89" font-size="5.7" fill="#4a4a4a" text-anchor="middle" stroke="#4a4a4a" stroke-width="0.2">1.3</text>
<text x="282.24" y="278.89" font-size="5.7" fill="#4a4a4a" text-anchor="middle" stroke="#4a4a4a" stroke-width="0.2">0.2</text>
<text x="302.67" y="278.89" font-size="5.7" fill="#4a4a4a" text-anchor="middle" stroke="#4a4a4a" stroke-width="0.2">0.1</text>
<text x="323.1" y="278.89" font-size="5.7" fill="#4a4a4a" text-anchor="middle" stroke="#4a4a4a" stroke-width="0.2">0.3</text>
<text x="343.53" y="278.89" font-size="5.7" fill="#4a4a4a" text-anchor="middle" stroke="#4a4a4a" stroke-width="0.2">0.5</text>
<text x="363.96" y="278.89" font-size="5.7" fill="#4a4a4a" text-anchor="middle" stroke="#4a4a4a" stroke-width="0.2">0.9</text>
<text x="384.39" y="278.89" font-size="5.7" fill="#4a4a4a" text-anchor="middle" stroke="#4a4a4a" stroke-width="0.2">0.5</text>
<text x="404.82" y="278.89" font-size="5.7" fill="#4a4a4a" text-anchor="middle" stroke="#4a4a4a" stroke-width="0.2">0.3</text>
<text x="425.25" y="278.89" font-size="5.7" fill="#4a4a4a" text-anchor="middle" stroke="#4a4a4a" stroke-width="0.2">0.5</text>
<text x="445.69" y="278.89" font-size="5.7" fill="#4a4a4a" text-anchor="middle" stroke="#4a4a4a" stroke-width="0.2">0.5</text>
<text x="466.12" y="278.89" font-size="5.7" fill="#4a4a4a" text-anchor="middle" stroke="#4a4a4a" stroke-width="0.2">0.4</text>
<text x="486.54" y="278.89" font-size="5.7" fill="#4a4a4a" text-anchor="middle" stroke="#4a4a4a" stroke-width="0.2">0.8</text>
<text x="506.97" y="278.89" font-size="5.7" fill="#4a4a4a" text-anchor="middle" stroke="#4a4a4a" stroke-width="0.2">0.7</text>
<text x="527.4" y="278.89" font-size="5.7" fill="#4a4a4a" text-anchor="middle" stroke="#4a4a4a" stroke-width="0.2">2.0</text>
<text x="547.84" y="278.89" font-size="5.7" fill="#4a4a4a" text-anchor="middle" stroke="#4a4a4a" stroke-width="0.2">0.5</text>
<text x="568.26" y="278.89" font-size="5.7" fill="#4a4a4a" text-anchor="middle" stroke="#4a4a4a" stroke-width="0.2">0.2</text>
<text x="588.69" y="278.89" font-size="5.7" fill="#4a4a4a" text-anchor="middle" stroke="#4a4a4a" stroke-width="0.2">0.1</text>
<text x="609.12" y="278.89" font-size="5.7" fill="#4a4a4a" text-anchor="middle" stroke="#4a4a4a" stroke-width="0.2">0.4</text>
<text x="629.55" y="279.49" font-size="8.6" font-style="italic" fill="#1ea34e" text-anchor="middle" stroke="#1ea34e" stroke-width="0.14">Xa</text>
<rect x="47.3" y="16.5" width="592.47" height="264.19" fill="none" stroke="#8a8a8a" stroke-width="1"/>
<rect x="47.3" y="16.5" width="81.72" height="36.44" fill="none" stroke="#e0353f" stroke-width="1.2"/>
<rect x="129.02" y="52.94" width="61.29" height="27.33" fill="none" stroke="#e0353f" stroke-width="1.2"/>
<rect x="210.74" y="89.38" width="40.86" height="18.22" fill="none" stroke="#e0353f" stroke-width="1.2"/>
<rect x="272.03" y="116.71" width="40.86" height="18.22" fill="none" stroke="#e0353f" stroke-width="1.2"/>
<rect x="312.89" y="134.93" width="61.29" height="27.33" fill="none" stroke="#e0353f" stroke-width="1.2"/>
<rect x="394.61" y="171.37" width="61.29" height="27.33" fill="none" stroke="#e0353f" stroke-width="1.2"/>
<rect x="496.76" y="216.92" width="40.86" height="18.22" fill="none" stroke="#e0353f" stroke-width="1.2"/>
<rect x="537.62" y="235.14" width="40.86" height="18.22" fill="none" stroke="#e0353f" stroke-width="1.2"/>
<line x1="57.52" y1="12" x2="57.52" y2="16.5" stroke="#555" stroke-width="0.8"/>
<line x1="57.52" y1="280.69" x2="57.52" y2="285.19" stroke="#555" stroke-width="0.8"/>
<line x1="42.5" y1="21.05" x2="47.3" y2="21.05" stroke="#555" stroke-width="0.8"/>
<line x1="639.77" y1="21.05" x2="644.57" y2="21.05" stroke="#555" stroke-width="0.8"/>
<text x="57.52" y="6.6" font-size="8.4" font-style="italic" fill="#333" text-anchor="middle" stroke="#333" stroke-width="0.14">1a</text>
<text x="57.52" y="294.89" font-size="8.4" font-style="italic" fill="#333" text-anchor="middle" stroke="#333" stroke-width="0.14">1a</text>
<text x="38.8" y="24.36" font-size="8.4" font-style="italic" fill="#333" text-anchor="end" stroke="#333" stroke-width="0.14">1a</text>
<text x="649.57" y="24.36" font-size="8.4" font-style="italic" fill="#333" stroke="#333" stroke-width="0.14">1a</text>
<line x1="77.94" y1="12" x2="77.94" y2="16.5" stroke="#555" stroke-width="0.8"/>
<line x1="77.94" y1="280.69" x2="77.94" y2="285.19" stroke="#555" stroke-width="0.8"/>
<line x1="42.5" y1="30.16" x2="47.3" y2="30.16" stroke="#555" stroke-width="0.8"/>
<line x1="639.77" y1="30.16" x2="644.57" y2="30.16" stroke="#555" stroke-width="0.8"/>
<text x="77.94" y="6.6" font-size="8.4" font-style="italic" fill="#333" text-anchor="middle" stroke="#333" stroke-width="0.14">1b</text>
<text x="77.94" y="294.89" font-size="8.4" font-style="italic" fill="#333" text-anchor="middle" stroke="#333" stroke-width="0.14">1b</text>
<text x="38.8" y="33.46" font-size="8.4" font-style="italic" fill="#333" text-anchor="end" stroke="#333" stroke-width="0.14">1b</text>
<text x="649.57" y="33.46" font-size="8.4" font-style="italic" fill="#333" stroke="#333" stroke-width="0.14">1b</text>
<line x1="98.38" y1="12" x2="98.38" y2="16.5" stroke="#555" stroke-width="0.8"/>
<line x1="98.38" y1="280.69" x2="98.38" y2="285.19" stroke="#555" stroke-width="0.8"/>
<line x1="42.5" y1="39.27" x2="47.3" y2="39.27" stroke="#555" stroke-width="0.8"/>
<line x1="639.77" y1="39.27" x2="644.57" y2="39.27" stroke="#555" stroke-width="0.8"/>
<text x="98.38" y="6.6" font-size="8.4" font-style="italic" fill="#333" text-anchor="middle" stroke="#333" stroke-width="0.14">1c</text>
<text x="98.38" y="294.89" font-size="8.4" font-style="italic" fill="#333" text-anchor="middle" stroke="#333" stroke-width="0.14">1c</text>
<text x="38.8" y="42.57" font-size="8.4" font-style="italic" fill="#333" text-anchor="end" stroke="#333" stroke-width="0.14">1c</text>
<text x="649.57" y="42.57" font-size="8.4" font-style="italic" fill="#333" stroke="#333" stroke-width="0.14">1c</text>
<line x1="118.81" y1="12" x2="118.81" y2="16.5" stroke="#555" stroke-width="0.8"/>
<line x1="118.81" y1="280.69" x2="118.81" y2="285.19" stroke="#555" stroke-width="0.8"/>
<line x1="42.5" y1="48.38" x2="47.3" y2="48.38" stroke="#555" stroke-width="0.8"/>
<line x1="639.77" y1="48.38" x2="644.57" y2="48.38" stroke="#555" stroke-width="0.8"/>
<text x="118.81" y="6.6" font-size="8.4" font-style="italic" fill="#333" text-anchor="middle" stroke="#333" stroke-width="0.14">1d</text>
<text x="118.81" y="294.89" font-size="8.4" font-style="italic" fill="#333" text-anchor="middle" stroke="#333" stroke-width="0.14">1d</text>
<text x="38.8" y="51.68" font-size="8.4" font-style="italic" fill="#333" text-anchor="end" stroke="#333" stroke-width="0.14">1d</text>
<text x="649.57" y="51.68" font-size="8.4" font-style="italic" fill="#333" stroke="#333" stroke-width="0.14">1d</text>
<line x1="139.23" y1="12" x2="139.23" y2="16.5" stroke="#555" stroke-width="0.8"/>
<line x1="139.23" y1="280.69" x2="139.23" y2="285.19" stroke="#555" stroke-width="0.8"/>
<line x1="42.5" y1="57.49" x2="47.3" y2="57.49" stroke="#555" stroke-width="0.8"/>
<line x1="639.77" y1="57.49" x2="644.57" y2="57.49" stroke="#555" stroke-width="0.8"/>
<text x="139.23" y="6.6" font-size="8.4" font-style="italic" fill="#333" text-anchor="middle" stroke="#333" stroke-width="0.14">2a</text>
<text x="139.23" y="294.89" font-size="8.4" font-style="italic" fill="#333" text-anchor="middle" stroke="#333" stroke-width="0.14">2a</text>
<text x="38.8" y="60.79" font-size="8.4" font-style="italic" fill="#333" text-anchor="end" stroke="#333" stroke-width="0.14">2a</text>
<text x="649.57" y="60.79" font-size="8.4" font-style="italic" fill="#333" stroke="#333" stroke-width="0.14">2a</text>
<line x1="159.66" y1="12" x2="159.66" y2="16.5" stroke="#555" stroke-width="0.8"/>
<line x1="159.66" y1="280.69" x2="159.66" y2="285.19" stroke="#555" stroke-width="0.8"/>
<line x1="42.5" y1="66.6" x2="47.3" y2="66.6" stroke="#555" stroke-width="0.8"/>
<line x1="639.77" y1="66.6" x2="644.57" y2="66.6" stroke="#555" stroke-width="0.8"/>
<text x="159.66" y="6.6" font-size="8.4" font-style="italic" fill="#333" text-anchor="middle" stroke="#333" stroke-width="0.14">2b</text>
<text x="159.66" y="294.89" font-size="8.4" font-style="italic" fill="#333" text-anchor="middle" stroke="#333" stroke-width="0.14">2b</text>
<text x="38.8" y="69.9" font-size="8.4" font-style="italic" fill="#333" text-anchor="end" stroke="#333" stroke-width="0.14">2b</text>
<text x="649.57" y="69.9" font-size="8.4" font-style="italic" fill="#333" stroke="#333" stroke-width="0.14">2b</text>
<line x1="180.09" y1="12" x2="180.09" y2="16.5" stroke="#555" stroke-width="0.8"/>
<line x1="180.09" y1="280.69" x2="180.09" y2="285.19" stroke="#555" stroke-width="0.8"/>
<line x1="42.5" y1="75.72" x2="47.3" y2="75.72" stroke="#555" stroke-width="0.8"/>
<line x1="639.77" y1="75.72" x2="644.57" y2="75.72" stroke="#555" stroke-width="0.8"/>
<text x="180.09" y="6.6" font-size="8.4" font-style="italic" fill="#333" text-anchor="middle" stroke="#333" stroke-width="0.14">2c</text>
<text x="180.09" y="294.89" font-size="8.4" font-style="italic" fill="#333" text-anchor="middle" stroke="#333" stroke-width="0.14">2c</text>
<text x="38.8" y="79.02" font-size="8.4" font-style="italic" fill="#333" text-anchor="end" stroke="#333" stroke-width="0.14">2c</text>
<text x="649.57" y="79.02" font-size="8.4" font-style="italic" fill="#333" stroke="#333" stroke-width="0.14">2c</text>
<line x1="200.53" y1="12" x2="200.53" y2="16.5" stroke="#555" stroke-width="0.8"/>
<line x1="200.53" y1="280.69" x2="200.53" y2="285.19" stroke="#555" stroke-width="0.8"/>
<line x1="42.5" y1="84.82" x2="47.3" y2="84.82" stroke="#555" stroke-width="0.8"/>
<line x1="639.77" y1="84.82" x2="644.57" y2="84.82" stroke="#555" stroke-width="0.8"/>
<text x="200.53" y="6.6" font-size="8.4" font-style="italic" fill="#333" text-anchor="middle" stroke="#333" stroke-width="0.14">3a</text>
<text x="200.53" y="294.89" font-size="8.4" font-style="italic" fill="#333" text-anchor="middle" stroke="#333" stroke-width="0.14">3a</text>
<text x="38.8" y="88.12" font-size="8.4" font-style="italic" fill="#333" text-anchor="end" stroke="#333" stroke-width="0.14">3a</text>
<text x="649.57" y="88.12" font-size="8.4" font-style="italic" fill="#333" stroke="#333" stroke-width="0.14">3a</text>
<line x1="220.96" y1="12" x2="220.96" y2="16.5" stroke="#555" stroke-width="0.8"/>
<line x1="220.96" y1="280.69" x2="220.96" y2="285.19" stroke="#555" stroke-width="0.8"/>
<line x1="42.5" y1="93.94" x2="47.3" y2="93.94" stroke="#555" stroke-width="0.8"/>
<line x1="639.77" y1="93.94" x2="644.57" y2="93.94" stroke="#555" stroke-width="0.8"/>
<text x="220.96" y="6.6" font-size="8.4" font-style="italic" fill="#333" text-anchor="middle" stroke="#333" stroke-width="0.14">4a</text>
<text x="220.96" y="294.89" font-size="8.4" font-style="italic" fill="#333" text-anchor="middle" stroke="#333" stroke-width="0.14">4a</text>
<text x="38.8" y="97.23" font-size="8.4" font-style="italic" fill="#333" text-anchor="end" stroke="#333" stroke-width="0.14">4a</text>
<text x="649.57" y="97.23" font-size="8.4" font-style="italic" fill="#333" stroke="#333" stroke-width="0.14">4a</text>
<line x1="241.39" y1="12" x2="241.39" y2="16.5" stroke="#555" stroke-width="0.8"/>
<line x1="241.39" y1="280.69" x2="241.39" y2="285.19" stroke="#555" stroke-width="0.8"/>
<line x1="42.5" y1="103.04" x2="47.3" y2="103.04" stroke="#555" stroke-width="0.8"/>
<line x1="639.77" y1="103.04" x2="644.57" y2="103.04" stroke="#555" stroke-width="0.8"/>
<text x="241.39" y="6.6" font-size="8.4" font-style="italic" fill="#333" text-anchor="middle" stroke="#333" stroke-width="0.14">4b</text>
<text x="241.39" y="294.89" font-size="8.4" font-style="italic" fill="#333" text-anchor="middle" stroke="#333" stroke-width="0.14">4b</text>
<text x="38.8" y="106.34" font-size="8.4" font-style="italic" fill="#333" text-anchor="end" stroke="#333" stroke-width="0.14">4b</text>
<text x="649.57" y="106.34" font-size="8.4" font-style="italic" fill="#333" stroke="#333" stroke-width="0.14">4b</text>
<line x1="261.81" y1="12" x2="261.81" y2="16.5" stroke="#555" stroke-width="0.8"/>
<line x1="261.81" y1="280.69" x2="261.81" y2="285.19" stroke="#555" stroke-width="0.8"/>
<line x1="42.5" y1="112.16" x2="47.3" y2="112.16" stroke="#555" stroke-width="0.8"/>
<line x1="639.77" y1="112.16" x2="644.57" y2="112.16" stroke="#555" stroke-width="0.8"/>
<text x="261.81" y="6.6" font-size="8.4" font-style="italic" fill="#333" text-anchor="middle" stroke="#333" stroke-width="0.14">5a</text>
<text x="261.81" y="294.89" font-size="8.4" font-style="italic" fill="#333" text-anchor="middle" stroke="#333" stroke-width="0.14">5a</text>
<text x="38.8" y="115.45" font-size="8.4" font-style="italic" fill="#333" text-anchor="end" stroke="#333" stroke-width="0.14">5a</text>
<text x="649.57" y="115.45" font-size="8.4" font-style="italic" fill="#333" stroke="#333" stroke-width="0.14">5a</text>
<line x1="282.24" y1="12" x2="282.24" y2="16.5" stroke="#555" stroke-width="0.8"/>
<line x1="282.24" y1="280.69" x2="282.24" y2="285.19" stroke="#555" stroke-width="0.8"/>
<line x1="42.5" y1="121.26" x2="47.3" y2="121.26" stroke="#555" stroke-width="0.8"/>
<line x1="639.77" y1="121.26" x2="644.57" y2="121.26" stroke="#555" stroke-width="0.8"/>
<text x="282.24" y="6.6" font-size="8.4" font-style="italic" fill="#333" text-anchor="middle" stroke="#333" stroke-width="0.14">6a</text>
<text x="282.24" y="294.89" font-size="8.4" font-style="italic" fill="#333" text-anchor="middle" stroke="#333" stroke-width="0.14">6a</text>
<text x="38.8" y="124.56" font-size="8.4" font-style="italic" fill="#333" text-anchor="end" stroke="#333" stroke-width="0.14">6a</text>
<text x="649.57" y="124.56" font-size="8.4" font-style="italic" fill="#333" stroke="#333" stroke-width="0.14">6a</text>
<line x1="302.67" y1="12" x2="302.67" y2="16.5" stroke="#555" stroke-width="0.8"/>
<line x1="302.67" y1="280.69" x2="302.67" y2="285.19" stroke="#555" stroke-width="0.8"/>
<line x1="42.5" y1="130.38" x2="47.3" y2="130.38" stroke="#555" stroke-width="0.8"/>
<line x1="639.77" y1="130.38" x2="644.57" y2="130.38" stroke="#555" stroke-width="0.8"/>
<text x="302.67" y="6.6" font-size="8.4" font-style="italic" fill="#333" text-anchor="middle" stroke="#333" stroke-width="0.14">6b</text>
<text x="302.67" y="294.89" font-size="8.4" font-style="italic" fill="#333" text-anchor="middle" stroke="#333" stroke-width="0.14">6b</text>
<text x="38.8" y="133.68" font-size="8.4" font-style="italic" fill="#333" text-anchor="end" stroke="#333" stroke-width="0.14">6b</text>
<text x="649.57" y="133.68" font-size="8.4" font-style="italic" fill="#333" stroke="#333" stroke-width="0.14">6b</text>
<line x1="323.1" y1="12" x2="323.1" y2="16.5" stroke="#555" stroke-width="0.8"/>
<line x1="323.1" y1="280.69" x2="323.1" y2="285.19" stroke="#555" stroke-width="0.8"/>
<line x1="42.5" y1="139.49" x2="47.3" y2="139.49" stroke="#555" stroke-width="0.8"/>
<line x1="639.77" y1="139.49" x2="644.57" y2="139.49" stroke="#555" stroke-width="0.8"/>
<text x="323.1" y="6.6" font-size="8.4" font-style="italic" fill="#333" text-anchor="middle" stroke="#333" stroke-width="0.14">9a</text>
<text x="323.1" y="294.89" font-size="8.4" font-style="italic" fill="#333" text-anchor="middle" stroke="#333" stroke-width="0.14">9a</text>
<text x="38.8" y="142.79" font-size="8.4" font-style="italic" fill="#333" text-anchor="end" stroke="#333" stroke-width="0.14">9a</text>
<text x="649.57" y="142.79" font-size="8.4" font-style="italic" fill="#333" stroke="#333" stroke-width="0.14">9a</text>
<line x1="343.53" y1="12" x2="343.53" y2="16.5" stroke="#555" stroke-width="0.8"/>
<line x1="343.53" y1="280.69" x2="343.53" y2="285.19" stroke="#555" stroke-width="0.8"/>
<line x1="42.5" y1="148.59" x2="47.3" y2="148.59" stroke="#555" stroke-width="0.8"/>
<line x1="639.77" y1="148.59" x2="644.57" y2="148.59" stroke="#555" stroke-width="0.8"/>
<text x="343.53" y="6.6" font-size="8.4" font-style="italic" fill="#333" text-anchor="middle" stroke="#333" stroke-width="0.14">9b</text>
<text x="343.53" y="294.89" font-size="8.4" font-style="italic" fill="#333" text-anchor="middle" stroke="#333" stroke-width="0.14">9b</text>
<text x="38.8" y="151.9" font-size="8.4" font-style="italic" fill="#333" text-anchor="end" stroke="#333" stroke-width="0.14">9b</text>
<text x="649.57" y="151.9" font-size="8.4" font-style="italic" fill="#333" stroke="#333" stroke-width="0.14">9b</text>
<line x1="363.96" y1="12" x2="363.96" y2="16.5" stroke="#555" stroke-width="0.8"/>
<line x1="363.96" y1="280.69" x2="363.96" y2="285.19" stroke="#555" stroke-width="0.8"/>
<line x1="42.5" y1="157.7" x2="47.3" y2="157.7" stroke="#555" stroke-width="0.8"/>
<line x1="639.77" y1="157.7" x2="644.57" y2="157.7" stroke="#555" stroke-width="0.8"/>
<text x="363.96" y="6.6" font-size="8.4" font-style="italic" fill="#333" text-anchor="middle" stroke="#333" stroke-width="0.14">9c</text>
<text x="363.96" y="294.89" font-size="8.4" font-style="italic" fill="#333" text-anchor="middle" stroke="#333" stroke-width="0.14">9c</text>
<text x="38.8" y="161" font-size="8.4" font-style="italic" fill="#333" text-anchor="end" stroke="#333" stroke-width="0.14">9c</text>
<text x="649.57" y="161" font-size="8.4" font-style="italic" fill="#333" stroke="#333" stroke-width="0.14">9c</text>
<line x1="384.39" y1="12" x2="384.39" y2="16.5" stroke="#555" stroke-width="0.8"/>
<line x1="384.39" y1="280.69" x2="384.39" y2="285.19" stroke="#555" stroke-width="0.8"/>
<line x1="42.5" y1="166.81" x2="47.3" y2="166.81" stroke="#555" stroke-width="0.8"/>
<line x1="639.77" y1="166.81" x2="644.57" y2="166.81" stroke="#555" stroke-width="0.8"/>
<text x="384.39" y="6.6" font-size="8.4" font-style="italic" fill="#333" text-anchor="middle" stroke="#333" stroke-width="0.14">10a</text>
<text x="384.39" y="294.89" font-size="8.4" font-style="italic" fill="#333" text-anchor="middle" stroke="#333" stroke-width="0.14">10a</text>
<text x="38.8" y="170.12" font-size="8.4" font-style="italic" fill="#333" text-anchor="end" stroke="#333" stroke-width="0.14">10a</text>
<text x="649.57" y="170.12" font-size="8.4" font-style="italic" fill="#333" stroke="#333" stroke-width="0.14">10a</text>
<line x1="404.82" y1="12" x2="404.82" y2="16.5" stroke="#555" stroke-width="0.8"/>
<line x1="404.82" y1="280.69" x2="404.82" y2="285.19" stroke="#555" stroke-width="0.8"/>
<line x1="42.5" y1="175.93" x2="47.3" y2="175.93" stroke="#555" stroke-width="0.8"/>
<line x1="639.77" y1="175.93" x2="644.57" y2="175.93" stroke="#555" stroke-width="0.8"/>
<text x="404.82" y="6.6" font-size="8.4" font-style="italic" fill="#333" text-anchor="middle" stroke="#333" stroke-width="0.14">11a</text>
<text x="404.82" y="294.89" font-size="8.4" font-style="italic" fill="#333" text-anchor="middle" stroke="#333" stroke-width="0.14">11a</text>
<text x="38.8" y="179.23" font-size="8.4" font-style="italic" fill="#333" text-anchor="end" stroke="#333" stroke-width="0.14">11a</text>
<text x="649.57" y="179.23" font-size="8.4" font-style="italic" fill="#333" stroke="#333" stroke-width="0.14">11a</text>
<line x1="425.25" y1="12" x2="425.25" y2="16.5" stroke="#555" stroke-width="0.8"/>
<line x1="425.25" y1="280.69" x2="425.25" y2="285.19" stroke="#555" stroke-width="0.8"/>
<line x1="42.5" y1="185.03" x2="47.3" y2="185.03" stroke="#555" stroke-width="0.8"/>
<line x1="639.77" y1="185.03" x2="644.57" y2="185.03" stroke="#555" stroke-width="0.8"/>
<text x="425.25" y="6.6" font-size="8.4" font-style="italic" fill="#333" text-anchor="middle" stroke="#333" stroke-width="0.14">11b</text>
<text x="425.25" y="294.89" font-size="8.4" font-style="italic" fill="#333" text-anchor="middle" stroke="#333" stroke-width="0.14">11b</text>
<text x="38.8" y="188.34" font-size="8.4" font-style="italic" fill="#333" text-anchor="end" stroke="#333" stroke-width="0.14">11b</text>
<text x="649.57" y="188.34" font-size="8.4" font-style="italic" fill="#333" stroke="#333" stroke-width="0.14">11b</text>
<line x1="445.69" y1="12" x2="445.69" y2="16.5" stroke="#555" stroke-width="0.8"/>
<line x1="445.69" y1="280.69" x2="445.69" y2="285.19" stroke="#555" stroke-width="0.8"/>
<line x1="42.5" y1="194.14" x2="47.3" y2="194.14" stroke="#555" stroke-width="0.8"/>
<line x1="639.77" y1="194.14" x2="644.57" y2="194.14" stroke="#555" stroke-width="0.8"/>
<text x="445.69" y="6.6" font-size="8.4" font-style="italic" fill="#333" text-anchor="middle" stroke="#333" stroke-width="0.14">11c</text>
<text x="445.69" y="294.89" font-size="8.4" font-style="italic" fill="#333" text-anchor="middle" stroke="#333" stroke-width="0.14">11c</text>
<text x="38.8" y="197.44" font-size="8.4" font-style="italic" fill="#333" text-anchor="end" stroke="#333" stroke-width="0.14">11c</text>
<text x="649.57" y="197.44" font-size="8.4" font-style="italic" fill="#333" stroke="#333" stroke-width="0.14">11c</text>
<line x1="466.12" y1="12" x2="466.12" y2="16.5" stroke="#555" stroke-width="0.8"/>
<line x1="466.12" y1="280.69" x2="466.12" y2="285.19" stroke="#555" stroke-width="0.8"/>
<line x1="42.5" y1="203.25" x2="47.3" y2="203.25" stroke="#555" stroke-width="0.8"/>
<line x1="639.77" y1="203.25" x2="644.57" y2="203.25" stroke="#555" stroke-width="0.8"/>
<text x="466.12" y="6.6" font-size="8.4" font-style="italic" fill="#333" text-anchor="middle" stroke="#333" stroke-width="0.14">12a</text>
<text x="466.12" y="294.89" font-size="8.4" font-style="italic" fill="#333" text-anchor="middle" stroke="#333" stroke-width="0.14">12a</text>
<text x="38.8" y="206.56" font-size="8.4" font-style="italic" fill="#333" text-anchor="end" stroke="#333" stroke-width="0.14">12a</text>
<text x="649.57" y="206.56" font-size="8.4" font-style="italic" fill="#333" stroke="#333" stroke-width="0.14">12a</text>
<line x1="486.54" y1="12" x2="486.54" y2="16.5" stroke="#555" stroke-width="0.8"/>
<line x1="486.54" y1="280.69" x2="486.54" y2="285.19" stroke="#555" stroke-width="0.8"/>
<line x1="42.5" y1="212.37" x2="47.3" y2="212.37" stroke="#555" stroke-width="0.8"/>
<line x1="639.77" y1="212.37" x2="644.57" y2="212.37" stroke="#555" stroke-width="0.8"/>
<text x="486.54" y="6.6" font-size="8.4" font-style="italic" fill="#333" text-anchor="middle" stroke="#333" stroke-width="0.14">13a</text>
<text x="486.54" y="294.89" font-size="8.4" font-style="italic" fill="#333" text-anchor="middle" stroke="#333" stroke-width="0.14">13a</text>
<text x="38.8" y="215.67" font-size="8.4" font-style="italic" fill="#333" text-anchor="end" stroke="#333" stroke-width="0.14">13a</text>
<text x="649.57" y="215.67" font-size="8.4" font-style="italic" fill="#333" stroke="#333" stroke-width="0.14">13a</text>
<line x1="506.97" y1="12" x2="506.97" y2="16.5" stroke="#555" stroke-width="0.8"/>
<line x1="506.97" y1="280.69" x2="506.97" y2="285.19" stroke="#555" stroke-width="0.8"/>
<line x1="42.5" y1="221.47" x2="47.3" y2="221.47" stroke="#555" stroke-width="0.8"/>
<line x1="639.77" y1="221.47" x2="644.57" y2="221.47" stroke="#555" stroke-width="0.8"/>
<text x="506.97" y="6.6" font-size="8.4" font-style="italic" fill="#333" text-anchor="middle" stroke="#333" stroke-width="0.14">14a</text>
<text x="506.97" y="294.89" font-size="8.4" font-style="italic" fill="#333" text-anchor="middle" stroke="#333" stroke-width="0.14">14a</text>
<text x="38.8" y="224.78" font-size="8.4" font-style="italic" fill="#333" text-anchor="end" stroke="#333" stroke-width="0.14">14a</text>
<text x="649.57" y="224.78" font-size="8.4" font-style="italic" fill="#333" stroke="#333" stroke-width="0.14">14a</text>
<line x1="527.4" y1="12" x2="527.4" y2="16.5" stroke="#555" stroke-width="0.8"/>
<line x1="527.4" y1="280.69" x2="527.4" y2="285.19" stroke="#555" stroke-width="0.8"/>
<line x1="42.5" y1="230.58" x2="47.3" y2="230.58" stroke="#555" stroke-width="0.8"/>
<line x1="639.77" y1="230.58" x2="644.57" y2="230.58" stroke="#555" stroke-width="0.8"/>
<text x="527.4" y="6.6" font-size="8.4" font-style="italic" fill="#333" text-anchor="middle" stroke="#333" stroke-width="0.14">14b</text>
<text x="527.4" y="294.89" font-size="8.4" font-style="italic" fill="#333" text-anchor="middle" stroke="#333" stroke-width="0.14">14b</text>
<text x="38.8" y="233.88" font-size="8.4" font-style="italic" fill="#333" text-anchor="end" stroke="#333" stroke-width="0.14">14b</text>
<text x="649.57" y="233.88" font-size="8.4" font-style="italic" fill="#333" stroke="#333" stroke-width="0.14">14b</text>
<line x1="547.84" y1="12" x2="547.84" y2="16.5" stroke="#555" stroke-width="0.8"/>
<line x1="547.84" y1="280.69" x2="547.84" y2="285.19" stroke="#555" stroke-width="0.8"/>
<line x1="42.5" y1="239.69" x2="47.3" y2="239.69" stroke="#555" stroke-width="0.8"/>
<line x1="639.77" y1="239.69" x2="644.57" y2="239.69" stroke="#555" stroke-width="0.8"/>
<text x="547.84" y="6.6" font-size="8.4" font-style="italic" fill="#333" text-anchor="middle" stroke="#333" stroke-width="0.14">15a</text>
<text x="547.84" y="294.89" font-size="8.4" font-style="italic" fill="#333" text-anchor="middle" stroke="#333" stroke-width="0.14">15a</text>
<text x="38.8" y="243" font-size="8.4" font-style="italic" fill="#333" text-anchor="end" stroke="#333" stroke-width="0.14">15a</text>
<text x="649.57" y="243" font-size="8.4" font-style="italic" fill="#333" stroke="#333" stroke-width="0.14">15a</text>
<line x1="568.26" y1="12" x2="568.26" y2="16.5" stroke="#555" stroke-width="0.8"/>
<line x1="568.26" y1="280.69" x2="568.26" y2="285.19" stroke="#555" stroke-width="0.8"/>
<line x1="42.5" y1="248.81" x2="47.3" y2="248.81" stroke="#555" stroke-width="0.8"/>
<line x1="639.77" y1="248.81" x2="644.57" y2="248.81" stroke="#555" stroke-width="0.8"/>
<text x="568.26" y="6.6" font-size="8.4" font-style="italic" fill="#333" text-anchor="middle" stroke="#333" stroke-width="0.14">15b</text>
<text x="568.26" y="294.89" font-size="8.4" font-style="italic" fill="#333" text-anchor="middle" stroke="#333" stroke-width="0.14">15b</text>
<text x="38.8" y="252.11" font-size="8.4" font-style="italic" fill="#333" text-anchor="end" stroke="#333" stroke-width="0.14">15b</text>
<text x="649.57" y="252.11" font-size="8.4" font-style="italic" fill="#333" stroke="#333" stroke-width="0.14">15b</text>
<line x1="588.69" y1="12" x2="588.69" y2="16.5" stroke="#555" stroke-width="0.8"/>
<line x1="588.69" y1="280.69" x2="588.69" y2="285.19" stroke="#555" stroke-width="0.8"/>
<line x1="42.5" y1="257.91" x2="47.3" y2="257.91" stroke="#555" stroke-width="0.8"/>
<line x1="639.77" y1="257.91" x2="644.57" y2="257.91" stroke="#555" stroke-width="0.8"/>
<text x="588.69" y="6.6" font-size="8.4" font-style="italic" fill="#333" text-anchor="middle" stroke="#333" stroke-width="0.14">17a</text>
<text x="588.69" y="294.89" font-size="8.4" font-style="italic" fill="#333" text-anchor="middle" stroke="#333" stroke-width="0.14">17a</text>
<text x="38.8" y="261.21" font-size="8.4" font-style="italic" fill="#333" text-anchor="end" stroke="#333" stroke-width="0.14">17a</text>
<text x="649.57" y="261.21" font-size="8.4" font-style="italic" fill="#333" stroke="#333" stroke-width="0.14">17a</text>
<line x1="609.12" y1="12" x2="609.12" y2="16.5" stroke="#555" stroke-width="0.8"/>
<line x1="609.12" y1="280.69" x2="609.12" y2="285.19" stroke="#555" stroke-width="0.8"/>
<line x1="42.5" y1="267.02" x2="47.3" y2="267.02" stroke="#555" stroke-width="0.8"/>
<line x1="639.77" y1="267.02" x2="644.57" y2="267.02" stroke="#555" stroke-width="0.8"/>
<text x="609.12" y="6.6" font-size="8.4" font-style="italic" fill="#333" text-anchor="middle" stroke="#333" stroke-width="0.14">18a</text>
<text x="609.12" y="294.89" font-size="8.4" font-style="italic" fill="#333" text-anchor="middle" stroke="#333" stroke-width="0.14">18a</text>
<text x="38.8" y="270.32" font-size="8.4" font-style="italic" fill="#333" text-anchor="end" stroke="#333" stroke-width="0.14">18a</text>
<text x="649.57" y="270.32" font-size="8.4" font-style="italic" fill="#333" stroke="#333" stroke-width="0.14">18a</text>
<line x1="629.55" y1="12" x2="629.55" y2="16.5" stroke="#555" stroke-width="0.8"/>
<line x1="629.55" y1="280.69" x2="629.55" y2="285.19" stroke="#555" stroke-width="0.8"/>
<line x1="42.5" y1="276.13" x2="47.3" y2="276.13" stroke="#555" stroke-width="0.8"/>
<line x1="639.77" y1="276.13" x2="644.57" y2="276.13" stroke="#555" stroke-width="0.8"/>
<text x="629.55" y="6.6" font-size="8.4" font-style="italic" fill="#333" text-anchor="middle" stroke="#333" stroke-width="0.14">Xa</text>
<text x="629.55" y="294.89" font-size="8.4" font-style="italic" fill="#333" text-anchor="middle" stroke="#333" stroke-width="0.14">Xa</text>
<text x="38.8" y="279.44" font-size="8.4" font-style="italic" fill="#333" text-anchor="end" stroke="#333" stroke-width="0.14">Xa</text>
<text x="649.57" y="279.44" font-size="8.4" font-style="italic" fill="#333" stroke="#333" stroke-width="0.14">Xa</text>
<text transform="translate(15.5,149.2) rotate(-90)" font-size="8.15" fill="#333" text-anchor="middle" stroke="#333" stroke-width="0.2">Female <tspan font-style="italic">Vita</tspan> interactions</text>
<text transform="translate(670.5,148) rotate(90)" font-size="8.2" fill="#333" text-anchor="middle" stroke="#333" stroke-width="0.2">Male <tspan font-style="italic">Vita</tspan> interactions</text>
<text x="-0.6" y="10.5" font-size="13.5" font-weight="bold" fill="#000" stroke="#000" stroke-width="0.14">a</text>
<circle cx="173.7" cy="446.08" r="0.55" fill="#3aa050"/>
<text x="174.7" y="446.88" font-size="2.3" fill="#999">1c–17a</text>
<circle cx="133.84" cy="474.12" r="0.55" fill="#3aa050"/>
<text x="134.84" y="474.92" font-size="2.3" fill="#999">2c–10a</text>
<circle cx="129.46" cy="477.3" r="0.55" fill="#3aa050"/>
<text x="130.46" y="478.1" font-size="2.3" fill="#999">1c–11a</text>
<circle cx="151.19" cy="495.88" r="0.55" fill="#b0506a"/>
<text x="152.19" y="496.68" font-size="2.3" fill="#999">3a–12a</text>
<circle cx="195.76" cy="464.86" r="0.55" fill="#3aa050"/>
<text x="196.76" y="465.66" font-size="2.3" fill="#999">1b–3a</text>
<circle cx="161.64" cy="501.58" r="0.55" fill="#b0506a"/>
<text x="162.64" y="502.38" font-size="2.3" fill="#999">2a–11a</text>
<circle cx="117.86" cy="429.64" r="0.55" fill="#3aa050"/>
<text x="118.86" y="430.44" font-size="2.3" fill="#999">1d–2b</text>
<circle cx="151.54" cy="490.4" r="0.55" fill="#b0506a"/>
<text x="152.54" y="491.2" font-size="2.3" fill="#999">11a–14a</text>
<circle cx="165.75" cy="474.43" r="0.55" fill="#b0506a"/>
<text x="166.75" y="475.23" font-size="2.3" fill="#999">11a–13a</text>
<circle cx="123.06" cy="444.78" r="0.55" fill="#3aa050"/>
<text x="124.06" y="445.58" font-size="2.3" fill="#999">6a–9b</text>
<circle cx="158.14" cy="527.42" r="0.55" fill="#b0506a"/>
<text x="159.14" y="528.22" font-size="2.3" fill="#999">1c–3a</text>
<circle cx="135.25" cy="427.66" r="0.55" fill="#3aa050"/>
<text x="136.25" y="428.46" font-size="2.3" fill="#999">1c–11c</text>
<circle cx="88.1" cy="456.76" r="0.55" fill="#3a5fb0"/>
<text x="89.1" y="457.56" font-size="2.3" fill="#999">2a–9c</text>
<circle cx="156.81" cy="484.9" r="0.55" fill="#b0506a"/>
<text x="157.81" y="485.7" font-size="2.3" fill="#999">11a–11b</text>
<circle cx="177.23" cy="494.43" r="0.55" fill="#b0506a"/>
<text x="178.23" y="495.23" font-size="2.3" fill="#999">6a–11c</text>
<circle cx="146.4" cy="493.01" r="0.55" fill="#3aa050"/>
<text x="147.4" y="493.81" font-size="2.3" fill="#999">1c–4a</text>
<circle cx="135.62" cy="491.26" r="0.55" fill="#3aa050"/>
<text x="136.62" y="492.06" font-size="2.3" fill="#999">4b–14a</text>
<circle cx="202.26" cy="434.3" r="0.55" fill="#3aa050"/>
<text x="203.26" y="435.1" font-size="2.3" fill="#999">6b–14a</text>
<circle cx="130.74" cy="509.65" r="0.55" fill="#3aa050"/>
<text x="131.74" y="510.45" font-size="2.3" fill="#999">2a–4b</text>
<circle cx="117.99" cy="467.75" r="0.55" fill="#3aa050"/>
<text x="118.99" y="468.55" font-size="2.3" fill="#999">2a–17a</text>
<circle cx="87.23" cy="496.81" r="0.55" fill="#3aa050"/>
<text x="88.23" y="497.61" font-size="2.3" fill="#999">13a–Xa</text>
<circle cx="144.2" cy="469.4" r="0.55" fill="#3aa050"/>
<text x="145.2" y="470.2" font-size="2.3" fill="#999">2a–3a</text>
<circle cx="170.27" cy="452.11" r="0.55" fill="#3aa050"/>
<text x="171.27" y="452.91" font-size="2.3" fill="#999">11b–11c</text>
<circle cx="194.04" cy="439.18" r="0.55" fill="#b0506a"/>
<text x="195.04" y="439.98" font-size="2.3" fill="#999">12a–13a</text>
<circle cx="125.44" cy="428.18" r="0.55" fill="#b0506a"/>
<text x="126.44" y="428.98" font-size="2.3" fill="#999">11a–15b</text>
<circle cx="128.4" cy="473.55" r="0.55" fill="#3aa050"/>
<text x="129.4" y="474.35" font-size="2.3" fill="#999">6b–12a</text>
<circle cx="165.45" cy="473.43" r="0.55" fill="#b0506a"/>
<text x="166.45" y="474.23" font-size="2.3" fill="#999">1d–2b</text>
<circle cx="143.1" cy="481.79" r="0.55" fill="#3aa050"/>
<text x="144.1" y="482.59" font-size="2.3" fill="#999">2a–11a</text>
<circle cx="136.83" cy="476.76" r="0.55" fill="#3aa050"/>
<text x="137.83" y="477.56" font-size="2.3" fill="#999">2c–18a</text>
<circle cx="81.32" cy="505.4" r="0.55" fill="#3aa050"/>
<text x="82.32" y="506.2" font-size="2.3" fill="#999">6a–11c</text>
<circle cx="174.43" cy="458.61" r="0.55" fill="#3aa050"/>
<text x="175.43" y="459.41" font-size="2.3" fill="#999">9b–9c</text>
<circle cx="157.1" cy="474.73" r="0.55" fill="#b0506a"/>
<text x="158.1" y="475.53" font-size="2.3" fill="#999">5a–14b</text>
<circle cx="152.79" cy="497.92" r="0.55" fill="#b0506a"/>
<text x="153.79" y="498.72" font-size="2.3" fill="#999">1a–2c</text>
<circle cx="135.69" cy="518.58" r="0.55" fill="#b0506a"/>
<text x="136.69" y="519.38" font-size="2.3" fill="#999">1a–15a</text>
<circle cx="97.44" cy="491.12" r="0.55" fill="#3aa050"/>
<text x="98.44" y="491.92" font-size="2.3" fill="#999">2b–6a</text>
<circle cx="136.31" cy="439.65" r="0.55" fill="#3aa050"/>
<text x="137.31" y="440.45" font-size="2.3" fill="#999">5a–12a</text>
<circle cx="175.48" cy="434.75" r="0.55" fill="#3aa050"/>
<text x="176.48" y="435.55" font-size="2.3" fill="#999">14b–15b</text>
<circle cx="107.84" cy="485.16" r="0.55" fill="#3aa050"/>
<text x="108.84" y="485.96" font-size="2.3" fill="#999">1a–15b</text>
<circle cx="139.07" cy="435.25" r="0.55" fill="#3aa050"/>
<text x="140.07" y="436.05" font-size="2.3" fill="#999">6a–9b</text>
<circle cx="163.6" cy="493.26" r="0.55" fill="#b0506a"/>
<text x="164.6" y="494.06" font-size="2.3" fill="#999">1c–6a</text>
<circle cx="145.9" cy="462.03" r="0.55" fill="#3aa050"/>
<text x="146.9" y="462.83" font-size="2.3" fill="#999">2c–9c</text>
<circle cx="188.97" cy="431.99" r="0.55" fill="#3aa050"/>
<text x="189.97" y="432.79" font-size="2.3" fill="#999">6a–12a</text>
<circle cx="72.19" cy="454.44" r="0.55" fill="#3a5fb0"/>
<text x="73.19" y="455.24" font-size="2.3" fill="#999">6b–15b</text>
<circle cx="63.99" cy="463.15" r="0.55" fill="#3a5fb0"/>
<text x="64.99" y="463.95" font-size="2.3" fill="#999">9b–15b</text>
<circle cx="147.62" cy="462.52" r="0.55" fill="#3aa050"/>
<text x="148.62" y="463.32" font-size="2.3" fill="#999">9c–13a</text>
<circle cx="82.37" cy="468.45" r="0.55" fill="#3a5fb0"/>
<text x="83.37" y="469.25" font-size="2.3" fill="#999">1a–15b</text>
<circle cx="153.08" cy="471.16" r="0.55" fill="#b0506a"/>
<text x="154.08" y="471.96" font-size="2.3" fill="#999">2a–9a</text>
<circle cx="79.44" cy="482.38" r="0.55" fill="#3aa050"/>
<text x="80.44" y="483.18" font-size="2.3" fill="#999">4a–11a</text>
<circle cx="197.58" cy="432.92" r="0.55" fill="#3aa050"/>
<text x="198.58" y="433.72" font-size="2.3" fill="#999">9b–Xa</text>
<circle cx="176.76" cy="472.39" r="0.55" fill="#b0506a"/>
<text x="177.76" y="473.19" font-size="2.3" fill="#999">17a–Xa</text>
<circle cx="98.15" cy="489.37" r="0.55" fill="#3aa050"/>
<text x="99.15" y="490.17" font-size="2.3" fill="#999">1a–18a</text>
<circle cx="143.69" cy="479.53" r="0.55" fill="#3aa050"/>
<text x="144.69" y="480.33" font-size="2.3" fill="#999">2a–15b</text>
<circle cx="83.64" cy="473.88" r="0.55" fill="#b0506a"/>
<text x="84.64" y="474.68" font-size="2.3" fill="#999">1b–5a</text>
<circle cx="136.05" cy="476.67" r="0.55" fill="#3aa050"/>
<text x="137.05" y="477.47" font-size="2.3" fill="#999">1d–15a</text>
<circle cx="175.55" cy="462.73" r="0.55" fill="#3aa050"/>
<text x="176.55" y="463.53" font-size="2.3" fill="#999">1a–15a</text>
<circle cx="69.12" cy="496.24" r="0.55" fill="#b0506a"/>
<text x="70.12" y="497.04" font-size="2.3" fill="#999">10a–11c</text>
<circle cx="134.85" cy="446.21" r="0.55" fill="#3aa050"/>
<text x="135.85" y="447.01" font-size="2.3" fill="#999">9c–15b</text>
<circle cx="143.01" cy="444.9" r="0.55" fill="#3aa050"/>
<text x="144.01" y="445.7" font-size="2.3" fill="#999">4a–Xa</text>
<circle cx="187.89" cy="511.6" r="0.55" fill="#b0506a"/>
<text x="188.89" y="512.4" font-size="2.3" fill="#999">2a–9b</text>
<circle cx="117.17" cy="465.37" r="0.55" fill="#3a5fb0"/>
<text x="118.17" y="466.17" font-size="2.3" fill="#999">3a–13a</text>
<circle cx="149.65" cy="456.82" r="0.55" fill="#3aa050"/>
<text x="150.65" y="457.62" font-size="2.3" fill="#999">1d–Xa</text>
<circle cx="194.58" cy="456.58" r="0.55" fill="#3aa050"/>
<text x="195.58" y="457.38" font-size="2.3" fill="#999">2a–4a</text>
<circle cx="198.6" cy="509.47" r="0.55" fill="#b0506a"/>
<text x="199.6" y="510.27" font-size="2.3" fill="#999">1d–6b</text>
<circle cx="83.36" cy="453.53" r="0.55" fill="#3a5fb0"/>
<text x="84.36" y="454.33" font-size="2.3" fill="#999">2b–3a</text>
<circle cx="202.4" cy="486.48" r="0.55" fill="#b0506a"/>
<text x="203.4" y="487.28" font-size="2.3" fill="#999">2c–9a</text>
<circle cx="171.93" cy="466.07" r="0.55" fill="#3aa050"/>
<text x="172.93" y="466.87" font-size="2.3" fill="#999">5a–11a</text>
<circle cx="131.76" cy="510.74" r="0.55" fill="#3aa050"/>
<text x="132.76" y="511.54" font-size="2.3" fill="#999">10a–11c</text>
<circle cx="159.92" cy="485.64" r="0.55" fill="#b0506a"/>
<text x="160.92" y="486.44" font-size="2.3" fill="#999">3a–15b</text>
<circle cx="147.67" cy="505.81" r="0.55" fill="#b0506a"/>
<text x="148.67" y="506.61" font-size="2.3" fill="#999">2a–17a</text>
<circle cx="200.48" cy="511.78" r="0.55" fill="#b0506a"/>
<text x="201.48" y="512.58" font-size="2.3" fill="#999">4a–6b</text>
<circle cx="184.42" cy="501.28" r="0.55" fill="#b0506a"/>
<text x="185.42" y="502.08" font-size="2.3" fill="#999">5a–14a</text>
<circle cx="195.23" cy="465.54" r="0.55" fill="#3aa050"/>
<text x="196.23" y="466.34" font-size="2.3" fill="#999">1c–Xa</text>
<circle cx="158.21" cy="480.61" r="0.55" fill="#b0506a"/>
<text x="159.21" y="481.41" font-size="2.3" fill="#999">1c–4a</text>
<circle cx="91.89" cy="503.88" r="0.55" fill="#3a5fb0"/>
<text x="92.89" y="504.68" font-size="2.3" fill="#999">1a–9b</text>
<circle cx="173.52" cy="454.93" r="0.55" fill="#3aa050"/>
<text x="174.52" y="455.73" font-size="2.3" fill="#999">1d–3a</text>
<circle cx="97.55" cy="514.27" r="0.55" fill="#3aa050"/>
<text x="98.55" y="515.07" font-size="2.3" fill="#999">4b–12a</text>
<circle cx="144.17" cy="507.19" r="0.55" fill="#3aa050"/>
<text x="145.17" y="507.99" font-size="2.3" fill="#999">10a–13a</text>
<circle cx="138.29" cy="477.21" r="0.55" fill="#3aa050"/>
<text x="139.29" y="478.01" font-size="2.3" fill="#999">1b–4a</text>
<circle cx="137.37" cy="520.37" r="0.55" fill="#3a5fb0"/>
<text x="138.37" y="521.17" font-size="2.3" fill="#999">9c–10a</text>
<circle cx="91.04" cy="467.41" r="0.55" fill="#b0506a"/>
<text x="92.04" y="468.21" font-size="2.3" fill="#999">9a–13a</text>
<circle cx="161.11" cy="508.26" r="0.55" fill="#b0506a"/>
<text x="162.11" y="509.06" font-size="2.3" fill="#999">4b–10a</text>
<circle cx="200.73" cy="494.11" r="0.55" fill="#b0506a"/>
<text x="201.73" y="494.91" font-size="2.3" fill="#999">17a–Xa</text>
<circle cx="151.12" cy="486.37" r="0.55" fill="#b0506a"/>
<text x="152.12" y="487.17" font-size="2.3" fill="#999">1b–6a</text>
<circle cx="62.09" cy="458.82" r="0.55" fill="#3a5fb0"/>
<text x="63.09" y="459.62" font-size="2.3" fill="#999">4a–Xa</text>
<circle cx="193.85" cy="466.61" r="0.55" fill="#3aa050"/>
<text x="194.85" y="467.41" font-size="2.3" fill="#999">10a–18a</text>
<circle cx="100.42" cy="506.65" r="0.55" fill="#3aa050"/>
<text x="101.42" y="507.45" font-size="2.3" fill="#999">1b–4b</text>
<circle cx="164.43" cy="454.31" r="0.55" fill="#3aa050"/>
<text x="165.43" y="455.11" font-size="2.3" fill="#999">4a–6a</text>
<circle cx="199.33" cy="468.61" r="0.55" fill="#3a5fb0"/>
<text x="200.33" y="469.41" font-size="2.3" fill="#999">1b–Xa</text>
<circle cx="141.28" cy="480.89" r="0.55" fill="#3aa050"/>
<text x="142.28" y="481.69" font-size="2.3" fill="#999">1c–6b</text>
<circle cx="117.54" cy="482.35" r="0.55" fill="#3aa050"/>
<text x="118.54" y="483.15" font-size="2.3" fill="#999">10a–15a</text>
<circle cx="140.92" cy="468.83" r="0.55" fill="#3aa050"/>
<text x="141.92" y="469.63" font-size="2.3" fill="#999">6b–11b</text>
<circle cx="173.58" cy="478.34" r="0.55" fill="#b0506a"/>
<text x="174.58" y="479.14" font-size="2.3" fill="#999">1c–3a</text>
<circle cx="135.83" cy="443.21" r="0.55" fill="#3aa050"/>
<text x="136.83" y="444.01" font-size="2.3" fill="#999">13a–Xa</text>
<circle cx="185.93" cy="488.27" r="0.55" fill="#b0506a"/>
<text x="186.93" y="489.07" font-size="2.3" fill="#999">5a–14b</text>
<circle cx="81.45" cy="446.51" r="0.55" fill="#3a5fb0"/>
<text x="82.45" y="447.31" font-size="2.3" fill="#999">2a–12a</text>
<circle cx="165.13" cy="435.52" r="0.55" fill="#3aa050"/>
<text x="166.13" y="436.32" font-size="2.3" fill="#999">2a–10a</text>
<circle cx="141.45" cy="435.43" r="0.55" fill="#3aa050"/>
<text x="142.45" y="436.23" font-size="2.3" fill="#999">1a–17a</text>
<circle cx="174.32" cy="448.12" r="0.55" fill="#3aa050"/>
<text x="175.32" y="448.92" font-size="2.3" fill="#999">12a–14a</text>
<circle cx="161.76" cy="478.83" r="0.55" fill="#b0506a"/>
<text x="162.76" y="479.63" font-size="2.3" fill="#999">1d–6a</text>
<circle cx="130.94" cy="479.04" r="0.55" fill="#3aa050"/>
<text x="131.94" y="479.84" font-size="2.3" fill="#999">1a–12a</text>
<circle cx="143.34" cy="458.15" r="0.55" fill="#3aa050"/>
<text x="144.34" y="458.95" font-size="2.3" fill="#999">9b–15b</text>
<circle cx="81.87" cy="490.2" r="0.55" fill="#3aa050"/>
<text x="82.87" y="491" font-size="2.3" fill="#999">4a–15b</text>
<circle cx="136.5" cy="432.95" r="0.55" fill="#3aa050"/>
<text x="137.5" y="433.75" font-size="2.3" fill="#999">2c–3a</text>
<circle cx="199.77" cy="475.23" r="0.55" fill="#b0506a"/>
<text x="200.77" y="476.03" font-size="2.3" fill="#999">1c–6b</text>
<circle cx="116.77" cy="529.59" r="0.55" fill="#b0506a"/>
<text x="117.77" y="530.39" font-size="2.3" fill="#999">2c–12a</text>
<circle cx="159.38" cy="463.34" r="0.55" fill="#3aa050"/>
<text x="160.38" y="464.14" font-size="2.3" fill="#999">14a–14b</text>
<circle cx="137" cy="483.99" r="0.55" fill="#3aa050"/>
<text x="138" y="484.79" font-size="2.3" fill="#999">1b–9c</text>
<circle cx="115.58" cy="523.29" r="0.55" fill="#b0506a"/>
<text x="116.58" y="524.09" font-size="2.3" fill="#999">4b–9c</text>
<circle cx="100.94" cy="478.74" r="0.55" fill="#3aa050"/>
<text x="101.94" y="479.54" font-size="2.3" fill="#999">1d–15a</text>
<circle cx="138.67" cy="497.98" r="0.55" fill="#3aa050"/>
<text x="139.67" y="498.78" font-size="2.3" fill="#999">1c–9c</text>
<circle cx="76.04" cy="467.61" r="0.55" fill="#3aa050"/>
<text x="77.04" y="468.41" font-size="2.3" fill="#999">4a–6b</text>
<circle cx="166.35" cy="489.03" r="0.55" fill="#b0506a"/>
<text x="167.35" y="489.83" font-size="2.3" fill="#999">1c–11b</text>
<circle cx="161.2" cy="514.87" r="0.55" fill="#b0506a"/>
<text x="162.2" y="515.67" font-size="2.3" fill="#999">1d–Xa</text>
<circle cx="185.42" cy="481.2" r="0.55" fill="#b0506a"/>
<text x="186.42" y="482" font-size="2.3" fill="#999">6b–9b</text>
<circle cx="163.9" cy="460.35" r="0.55" fill="#3aa050"/>
<text x="164.9" y="461.15" font-size="2.3" fill="#999">1d–5a</text>
<circle cx="60.29" cy="443.19" r="0.55" fill="#3a5fb0"/>
<text x="61.29" y="443.99" font-size="2.3" fill="#999">1d–2c</text>
<circle cx="189.15" cy="500.71" r="0.55" fill="#b0506a"/>
<text x="190.15" y="501.51" font-size="2.3" fill="#999">1c–6a</text>
<circle cx="191.74" cy="482.31" r="0.55" fill="#b0506a"/>
<text x="192.74" y="483.11" font-size="2.3" fill="#999">6a–9a</text>
<circle cx="182.38" cy="501.86" r="0.55" fill="#b0506a"/>
<text x="183.38" y="502.66" font-size="2.3" fill="#999">1b–17a</text>
<circle cx="150.97" cy="518.29" r="0.55" fill="#b0506a"/>
<text x="151.97" y="519.09" font-size="2.3" fill="#999">4a–9a</text>
<circle cx="155.56" cy="454.6" r="0.55" fill="#3aa050"/>
<text x="156.56" y="455.4" font-size="2.3" fill="#999">9a–Xa</text>
<circle cx="145.08" cy="512.74" r="0.55" fill="#3aa050"/>
<text x="146.08" y="513.54" font-size="2.3" fill="#999">11a–Xa</text>
<circle cx="140.1" cy="491.54" r="0.55" fill="#3aa050"/>
<text x="141.1" y="492.34" font-size="2.3" fill="#999">9a–14b</text>
<circle cx="143.24" cy="525.84" r="0.55" fill="#3aa050"/>
<text x="144.24" y="526.64" font-size="2.3" fill="#999">1b–9c</text>
<circle cx="138.82" cy="515.57" r="0.55" fill="#3aa050"/>
<text x="139.82" y="516.37" font-size="2.3" fill="#999">4b–5a</text>
<circle cx="124.9" cy="503.42" r="0.55" fill="#3aa050"/>
<text x="125.9" y="504.22" font-size="2.3" fill="#999">11a–13a</text>
<circle cx="153.26" cy="466.28" r="0.55" fill="#3aa050"/>
<text x="154.26" y="467.08" font-size="2.3" fill="#999">2c–10a</text>
<circle cx="131.23" cy="509.42" r="0.55" fill="#3aa050"/>
<text x="132.23" y="510.22" font-size="2.3" fill="#999">5a–15a</text>
<circle cx="157.83" cy="466.67" r="0.55" fill="#3aa050"/>
<text x="158.83" y="467.47" font-size="2.3" fill="#999">1c–2b</text>
<circle cx="165.36" cy="469.79" r="0.55" fill="#3aa050"/>
<text x="166.36" y="470.59" font-size="2.3" fill="#999">4a–15b</text>
<circle cx="187.1" cy="443.32" r="0.55" fill="#3aa050"/>
<text x="188.1" y="444.12" font-size="2.3" fill="#999">6b–9a</text>
<circle cx="90.12" cy="503.15" r="0.55" fill="#3a5fb0"/>
<text x="91.12" y="503.95" font-size="2.3" fill="#999">4a–9c</text>
<circle cx="111.62" cy="451.17" r="0.55" fill="#3a5fb0"/>
<text x="112.62" y="451.97" font-size="2.3" fill="#999">10a–12a</text>
<circle cx="181.57" cy="525.32" r="0.55" fill="#b0506a"/>
<text x="182.57" y="526.12" font-size="2.3" fill="#999">3a–Xa</text>
<circle cx="118.36" cy="507.71" r="0.55" fill="#3aa050"/>
<text x="119.36" y="508.51" font-size="2.3" fill="#999">4b–18a</text>
<circle cx="198.67" cy="521" r="0.55" fill="#b0506a"/>
<text x="199.67" y="521.8" font-size="2.3" fill="#999">9a–14a</text>
<circle cx="102.72" cy="475.38" r="0.55" fill="#3aa050"/>
<text x="103.72" y="476.18" font-size="2.3" fill="#999">1d–15b</text>
<circle cx="160.43" cy="431.24" r="0.55" fill="#3aa050"/>
<text x="161.43" y="432.04" font-size="2.3" fill="#999">9b–Xa</text>
<circle cx="142.67" cy="483.57" r="0.55" fill="#3aa050"/>
<text x="143.67" y="484.37" font-size="2.3" fill="#999">2a–3a</text>
<circle cx="65.43" cy="447.65" r="0.55" fill="#3a5fb0"/>
<text x="66.43" y="448.45" font-size="2.3" fill="#999">2a–12a</text>
<circle cx="104.76" cy="517.67" r="0.55" fill="#3a5fb0"/>
<text x="105.76" y="518.47" font-size="2.3" fill="#999">1c–1d</text>
<circle cx="165" cy="488.91" r="0.55" fill="#b0506a"/>
<text x="166" y="489.71" font-size="2.3" fill="#999">3a–4a</text>
<circle cx="60.21" cy="469.8" r="0.55" fill="#3aa050"/>
<text x="61.21" y="470.6" font-size="2.3" fill="#999">4a–5a</text>
<circle cx="186.6" cy="477.56" r="0.55" fill="#b0506a"/>
<text x="187.6" y="478.36" font-size="2.3" fill="#999">3a–11a</text>
<circle cx="198.42" cy="493.66" r="0.55" fill="#b0506a"/>
<text x="199.42" y="494.46" font-size="2.3" fill="#999">1b–4b</text>
<circle cx="86.86" cy="481.52" r="0.55" fill="#3aa050"/>
<text x="87.86" y="482.32" font-size="2.3" fill="#999">1c–4a</text>
<circle cx="110.68" cy="468.58" r="0.55" fill="#3aa050"/>
<text x="111.68" y="469.38" font-size="2.3" fill="#999">1b–9c</text>
<circle cx="162.91" cy="491.66" r="0.55" fill="#b0506a"/>
<text x="163.91" y="492.46" font-size="2.3" fill="#999">2c–6b</text>
<circle cx="161.69" cy="432.55" r="0.55" fill="#3aa050"/>
<text x="162.69" y="433.35" font-size="2.3" fill="#999">2c–3a</text>
<circle cx="68.12" cy="462.65" r="0.55" fill="#3a5fb0"/>
<text x="69.12" y="463.45" font-size="2.3" fill="#999">1b–6b</text>
<circle cx="162.56" cy="484.73" r="0.55" fill="#b0506a"/>
<text x="163.56" y="485.53" font-size="2.3" fill="#999">1b–14a</text>
<circle cx="80.31" cy="441.52" r="0.55" fill="#3a5fb0"/>
<text x="81.31" y="442.32" font-size="2.3" fill="#999">1d–14b</text>
<circle cx="193.45" cy="495.79" r="0.55" fill="#b0506a"/>
<text x="194.45" y="496.59" font-size="2.3" fill="#999">2b–12a</text>
<circle cx="114.26" cy="490.22" r="0.55" fill="#3aa050"/>
<text x="115.26" y="491.02" font-size="2.3" fill="#999">5a–9b</text>
<circle cx="172.35" cy="481.55" r="0.55" fill="#b0506a"/>
<text x="173.35" y="482.35" font-size="2.3" fill="#999">6a–9a</text>
<circle cx="182.3" cy="471.48" r="0.55" fill="#b0506a"/>
<text x="183.3" y="472.28" font-size="2.3" fill="#999">6a–11a</text>
<circle cx="87.69" cy="491.42" r="0.55" fill="#3aa050"/>
<text x="88.69" y="492.22" font-size="2.3" fill="#999">1a–12a</text>
<circle cx="166.28" cy="530.14" r="0.55" fill="#b0506a"/>
<text x="167.28" y="530.94" font-size="2.3" fill="#999">1b–6b</text>
<circle cx="97.59" cy="447.44" r="0.55" fill="#3a5fb0"/>
<text x="98.59" y="448.24" font-size="2.3" fill="#999">4a–5a</text>
<circle cx="133.49" cy="522.37" r="0.55" fill="#b0506a"/>
<text x="134.49" y="523.17" font-size="2.3" fill="#999">1a–1c</text>
<circle cx="75.41" cy="447.58" r="0.55" fill="#3a5fb0"/>
<text x="76.41" y="448.38" font-size="2.3" fill="#999">9b–15a</text>
<circle cx="142.09" cy="449.68" r="0.55" fill="#3aa050"/>
<text x="143.09" y="450.48" font-size="2.3" fill="#999">2a–9c</text>
<circle cx="86.24" cy="436.72" r="0.55" fill="#3a5fb0"/>
<text x="87.24" y="437.52" font-size="2.3" fill="#999">4b–14b</text>
<circle cx="170.71" cy="461.09" r="0.55" fill="#3aa050"/>
<text x="171.71" y="461.89" font-size="2.3" fill="#999">5a–18a</text>
<circle cx="100.55" cy="441.38" r="0.55" fill="#3a5fb0"/>
<text x="101.55" y="442.18" font-size="2.3" fill="#999">1c–10a</text>
<circle cx="142.85" cy="504.98" r="0.55" fill="#3aa050"/>
<text x="143.85" y="505.78" font-size="2.3" fill="#999">1c–12a</text>
<circle cx="111.24" cy="490.78" r="0.55" fill="#3aa050"/>
<text x="112.24" y="491.58" font-size="2.3" fill="#999">9a–Xa</text>
<circle cx="188.95" cy="463.31" r="0.55" fill="#3a5fb0"/>
<text x="189.95" y="464.11" font-size="2.3" fill="#999">1d–9a</text>
<circle cx="132.26" cy="514.13" r="0.55" fill="#3aa050"/>
<text x="133.26" y="514.93" font-size="2.3" fill="#999">2a–3a</text>
<circle cx="101.99" cy="513.32" r="0.55" fill="#3aa050"/>
<text x="102.99" y="514.12" font-size="2.3" fill="#999">11a–14b</text>
<circle cx="155.19" cy="521.76" r="0.55" fill="#b0506a"/>
<text x="156.19" y="522.56" font-size="2.3" fill="#999">4b–17a</text>
<circle cx="109.68" cy="494.02" r="0.55" fill="#3aa050"/>
<text x="110.68" y="494.82" font-size="2.3" fill="#999">4a–14b</text>
<circle cx="142.79" cy="459.13" r="0.55" fill="#3aa050"/>
<text x="143.79" y="459.93" font-size="2.3" fill="#999">2a–4b</text>
<circle cx="142.86" cy="496.15" r="0.55" fill="#3aa050"/>
<text x="143.86" y="496.95" font-size="2.3" fill="#999">4a–6b</text>
<circle cx="132.69" cy="508" r="0.55" fill="#3aa050"/>
<text x="133.69" y="508.8" font-size="2.3" fill="#999">1d–15b</text>
<circle cx="201.95" cy="524.11" r="0.55" fill="#b0506a"/>
<text x="202.95" y="524.91" font-size="2.3" fill="#999">9c–Xa</text>
<circle cx="159.93" cy="468.54" r="0.55" fill="#3aa050"/>
<text x="160.93" y="469.34" font-size="2.3" fill="#999">11b–17a</text>
<circle cx="181.9" cy="465.38" r="0.55" fill="#3a5fb0"/>
<text x="182.9" y="466.18" font-size="2.3" fill="#999">9b–11c</text>
<circle cx="99.95" cy="506.09" r="0.55" fill="#3aa050"/>
<text x="100.95" y="506.89" font-size="2.3" fill="#999">1b–2c</text>
<circle cx="158.12" cy="466.02" r="0.55" fill="#3aa050"/>
<text x="159.12" y="466.82" font-size="2.3" fill="#999">1b–4a</text>
<circle cx="153.36" cy="511.49" r="0.55" fill="#b0506a"/>
<text x="154.36" y="512.29" font-size="2.3" fill="#999">1a–17a</text>
<circle cx="132.03" cy="499.56" r="0.55" fill="#3aa050"/>
<text x="133.03" y="500.36" font-size="2.3" fill="#999">1c–4b</text>
<circle cx="155.45" cy="518.88" r="0.55" fill="#b0506a"/>
<text x="156.45" y="519.68" font-size="2.3" fill="#999">1c–9a</text>
<circle cx="105.3" cy="458.44" r="0.55" fill="#3a5fb0"/>
<text x="106.3" y="459.24" font-size="2.3" fill="#999">11a–12a</text>
<circle cx="171.82" cy="441.74" r="0.55" fill="#3aa050"/>
<text x="172.82" y="442.54" font-size="2.3" fill="#999">4b–9a</text>
<circle cx="119.88" cy="530.47" r="0.55" fill="#b0506a"/>
<text x="120.88" y="531.27" font-size="2.3" fill="#999">11b–Xa</text>
<circle cx="78.3" cy="451.46" r="0.55" fill="#3a5fb0"/>
<text x="79.3" y="452.26" font-size="2.3" fill="#999">6a–15b</text>
<circle cx="116" cy="486.34" r="0.55" fill="#3aa050"/>
<text x="117" y="487.14" font-size="2.3" fill="#999">1a–9a</text>
<circle cx="120.73" cy="434.5" r="0.55" fill="#3aa050"/>
<text x="121.73" y="435.3" font-size="2.3" fill="#999">6b–11b</text>
<circle cx="126.05" cy="516.59" r="0.55" fill="#3a5fb0"/>
<text x="127.05" y="517.39" font-size="2.3" fill="#999">1b–11a</text>
<circle cx="155.28" cy="510.74" r="0.55" fill="#b0506a"/>
<text x="156.28" y="511.54" font-size="2.3" fill="#999">11b–11c</text>
<circle cx="165.62" cy="515.45" r="0.55" fill="#b0506a"/>
<text x="166.62" y="516.25" font-size="2.3" fill="#999">4b–6a</text>
<circle cx="148.86" cy="471.98" r="0.55" fill="#b0506a"/>
<text x="149.86" y="472.78" font-size="2.3" fill="#999">6b–9c</text>
<circle cx="173.48" cy="436.45" r="0.55" fill="#3aa050"/>
<text x="174.48" y="437.25" font-size="2.3" fill="#999">2a–4b</text>
<circle cx="151.17" cy="526.11" r="0.55" fill="#b0506a"/>
<text x="152.17" y="526.91" font-size="2.3" fill="#999">11c–14a</text>
<circle cx="187.66" cy="456.97" r="0.55" fill="#3a5fb0"/>
<text x="188.66" y="457.77" font-size="2.3" fill="#999">6b–11c</text>
<circle cx="88.13" cy="477.85" r="0.55" fill="#b0506a"/>
<text x="89.13" y="478.65" font-size="2.3" fill="#999">1b–2c</text>
<circle cx="106.14" cy="485.36" r="0.55" fill="#3aa050"/>
<text x="107.14" y="486.16" font-size="2.3" fill="#999">1d–2a</text>
<circle cx="84.73" cy="501.59" r="0.55" fill="#3a5fb0"/>
<text x="85.73" y="502.39" font-size="2.3" fill="#999">13a–17a</text>
<circle cx="110.9" cy="460.54" r="0.55" fill="#3a5fb0"/>
<text x="111.9" y="461.34" font-size="2.3" fill="#999">12a–18a</text>
<circle cx="152.99" cy="498.41" r="0.55" fill="#b0506a"/>
<text x="153.99" y="499.21" font-size="2.3" fill="#999">3a–9a</text>
<circle cx="112.86" cy="455.31" r="0.55" fill="#3a5fb0"/>
<text x="113.86" y="456.11" font-size="2.3" fill="#999">1a–2b</text>
<circle cx="183.63" cy="484.97" r="0.55" fill="#b0506a"/>
<text x="184.63" y="485.77" font-size="2.3" fill="#999">9b–15a</text>
<circle cx="177.32" cy="432.48" r="0.55" fill="#3aa050"/>
<text x="178.32" y="433.28" font-size="2.3" fill="#999">9c–15b</text>
<circle cx="174.19" cy="470.24" r="0.55" fill="#b0506a"/>
<text x="175.19" y="471.04" font-size="2.3" fill="#999">1c–6a</text>
<circle cx="132.27" cy="454.87" r="0.55" fill="#3aa050"/>
<text x="133.27" y="455.67" font-size="2.3" fill="#999">1b–12a</text>
<circle cx="170.71" cy="494.43" r="0.55" fill="#b0506a"/>
<text x="171.71" y="495.23" font-size="2.3" fill="#999">10a–14b</text>
<circle cx="99.47" cy="512.77" r="0.55" fill="#3aa050"/>
<text x="100.47" y="513.57" font-size="2.3" fill="#999">1d–2c</text>
<circle cx="165.32" cy="498.53" r="0.55" fill="#b0506a"/>
<text x="166.32" y="499.33" font-size="2.3" fill="#999">2b–15b</text>
<circle cx="163.3" cy="509.28" r="0.55" fill="#b0506a"/>
<text x="164.3" y="510.08" font-size="2.3" fill="#999">6a–17a</text>
<circle cx="96.16" cy="496.46" r="0.55" fill="#b0506a"/>
<text x="97.16" y="497.26" font-size="2.3" fill="#999">4a–Xa</text>
<circle cx="80.6" cy="474.2" r="0.55" fill="#3aa050"/>
<text x="81.6" y="475" font-size="2.3" fill="#999">2c–11b</text>
<circle cx="109.9" cy="483.01" r="0.55" fill="#3aa050"/>
<text x="110.9" y="483.81" font-size="2.3" fill="#999">1b–2c</text>
<circle cx="188.36" cy="421.28" r="0.55" fill="#3aa050"/>
<text x="189.36" y="422.08" font-size="2.3" fill="#999">2b–15b</text>
<circle cx="76.52" cy="470.65" r="0.55" fill="#b0506a"/>
<text x="77.52" y="471.45" font-size="2.3" fill="#999">6a–18a</text>
<circle cx="124.92" cy="471.8" r="0.55" fill="#3aa050"/>
<text x="125.92" y="472.6" font-size="2.3" fill="#999">14a–Xa</text>
<circle cx="96.14" cy="470.02" r="0.55" fill="#3aa050"/>
<text x="97.14" y="470.82" font-size="2.3" fill="#999">14b–15b</text>
<circle cx="117.1" cy="461.41" r="0.55" fill="#3a5fb0"/>
<text x="118.1" y="462.21" font-size="2.3" fill="#999">2a–6a</text>
<circle cx="165.7" cy="471.21" r="0.55" fill="#b0506a"/>
<text x="166.7" y="472.01" font-size="2.3" fill="#999">11c–14b</text>
<circle cx="102.49" cy="472.47" r="0.55" fill="#3aa050"/>
<text x="103.49" y="473.27" font-size="2.3" fill="#999">4b–12a</text>
<circle cx="184.67" cy="421.01" r="0.55" fill="#b0506a"/>
<text x="185.67" y="421.81" font-size="2.3" fill="#999">1a–14b</text>
<circle cx="172.63" cy="447.97" r="0.55" fill="#3aa050"/>
<text x="173.63" y="448.77" font-size="2.3" fill="#999">9a–10a</text>
<circle cx="183.31" cy="471.56" r="0.55" fill="#b0506a"/>
<text x="184.31" y="472.36" font-size="2.3" fill="#999">11c–12a</text>
<circle cx="187.5" cy="468.78" r="0.55" fill="#3aa050"/>
<text x="188.5" y="469.58" font-size="2.3" fill="#999">1d–10a</text>
<circle cx="150.24" cy="442.17" r="0.55" fill="#3aa050"/>
<text x="151.24" y="442.97" font-size="2.3" fill="#999">2a–11b</text>
<circle cx="112.42" cy="506.3" r="0.55" fill="#3aa050"/>
<text x="113.42" y="507.1" font-size="2.3" fill="#999">1a–2a</text>
<circle cx="94.93" cy="518.24" r="0.55" fill="#3a5fb0"/>
<text x="95.93" y="519.04" font-size="2.3" fill="#999">1c–12a</text>
<circle cx="127.47" cy="502.84" r="0.55" fill="#3aa050"/>
<text x="128.47" y="503.64" font-size="2.3" fill="#999">4a–15b</text>
<circle cx="68.08" cy="434.44" r="0.55" fill="#3a5fb0"/>
<text x="69.08" y="435.24" font-size="2.3" fill="#999">11c–12a</text>
<circle cx="146.24" cy="472.29" r="0.55" fill="#3aa050"/>
<text x="147.24" y="473.09" font-size="2.3" fill="#999">3a–9c</text>
<circle cx="155.54" cy="481.97" r="0.55" fill="#b0506a"/>
<text x="156.54" y="482.77" font-size="2.3" fill="#999">1a–6b</text>
<circle cx="154.1" cy="512.26" r="0.55" fill="#b0506a"/>
<text x="155.1" y="513.06" font-size="2.3" fill="#999">2c–9a</text>
<circle cx="108.95" cy="516.4" r="0.55" fill="#3aa050"/>
<text x="109.95" y="517.2" font-size="2.3" fill="#999">11c–17a</text>
<circle cx="130.94" cy="458.01" r="0.55" fill="#3aa050"/>
<text x="131.94" y="458.81" font-size="2.3" fill="#999">1b–Xa</text>
<circle cx="128.48" cy="469.69" r="0.55" fill="#3aa050"/>
<text x="129.48" y="470.49" font-size="2.3" fill="#999">6b–18a</text>
<circle cx="155.27" cy="488.54" r="0.55" fill="#b0506a"/>
<text x="156.27" y="489.34" font-size="2.3" fill="#999">9b–12a</text>
<circle cx="171.17" cy="482.51" r="0.55" fill="#b0506a"/>
<text x="172.17" y="483.31" font-size="2.3" fill="#999">1b–12a</text>
<circle cx="157.31" cy="451.3" r="0.55" fill="#3aa050"/>
<text x="158.31" y="452.1" font-size="2.3" fill="#999">4a–10a</text>
<circle cx="119.78" cy="482.87" r="0.55" fill="#3aa050"/>
<text x="120.78" y="483.67" font-size="2.3" fill="#999">3a–Xa</text>
<circle cx="87.53" cy="488.37" r="0.55" fill="#b0506a"/>
<text x="88.53" y="489.17" font-size="2.3" fill="#999">3a–6b</text>
<circle cx="150.36" cy="450.41" r="0.55" fill="#3aa050"/>
<text x="151.36" y="451.21" font-size="2.3" fill="#999">13a–17a</text>
<circle cx="127.28" cy="432.09" r="0.55" fill="#3aa050"/>
<text x="128.28" y="432.89" font-size="2.3" fill="#999">1a–14a</text>
<circle cx="122.65" cy="446.45" r="0.55" fill="#3aa050"/>
<text x="123.65" y="447.25" font-size="2.3" fill="#999">11b–Xa</text>
<circle cx="154.58" cy="440.65" r="0.55" fill="#3aa050"/>
<text x="155.58" y="441.45" font-size="2.3" fill="#999">1c–11b</text>
<circle cx="173.07" cy="494.11" r="0.55" fill="#b0506a"/>
<text x="174.07" y="494.91" font-size="2.3" fill="#999">2a–14a</text>
<circle cx="197.29" cy="469.88" r="0.55" fill="#b0506a"/>
<text x="198.29" y="470.68" font-size="2.3" fill="#999">1b–12a</text>
<circle cx="165.55" cy="528.67" r="0.55" fill="#b0506a"/>
<text x="166.55" y="529.47" font-size="2.3" fill="#999">11b–15a</text>
<circle cx="69.49" cy="428.58" r="0.55" fill="#3a5fb0"/>
<text x="70.49" y="429.38" font-size="2.3" fill="#999">1d–3a</text>
<circle cx="149.82" cy="476.78" r="0.55" fill="#b0506a"/>
<text x="150.82" y="477.58" font-size="2.3" fill="#999">15b–18a</text>
<circle cx="72.57" cy="443.1" r="0.55" fill="#3a5fb0"/>
<text x="73.57" y="443.9" font-size="2.3" fill="#999">1d–9c</text>
<circle cx="156.26" cy="524.44" r="0.55" fill="#b0506a"/>
<text x="157.26" y="525.24" font-size="2.3" fill="#999">4b–5a</text>
<circle cx="139.93" cy="453.73" r="0.55" fill="#3aa050"/>
<text x="140.93" y="454.53" font-size="2.3" fill="#999">1b–4b</text>
<circle cx="112.75" cy="496.84" r="0.55" fill="#3aa050"/>
<text x="113.75" y="497.64" font-size="2.3" fill="#999">10a–11c</text>
<circle cx="127.98" cy="432.96" r="0.55" fill="#3aa050"/>
<text x="128.98" y="433.76" font-size="2.3" fill="#999">9a–15b</text>
<circle cx="125.61" cy="483.62" r="0.55" fill="#3aa050"/>
<text x="126.61" y="484.42" font-size="2.3" fill="#999">9c–14a</text>
<circle cx="88.7" cy="501.47" r="0.55" fill="#3a5fb0"/>
<text x="89.7" y="502.27" font-size="2.3" fill="#999">11b–17a</text>
<circle cx="100.84" cy="467.48" r="0.55" fill="#3aa050"/>
<text x="101.84" y="468.28" font-size="2.3" fill="#999">4b–15a</text>
<circle cx="67.77" cy="493.47" r="0.55" fill="#3a5fb0"/>
<text x="68.77" y="494.27" font-size="2.3" fill="#999">9c–14a</text>
<circle cx="86.47" cy="475.16" r="0.55" fill="#3aa050"/>
<text x="87.47" y="475.96" font-size="2.3" fill="#999">10a–17a</text>
<circle cx="170.74" cy="490.6" r="0.55" fill="#b0506a"/>
<text x="171.74" y="491.4" font-size="2.3" fill="#999">2c–14a</text>
<circle cx="186.52" cy="419.81" r="0.55" fill="#3aa050"/>
<text x="187.52" y="420.61" font-size="2.3" fill="#999">14a–15b</text>
<circle cx="75.02" cy="496.11" r="0.55" fill="#3a5fb0"/>
<text x="76.02" y="496.91" font-size="2.3" fill="#999">6b–Xa</text>
<circle cx="135.75" cy="416.63" r="0.55" fill="#3aa050"/>
<text x="136.75" y="417.43" font-size="2.3" fill="#999">12a–Xa</text>
<circle cx="98.1" cy="472.87" r="0.55" fill="#3aa050"/>
<text x="99.1" y="473.67" font-size="2.3" fill="#999">14a–15a</text>
<circle cx="152.6" cy="493.39" r="0.55" fill="#b0506a"/>
<text x="153.6" y="494.19" font-size="2.3" fill="#999">5a–10a</text>
<circle cx="172.47" cy="519.44" r="0.55" fill="#b0506a"/>
<text x="173.47" y="520.24" font-size="2.3" fill="#999">5a–14b</text>
<circle cx="83.19" cy="462.29" r="0.55" fill="#3a5fb0"/>
<text x="84.19" y="463.09" font-size="2.3" fill="#999">3a–11b</text>
<circle cx="67.48" cy="467.01" r="0.55" fill="#3a5fb0"/>
<text x="68.48" y="467.81" font-size="2.3" fill="#999">2c–10a</text>
<circle cx="163.63" cy="415.23" r="0.55" fill="#b0506a"/>
<text x="164.63" y="416.03" font-size="2.3" fill="#999">6a–10a</text>
<circle cx="131.04" cy="464.58" r="0.55" fill="#3aa050"/>
<text x="132.04" y="465.38" font-size="2.3" fill="#999">1d–14b</text>
<circle cx="128.99" cy="498.83" r="0.55" fill="#3aa050"/>
<text x="129.99" y="499.63" font-size="2.3" fill="#999">2a–15b</text>
<circle cx="133.65" cy="458.69" r="0.55" fill="#3aa050"/>
<text x="134.65" y="459.49" font-size="2.3" fill="#999">1d–12a</text>
<circle cx="166.53" cy="507.89" r="0.55" fill="#b0506a"/>
<text x="167.53" y="508.69" font-size="2.3" fill="#999">3a–10a</text>
<circle cx="142.06" cy="485.2" r="0.55" fill="#3aa050"/>
<text x="143.06" y="486" font-size="2.3" fill="#999">3a–18a</text>
<circle cx="87.29" cy="504.73" r="0.55" fill="#3aa050"/>
<text x="88.29" y="505.53" font-size="2.3" fill="#999">3a–18a</text>
<circle cx="153.48" cy="427.36" r="0.55" fill="#b0506a"/>
<text x="154.48" y="428.16" font-size="2.3" fill="#999">3a–18a</text>
<circle cx="151.91" cy="480.23" r="0.55" fill="#b0506a"/>
<text x="152.91" y="481.03" font-size="2.3" fill="#999">4a–5a</text>
<circle cx="74.06" cy="484.52" r="0.55" fill="#3aa050"/>
<text x="75.06" y="485.32" font-size="2.3" fill="#999">12a–14a</text>
<circle cx="167.22" cy="510.39" r="0.55" fill="#b0506a"/>
<text x="168.22" y="511.19" font-size="2.3" fill="#999">1a–11c</text>
<circle cx="134.26" cy="454.37" r="0.55" fill="#3aa050"/>
<text x="135.26" y="455.17" font-size="2.3" fill="#999">2b–18a</text>
<circle cx="190.1" cy="523.6" r="0.55" fill="#b0506a"/>
<text x="191.1" y="524.4" font-size="2.3" fill="#999">4a–11a</text>
<circle cx="100.81" cy="433.81" r="0.55" fill="#3a5fb0"/>
<text x="101.81" y="434.61" font-size="2.3" fill="#999">9b–11a</text>
<circle cx="135.75" cy="481.17" r="0.55" fill="#3aa050"/>
<text x="136.75" y="481.97" font-size="2.3" fill="#999">15b–17a</text>
<circle cx="108.76" cy="440.11" r="0.55" fill="#3a5fb0"/>
<text x="109.76" y="440.91" font-size="2.3" fill="#999">2c–9b</text>
<circle cx="86.37" cy="472.76" r="0.55" fill="#3a5fb0"/>
<text x="87.37" y="473.56" font-size="2.3" fill="#999">11c–14b</text>
<circle cx="170.15" cy="473.5" r="0.55" fill="#b0506a"/>
<text x="171.15" y="474.3" font-size="2.3" fill="#999">1b–6b</text>
<circle cx="108.61" cy="466.41" r="0.55" fill="#3aa050"/>
<text x="109.61" y="467.21" font-size="2.3" fill="#999">13a–14a</text>
<circle cx="139.83" cy="460.36" r="0.55" fill="#3aa050"/>
<text x="140.83" y="461.16" font-size="2.3" fill="#999">6b–14b</text>
<circle cx="135.52" cy="509.56" r="0.55" fill="#3aa050"/>
<text x="136.52" y="510.36" font-size="2.3" fill="#999">6b–15b</text>
<circle cx="87.71" cy="456.73" r="0.55" fill="#3a5fb0"/>
<text x="88.71" y="457.53" font-size="2.3" fill="#999">3a–14b</text>
<circle cx="80.99" cy="453.76" r="0.55" fill="#3a5fb0"/>
<text x="81.99" y="454.56" font-size="2.3" fill="#999">15b–17a</text>
<circle cx="127.08" cy="500.14" r="0.55" fill="#3aa050"/>
<text x="128.08" y="500.94" font-size="2.3" fill="#999">11a–12a</text>
<circle cx="159.76" cy="506.68" r="0.55" fill="#b0506a"/>
<text x="160.76" y="507.48" font-size="2.3" fill="#999">3a–18a</text>
<circle cx="122.17" cy="465.63" r="0.55" fill="#3aa050"/>
<text x="123.17" y="466.43" font-size="2.3" fill="#999">9a–13a</text>
<circle cx="201.58" cy="481.17" r="0.55" fill="#b0506a"/>
<text x="202.58" y="481.97" font-size="2.3" fill="#999">4a–6a</text>
<circle cx="128.81" cy="448.99" r="0.55" fill="#3aa050"/>
<text x="129.81" y="449.79" font-size="2.3" fill="#999">9a–11c</text>
<circle cx="154.45" cy="491.65" r="0.55" fill="#b0506a"/>
<text x="155.45" y="492.45" font-size="2.3" fill="#999">4b–18a</text>
<circle cx="183.41" cy="461.93" r="0.55" fill="#3aa050"/>
<text x="184.41" y="462.73" font-size="2.3" fill="#999">2a–15b</text>
<circle cx="114.79" cy="448.7" r="0.55" fill="#3a5fb0"/>
<text x="115.79" y="449.5" font-size="2.3" fill="#999">1a–13a</text>
<circle cx="170.08" cy="470.9" r="0.55" fill="#b0506a"/>
<text x="171.08" y="471.7" font-size="2.3" fill="#999">1d–11c</text>
<circle cx="182.36" cy="513.71" r="0.55" fill="#b0506a"/>
<text x="183.36" y="514.51" font-size="2.3" fill="#999">6a–9b</text>
<circle cx="89.91" cy="486.65" r="0.55" fill="#b0506a"/>
<text x="90.91" y="487.45" font-size="2.3" fill="#999">2b–11c</text>
<circle cx="147.16" cy="439.38" r="0.55" fill="#3aa050"/>
<text x="148.16" y="440.18" font-size="2.3" fill="#999">13a–Xa</text>
<circle cx="172.9" cy="432.2" r="0.55" fill="#3aa050"/>
<text x="173.9" y="433" font-size="2.3" fill="#999">2c–9c</text>
<circle cx="136.06" cy="444.29" r="0.55" fill="#3aa050"/>
<text x="137.06" y="445.09" font-size="2.3" fill="#999">9b–13a</text>
<circle cx="139.53" cy="503.87" r="0.55" fill="#3aa050"/>
<text x="140.53" y="504.67" font-size="2.3" fill="#999">3a–17a</text>
<circle cx="129.5" cy="481.54" r="0.55" fill="#3aa050"/>
<text x="130.5" y="482.34" font-size="2.3" fill="#999">9b–Xa</text>
<circle cx="98.92" cy="480.06" r="0.55" fill="#3aa050"/>
<text x="99.92" y="480.86" font-size="2.3" fill="#999">11a–11c</text>
<circle cx="155.32" cy="431.98" r="0.55" fill="#3aa050"/>
<text x="156.32" y="432.78" font-size="2.3" fill="#999">6a–9a</text>
<circle cx="156.56" cy="484.96" r="0.55" fill="#b0506a"/>
<text x="157.56" y="485.76" font-size="2.3" fill="#999">6a–12a</text>
<circle cx="64.13" cy="460.79" r="0.55" fill="#3a5fb0"/>
<text x="65.13" y="461.59" font-size="2.3" fill="#999">13a–14b</text>
<circle cx="107.37" cy="414.36" r="0.55" fill="#3a5fb0"/>
<text x="108.37" y="415.16" font-size="2.3" fill="#999">9c–15a</text>
<circle cx="64.9" cy="447.25" r="0.55" fill="#3a5fb0"/>
<text x="65.9" y="448.05" font-size="2.3" fill="#999">2a–12a</text>
<circle cx="165.18" cy="504.23" r="0.55" fill="#b0506a"/>
<text x="166.18" y="505.03" font-size="2.3" fill="#999">9c–15a</text>
<circle cx="145.63" cy="502.8" r="0.55" fill="#3aa050"/>
<text x="146.63" y="503.6" font-size="2.3" fill="#999">5a–9a</text>
<circle cx="76.96" cy="501.01" r="0.55" fill="#3aa050"/>
<text x="77.96" y="501.81" font-size="2.3" fill="#999">6a–17a</text>
<circle cx="109.42" cy="511.48" r="0.55" fill="#3aa050"/>
<text x="110.42" y="512.28" font-size="2.3" fill="#999">9c–15b</text>
<circle cx="163.1" cy="436.95" r="0.55" fill="#3aa050"/>
<text x="164.1" y="437.75" font-size="2.3" fill="#999">2a–11b</text>
<circle cx="118.19" cy="465.24" r="0.55" fill="#3aa050"/>
<text x="119.19" y="466.04" font-size="2.3" fill="#999">4b–6b</text>
<circle cx="143.65" cy="492.68" r="0.55" fill="#3aa050"/>
<text x="144.65" y="493.48" font-size="2.3" fill="#999">10a–11a</text>
<rect x="62.41" y="544.23" width="1" height="1" fill="#222"/>
<rect x="61.92" y="548.92" width="1" height="1" fill="#222"/>
<rect x="58.21" y="543.46" width="1" height="1" fill="#222"/>
<rect x="94.18" y="491.99" width="1" height="1" fill="#222"/>
<rect x="97.85" y="515.82" width="1" height="1" fill="#222"/>
<rect x="124.36" y="515.35" width="1" height="1" fill="#222"/>
<rect x="114.69" y="541.01" width="1" height="1" fill="#222"/>
<rect x="57.75" y="493.72" width="1" height="1" fill="#222"/>
<rect x="92.96" y="552.21" width="1" height="1" fill="#222"/>
<rect x="85.38" y="505.3" width="1" height="1" fill="#222"/>
<rect x="68.87" y="514.99" width="1" height="1" fill="#222"/>
<rect x="56.94" y="510.72" width="1" height="1" fill="#222"/>
<rect x="93.28" y="527.26" width="1" height="1" fill="#222"/>
<rect x="80.5" y="526.84" width="1" height="1" fill="#222"/>
<rect x="116.63" y="496.54" width="1" height="1" fill="#222"/>
<rect x="82.74" y="522.99" width="1" height="1" fill="#222"/>
<rect x="63.34" y="504.74" width="1" height="1" fill="#222"/>
<rect x="63.28" y="520.69" width="1" height="1" fill="#222"/>
<rect x="112.43" y="505" width="1" height="1" fill="#222"/>
<rect x="89.39" y="511.76" width="1" height="1" fill="#222"/>
<rect x="88.55" y="524.02" width="1" height="1" fill="#222"/>
<rect x="81.68" y="534.65" width="1" height="1" fill="#222"/>
<rect x="95.85" y="526.25" width="1" height="1" fill="#222"/>
<rect x="94.46" y="532.82" width="1" height="1" fill="#222"/>
<rect x="122.2" y="520.26" width="1" height="1" fill="#222"/>
<rect x="88.13" y="487.91" width="1" height="1" fill="#222"/>
<rect x="89.12" y="517.61" width="1" height="1" fill="#222"/>
<rect x="91.72" y="559.18" width="1" height="1" fill="#222"/>
<rect x="108.87" y="552.74" width="1" height="1" fill="#222"/>
<rect x="113.83" y="508.33" width="1" height="1" fill="#222"/>
<rect x="79.97" y="548.26" width="1" height="1" fill="#222"/>
<rect x="102.13" y="531.29" width="1" height="1" fill="#222"/>
<rect x="121.41" y="532.13" width="1" height="1" fill="#222"/>
<rect x="90.23" y="523.96" width="1" height="1" fill="#222"/>
<rect x="61.96" y="557.69" width="1" height="1" fill="#222"/>
<rect x="103.48" y="514.97" width="1" height="1" fill="#222"/>
<rect x="84.59" y="537.59" width="1" height="1" fill="#222"/>
<rect x="103.12" y="544.02" width="1" height="1" fill="#222"/>
<rect x="106.5" y="516.38" width="1" height="1" fill="#222"/>
<rect x="64.67" y="535.14" width="1" height="1" fill="#222"/>
<rect x="80.73" y="535.45" width="1" height="1" fill="#222"/>
<rect x="92.65" y="544.54" width="1" height="1" fill="#222"/>
<rect x="66.77" y="549.12" width="1" height="1" fill="#222"/>
<rect x="66.9" y="513.35" width="1" height="1" fill="#222"/>
<rect x="92.66" y="552.47" width="1" height="1" fill="#222"/>
<rect x="84.24" y="516.6" width="1" height="1" fill="#222"/>
<rect x="121.15" y="529.91" width="1" height="1" fill="#222"/>
<rect x="95.85" y="541.99" width="1" height="1" fill="#222"/>
<rect x="101.34" y="550.68" width="1" height="1" fill="#222"/>
<rect x="77.72" y="502.17" width="1" height="1" fill="#222"/>
<rect x="103.13" y="538.29" width="1" height="1" fill="#222"/>
<rect x="74.11" y="552.06" width="1" height="1" fill="#222"/>
<rect x="86.07" y="522.96" width="1" height="1" fill="#222"/>
<rect x="84.4" y="500.88" width="1" height="1" fill="#222"/>
<rect x="50.72" y="545.54" width="1" height="1" fill="#222"/>
<rect x="91.4" y="528.5" width="1" height="1" fill="#222"/>
<rect x="107" y="559.63" width="1" height="1" fill="#222"/>
<rect x="106.14" y="545.81" width="1" height="1" fill="#222"/>
<rect x="79.75" y="481.08" width="1" height="1" fill="#222"/>
<rect x="98.4" y="556.04" width="1" height="1" fill="#222"/>
<rect x="104.24" y="534.88" width="1" height="1" fill="#222"/>
<rect x="111.08" y="509.77" width="1" height="1" fill="#222"/>
<rect x="90.78" y="538.53" width="1" height="1" fill="#222"/>
<rect x="89.44" y="493.83" width="1" height="1" fill="#222"/>
<rect x="75.22" y="546.71" width="1" height="1" fill="#222"/>
<rect x="91.02" y="507.72" width="1" height="1" fill="#222"/>
<rect x="76.95" y="521.83" width="1" height="1" fill="#222"/>
<rect x="99.89" y="560.28" width="1" height="1" fill="#222"/>
<rect x="89.54" y="494.97" width="1" height="1" fill="#222"/>
<rect x="60.83" y="527.72" width="1" height="1" fill="#222"/>
<rect x="73.93" y="531.94" width="1" height="1" fill="#222"/>
<rect x="91.41" y="511.03" width="1" height="1" fill="#222"/>
<rect x="79.84" y="544.46" width="1" height="1" fill="#222"/>
<rect x="65.23" y="533.17" width="1" height="1" fill="#222"/>
<rect x="73.56" y="525.6" width="1" height="1" fill="#222"/>
<rect x="78.81" y="516.7" width="1" height="1" fill="#222"/>
<rect x="59.59" y="553.37" width="1" height="1" fill="#222"/>
<rect x="103.31" y="499.17" width="1" height="1" fill="#222"/>
<rect x="70.95" y="501.84" width="1" height="1" fill="#222"/>
<rect x="92.21" y="523.48" width="1" height="1" fill="#222"/>
<rect x="131.64" y="526.93" width="1" height="1" fill="#222"/>
<rect x="57.16" y="521.75" width="1" height="1" fill="#222"/>
<rect x="83.48" y="485.48" width="1" height="1" fill="#222"/>
<rect x="103.21" y="528.13" width="1" height="1" fill="#222"/>
<rect x="101.08" y="520.7" width="1" height="1" fill="#222"/>
<rect x="90.33" y="515.76" width="1" height="1" fill="#222"/>
<rect x="113.77" y="515.24" width="1" height="1" fill="#222"/>
<rect x="103.57" y="542.21" width="1" height="1" fill="#222"/>
<rect x="133.29" y="540.21" width="1" height="1" fill="#222"/>
<rect x="114.45" y="512.39" width="1" height="1" fill="#222"/>
<rect x="77.2" y="517.44" width="1" height="1" fill="#222"/>
<rect x="103.23" y="528.59" width="1" height="1" fill="#222"/>
<rect x="56.58" y="536.84" width="1" height="1" fill="#222"/>
<rect x="118.78" y="533.23" width="1" height="1" fill="#222"/>
<rect x="67.02" y="509.06" width="1" height="1" fill="#222"/>
<rect x="117.93" y="475.24" width="1" height="1" fill="#222"/>
<rect x="102.35" y="525.06" width="1" height="1" fill="#222"/>
<rect x="103.23" y="520.1" width="1" height="1" fill="#222"/>
<rect x="57.12" y="485.54" width="1" height="1" fill="#222"/>
<rect x="124.38" y="512.79" width="1" height="1" fill="#222"/>
<rect x="78.15" y="555.45" width="1" height="1" fill="#222"/>
<rect x="93.98" y="524.93" width="1" height="1" fill="#222"/>
<rect x="109.64" y="494.63" width="1" height="1" fill="#222"/>
<rect x="117.92" y="536.73" width="1" height="1" fill="#222"/>
<rect x="77.2" y="495.71" width="1" height="1" fill="#222"/>
<rect x="86.87" y="534.77" width="1" height="1" fill="#222"/>
<rect x="78.53" y="508.82" width="1" height="1" fill="#222"/>
<rect x="104.78" y="506.22" width="1" height="1" fill="#222"/>
<rect x="94.52" y="509.84" width="1" height="1" fill="#222"/>
<rect x="107.53" y="497.89" width="1" height="1" fill="#222"/>
<rect x="122.2" y="521.42" width="1" height="1" fill="#222"/>
<rect x="88.42" y="518.53" width="1" height="1" fill="#222"/>
<rect x="100.7" y="531.16" width="1" height="1" fill="#222"/>
<rect x="127.93" y="542.32" width="1" height="1" fill="#222"/>
<rect x="95.85" y="532.13" width="1" height="1" fill="#222"/>
<rect x="76.68" y="520.95" width="1" height="1" fill="#222"/>
<rect x="69.16" y="541.94" width="1" height="1" fill="#222"/>
<rect x="63.82" y="489.07" width="1" height="1" fill="#222"/>
<rect x="54.82" y="519.81" width="1" height="1" fill="#222"/>
<rect x="96.34" y="511.86" width="1" height="1" fill="#222"/>
<rect x="119.89" y="511.89" width="1" height="1" fill="#222"/>
<rect x="74.39" y="528.35" width="1" height="1" fill="#222"/>
<rect x="98.6" y="537.01" width="1" height="1" fill="#222"/>
<rect x="75.15" y="517.39" width="1" height="1" fill="#222"/>
<rect x="80.62" y="481.84" width="1" height="1" fill="#222"/>
<rect x="79.4" y="512.55" width="1" height="1" fill="#222"/>
<rect x="66.57" y="523.13" width="1" height="1" fill="#222"/>
<rect x="95.49" y="530.52" width="1" height="1" fill="#222"/>
<rect x="94.02" y="525.26" width="1" height="1" fill="#222"/>
<rect x="92.57" y="499.51" width="1" height="1" fill="#222"/>
<rect x="82.4" y="507.41" width="1" height="1" fill="#222"/>
<rect x="92.79" y="503.93" width="1" height="1" fill="#222"/>
<rect x="95.48" y="528.83" width="1" height="1" fill="#222"/>
<rect x="74.53" y="478.1" width="1" height="1" fill="#222"/>
<rect x="120.43" y="511.51" width="1" height="1" fill="#222"/>
<rect x="127.19" y="520.16" width="1" height="1" fill="#222"/>
<rect x="79.62" y="513.9" width="1" height="1" fill="#222"/>
<rect x="129.11" y="523.72" width="1" height="1" fill="#222"/>
<rect x="72.03" y="526.62" width="1" height="1" fill="#222"/>
<rect x="92.18" y="495.71" width="1" height="1" fill="#222"/>
<rect x="95.57" y="513.48" width="1" height="1" fill="#222"/>
<rect x="90.91" y="559.2" width="1" height="1" fill="#222"/>
<rect x="89.36" y="515.65" width="1" height="1" fill="#222"/>
<rect x="112.78" y="508.25" width="1" height="1" fill="#222"/>
<rect x="68.24" y="523.72" width="1" height="1" fill="#222"/>
<rect x="94.84" y="494.62" width="1" height="1" fill="#222"/>
<rect x="73.15" y="531.72" width="1" height="1" fill="#222"/>
<rect x="120.02" y="509.66" width="1" height="1" fill="#222"/>
<rect x="56.01" y="504.72" width="1" height="1" fill="#222"/>
<rect x="125.16" y="510.33" width="1" height="1" fill="#222"/>
<rect x="64.16" y="487.3" width="1" height="1" fill="#222"/>
<rect x="103.73" y="543.83" width="1" height="1" fill="#222"/>
<rect x="135.8" y="519.48" width="1" height="1" fill="#222"/>
<rect x="84.86" y="509.96" width="1" height="1" fill="#222"/>
<rect x="96.96" y="542.87" width="1" height="1" fill="#222"/>
<rect x="97.62" y="505.8" width="1" height="1" fill="#222"/>
<rect x="84.54" y="525.44" width="1" height="1" fill="#222"/>
<rect x="61.94" y="527.25" width="1" height="1" fill="#222"/>
<rect x="74.91" y="525.34" width="1" height="1" fill="#222"/>
<rect x="99.56" y="538.95" width="1" height="1" fill="#222"/>
<rect x="80.99" y="545.5" width="1" height="1" fill="#222"/>
<rect x="86.41" y="532.18" width="1" height="1" fill="#222"/>
<rect x="59.2" y="523.36" width="1" height="1" fill="#222"/>
<rect x="58.76" y="529.52" width="1" height="1" fill="#222"/>
<rect x="88.71" y="510.24" width="1" height="1" fill="#222"/>
<rect x="100.07" y="514.02" width="1" height="1" fill="#222"/>
<rect x="88.63" y="529.27" width="1" height="1" fill="#222"/>
<rect x="115.16" y="504.5" width="1" height="1" fill="#222"/>
<rect x="87.79" y="520.26" width="1" height="1" fill="#222"/>
<rect x="62.28" y="541.37" width="1" height="1" fill="#222"/>
<rect x="51.46" y="529.23" width="1" height="1" fill="#222"/>
<rect x="122.81" y="497.06" width="1" height="1" fill="#222"/>
<rect x="84.93" y="530.89" width="1" height="1" fill="#222"/>
<rect x="105.24" y="506.02" width="1" height="1" fill="#222"/>
<rect x="68.01" y="524.32" width="1" height="1" fill="#222"/>
<rect x="102.97" y="508.41" width="1" height="1" fill="#222"/>
<rect x="106.1" y="501.54" width="1" height="1" fill="#222"/>
<rect x="94.55" y="533.9" width="1" height="1" fill="#222"/>
<rect x="52.7" y="540.6" width="1" height="1" fill="#222"/>
<rect x="108.04" y="488.33" width="1" height="1" fill="#222"/>
<rect x="107.09" y="532.71" width="1" height="1" fill="#222"/>
<rect x="63.92" y="527.83" width="1" height="1" fill="#222"/>
<rect x="122.91" y="538.2" width="1" height="1" fill="#222"/>
<rect x="77.48" y="510.15" width="1" height="1" fill="#222"/>
<rect x="74.01" y="503.66" width="1" height="1" fill="#222"/>
<rect x="126.94" y="528.99" width="1" height="1" fill="#222"/>
<rect x="90.67" y="530.3" width="1" height="1" fill="#222"/>
<rect x="102.04" y="531.02" width="1" height="1" fill="#222"/>
<rect x="58.07" y="509.36" width="1" height="1" fill="#222"/>
<rect x="68" y="503.54" width="1" height="1" fill="#222"/>
<rect x="108.21" y="514.19" width="1" height="1" fill="#222"/>
<rect x="81.7" y="524.37" width="1" height="1" fill="#222"/>
<rect x="124.66" y="478.82" width="1" height="1" fill="#222"/>
<rect x="58.75" y="554.46" width="1" height="1" fill="#222"/>
<rect x="118.01" y="517.37" width="1" height="1" fill="#222"/>
<rect x="82.97" y="490.72" width="1" height="1" fill="#222"/>
<rect x="82.19" y="496.58" width="1" height="1" fill="#222"/>
<rect x="114.39" y="538.48" width="1" height="1" fill="#222"/>
<rect x="86.24" y="497.13" width="1" height="1" fill="#222"/>
<rect x="81.83" y="505.67" width="1" height="1" fill="#222"/>
<circle cx="181.1" cy="416.6" r="1.9" fill="#1e8c3c"/>
<circle cx="195.3" cy="415.8" r="1.9" fill="#1e8c3c"/>
<circle cx="177.7" cy="422.9" r="1.9" fill="#1e8c3c"/>
<circle cx="183.7" cy="434.4" r="1.9" fill="#1e8c3c"/>
<circle cx="157.7" cy="434.4" r="1.9" fill="#1e8c3c"/>
<circle cx="165.3" cy="438.6" r="1.9" fill="#1e8c3c"/>
<circle cx="172.4" cy="438.1" r="1.9" fill="#1e8c3c"/>
<circle cx="170" cy="441" r="1.9" fill="#1e8c3c"/>
<circle cx="156.9" cy="446" r="1.9" fill="#1e8c3c"/>
<circle cx="164" cy="450.4" r="1.9" fill="#1e8c3c"/>
<circle cx="165.3" cy="452.8" r="1.9" fill="#1e8c3c"/>
<rect x="38.3" y="310.5" width="265.7" height="262.5" fill="none" stroke="#8c8c8c" stroke-width="1"/>
<line x1="204.07" y1="310.5" x2="204.07" y2="573.0" stroke="#f2a93b" stroke-width="1.6"/>
<line x1="38.3" y1="408.83" x2="304.0" y2="408.83" stroke="#f2a93b" stroke-width="1.6"/>
<line x1="47.7" y1="573.0" x2="47.7" y2="578" stroke="#777" stroke-width="0.9"/>
<text x="47.7" y="589" font-size="8.2" fill="#333" text-anchor="middle" stroke="#333" stroke-width="0.2">0</text>
<line x1="32.3" y1="563.3" x2="38.3" y2="563.3" stroke="#777" stroke-width="0.9"/>
<text x="28.3" y="566.3" font-size="8.2" fill="#333" text-anchor="end" stroke="#333" stroke-width="0.2">0</text>
<line x1="88.85" y1="573.0" x2="88.85" y2="578" stroke="#777" stroke-width="0.9"/>
<text x="88.85" y="589" font-size="8.2" fill="#333" text-anchor="middle" stroke="#333" stroke-width="0.2">1</text>
<line x1="32.3" y1="522.65" x2="38.3" y2="522.65" stroke="#777" stroke-width="0.9"/>
<text x="28.3" y="525.65" font-size="8.2" fill="#333" text-anchor="end" stroke="#333" stroke-width="0.2">1</text>
<line x1="130" y1="573.0" x2="130" y2="578" stroke="#777" stroke-width="0.9"/>
<text x="130" y="589" font-size="8.2" fill="#333" text-anchor="middle" stroke="#333" stroke-width="0.2">2</text>
<line x1="32.3" y1="482" x2="38.3" y2="482" stroke="#777" stroke-width="0.9"/>
<text x="28.3" y="485" font-size="8.2" fill="#333" text-anchor="end" stroke="#333" stroke-width="0.2">2</text>
<line x1="171.15" y1="573.0" x2="171.15" y2="578" stroke="#777" stroke-width="0.9"/>
<text x="171.15" y="589" font-size="8.2" fill="#333" text-anchor="middle" stroke="#333" stroke-width="0.2">3</text>
<line x1="32.3" y1="441.35" x2="38.3" y2="441.35" stroke="#777" stroke-width="0.9"/>
<text x="28.3" y="444.35" font-size="8.2" fill="#333" text-anchor="end" stroke="#333" stroke-width="0.2">3</text>
<line x1="212.3" y1="573.0" x2="212.3" y2="578" stroke="#777" stroke-width="0.9"/>
<text x="212.3" y="589" font-size="8.2" fill="#333" text-anchor="middle" stroke="#333" stroke-width="0.2">4</text>
<line x1="32.3" y1="400.7" x2="38.3" y2="400.7" stroke="#777" stroke-width="0.9"/>
<text x="28.3" y="403.7" font-size="8.2" fill="#333" text-anchor="end" stroke="#333" stroke-width="0.2">4</text>
<line x1="253.45" y1="573.0" x2="253.45" y2="578" stroke="#777" stroke-width="0.9"/>
<text x="253.45" y="589" font-size="8.2" fill="#333" text-anchor="middle" stroke="#333" stroke-width="0.2">5</text>
<line x1="32.3" y1="360.05" x2="38.3" y2="360.05" stroke="#777" stroke-width="0.9"/>
<text x="28.3" y="363.05" font-size="8.2" fill="#333" text-anchor="end" stroke="#333" stroke-width="0.2">5</text>
<line x1="294.6" y1="573.0" x2="294.6" y2="578" stroke="#777" stroke-width="0.9"/>
<text x="294.6" y="589" font-size="8.2" fill="#333" text-anchor="middle" stroke="#333" stroke-width="0.2">6</text>
<line x1="32.3" y1="319.4" x2="38.3" y2="319.4" stroke="#777" stroke-width="0.9"/>
<text x="28.3" y="322.4" font-size="8.2" fill="#333" text-anchor="end" stroke="#333" stroke-width="0.2">6</text>
<text x="171" y="603.8" font-size="8" fill="#333" text-anchor="middle" stroke="#333" stroke-width="0.2">Male epistasis (LOD)</text>
<text transform="translate(12,441.6) rotate(-90)" font-size="7.9" fill="#333" text-anchor="middle" stroke="#333" stroke-width="0.2">Female epistasis (LOD)</text>
<text x="-0.2" y="318.8" font-size="13.5" font-weight="bold" fill="#000" stroke="#000" stroke-width="0.14">b</text>
<text x="42" y="322.5" font-size="8" fill="#c8202e" stroke="#c8202e" stroke-width="0.2">Q1</text>
<text x="154.5" y="322.5" font-size="8.1" fill="#c8202e" text-anchor="middle" stroke="#c8202e" stroke-width="0.2">Significant in females</text>
<text x="288" y="327" font-size="7.6" fill="#1e9a4a" text-anchor="middle" stroke="#1e9a4a" stroke-width="0.2">Q2</text>
<text x="256.5" y="347.5" font-size="8.1" fill="#1e9a4a" text-anchor="middle" stroke="#1e9a4a" stroke-width="0.2">No common</text>
<text x="256.5" y="357.1" font-size="8.1" fill="#1e9a4a" text-anchor="middle" stroke="#1e9a4a" stroke-width="0.2">epistatic</text>
<text x="256.5" y="366.7" font-size="8.1" fill="#1e9a4a" text-anchor="middle" stroke="#1e9a4a" stroke-width="0.2">partners</text>
<text x="207.5" y="405" font-size="7.6" fill="#e86a3c" stroke="#e86a3c" stroke-width="0.2"><tspan font-style="italic">P</tspan> &lt; 0.05</text>
<text x="41.5" y="424.5" font-size="7.6" fill="#222" stroke="#222" stroke-width="0.2">Q3</text>
<text x="288" y="422" font-size="7.6" fill="#2273c3" text-anchor="middle" stroke="#2273c3" stroke-width="0.2">Q4</text>
<text x="298" y="550" font-size="8.2" fill="#2273c3" text-anchor="end" stroke="#2273c3" stroke-width="0.2">Significant</text>
<text x="298" y="559.6" font-size="8.2" fill="#2273c3" text-anchor="end" stroke="#2273c3" stroke-width="0.2">in males</text>
<circle cx="107.9" cy="341.7" r="2.45" fill="#c8202e"/>
<text x="111.9" y="342.8" font-size="3.2" fill="#555">1a–6b</text>
<circle cx="125.4" cy="363.9" r="2.45" fill="#c8202e"/>
<text x="124.4" y="359.6" font-size="3.2" fill="#555" text-anchor="middle">11b–14a</text>
<circle cx="145.4" cy="363.7" r="2.45" fill="#c8202e"/>
<text x="144.4" y="359.4" font-size="3.2" fill="#555" text-anchor="middle">1d–18a</text>
<circle cx="177.9" cy="374.1" r="2.45" fill="#c8202e"/>
<text x="173.9" y="375.2" font-size="3.2" fill="#555" text-anchor="end">1a–9a</text>
<circle cx="189.4" cy="374.7" r="2.45" fill="#c8202e"/>
<text x="188.4" y="370.4" font-size="3.2" fill="#555" text-anchor="middle">1c–11c</text>
<circle cx="90.5" cy="379.8" r="2.45" fill="#c8202e"/>
<text x="89.5" y="375.5" font-size="3.2" fill="#555" text-anchor="middle">1b–9b</text>
<circle cx="97.4" cy="383.5" r="2.45" fill="#c8202e"/>
<text x="101.4" y="384.6" font-size="3.2" fill="#555">1d–15b</text>
<circle cx="76.3" cy="382.7" r="2.45" fill="#c8202e"/>
<text x="72.3" y="383.8" font-size="3.2" fill="#555" text-anchor="end">5a–17a</text>
<circle cx="142.4" cy="382.1" r="2.45" fill="#c8202e"/>
<text x="141.4" y="377.8" font-size="3.2" fill="#555" text-anchor="middle">4b–12a</text>
<circle cx="186.3" cy="390.3" r="2.45" fill="#c8202e"/>
<text x="187.3" y="396.8" font-size="3.2" fill="#555" text-anchor="middle">11a–14a</text>
<circle cx="129.5" cy="392.3" r="2.45" fill="#c8202e"/>
<text x="128.5" y="388" font-size="3.2" fill="#555" text-anchor="middle">6b–14b</text>
<circle cx="118.9" cy="393.5" r="2.45" fill="#c8202e"/>
<text x="115.9" y="389.7" font-size="3.2" fill="#555" text-anchor="end">1b–6b</text>
<circle cx="100.5" cy="398" r="2.45" fill="#c8202e"/>
<text x="97.5" y="394.2" font-size="3.2" fill="#555" text-anchor="end">2b–6a</text>
<circle cx="116.2" cy="398.6" r="2.45" fill="#c8202e"/>
<text x="119.2" y="403.6" font-size="3.2" fill="#555">6a–11b</text>
<circle cx="142.8" cy="396.2" r="2.45" fill="#c8202e"/>
<text x="146.8" y="397.3" font-size="3.2" fill="#555">6b–14a</text>
<circle cx="151.4" cy="403.1" r="2.45" fill="#c8202e"/>
<text x="155.4" y="404.2" font-size="3.2" fill="#555">1d–2b</text>
<circle cx="83" cy="335.1" r="4.15" fill="#fff" stroke="#1a1a1a" stroke-width="1.3"/>
<circle cx="83" cy="335.1" r="2.6" fill="#c8202e"/>
<text x="90" y="333.7" font-size="7.6" fill="#333" text-anchor="start" stroke="#333" stroke-width="0.2">3a–5a</text>
<circle cx="154.2" cy="333.1" r="4.15" fill="#fff" stroke="#1a1a1a" stroke-width="1.3"/>
<circle cx="154.2" cy="333.1" r="2.6" fill="#c8202e"/>
<text x="161.8" y="335.5" font-size="7.6" fill="#333" text-anchor="start" stroke="#333" stroke-width="0.2">1b–9a</text>
<circle cx="106" cy="405.2" r="4.15" fill="#fff" stroke="#1a1a1a" stroke-width="1.3"/>
<circle cx="106" cy="405.2" r="2.6" fill="#c8202e"/>
<text x="99" y="407.8" font-size="7.6" fill="#333" text-anchor="end" stroke="#333" stroke-width="0.2">1c–2b</text>
<circle cx="253.6" cy="493.2" r="4.15" fill="#fff" stroke="#1a1a1a" stroke-width="1.3"/>
<circle cx="253.6" cy="493.2" r="2.6" fill="#2273c3"/>
<text x="260.7" y="496.1" font-size="8.7" fill="#333" text-anchor="start" stroke="#333" stroke-width="0.14">1c–3a</text>
<circle cx="221.5" cy="419.9" r="2.45" fill="#2273c3"/>
<text x="218.5" y="416.1" font-size="3.2" fill="#555" text-anchor="end">2b–14a</text>
<circle cx="234" cy="417.7" r="2.45" fill="#2273c3"/>
<text x="238" y="418.8" font-size="3.2" fill="#555">1d–2c</text>
<circle cx="220.8" cy="430.4" r="2.45" fill="#2273c3"/>
<text x="224.8" y="431.5" font-size="3.2" fill="#555">6a–14a</text>
<circle cx="253.5" cy="438.7" r="2.45" fill="#2273c3"/>
<text x="257" y="435.7" font-size="3.2" fill="#555">1d–9b</text>
<circle cx="249.7" cy="443.3" r="2.45" fill="#2273c3"/>
<text x="252.7" y="448.3" font-size="3.2" fill="#555">1d–9c</text>
<circle cx="208.8" cy="444.4" r="2.45" fill="#2273c3"/>
<text x="205.8" y="440.6" font-size="3.2" fill="#555" text-anchor="end">11b–17a</text>
<circle cx="213.6" cy="444.4" r="2.45" fill="#2273c3"/>
<text x="216.6" y="449.4" font-size="3.2" fill="#555">2a–9a</text>
<circle cx="220.8" cy="463.7" r="2.45" fill="#2273c3"/>
<text x="224.3" y="460.7" font-size="3.2" fill="#555">6b–15b</text>
<circle cx="247.6" cy="471.3" r="2.45" fill="#2273c3"/>
<text x="251.6" y="472.4" font-size="3.2" fill="#555">4b–14b</text>
<circle cx="230.3" cy="475.7" r="2.45" fill="#2273c3"/>
<text x="227.3" y="471.9" font-size="3.2" fill="#555" text-anchor="end">14a–17a</text>
<circle cx="236.4" cy="478.8" r="2.45" fill="#2273c3"/>
<text x="240.4" y="479.9" font-size="3.2" fill="#555">2b–14b</text>
<circle cx="215.6" cy="482.3" r="2.45" fill="#2273c3"/>
<text x="212.6" y="478.5" font-size="3.2" fill="#555" text-anchor="end">2a–14a</text>
<circle cx="229.8" cy="484.3" r="2.45" fill="#2273c3"/>
<text x="232.8" y="489.3" font-size="3.2" fill="#555">2a–13a</text>
<circle cx="210.5" cy="487.5" r="2.45" fill="#2273c3"/>
<text x="207.5" y="483.7" font-size="3.2" fill="#555" text-anchor="end">10a–14a</text>
<circle cx="218.4" cy="491.3" r="2.45" fill="#2273c3"/>
<text x="219.4" y="497.8" font-size="3.2" fill="#555" text-anchor="middle">2b–3a</text>
<circle cx="230.5" cy="501.8" r="2.45" fill="#2273c3"/>
<text x="234.5" y="502.9" font-size="3.2" fill="#555">6b–13a</text>
<circle cx="251.3" cy="508.6" r="2.45" fill="#2273c3"/>
<text x="255.3" y="509.7" font-size="3.2" fill="#555">9a–17a</text>
<circle cx="216.5" cy="518" r="2.45" fill="#2273c3"/>
<text x="220.5" y="519.1" font-size="3.2" fill="#555">1c–11c</text>
<circle cx="208.6" cy="523.9" r="2.45" fill="#2273c3"/>
<text x="209.6" y="530.4" font-size="3.2" fill="#555" text-anchor="middle">11c–13a</text>
<circle cx="240.5" cy="528.9" r="2.45" fill="#2273c3"/>
<text x="244.5" y="530" font-size="3.2" fill="#555">9b–17a</text>
<circle cx="225.4" cy="547.1" r="2.45" fill="#2273c3"/>
<text x="221.4" y="548.2" font-size="3.2" fill="#555" text-anchor="end">1a–11c</text>
<rect x="391.9" y="335.1" width="11.8" height="87.9" fill="rgba(55,165,75,0.30)"/>
<rect x="432.3" y="362.3" width="11.6" height="60.7" fill="rgba(35,50,170,0.38)"/>
<rect x="473.7" y="335" width="11.6" height="88" fill="rgba(105,65,170,0.38)"/>
<rect x="515.6" y="336.1" width="11.6" height="86.9" fill="rgba(242,95,55,0.45)"/>
<polygon points="396.7,359.42 438.1,369.58 479.5,351.5 521.4,383.26 521.4,402.46 479.5,370.7 438.1,388.78 396.7,378.62" fill="rgb(40, 160, 70)" fill-opacity="0.16"/>
<polygon points="396.7,349.98 438.1,365.1 479.5,353.5 521.4,387.9 521.4,410.3 479.5,375.9 438.1,387.5 396.7,372.38" fill="rgb(130, 80, 190)" fill-opacity="0.16"/>
<polygon points="396.7,365.98 438.1,389.66 479.5,354.22 521.4,362.38 521.4,378.38 479.5,370.22 438.1,405.66 396.7,381.98" fill="rgb(240, 120, 60)" fill-opacity="0.16"/>
<polygon points="396.7,341.34 438.1,403.5 479.5,323.18 521.4,374.7 521.4,403.5 479.5,351.98 438.1,429 396.7,370.14" fill="rgb(60, 70, 190)" fill-opacity="0.16"/>
<line x1="391.9" y1="310.7" x2="391.9" y2="423" stroke="#707070" stroke-width="1"/>
<line x1="391.4" y1="423" x2="526.5" y2="423" stroke="#707070" stroke-width="1"/>
<line x1="396.7" y1="423" x2="396.7" y2="428.2" stroke="#707070" stroke-width="1"/>
<line x1="438.1" y1="423" x2="438.1" y2="428.2" stroke="#707070" stroke-width="1"/>
<line x1="479.5" y1="423" x2="479.5" y2="428.2" stroke="#707070" stroke-width="1"/>
<line x1="521.4" y1="423" x2="521.4" y2="428.2" stroke="#707070" stroke-width="1"/>
<line x1="386.9" y1="423.5" x2="391.9" y2="423.5" stroke="#707070" stroke-width="1"/>
<line x1="386.9" y1="407.5" x2="391.9" y2="407.5" stroke="#707070" stroke-width="1"/>
<text x="382.9" y="410.4" font-size="8" fill="#333" text-anchor="end" stroke="#333" stroke-width="0.2">−40</text>
<line x1="386.9" y1="391.5" x2="391.9" y2="391.5" stroke="#707070" stroke-width="1"/>
<line x1="386.9" y1="375.5" x2="391.9" y2="375.5" stroke="#707070" stroke-width="1"/>
<text x="382.9" y="378.4" font-size="8" fill="#333" text-anchor="end" stroke="#333" stroke-width="0.2">0</text>
<line x1="386.9" y1="359.5" x2="391.9" y2="359.5" stroke="#707070" stroke-width="1"/>
<line x1="386.9" y1="343.5" x2="391.9" y2="343.5" stroke="#707070" stroke-width="1"/>
<text x="382.9" y="346.4" font-size="8" fill="#333" text-anchor="end" stroke="#333" stroke-width="0.2">40</text>
<line x1="386.9" y1="327.5" x2="391.9" y2="327.5" stroke="#707070" stroke-width="1"/>
<line x1="386.9" y1="311.5" x2="391.9" y2="311.5" stroke="#707070" stroke-width="1"/>
<polyline points="396.7,369.02 438.1,379.18 479.5,361.1 521.4,392.86" fill="none" stroke="#1ea04c" stroke-width="1.3" stroke-linejoin="miter"/>
<circle cx="396.7" cy="369.02" r="1.4" fill="#1ea04c"/>
<circle cx="438.1" cy="379.18" r="1.4" fill="#1ea04c"/>
<circle cx="479.5" cy="361.1" r="1.4" fill="#1ea04c"/>
<circle cx="521.4" cy="392.86" r="1.4" fill="#1ea04c"/>
<polyline points="396.7,361.18 438.1,376.3 479.5,364.7 521.4,399.1" fill="none" stroke="#8a5cb6" stroke-width="1.3" stroke-linejoin="miter"/>
<circle cx="396.7" cy="361.18" r="1.4" fill="#8a5cb6"/>
<circle cx="438.1" cy="376.3" r="1.4" fill="#8a5cb6"/>
<circle cx="479.5" cy="364.7" r="1.4" fill="#8a5cb6"/>
<circle cx="521.4" cy="399.1" r="1.4" fill="#8a5cb6"/>
<polyline points="396.7,373.98 438.1,397.66 479.5,362.22 521.4,370.38" fill="none" stroke="#e8342e" stroke-width="1.3" stroke-linejoin="miter"/>
<circle cx="396.7" cy="373.98" r="1.4" fill="#e8342e"/>
<circle cx="438.1" cy="397.66" r="1.4" fill="#e8342e"/>
<circle cx="479.5" cy="362.22" r="1.4" fill="#e8342e"/>
<circle cx="521.4" cy="370.38" r="1.4" fill="#e8342e"/>
<polyline points="396.7,355.74 438.1,417.9 479.5,337.58 521.4,389.1" fill="none" stroke="#1f4db2" stroke-width="3.0" stroke-linejoin="miter"/>
<circle cx="396.7" cy="355.74" r="1.4" fill="#1f4db2"/>
<circle cx="438.1" cy="417.9" r="1.4" fill="#1f4db2"/>
<circle cx="479.5" cy="337.58" r="1.4" fill="#1f4db2"/>
<circle cx="521.4" cy="389.1" r="1.4" fill="#1f4db2"/>
<text x="396.7" y="439.5" font-size="8" font-style="italic" fill="#1ea04c" text-anchor="middle" stroke="#1ea04c" stroke-width="0.2">CH</text>
<text x="438.1" y="439.5" font-size="8" font-style="italic" fill="#2a4fb5" text-anchor="middle" stroke="#2a4fb5" stroke-width="0.2">CD</text>
<text x="479.5" y="439.5" font-size="8" font-style="italic" fill="#8a5cb6" text-anchor="middle" stroke="#8a5cb6" stroke-width="0.2">BH</text>
<text x="521.4" y="439.5" font-size="8" font-style="italic" fill="#e8342e" text-anchor="middle" stroke="#e8342e" stroke-width="0.2">BD</text>
<text x="523.5" y="320" font-size="7.9" fill="#222" text-anchor="end" stroke="#222" stroke-width="0.2">Female</text>
<text x="522.5" y="329.6" font-size="7.9" fill="#222" text-anchor="end" stroke="#222" stroke-width="0.2">at T<tspan font-size="4.6" dy="2.2">42</tspan></text>
<text x="520.5" y="418" font-size="7.9" fill="#222" text-anchor="end" stroke="#222" stroke-width="0.2">LOD = 3.9</text>
<text x="406.4" y="320.5" font-size="7.9" fill="#222" stroke="#222" stroke-width="0.2"><tspan font-style="italic">Vita2b</tspan> lines</text>
<line x1="412.6" y1="328.3" x2="438.9" y2="328.3" stroke="#1ea04c" stroke-width="1.4"/>
<circle cx="425.8" cy="328.3" r="2.2" fill="#fff" stroke="#1ea04c" stroke-width="1.2"/>
<text x="443.5" y="331.2" font-size="8" font-style="italic" fill="#222" stroke="#222" stroke-width="0.2">CH</text>
<line x1="412.6" y1="337.4" x2="438.9" y2="337.4" stroke="#1f4db2" stroke-width="1.4"/>
<circle cx="425.8" cy="337.4" r="2.2" fill="#fff" stroke="#1f4db2" stroke-width="1.2"/>
<text x="443.5" y="340.3" font-size="8" font-style="italic" fill="#222" stroke="#222" stroke-width="0.2">CD</text>
<line x1="412.6" y1="347.4" x2="438.9" y2="347.4" stroke="#8a5cb6" stroke-width="1.4"/>
<circle cx="425.8" cy="347.4" r="2.2" fill="#fff" stroke="#8a5cb6" stroke-width="1.2"/>
<text x="443.5" y="350.3" font-size="8" font-style="italic" fill="#222" stroke="#222" stroke-width="0.2">BH</text>
<line x1="412.6" y1="356.0" x2="438.9" y2="356.0" stroke="#e8342e" stroke-width="1.4"/>
<circle cx="425.8" cy="356.0" r="2.2" fill="#fff" stroke="#e8342e" stroke-width="1.2"/>
<text x="443.5" y="358.9" font-size="8" font-style="italic" fill="#222" stroke="#222" stroke-width="0.2">BD</text>
<rect x="549.1" y="334.7" width="11.8" height="88" fill="rgba(55,165,75,0.30)"/>
<rect x="589.3" y="334.7" width="11.6" height="88" fill="rgba(35,50,170,0.38)"/>
<rect x="631.6" y="335.8" width="11.6" height="86.9" fill="rgba(105,65,170,0.38)"/>
<rect x="673.1" y="334.7" width="11.6" height="88" fill="rgba(242,95,55,0.45)"/>
<polygon points="554.2,370.06 595.1,355.42 637.4,374.62 678.9,353.18 678.9,375.58 637.4,397.02 595.1,377.82 554.2,392.46" fill="rgb(40, 160, 70)" fill-opacity="0.16"/>
<polygon points="554.2,384.3 595.1,344.38 637.4,350.62 678.9,365.1 678.9,390.7 637.4,376.22 595.1,369.98 554.2,409.9" fill="rgb(130, 80, 190)" fill-opacity="0.16"/>
<polygon points="554.2,395.5 595.1,348.06 637.4,374.06 678.9,332.62 678.9,358.22 637.4,399.66 595.1,373.66 554.2,421.1" fill="rgb(240, 120, 60)" fill-opacity="0.16"/>
<polygon points="554.2,384.7 595.1,340.7 637.4,383.34 678.9,336.7 678.9,362.3 637.4,408.94 595.1,366.3 554.2,410.3" fill="rgb(60, 70, 190)" fill-opacity="0.16"/>
<line x1="549.1" y1="311.2" x2="549.1" y2="422.7" stroke="#707070" stroke-width="1"/>
<line x1="548.6" y1="422.7" x2="685" y2="422.7" stroke="#707070" stroke-width="1"/>
<line x1="554.2" y1="422.7" x2="554.2" y2="427.9" stroke="#707070" stroke-width="1"/>
<line x1="595.1" y1="422.7" x2="595.1" y2="427.9" stroke="#707070" stroke-width="1"/>
<line x1="637.4" y1="422.7" x2="637.4" y2="427.9" stroke="#707070" stroke-width="1"/>
<line x1="678.9" y1="422.7" x2="678.9" y2="427.9" stroke="#707070" stroke-width="1"/>
<line x1="544.1" y1="422.7" x2="549.1" y2="422.7" stroke="#707070" stroke-width="1"/>
<line x1="544.1" y1="406.7" x2="549.1" y2="406.7" stroke="#707070" stroke-width="1"/>
<line x1="544.1" y1="390.7" x2="549.1" y2="390.7" stroke="#707070" stroke-width="1"/>
<line x1="544.1" y1="374.7" x2="549.1" y2="374.7" stroke="#707070" stroke-width="1"/>
<line x1="544.1" y1="358.7" x2="549.1" y2="358.7" stroke="#707070" stroke-width="1"/>
<line x1="544.1" y1="342.7" x2="549.1" y2="342.7" stroke="#707070" stroke-width="1"/>
<line x1="544.1" y1="326.7" x2="549.1" y2="326.7" stroke="#707070" stroke-width="1"/>
<polyline points="554.2,381.26 595.1,366.62 637.4,385.82 678.9,364.38" fill="none" stroke="#1ea04c" stroke-width="1.3" stroke-linejoin="miter"/>
<circle cx="554.2" cy="381.26" r="1.5" fill="#fff" stroke="#1ea04c" stroke-width="0.9"/>
<circle cx="595.1" cy="366.62" r="1.5" fill="#fff" stroke="#1ea04c" stroke-width="0.9"/>
<circle cx="637.4" cy="385.82" r="1.5" fill="#fff" stroke="#1ea04c" stroke-width="0.9"/>
<circle cx="678.9" cy="364.38" r="1.5" fill="#fff" stroke="#1ea04c" stroke-width="0.9"/>
<polyline points="554.2,397.1 595.1,357.18 637.4,363.42 678.9,377.9" fill="none" stroke="#8a5cb6" stroke-width="1.3" stroke-linejoin="miter"/>
<circle cx="554.2" cy="397.1" r="1.5" fill="#fff" stroke="#8a5cb6" stroke-width="0.9"/>
<circle cx="595.1" cy="357.18" r="1.5" fill="#fff" stroke="#8a5cb6" stroke-width="0.9"/>
<circle cx="637.4" cy="363.42" r="1.5" fill="#fff" stroke="#8a5cb6" stroke-width="0.9"/>
<circle cx="678.9" cy="377.9" r="1.5" fill="#fff" stroke="#8a5cb6" stroke-width="0.9"/>
<polyline points="554.2,408.3 595.1,360.86 637.4,386.86 678.9,345.42" fill="none" stroke="#e8342e" stroke-width="1.3" stroke-linejoin="miter"/>
<circle cx="554.2" cy="408.3" r="1.5" fill="#fff" stroke="#e8342e" stroke-width="0.9"/>
<circle cx="595.1" cy="360.86" r="1.5" fill="#fff" stroke="#e8342e" stroke-width="0.9"/>
<circle cx="637.4" cy="386.86" r="1.5" fill="#fff" stroke="#e8342e" stroke-width="0.9"/>
<circle cx="678.9" cy="345.42" r="1.5" fill="#fff" stroke="#e8342e" stroke-width="0.9"/>
<polyline points="554.2,397.5 595.1,353.5 637.4,396.14 678.9,349.5" fill="none" stroke="#1f4db2" stroke-width="3.0" stroke-linejoin="miter"/>
<circle cx="554.2" cy="397.5" r="1.5" fill="#fff" stroke="#1f4db2" stroke-width="0.9"/>
<circle cx="595.1" cy="353.5" r="1.5" fill="#fff" stroke="#1f4db2" stroke-width="0.9"/>
<circle cx="637.4" cy="396.14" r="1.5" fill="#fff" stroke="#1f4db2" stroke-width="0.9"/>
<circle cx="678.9" cy="349.5" r="1.5" fill="#fff" stroke="#1f4db2" stroke-width="0.9"/>
<text x="554.2" y="439.5" font-size="8" font-style="italic" fill="#1ea04c" text-anchor="middle" stroke="#1ea04c" stroke-width="0.2">CH</text>
<text x="595.1" y="439.5" font-size="8" font-style="italic" fill="#2a4fb5" text-anchor="middle" stroke="#2a4fb5" stroke-width="0.2">CD</text>
<text x="637.4" y="439.5" font-size="8" font-style="italic" fill="#8a5cb6" text-anchor="middle" stroke="#8a5cb6" stroke-width="0.2">BH</text>
<text x="678.9" y="439.5" font-size="8" font-style="italic" fill="#e8342e" text-anchor="middle" stroke="#e8342e" stroke-width="0.2">BD</text>
<text x="566.5" y="321" font-size="7.9" fill="#222" stroke="#222" stroke-width="0.2"><tspan font-style="italic">Vita2b</tspan> lines</text>
<text x="680" y="320" font-size="7.9" fill="#222" text-anchor="end" stroke="#222" stroke-width="0.2">Male</text>
<text x="679" y="329.6" font-size="7.9" fill="#222" text-anchor="end" stroke="#222" stroke-width="0.2">at T<tspan font-size="4.6" dy="2.2">42</tspan></text>
<text x="676.5" y="417.7" font-size="7.9" fill="#222" text-anchor="end" stroke="#222" stroke-width="0.2">LOD = 1.4</text>
<rect x="392.4" y="489.2" width="11.8" height="84" fill="rgba(55,165,75,0.30)"/>
<rect x="432.6" y="509.9" width="11.6" height="63.3" fill="rgba(35,50,170,0.38)"/>
<rect x="474.2" y="490" width="11.6" height="83.2" fill="rgba(105,65,170,0.38)"/>
<rect x="516.1" y="490.3" width="11.6" height="82.9" fill="rgba(242,95,55,0.45)"/>
<polygon points="396.7,503.67 438.4,525.62 480,518.24 521.9,519.02 521.9,537.15 480,536.37 438.4,543.75 396.7,521.8" fill="rgb(40, 160, 70)" fill-opacity="0.16"/>
<polygon points="396.7,506.2 438.4,521.03 480,535.53 521.9,503.41 521.9,524.13 480,556.25 438.4,541.75 396.7,526.92" fill="rgb(60, 70, 190)" fill-opacity="0.16"/>
<polygon points="396.7,507.62 438.4,514.62 480,520.57 521.9,525.95 521.9,544.08 480,538.7 438.4,532.75 396.7,525.75" fill="rgb(130, 80, 190)" fill-opacity="0.16"/>
<polygon points="396.7,514.62 438.4,515.46 480,525.62 521.9,518.63 521.9,534.17 480,541.16 438.4,531 396.7,530.16" fill="rgb(240, 120, 60)" fill-opacity="0.16"/>
<line x1="392.4" y1="474.6" x2="392.4" y2="573.2" stroke="#707070" stroke-width="1"/>
<line x1="391.9" y1="573.2" x2="527.5" y2="573.2" stroke="#707070" stroke-width="1"/>
<line x1="396.7" y1="573.2" x2="396.7" y2="578.4" stroke="#707070" stroke-width="1"/>
<line x1="438.4" y1="573.2" x2="438.4" y2="578.4" stroke="#707070" stroke-width="1"/>
<line x1="480" y1="573.2" x2="480" y2="578.4" stroke="#707070" stroke-width="1"/>
<line x1="521.9" y1="573.2" x2="521.9" y2="578.4" stroke="#707070" stroke-width="1"/>
<line x1="387.4" y1="565.25" x2="392.4" y2="565.25" stroke="#707070" stroke-width="1"/>
<text x="383.4" y="568.15" font-size="8" fill="#333" text-anchor="end" stroke="#333" stroke-width="0.2">−60</text>
<line x1="387.4" y1="552.3" x2="392.4" y2="552.3" stroke="#707070" stroke-width="1"/>
<line x1="387.4" y1="539.35" x2="392.4" y2="539.35" stroke="#707070" stroke-width="1"/>
<text x="383.4" y="542.25" font-size="8" fill="#333" text-anchor="end" stroke="#333" stroke-width="0.2">−20</text>
<line x1="387.4" y1="526.4" x2="392.4" y2="526.4" stroke="#707070" stroke-width="1"/>
<line x1="387.4" y1="513.45" x2="392.4" y2="513.45" stroke="#707070" stroke-width="1"/>
<text x="383.4" y="516.35" font-size="8" fill="#333" text-anchor="end" stroke="#333" stroke-width="0.2">20</text>
<line x1="387.4" y1="500.5" x2="392.4" y2="500.5" stroke="#707070" stroke-width="1"/>
<line x1="387.4" y1="487.55" x2="392.4" y2="487.55" stroke="#707070" stroke-width="1"/>
<text x="383.4" y="490.45" font-size="8" fill="#333" text-anchor="end" stroke="#333" stroke-width="0.2">60</text>
<line x1="387.4" y1="474.6" x2="392.4" y2="474.6" stroke="#707070" stroke-width="1"/>
<polyline points="396.7,512.74 438.4,534.69 480,527.31 521.9,528.08" fill="none" stroke="#1ea04c" stroke-width="1.3" stroke-linejoin="miter"/>
<circle cx="396.7" cy="512.74" r="1.5" fill="#fff" stroke="#1ea04c" stroke-width="0.9"/>
<circle cx="438.4" cy="534.69" r="1.5" fill="#fff" stroke="#1ea04c" stroke-width="0.9"/>
<circle cx="480" cy="527.31" r="1.5" fill="#fff" stroke="#1ea04c" stroke-width="0.9"/>
<circle cx="521.9" cy="528.08" r="1.5" fill="#fff" stroke="#1ea04c" stroke-width="0.9"/>
<polyline points="396.7,516.56 438.4,531.39 480,545.89 521.9,513.77" fill="none" stroke="#1f4db2" stroke-width="1.3" stroke-linejoin="miter"/>
<circle cx="396.7" cy="516.56" r="1.5" fill="#fff" stroke="#1f4db2" stroke-width="0.9"/>
<circle cx="438.4" cy="531.39" r="1.5" fill="#fff" stroke="#1f4db2" stroke-width="0.9"/>
<circle cx="480" cy="545.89" r="1.5" fill="#fff" stroke="#1f4db2" stroke-width="0.9"/>
<circle cx="521.9" cy="513.77" r="1.5" fill="#fff" stroke="#1f4db2" stroke-width="0.9"/>
<polyline points="396.7,516.69 438.4,523.68 480,529.64 521.9,535.01" fill="none" stroke="#8a5cb6" stroke-width="1.3" stroke-linejoin="miter"/>
<circle cx="396.7" cy="516.69" r="1.5" fill="#fff" stroke="#8a5cb6" stroke-width="0.9"/>
<circle cx="438.4" cy="523.68" r="1.5" fill="#fff" stroke="#8a5cb6" stroke-width="0.9"/>
<circle cx="480" cy="529.64" r="1.5" fill="#fff" stroke="#8a5cb6" stroke-width="0.9"/>
<circle cx="521.9" cy="535.01" r="1.5" fill="#fff" stroke="#8a5cb6" stroke-width="0.9"/>
<polyline points="396.7,522.39 438.4,523.23 480,533.39 521.9,526.4" fill="none" stroke="#e8342e" stroke-width="3.0" stroke-linejoin="miter"/>
<circle cx="396.7" cy="522.39" r="1.5" fill="#fff" stroke="#e8342e" stroke-width="0.9"/>
<circle cx="438.4" cy="523.23" r="1.5" fill="#fff" stroke="#e8342e" stroke-width="0.9"/>
<circle cx="480" cy="533.39" r="1.5" fill="#fff" stroke="#e8342e" stroke-width="0.9"/>
<circle cx="521.9" cy="526.4" r="1.5" fill="#fff" stroke="#e8342e" stroke-width="0.9"/>
<text x="396.7" y="588.8" font-size="8" font-style="italic" fill="#1ea04c" text-anchor="middle" stroke="#1ea04c" stroke-width="0.2">CH</text>
<text x="438.4" y="588.8" font-size="8" font-style="italic" fill="#2a4fb5" text-anchor="middle" stroke="#2a4fb5" stroke-width="0.2">CD</text>
<text x="480" y="588.8" font-size="8" font-style="italic" fill="#8a5cb6" text-anchor="middle" stroke="#8a5cb6" stroke-width="0.2">BH</text>
<text x="521.9" y="588.8" font-size="8" font-style="italic" fill="#e8342e" text-anchor="middle" stroke="#e8342e" stroke-width="0.2">BD</text>
<text x="406.5" y="486.5" font-size="7.9" fill="#222" stroke="#222" stroke-width="0.2"><tspan font-style="italic">Vita3a</tspan> lines</text>
<text x="523.5" y="485.5" font-size="7.9" fill="#222" text-anchor="end" stroke="#222" stroke-width="0.2">Female</text>
<text x="522.5" y="495.1" font-size="7.9" fill="#222" text-anchor="end" stroke="#222" stroke-width="0.2">at T<tspan font-size="4.6" dy="2.2">42</tspan></text>
<text x="519.5" y="568.2" font-size="7.9" fill="#222" text-anchor="end" stroke="#222" stroke-width="0.2">LOD = 1.7</text>
<text x="403.5" y="541" font-size="8" font-style="italic" fill="#222" stroke="#222" stroke-width="0.2">n</text>
<circle cx="398.3" cy="546.6" r="0.7" fill="#111"/>
<text x="403" y="549.4" font-size="8" fill="#222" stroke="#222" stroke-width="0.2">3–20</text>
<circle cx="398.3" cy="553.3" r="1.1" fill="#111"/>
<text x="403" y="556.1" font-size="8" fill="#222" stroke="#222" stroke-width="0.2">21–50</text>
<circle cx="398.3" cy="561.0" r="1.6" fill="#fff" stroke="#111" stroke-width="1"/>
<text x="403" y="563.8" font-size="8" fill="#222" stroke="#222" stroke-width="0.2">51–100</text>
<circle cx="398.3" cy="568.5" r="2.1" fill="#fff" stroke="#111" stroke-width="1"/>
<text x="403" y="571.3" font-size="8" fill="#222" stroke="#222" stroke-width="0.2">101–150</text>
<rect x="548.2" y="488.8" width="11.8" height="84.4" fill="rgba(55,165,75,0.30)"/>
<rect x="588.8" y="488.8" width="11.6" height="84.4" fill="rgba(35,50,170,0.38)"/>
<rect x="630.4" y="488.8" width="11.6" height="84.4" fill="rgba(105,65,170,0.38)"/>
<rect x="671.7" y="490.3" width="11.6" height="82.9" fill="rgba(242,95,55,0.45)"/>
<polygon points="553.3,523.94 594.6,528.46 636.2,493.45 677.5,521.55 677.5,542.22 636.2,514.12 594.6,549.13 553.3,544.61" fill="rgb(40, 160, 70)" fill-opacity="0.16"/>
<polygon points="553.3,475.17 594.6,534.47 636.2,519.16 677.5,518.58 677.5,547 636.2,547.58 594.6,562.89 553.3,503.59" fill="rgb(60, 70, 190)" fill-opacity="0.16"/>
<polygon points="553.3,523.55 594.6,499.39 636.2,506.3 677.5,532.6 677.5,555.85 636.2,529.56 594.6,522.65 553.3,546.81" fill="rgb(130, 80, 190)" fill-opacity="0.16"/>
<polygon points="553.3,500.49 594.6,550.49 636.2,482.47 677.5,520.45 677.5,546.29 636.2,508.31 594.6,576.33 553.3,526.33" fill="rgb(240, 120, 60)" fill-opacity="0.16"/>
<line x1="548.2" y1="475.4" x2="548.2" y2="573.2" stroke="#707070" stroke-width="1"/>
<line x1="547.7" y1="573.2" x2="685" y2="573.2" stroke="#707070" stroke-width="1"/>
<line x1="553.3" y1="573.2" x2="553.3" y2="578.4" stroke="#707070" stroke-width="1"/>
<line x1="594.6" y1="573.2" x2="594.6" y2="578.4" stroke="#707070" stroke-width="1"/>
<line x1="636.2" y1="573.2" x2="636.2" y2="578.4" stroke="#707070" stroke-width="1"/>
<line x1="677.5" y1="573.2" x2="677.5" y2="578.4" stroke="#707070" stroke-width="1"/>
<line x1="543.2" y1="564.96" x2="548.2" y2="564.96" stroke="#707070" stroke-width="1"/>
<line x1="543.2" y1="552.04" x2="548.2" y2="552.04" stroke="#707070" stroke-width="1"/>
<line x1="543.2" y1="539.12" x2="548.2" y2="539.12" stroke="#707070" stroke-width="1"/>
<line x1="543.2" y1="526.2" x2="548.2" y2="526.2" stroke="#707070" stroke-width="1"/>
<line x1="543.2" y1="513.28" x2="548.2" y2="513.28" stroke="#707070" stroke-width="1"/>
<line x1="543.2" y1="500.36" x2="548.2" y2="500.36" stroke="#707070" stroke-width="1"/>
<line x1="543.2" y1="487.44" x2="548.2" y2="487.44" stroke="#707070" stroke-width="1"/>
<polyline points="553.3,534.28 594.6,538.8 636.2,503.78 677.5,531.88" fill="none" stroke="#1ea04c" stroke-width="1.3" stroke-linejoin="miter"/>
<circle cx="553.3" cy="534.28" r="1.5" fill="#fff" stroke="#1ea04c" stroke-width="0.9"/>
<circle cx="594.6" cy="538.8" r="1.5" fill="#fff" stroke="#1ea04c" stroke-width="0.9"/>
<circle cx="636.2" cy="503.78" r="1.5" fill="#fff" stroke="#1ea04c" stroke-width="0.9"/>
<circle cx="677.5" cy="531.88" r="1.5" fill="#fff" stroke="#1ea04c" stroke-width="0.9"/>
<polyline points="553.3,489.38 594.6,548.68 636.2,533.37 677.5,532.79" fill="none" stroke="#1f4db2" stroke-width="1.3" stroke-linejoin="miter"/>
<circle cx="553.3" cy="489.38" r="1.5" fill="#fff" stroke="#1f4db2" stroke-width="0.9"/>
<circle cx="594.6" cy="548.68" r="1.5" fill="#fff" stroke="#1f4db2" stroke-width="0.9"/>
<circle cx="636.2" cy="533.37" r="1.5" fill="#fff" stroke="#1f4db2" stroke-width="0.9"/>
<circle cx="677.5" cy="532.79" r="1.5" fill="#fff" stroke="#1f4db2" stroke-width="0.9"/>
<polyline points="553.3,535.18 594.6,511.02 636.2,517.93 677.5,544.22" fill="none" stroke="#8a5cb6" stroke-width="1.3" stroke-linejoin="miter"/>
<circle cx="553.3" cy="535.18" r="1.5" fill="#fff" stroke="#8a5cb6" stroke-width="0.9"/>
<circle cx="594.6" cy="511.02" r="1.5" fill="#fff" stroke="#8a5cb6" stroke-width="0.9"/>
<circle cx="636.2" cy="517.93" r="1.5" fill="#fff" stroke="#8a5cb6" stroke-width="0.9"/>
<circle cx="677.5" cy="544.22" r="1.5" fill="#fff" stroke="#8a5cb6" stroke-width="0.9"/>
<polyline points="553.3,513.41 594.6,563.41 636.2,495.39 677.5,533.37" fill="none" stroke="#e8342e" stroke-width="3.0" stroke-linejoin="miter"/>
<circle cx="553.3" cy="513.41" r="1.5" fill="#fff" stroke="#e8342e" stroke-width="0.9"/>
<circle cx="594.6" cy="563.41" r="1.5" fill="#fff" stroke="#e8342e" stroke-width="0.9"/>
<circle cx="636.2" cy="495.39" r="1.5" fill="#fff" stroke="#e8342e" stroke-width="0.9"/>
<circle cx="677.5" cy="533.37" r="1.5" fill="#fff" stroke="#e8342e" stroke-width="0.9"/>
<text x="553.3" y="588.8" font-size="8" font-style="italic" fill="#1ea04c" text-anchor="middle" stroke="#1ea04c" stroke-width="0.2">CH</text>
<text x="594.6" y="588.8" font-size="8" font-style="italic" fill="#2a4fb5" text-anchor="middle" stroke="#2a4fb5" stroke-width="0.2">CD</text>
<text x="636.2" y="588.8" font-size="8" font-style="italic" fill="#8a5cb6" text-anchor="middle" stroke="#8a5cb6" stroke-width="0.2">BH</text>
<text x="677.5" y="588.8" font-size="8" font-style="italic" fill="#e8342e" text-anchor="middle" stroke="#e8342e" stroke-width="0.2">BD</text>
<text x="568.9" y="486.5" font-size="7.9" fill="#222" stroke="#222" stroke-width="0.2"><tspan font-style="italic">Vita3a</tspan> lines</text>
<text x="680" y="485.5" font-size="7.9" fill="#222" text-anchor="end" stroke="#222" stroke-width="0.2">Male</text>
<text x="679" y="495.1" font-size="7.9" fill="#222" text-anchor="end" stroke="#222" stroke-width="0.2">at T<tspan font-size="4.6" dy="2.2">42</tspan></text>
<text x="675" y="568.2" font-size="7.9" fill="#222" text-anchor="end" stroke="#222" stroke-width="0.2">LOD = 5.0</text>
<rect x="39.4" y="622.9" width="11.8" height="102.6" fill="rgba(55,165,75,0.30)"/>
<rect x="80.9" y="637.8" width="11.6" height="87.7" fill="rgba(35,50,170,0.38)"/>
<rect x="122.9" y="638.6" width="11.6" height="86.9" fill="rgba(105,65,170,0.38)"/>
<rect x="165" y="638.6" width="11.6" height="86.9" fill="rgba(242,95,55,0.45)"/>
<polygon points="44.7,614.9 86.7,675.83 128.7,670.25 170.8,675.77 170.8,701.42 128.7,698.47 86.7,709.18 44.7,644.79" fill="rgb(240, 120, 60)" fill-opacity="0.16"/>
<polygon points="44.7,642.93 86.7,665.83 128.7,653.39 170.8,673.2 170.8,703.98 128.7,684.17 86.7,696.61 44.7,673.72" fill="rgb(60, 70, 190)" fill-opacity="0.16"/>
<polygon points="44.7,649.99 86.7,640.82 128.7,670.96 170.8,677.56 170.8,705.78 128.7,699.17 86.7,669.03 44.7,678.2" fill="rgb(40, 160, 70)" fill-opacity="0.16"/>
<polygon points="44.7,672.43 86.7,630.94 128.7,647.93 170.8,671.92 170.8,705.27 128.7,681.28 86.7,664.29 44.7,705.78" fill="rgb(130, 80, 190)" fill-opacity="0.16"/>
<line x1="39.4" y1="622.9" x2="39.4" y2="725.5" stroke="#707070" stroke-width="1"/>
<line x1="38.9" y1="725.5" x2="176.5" y2="725.5" stroke="#707070" stroke-width="1"/>
<line x1="44.7" y1="725.5" x2="44.7" y2="730.7" stroke="#707070" stroke-width="1"/>
<line x1="86.7" y1="725.5" x2="86.7" y2="730.7" stroke="#707070" stroke-width="1"/>
<line x1="128.7" y1="725.5" x2="128.7" y2="730.7" stroke="#707070" stroke-width="1"/>
<line x1="170.8" y1="725.5" x2="170.8" y2="730.7" stroke="#707070" stroke-width="1"/>
<line x1="34.4" y1="725.4" x2="39.4" y2="725.4" stroke="#707070" stroke-width="1"/>
<text x="30.4" y="728.3" font-size="8" fill="#333" text-anchor="end" stroke="#333" stroke-width="0.2">−80</text>
<line x1="34.4" y1="712.58" x2="39.4" y2="712.58" stroke="#707070" stroke-width="1"/>
<line x1="34.4" y1="699.75" x2="39.4" y2="699.75" stroke="#707070" stroke-width="1"/>
<text x="30.4" y="702.65" font-size="8" fill="#333" text-anchor="end" stroke="#333" stroke-width="0.2">−40</text>
<line x1="34.4" y1="686.93" x2="39.4" y2="686.93" stroke="#707070" stroke-width="1"/>
<line x1="34.4" y1="674.1" x2="39.4" y2="674.1" stroke="#707070" stroke-width="1"/>
<text x="30.4" y="677" font-size="8" fill="#333" text-anchor="end" stroke="#333" stroke-width="0.2">0</text>
<line x1="34.4" y1="661.27" x2="39.4" y2="661.27" stroke="#707070" stroke-width="1"/>
<line x1="34.4" y1="648.45" x2="39.4" y2="648.45" stroke="#707070" stroke-width="1"/>
<text x="30.4" y="651.35" font-size="8" fill="#333" text-anchor="end" stroke="#333" stroke-width="0.2">40</text>
<line x1="34.4" y1="635.62" x2="39.4" y2="635.62" stroke="#707070" stroke-width="1"/>
<line x1="34.4" y1="622.8" x2="39.4" y2="622.8" stroke="#707070" stroke-width="1"/>
<text x="30.4" y="625.7" font-size="8" fill="#333" text-anchor="end" stroke="#333" stroke-width="0.2">80</text>
<polyline points="44.7,626.84 86.7,692.51 128.7,684.36 170.8,688.59" fill="none" stroke="#e8342e" stroke-width="1.2" stroke-linejoin="miter"/>
<circle cx="44.7" cy="626.84" r="1.5" fill="#fff" stroke="#e8342e" stroke-width="0.9"/>
<circle cx="86.7" cy="692.51" r="1.5" fill="#fff" stroke="#e8342e" stroke-width="0.9"/>
<circle cx="128.7" cy="684.36" r="1.5" fill="#fff" stroke="#e8342e" stroke-width="0.9"/>
<circle cx="170.8" cy="688.59" r="1.5" fill="#fff" stroke="#e8342e" stroke-width="0.9"/>
<polyline points="44.7,658.32 86.7,681.22 128.7,668.78 170.8,688.59" fill="none" stroke="#1f4db2" stroke-width="1.2" stroke-linejoin="miter"/>
<circle cx="44.7" cy="658.32" r="1.5" fill="#fff" stroke="#1f4db2" stroke-width="0.9"/>
<circle cx="86.7" cy="681.22" r="1.5" fill="#fff" stroke="#1f4db2" stroke-width="0.9"/>
<circle cx="128.7" cy="668.78" r="1.5" fill="#fff" stroke="#1f4db2" stroke-width="0.9"/>
<circle cx="170.8" cy="688.59" r="1.5" fill="#fff" stroke="#1f4db2" stroke-width="0.9"/>
<polyline points="44.7,664.1 86.7,654.93 128.7,685.07 170.8,691.67" fill="none" stroke="#1ea04c" stroke-width="1.2" stroke-linejoin="miter"/>
<circle cx="44.7" cy="664.1" r="1.5" fill="#fff" stroke="#1ea04c" stroke-width="0.9"/>
<circle cx="86.7" cy="654.93" r="1.5" fill="#fff" stroke="#1ea04c" stroke-width="0.9"/>
<circle cx="128.7" cy="685.07" r="1.5" fill="#fff" stroke="#1ea04c" stroke-width="0.9"/>
<circle cx="170.8" cy="691.67" r="1.5" fill="#fff" stroke="#1ea04c" stroke-width="0.9"/>
<polyline points="44.7,689.11 86.7,647.61 128.7,664.61 170.8,688.59" fill="none" stroke="#8a5cb6" stroke-width="1.2" stroke-linejoin="miter"/>
<circle cx="44.7" cy="689.11" r="1.5" fill="#fff" stroke="#8a5cb6" stroke-width="0.9"/>
<circle cx="86.7" cy="647.61" r="1.5" fill="#fff" stroke="#8a5cb6" stroke-width="0.9"/>
<circle cx="128.7" cy="664.61" r="1.5" fill="#fff" stroke="#8a5cb6" stroke-width="0.9"/>
<circle cx="170.8" cy="688.59" r="1.5" fill="#fff" stroke="#8a5cb6" stroke-width="0.9"/>
<text x="44.7" y="741" font-size="8" font-style="italic" fill="#1ea04c" text-anchor="middle" stroke="#1ea04c" stroke-width="0.2">CH</text>
<text x="86.7" y="741" font-size="8" font-style="italic" fill="#2a4fb5" text-anchor="middle" stroke="#2a4fb5" stroke-width="0.2">CD</text>
<text x="128.7" y="741" font-size="8" font-style="italic" fill="#8a5cb6" text-anchor="middle" stroke="#8a5cb6" stroke-width="0.2">BH</text>
<text x="170.8" y="741" font-size="8" font-style="italic" fill="#e8342e" text-anchor="middle" stroke="#e8342e" stroke-width="0.2">BD</text>
<text x="56.5" y="633" font-size="7.9" fill="#222" stroke="#222" stroke-width="0.2"><tspan font-style="italic">Vita9a</tspan> lines</text>
<text x="162" y="632" font-size="7.9" fill="#222" text-anchor="end" stroke="#222" stroke-width="0.2">Female</text>
<text x="161" y="641.6" font-size="7.9" fill="#222" text-anchor="end" stroke="#222" stroke-width="0.2">at T<tspan font-size="4.6" dy="2.2">42</tspan></text>
<text x="168" y="720.5" font-size="7.9" fill="#222" text-anchor="end" stroke="#222" stroke-width="0.2">LOD = 5.7</text>
<rect x="197.6" y="641.1" width="11.8" height="83.9" fill="rgba(55,165,75,0.30)"/>
<rect x="239.2" y="641.1" width="11.6" height="83.9" fill="rgba(35,50,170,0.38)"/>
<rect x="281.6" y="641.8" width="11.6" height="83.2" fill="rgba(105,65,170,0.38)"/>
<rect x="324" y="628.4" width="11.6" height="96.6" fill="rgba(242,95,55,0.45)"/>
<polygon points="204.1,703.48 245,651.7 287.4,642.42 329.8,641.27 329.8,666.87 287.4,670.58 245,682.42 204.1,731" fill="rgb(40, 160, 70)" fill-opacity="0.16"/>
<polygon points="204.1,643.19 245,687.48 287.4,687.48 329.8,623.86 329.8,659.7 287.4,723.32 245,723.32 204.1,679.03" fill="rgb(60, 70, 190)" fill-opacity="0.16"/>
<polygon points="204.1,650.87 245,665.91 287.4,694.26 329.8,614.3 329.8,650.1 287.4,730.1 245,701.75 204.1,686.71" fill="rgb(130, 80, 190)" fill-opacity="0.16"/>
<polygon points="204.1,672.24 245,659.06 287.4,661.62 329.8,646.45 329.8,677.17 287.4,692.34 245,689.78 204.1,702.96" fill="rgb(240, 120, 60)" fill-opacity="0.16"/>
<line x1="197.6" y1="622.3" x2="197.6" y2="725" stroke="#707070" stroke-width="1"/>
<line x1="197.1" y1="725" x2="335" y2="725" stroke="#707070" stroke-width="1"/>
<line x1="204.1" y1="725" x2="204.1" y2="730.2" stroke="#707070" stroke-width="1"/>
<line x1="245" y1="725" x2="245" y2="730.2" stroke="#707070" stroke-width="1"/>
<line x1="287.4" y1="725" x2="287.4" y2="730.2" stroke="#707070" stroke-width="1"/>
<line x1="329.8" y1="725" x2="329.8" y2="730.2" stroke="#707070" stroke-width="1"/>
<line x1="192.6" y1="725.3" x2="197.6" y2="725.3" stroke="#707070" stroke-width="1"/>
<line x1="192.6" y1="712.5" x2="197.6" y2="712.5" stroke="#707070" stroke-width="1"/>
<line x1="192.6" y1="699.7" x2="197.6" y2="699.7" stroke="#707070" stroke-width="1"/>
<line x1="192.6" y1="686.9" x2="197.6" y2="686.9" stroke="#707070" stroke-width="1"/>
<line x1="192.6" y1="674.1" x2="197.6" y2="674.1" stroke="#707070" stroke-width="1"/>
<line x1="192.6" y1="661.3" x2="197.6" y2="661.3" stroke="#707070" stroke-width="1"/>
<line x1="192.6" y1="648.5" x2="197.6" y2="648.5" stroke="#707070" stroke-width="1"/>
<line x1="192.6" y1="635.7" x2="197.6" y2="635.7" stroke="#707070" stroke-width="1"/>
<line x1="192.6" y1="622.9" x2="197.6" y2="622.9" stroke="#707070" stroke-width="1"/>
<polyline points="204.1,720.12 245,667.06 287.4,656.5 329.8,654.07" fill="none" stroke="#1ea04c" stroke-width="1.2" stroke-linejoin="miter"/>
<circle cx="204.1" cy="720.12" r="1.5" fill="#fff" stroke="#1ea04c" stroke-width="0.9"/>
<circle cx="245" cy="667.06" r="1.5" fill="#fff" stroke="#1ea04c" stroke-width="0.9"/>
<circle cx="287.4" cy="656.5" r="1.5" fill="#fff" stroke="#1ea04c" stroke-width="0.9"/>
<circle cx="329.8" cy="654.07" r="1.5" fill="#fff" stroke="#1ea04c" stroke-width="0.9"/>
<polyline points="204.1,661.11 245,705.4 287.4,705.4 329.8,641.78" fill="none" stroke="#1f4db2" stroke-width="1.2" stroke-linejoin="miter"/>
<circle cx="204.1" cy="661.11" r="1.5" fill="#fff" stroke="#1f4db2" stroke-width="0.9"/>
<circle cx="245" cy="705.4" r="1.5" fill="#fff" stroke="#1f4db2" stroke-width="0.9"/>
<circle cx="287.4" cy="705.4" r="1.5" fill="#fff" stroke="#1f4db2" stroke-width="0.9"/>
<circle cx="329.8" cy="641.78" r="1.5" fill="#fff" stroke="#1f4db2" stroke-width="0.9"/>
<polyline points="204.1,668.79 245,683.83 287.4,712.18 329.8,632.18" fill="none" stroke="#8a5cb6" stroke-width="1.2" stroke-linejoin="miter"/>
<circle cx="204.1" cy="668.79" r="1.5" fill="#fff" stroke="#8a5cb6" stroke-width="0.9"/>
<circle cx="245" cy="683.83" r="1.5" fill="#fff" stroke="#8a5cb6" stroke-width="0.9"/>
<circle cx="287.4" cy="712.18" r="1.5" fill="#fff" stroke="#8a5cb6" stroke-width="0.9"/>
<circle cx="329.8" cy="632.18" r="1.5" fill="#fff" stroke="#8a5cb6" stroke-width="0.9"/>
<polyline points="204.1,687.6 245,674.42 287.4,676.98 329.8,661.81" fill="none" stroke="#e8342e" stroke-width="1.2" stroke-linejoin="miter"/>
<circle cx="204.1" cy="687.6" r="1.5" fill="#fff" stroke="#e8342e" stroke-width="0.9"/>
<circle cx="245" cy="674.42" r="1.5" fill="#fff" stroke="#e8342e" stroke-width="0.9"/>
<circle cx="287.4" cy="676.98" r="1.5" fill="#fff" stroke="#e8342e" stroke-width="0.9"/>
<circle cx="329.8" cy="661.81" r="1.5" fill="#fff" stroke="#e8342e" stroke-width="0.9"/>
<text x="204.1" y="741" font-size="8" font-style="italic" fill="#1ea04c" text-anchor="middle" stroke="#1ea04c" stroke-width="0.2">CH</text>
<text x="245" y="741" font-size="8" font-style="italic" fill="#2a4fb5" text-anchor="middle" stroke="#2a4fb5" stroke-width="0.2">CD</text>
<text x="287.4" y="741" font-size="8" font-style="italic" fill="#8a5cb6" text-anchor="middle" stroke="#8a5cb6" stroke-width="0.2">BH</text>
<text x="329.8" y="741" font-size="8" font-style="italic" fill="#e8342e" text-anchor="middle" stroke="#e8342e" stroke-width="0.2">BD</text>
<text x="207.2" y="632.5" font-size="7.9" fill="#222" stroke="#222" stroke-width="0.2"><tspan font-style="italic">Vita9a</tspan> lines</text>
<text x="315.5" y="631.5" font-size="7.9" fill="#222" text-anchor="end" stroke="#222" stroke-width="0.2">Male</text>
<text x="314.5" y="641.1" font-size="7.9" fill="#222" text-anchor="end" stroke="#222" stroke-width="0.2">at T<tspan font-size="4.6" dy="2.2">42</tspan></text>
<text x="333" y="720" font-size="7.9" fill="#222" text-anchor="end" stroke="#222" stroke-width="0.2">LOD = 2.6</text>
<rect x="389.9" y="636.3" width="11.8" height="87.2" fill="rgba(55,165,75,0.30)"/>
<rect x="431.4" y="636.3" width="11.6" height="87.2" fill="rgba(35,50,170,0.38)"/>
<rect x="472.7" y="636.3" width="11.6" height="87.2" fill="rgba(105,65,170,0.38)"/>
<rect x="514.5" y="636.3" width="11.6" height="87.2" fill="rgba(242,95,55,0.45)"/>
<polygon points="395.7,647.68 437.2,657.7 478.5,669.3 520.3,678.61 520.3,704.05 478.5,694.74 437.2,683.14 395.7,673.12" fill="rgb(60, 70, 190)" fill-opacity="0.16"/>
<polygon points="395.7,648.47 437.2,670.1 478.5,665.33 520.3,669.7 520.3,695.14 478.5,690.77 437.2,695.54 395.7,673.91" fill="rgb(130, 80, 190)" fill-opacity="0.16"/>
<polygon points="395.7,654.83 437.2,693.71 478.5,641.96 520.3,660.8 520.3,686.24 478.5,667.4 437.2,719.15 395.7,680.27" fill="rgb(40, 160, 70)" fill-opacity="0.16"/>
<polygon points="395.7,669.3 437.2,663.74 478.5,680.27 520.3,629.71 520.3,658.33 478.5,708.89 437.2,692.36 395.7,697.92" fill="rgb(240, 120, 60)" fill-opacity="0.16"/>
<line x1="389.9" y1="618.9" x2="389.9" y2="723.5" stroke="#707070" stroke-width="1"/>
<line x1="389.4" y1="723.5" x2="526" y2="723.5" stroke="#707070" stroke-width="1"/>
<line x1="395.7" y1="723.5" x2="395.7" y2="728.7" stroke="#707070" stroke-width="1"/>
<line x1="437.2" y1="723.5" x2="437.2" y2="728.7" stroke="#707070" stroke-width="1"/>
<line x1="478.5" y1="723.5" x2="478.5" y2="728.7" stroke="#707070" stroke-width="1"/>
<line x1="520.3" y1="723.5" x2="520.3" y2="728.7" stroke="#707070" stroke-width="1"/>
<line x1="384.9" y1="724" x2="389.9" y2="724" stroke="#707070" stroke-width="1"/>
<text x="380.9" y="726.9" font-size="8" fill="#333" text-anchor="end" stroke="#333" stroke-width="0.2">−60</text>
<line x1="384.9" y1="708.1" x2="389.9" y2="708.1" stroke="#707070" stroke-width="1"/>
<line x1="384.9" y1="692.2" x2="389.9" y2="692.2" stroke="#707070" stroke-width="1"/>
<text x="380.9" y="695.1" font-size="8" fill="#333" text-anchor="end" stroke="#333" stroke-width="0.2">−20</text>
<line x1="384.9" y1="676.3" x2="389.9" y2="676.3" stroke="#707070" stroke-width="1"/>
<line x1="384.9" y1="660.4" x2="389.9" y2="660.4" stroke="#707070" stroke-width="1"/>
<text x="380.9" y="663.3" font-size="8" fill="#333" text-anchor="end" stroke="#333" stroke-width="0.2">20</text>
<line x1="384.9" y1="644.5" x2="389.9" y2="644.5" stroke="#707070" stroke-width="1"/>
<line x1="384.9" y1="628.6" x2="389.9" y2="628.6" stroke="#707070" stroke-width="1"/>
<text x="380.9" y="631.5" font-size="8" fill="#333" text-anchor="end" stroke="#333" stroke-width="0.2">60</text>
<polyline points="395.7,660.4 437.2,670.42 478.5,682.02 520.3,691.33" fill="none" stroke="#1f4db2" stroke-width="1.2" stroke-linejoin="miter"/>
<circle cx="395.7" cy="660.4" r="1.5" fill="#fff" stroke="#1f4db2" stroke-width="0.9"/>
<circle cx="437.2" cy="670.42" r="1.5" fill="#fff" stroke="#1f4db2" stroke-width="0.9"/>
<circle cx="478.5" cy="682.02" r="1.5" fill="#fff" stroke="#1f4db2" stroke-width="0.9"/>
<circle cx="520.3" cy="691.33" r="1.5" fill="#fff" stroke="#1f4db2" stroke-width="0.9"/>
<polyline points="395.7,661.19 437.2,682.82 478.5,678.05 520.3,682.42" fill="none" stroke="#8a5cb6" stroke-width="1.2" stroke-linejoin="miter"/>
<circle cx="395.7" cy="661.19" r="1.5" fill="#fff" stroke="#8a5cb6" stroke-width="0.9"/>
<circle cx="437.2" cy="682.82" r="1.5" fill="#fff" stroke="#8a5cb6" stroke-width="0.9"/>
<circle cx="478.5" cy="678.05" r="1.5" fill="#fff" stroke="#8a5cb6" stroke-width="0.9"/>
<circle cx="520.3" cy="682.42" r="1.5" fill="#fff" stroke="#8a5cb6" stroke-width="0.9"/>
<polyline points="395.7,667.55 437.2,706.43 478.5,654.68 520.3,673.52" fill="none" stroke="#1ea04c" stroke-width="3.0" stroke-linejoin="miter"/>
<circle cx="395.7" cy="667.55" r="1.5" fill="#fff" stroke="#1ea04c" stroke-width="0.9"/>
<circle cx="437.2" cy="706.43" r="1.5" fill="#fff" stroke="#1ea04c" stroke-width="0.9"/>
<circle cx="478.5" cy="654.68" r="1.5" fill="#fff" stroke="#1ea04c" stroke-width="0.9"/>
<circle cx="520.3" cy="673.52" r="1.5" fill="#fff" stroke="#1ea04c" stroke-width="0.9"/>
<polyline points="395.7,683.61 437.2,678.05 478.5,694.58 520.3,644.02" fill="none" stroke="#e8342e" stroke-width="3.0" stroke-linejoin="miter"/>
<circle cx="395.7" cy="683.61" r="1.5" fill="#fff" stroke="#e8342e" stroke-width="0.9"/>
<circle cx="437.2" cy="678.05" r="1.5" fill="#fff" stroke="#e8342e" stroke-width="0.9"/>
<circle cx="478.5" cy="694.58" r="1.5" fill="#fff" stroke="#e8342e" stroke-width="0.9"/>
<circle cx="520.3" cy="644.02" r="1.5" fill="#fff" stroke="#e8342e" stroke-width="0.9"/>
<text x="395.7" y="740.8" font-size="8" font-style="italic" fill="#1ea04c" text-anchor="middle" stroke="#1ea04c" stroke-width="0.2">CH</text>
<text x="437.2" y="740.8" font-size="8" font-style="italic" fill="#2a4fb5" text-anchor="middle" stroke="#2a4fb5" stroke-width="0.2">CD</text>
<text x="478.5" y="740.8" font-size="8" font-style="italic" fill="#8a5cb6" text-anchor="middle" stroke="#8a5cb6" stroke-width="0.2">BH</text>
<text x="520.3" y="740.8" font-size="8" font-style="italic" fill="#e8342e" text-anchor="middle" stroke="#e8342e" stroke-width="0.2">BD</text>
<text x="413.6" y="631" font-size="7.9" fill="#222" stroke="#222" stroke-width="0.2"><tspan font-style="italic">Vita5a</tspan> lines</text>
<text x="512.5" y="632" font-size="7.9" fill="#222" text-anchor="end" stroke="#222" stroke-width="0.2">Female</text>
<text x="511.5" y="641.6" font-size="7.9" fill="#222" text-anchor="end" stroke="#222" stroke-width="0.2">at T<tspan font-size="4.6" dy="2.2">740</tspan></text>
<text x="516.5" y="718.5" font-size="7.9" fill="#222" text-anchor="end" stroke="#222" stroke-width="0.2">LOD = 5.6</text>
<rect x="548.1" y="635.6" width="11.8" height="88.8" fill="rgba(55,165,75,0.30)"/>
<rect x="588.5" y="635.6" width="11.6" height="88.8" fill="rgba(35,50,170,0.38)"/>
<rect x="630.6" y="636.5" width="11.6" height="87.9" fill="rgba(105,65,170,0.38)"/>
<rect x="671.9" y="635.6" width="11.6" height="88.8" fill="rgba(242,95,55,0.45)"/>
<polygon points="553,667.15 594.3,653.11 636.4,665.79 677.7,660.73 677.7,689.62 636.4,694.68 594.3,682 553,696.04" fill="rgb(240, 120, 60)" fill-opacity="0.16"/>
<polygon points="553,646.45 594.3,669.24 636.4,658.48 677.7,671.16 677.7,700.05 636.4,687.37 594.3,698.13 553,675.34" fill="rgb(130, 80, 190)" fill-opacity="0.16"/>
<polygon points="553,670.36 594.3,683.52 636.4,652.63 677.7,651.26 677.7,676.94 636.4,678.31 594.3,709.2 553,696.04" fill="rgb(60, 70, 190)" fill-opacity="0.16"/>
<polygon points="553,673.65 594.3,674.37 636.4,648.77 677.7,653.91 677.7,679.59 636.4,674.45 594.3,700.05 553,699.33" fill="rgb(40, 160, 70)" fill-opacity="0.16"/>
<line x1="548.1" y1="619.2" x2="548.1" y2="724.4" stroke="#707070" stroke-width="1"/>
<line x1="547.6" y1="724.4" x2="685" y2="724.4" stroke="#707070" stroke-width="1"/>
<line x1="553" y1="724.4" x2="553" y2="729.6" stroke="#707070" stroke-width="1"/>
<line x1="594.3" y1="724.4" x2="594.3" y2="729.6" stroke="#707070" stroke-width="1"/>
<line x1="636.4" y1="724.4" x2="636.4" y2="729.6" stroke="#707070" stroke-width="1"/>
<line x1="677.7" y1="724.4" x2="677.7" y2="729.6" stroke="#707070" stroke-width="1"/>
<line x1="543.1" y1="724.45" x2="548.1" y2="724.45" stroke="#707070" stroke-width="1"/>
<line x1="543.1" y1="708.4" x2="548.1" y2="708.4" stroke="#707070" stroke-width="1"/>
<line x1="543.1" y1="692.35" x2="548.1" y2="692.35" stroke="#707070" stroke-width="1"/>
<line x1="543.1" y1="676.3" x2="548.1" y2="676.3" stroke="#707070" stroke-width="1"/>
<line x1="543.1" y1="660.25" x2="548.1" y2="660.25" stroke="#707070" stroke-width="1"/>
<line x1="543.1" y1="644.2" x2="548.1" y2="644.2" stroke="#707070" stroke-width="1"/>
<line x1="543.1" y1="628.15" x2="548.1" y2="628.15" stroke="#707070" stroke-width="1"/>
<polyline points="553,681.6 594.3,667.55 636.4,680.23 677.7,675.18" fill="none" stroke="#e8342e" stroke-width="1.2" stroke-linejoin="miter"/>
<circle cx="553" cy="681.6" r="1.5" fill="#fff" stroke="#e8342e" stroke-width="0.9"/>
<circle cx="594.3" cy="667.55" r="1.5" fill="#fff" stroke="#e8342e" stroke-width="0.9"/>
<circle cx="636.4" cy="680.23" r="1.5" fill="#fff" stroke="#e8342e" stroke-width="0.9"/>
<circle cx="677.7" cy="675.18" r="1.5" fill="#fff" stroke="#e8342e" stroke-width="0.9"/>
<polyline points="553,660.89 594.3,683.68 636.4,672.93 677.7,685.61" fill="none" stroke="#8a5cb6" stroke-width="1.2" stroke-linejoin="miter"/>
<circle cx="553" cy="660.89" r="1.5" fill="#fff" stroke="#8a5cb6" stroke-width="0.9"/>
<circle cx="594.3" cy="683.68" r="1.5" fill="#fff" stroke="#8a5cb6" stroke-width="0.9"/>
<circle cx="636.4" cy="672.93" r="1.5" fill="#fff" stroke="#8a5cb6" stroke-width="0.9"/>
<circle cx="677.7" cy="685.61" r="1.5" fill="#fff" stroke="#8a5cb6" stroke-width="0.9"/>
<polyline points="553,683.2 594.3,696.36 636.4,665.47 677.7,664.1" fill="none" stroke="#1f4db2" stroke-width="1.2" stroke-linejoin="miter"/>
<circle cx="553" cy="683.2" r="1.5" fill="#fff" stroke="#1f4db2" stroke-width="0.9"/>
<circle cx="594.3" cy="696.36" r="1.5" fill="#fff" stroke="#1f4db2" stroke-width="0.9"/>
<circle cx="636.4" cy="665.47" r="1.5" fill="#fff" stroke="#1f4db2" stroke-width="0.9"/>
<circle cx="677.7" cy="664.1" r="1.5" fill="#fff" stroke="#1f4db2" stroke-width="0.9"/>
<polyline points="553,686.49 594.3,687.21 636.4,661.61 677.7,666.75" fill="none" stroke="#1ea04c" stroke-width="3.0" stroke-linejoin="miter"/>
<circle cx="553" cy="686.49" r="1.5" fill="#fff" stroke="#1ea04c" stroke-width="0.9"/>
<circle cx="594.3" cy="687.21" r="1.5" fill="#fff" stroke="#1ea04c" stroke-width="0.9"/>
<circle cx="636.4" cy="661.61" r="1.5" fill="#fff" stroke="#1ea04c" stroke-width="0.9"/>
<circle cx="677.7" cy="666.75" r="1.5" fill="#fff" stroke="#1ea04c" stroke-width="0.9"/>
<text x="553" y="740.8" font-size="8" font-style="italic" fill="#1ea04c" text-anchor="middle" stroke="#1ea04c" stroke-width="0.2">CH</text>
<text x="594.3" y="740.8" font-size="8" font-style="italic" fill="#2a4fb5" text-anchor="middle" stroke="#2a4fb5" stroke-width="0.2">CD</text>
<text x="636.4" y="740.8" font-size="8" font-style="italic" fill="#8a5cb6" text-anchor="middle" stroke="#8a5cb6" stroke-width="0.2">BH</text>
<text x="677.7" y="740.8" font-size="8" font-style="italic" fill="#e8342e" text-anchor="middle" stroke="#e8342e" stroke-width="0.2">BD</text>
<text x="568" y="630.8" font-size="7.9" fill="#222" stroke="#222" stroke-width="0.2"><tspan font-style="italic">Vita5a</tspan> lines</text>
<text x="666.5" y="632" font-size="7.9" fill="#222" text-anchor="end" stroke="#222" stroke-width="0.2">Male</text>
<text x="665.5" y="641.6" font-size="7.9" fill="#222" text-anchor="end" stroke="#222" stroke-width="0.2">at T<tspan font-size="4.6" dy="2.2">740</tspan></text>
<text x="677" y="719.4" font-size="7.9" fill="#222" text-anchor="end" stroke="#222" stroke-width="0.2">LOD = 0.9</text>
<text x="460" y="454.6" font-size="8" fill="#222" text-anchor="middle" stroke="#222" stroke-width="0.2"><tspan font-style="italic">Vita1c</tspan> genotype</text>
<text x="616" y="454.6" font-size="8" fill="#222" text-anchor="middle" stroke="#222" stroke-width="0.2"><tspan font-style="italic">Vita1c</tspan> genotype</text>
<text x="460" y="604.2" font-size="8" fill="#222" text-anchor="middle" stroke="#222" stroke-width="0.2"><tspan font-style="italic">Vita1c</tspan> genotype</text>
<text x="616" y="604.2" font-size="8" fill="#222" text-anchor="middle" stroke="#222" stroke-width="0.2"><tspan font-style="italic">Vita1c</tspan> genotype</text>
<text x="109.8" y="755" font-size="8" fill="#222" text-anchor="middle" stroke="#222" stroke-width="0.2"><tspan font-style="italic">Vita1b</tspan> genotype</text>
<text x="269.5" y="755" font-size="8" fill="#222" text-anchor="middle" stroke="#222" stroke-width="0.2"><tspan font-style="italic">Vita1b</tspan> genotype</text>
<text x="459.5" y="755.3" font-size="8" fill="#222" text-anchor="middle" stroke="#222" stroke-width="0.2"><tspan font-style="italic">Vita3a</tspan> genotype</text>
<text x="615.6" y="755.3" font-size="8" fill="#222" text-anchor="middle" stroke="#222" stroke-width="0.2"><tspan font-style="italic">Vita3a</tspan> genotype</text>
<text transform="translate(357.2,467.3) rotate(-90)" font-size="8.1" fill="#222" text-anchor="middle" stroke="#222" stroke-width="0.2">Lifespan difference (Δdays)</text>
<text transform="translate(7.2,673.5) rotate(-90)" font-size="7.8" fill="#222" text-anchor="middle" stroke="#222" stroke-width="0.2">Lifespan (Δdays)</text>
<text transform="translate(359,673.8) rotate(-90)" font-size="7.8" fill="#222" text-anchor="middle" stroke="#222" stroke-width="0.2">Lifespan (Δdays)</text>
<text x="367.2" y="316.2" font-size="13.5" font-weight="bold" fill="#000" stroke="#000" stroke-width="0.14">c</text>
<text x="367.0" y="476.2" font-size="13.5" font-weight="bold" fill="#000" stroke="#000" stroke-width="0.14">d</text>
<text x="-0.6" y="621.9" font-size="13.5" font-weight="bold" fill="#000" stroke="#000" stroke-width="0.14">e</text>
<text x="350.8" y="621.6" font-size="13.5" font-weight="bold" fill="#000" stroke="#000" stroke-width="0.14">f</text>
<circle cx="382.5" cy="314.5" r="0.6" fill="#7078a8"/>
<circle cx="397.3" cy="626.3" r="0.6" fill="#7078a8"/>
<path d="M161.18,807.16 L163.95,806.33 L166.75,805.56 L169.56,804.85 L172.4,804.22 L175.25,803.64 L178.11,803.14 L180.99,802.7 L183.88,802.33 L186.78,802.03 L189.68,801.8 L192.59,801.63" fill="none" stroke="#f5a623" stroke-width="2.8" stroke-linecap="round"/>
<path d="M211.88,802.25 L214.88,802.62 L217.88,803.06 L220.85,803.57 L223.81,804.16 L226.76,804.81 L229.68,805.54 L232.59,806.34 L235.47,807.21 L238.32,808.15 L241.15,809.16 L243.95,810.23" fill="none" stroke="#000" stroke-width="2.8" stroke-linecap="round"/>
<path d="M252.26,813.92 L255.01,815.31 L257.72,816.77 L260.38,818.3 L263,819.89 L265.57,821.55 L268.09,823.27 L270.56,825.05 L272.98,826.9 L275.34,828.8 L277.65,830.77 L279.9,832.79 L282.09,834.86" fill="none" stroke="#f5a623" stroke-width="2.8" stroke-linecap="round"/>
<path d="M287.47,840.48 L289.34,842.63 L291.14,844.82 L292.89,847.05 L294.58,849.32 L296.2,851.64 L297.75,853.99 L299.25,856.38 L300.67,858.8 L302.03,861.26 L303.32,863.74" fill="none" stroke="#000" stroke-width="2.8" stroke-linecap="round"/>
<path d="M308.34,875.48 L309.31,878.3 L310.18,881.15 L310.98,884.02 L311.68,886.91 L312.31,889.82 L312.84,892.74 L313.3,895.67 L313.66,898.62 L313.94,901.57 L314.13,904.53" fill="none" stroke="#f5a623" stroke-width="2.8" stroke-linecap="round"/>
<path d="M314.18,913.27 L314.04,916.07 L313.81,918.86 L313.51,921.65 L313.14,924.44 L312.68,927.21 L312.15,929.97 L311.54,932.71 L310.85,935.44 L310.09,938.16 L309.26,940.85 L308.34,943.52" fill="none" stroke="#000" stroke-width="2.8" stroke-linecap="round"/>
<path d="M302.75,956.38 L301.3,959.09 L299.76,961.76 L298.15,964.39 L296.46,966.97 L294.69,969.51 L292.85,972.01 L290.93,974.45" fill="none" stroke="#f5a623" stroke-width="2.8" stroke-linecap="round"/>
<path d="M284.74,981.47 L282.74,983.51 L280.67,985.49 L278.56,987.43 L276.39,989.32 L274.17,991.15 L271.9,992.94 L269.59,994.66 L267.22,996.34 L264.81,997.95 L262.36,999.51 L259.87,1001" fill="none" stroke="#000" stroke-width="2.8" stroke-linecap="round"/>
<path d="M252.83,1004.8 L250.16,1006.08 L247.45,1007.3 L244.71,1008.46 L241.94,1009.55 L239.14,1010.57 L236.32,1011.52 L233.46,1012.4 L230.59,1013.22" fill="none" stroke="#f5a623" stroke-width="2.8" stroke-linecap="round"/>
<path d="M219.17,1015.73 L215.9,1016.24 L212.62,1016.67 L209.33,1017.01 L206.03,1017.26 L202.72,1017.42 L199.41,1017.49" fill="none" stroke="#000" stroke-width="2.8" stroke-linecap="round"/>
<path d="M157.48,1010.61 L160.36,1011.58 L163.27,1012.47 L166.21,1013.3 L169.17,1014.05 L172.15,1014.73 L175.14,1015.34 L178.16,1015.87 L181.19,1016.33 L184.23,1016.71" fill="none" stroke="#f5a623" stroke-width="2.8" stroke-linecap="round"/>
<path d="M135.69,1000.45 L138.27,1001.94 L140.89,1003.37 L143.54,1004.73 L146.24,1006.03" fill="none" stroke="#000" stroke-width="2.8" stroke-linecap="round"/>
<path d="M111.13,980.81 L113.29,983.03 L115.51,985.2 L117.8,987.3 L120.15,989.35" fill="none" stroke="#f5a623" stroke-width="2.8" stroke-linecap="round"/>
<path d="M91.4,951.54 L92.7,954.29 L94.08,957.01 L95.54,959.69 L97.07,962.33 L98.69,964.93" fill="none" stroke="#000" stroke-width="2.8" stroke-linecap="round"/>
<path d="M82.57,917.57 L82.85,920.45 L83.2,923.32 L83.64,926.18 L84.16,929.03 L84.77,931.87 L85.45,934.69" fill="none" stroke="#f5a623" stroke-width="2.8" stroke-linecap="round"/>
<path d="M82.97,897.5 L83.4,894.35 L83.93,891.21 L84.55,888.09 L85.28,884.98 L86.1,881.9" fill="none" stroke="#000" stroke-width="2.8" stroke-linecap="round"/>
<path d="M88.62,874.21 L89.65,871.53 L90.77,868.88 L91.96,866.25 L93.22,863.66" fill="none" stroke="#f5a623" stroke-width="2.8" stroke-linecap="round"/>
<path d="M101.62,849.75 L103.53,847.16 L105.52,844.61 L107.59,842.13 L109.74,839.7 L111.96,837.32 L114.25,835.01" fill="none" stroke="#000" stroke-width="2.8" stroke-linecap="round"/>
<path d="M119.23,830.43 L121.58,828.45 L123.99,826.53 L126.45,824.67 L128.97,822.88 L131.53,821.15 L134.15,819.49" fill="none" stroke="#f5a623" stroke-width="2.8" stroke-linecap="round"/>
<path d="M145.89,813.13 L147.5,812.38 L149.13,811.66" fill="none" stroke="#000" stroke-width="2.8" stroke-linecap="round"/>
<path d="M95.9,859.6 C185.97,903.51 191.58,898.12 142.7,814.7" fill="none" stroke="#3452ad" stroke-width="3.6"/>
<path d="M142.7,814.7 C191.58,898.12 195.92,922.36 178.8,1016.7" fill="none" stroke="#3452ad" stroke-width="3.6"/>
<path d="M152.8,810.5 C192.8,897.62 211.04,914.7 304.8,952.8" fill="none" stroke="#3452ad" stroke-width="3.6"/>
<path d="M221.3,804.2 C201.02,896.86 201.77,922.06 227.6,1014.2" fill="none" stroke="#3452ad" stroke-width="3.6"/>
<path d="M305.2,867.8 C211.08,904.5 203.14,921.63 239,1010.6" fill="none" stroke="#3452ad" stroke-width="3.6"/>
<path d="M309.9,880.7 C211.65,906.04 185.16,913.76 89.2,945" fill="none" stroke="#3452ad" stroke-width="3.6"/>
<path d="M82.6,901 C184.37,908.48 211.65,906.04 309.9,880.7" fill="none" stroke="#3452ad" stroke-width="3.6"/>
<path d="M279.8,832.7 C208.04,900.28 187.44,916.38 108.2,966.8" fill="none" stroke="#3452ad" stroke-width="3.6"/>
<path d="M261.7,818.5 C205.86,898.58 187.44,917.7 108.2,977.8" fill="none" stroke="#3452ad" stroke-width="2.2"/>
<path d="M133.4,992.6 C190.47,919.47 208.04,900.28 279.8,832.7" fill="none" stroke="#3452ad" stroke-width="3.6"/>
<path d="M294,857.7 C209.74,903.28 186.08,915.6 96.8,960.3" fill="none" stroke="#3452ad" stroke-width="1.3"/>
<path d="M96.8,960.3 C186.08,915.6 211.08,904.5 305.2,867.8" fill="none" stroke="#3452ad" stroke-width="2.2"/>
<path d="M208.6,802.3 C199.49,896.64 199.42,922.44 208,1017.3" fill="none" stroke="#f59a1c" stroke-width="1.3"/>
<path d="M238.4,808 C203.07,897.32 208.3,918.49 282,984.4" fill="none" stroke="#f59a1c" stroke-width="3.6"/>
<path d="M228.9,805.2 C201.93,896.98 206.3,920.2 265.3,998.7" fill="none" stroke="#f59a1c" stroke-width="3.6"/>
<path d="M253.6,814.3 C204.89,898.08 186.92,917.06 103.8,972.5" fill="none" stroke="#f59a1c" stroke-width="1.3"/>
<path d="M312.4,885.3 C211.95,906.6 184.55,911.71 84.1,927.9" fill="none" stroke="#f59a1c" stroke-width="2.2"/>
<path d="M313.3,895.9 C212.06,907.87 184.71,906.84 85.4,887.3" fill="none" stroke="#f59a1c" stroke-width="1.3"/>
<path d="M96.8,960.3 C186.08,915.6 210.24,902.83 298.2,853.9" fill="none" stroke="#f59a1c" stroke-width="1.3"/>
<path d="M196.6,1017.6 C198.05,922.47 201.02,896.86 221.3,804.2" fill="none" stroke="#f59a1c" stroke-width="1.3"/>
<path d="M271.2,825.1 C207,899.37 208.92,917.01 287.2,972.1" fill="none" stroke="#f59a1c" stroke-width="2.2"/>
<path d="M203.7,801.4 C198.9,896.53 197.46,922.47 191.7,1017.6" fill="none" stroke="#e8202a" stroke-width="2.2"/>
<path d="M228.9,805.2 C201.93,896.98 198.05,922.47 196.6,1017.6" fill="none" stroke="#e8202a" stroke-width="3.6"/>
<path d="M228.9,805.2 C201.93,896.98 190.47,920.24 133.4,999" fill="none" stroke="#e8202a" stroke-width="2.2"/>
<path d="M238.4,808 C203.07,897.32 189.72,919.68 127.2,994.3" fill="none" stroke="#e8202a" stroke-width="2.2"/>
<path d="M266.5,821.9 C206.44,898.99 184.32,910 82.2,913.7" fill="none" stroke="#e8202a" stroke-width="3.6"/>
<path d="M271.2,825.1 C207,899.37 184.48,910.64 83.5,919" fill="none" stroke="#e8202a" stroke-width="3.6"/>
<path d="M277.3,829.8 C207.74,899.94 185.39,914.24 91.1,949" fill="none" stroke="#e8202a" stroke-width="2.2"/>
<path d="M298.2,853.9 C210.24,902.83 184.32,910 82.2,913.7" fill="none" stroke="#e8202a" stroke-width="2.2"/>
<path d="M314.3,906.1 C212.18,909.09 184.48,910.64 83.5,919" fill="none" stroke="#e8202a" stroke-width="1.3"/>
<path d="M296.3,967.4 C210.02,916.45 184.83,906.32 86.4,883" fill="none" stroke="#e8202a" stroke-width="3.6"/>
<path d="M292.5,973.1 C209.56,917.13 184.32,910 82.2,913.7" fill="none" stroke="#e8202a" stroke-width="3.6"/>
<path d="M106.7,844.5 C187.26,901.7 198.05,922.47 196.6,1017.6" fill="none" stroke="#e8202a" stroke-width="3.6"/>
<path d="M168,1014.4 C194.62,922.09 207.74,899.94 277.3,829.8" fill="none" stroke="#e8202a" stroke-width="1.3"/>
<path d="M127.2,994.3 C189.72,919.68 206.44,898.99 266.5,821.9" fill="none" stroke="#e8202a" stroke-width="3.6"/>
<path d="M91.1,949 C185.39,914.24 206.44,898.99 266.5,821.9" fill="none" stroke="#e8202a" stroke-width="3.6"/>
<path d="M191.7,1017.6 C197.46,922.47 207,899.37 271.2,825.1" fill="none" stroke="#e8202a" stroke-width="2.2"/>
<path d="M296.3,967.4 C210.02,916.45 184.48,910.64 83.5,919" fill="none" stroke="#e8202a" stroke-width="2.2"/>
<circle cx="203.7" cy="801.4" r="3.9" fill="#fff"/>
<circle cx="203.7" cy="801.4" r="3.05" fill="#6e6420"/>
<circle cx="203.7" cy="801.4" r="2.7" fill="#d9b92a"/>
<circle cx="203.7" cy="801.4" r="2.1" fill="#d81e34"/>
<circle cx="208.6" cy="802.3" r="3.9" fill="#fff"/>
<circle cx="208.6" cy="802.3" r="3.05" fill="#6e6420"/>
<circle cx="208.6" cy="802.3" r="2.7" fill="#d9b92a"/>
<circle cx="208.6" cy="802.3" r="2.1" fill="#d81e34"/>
<circle cx="202.9" cy="808" r="3.9" fill="#fff"/>
<circle cx="202.9" cy="808" r="3.0" fill="#5a7fd0"/>
<circle cx="202.9" cy="808" r="2.45" fill="#49a24d"/>
<circle cx="202.9" cy="808" r="1.1" fill="#3050c0"/>
<circle cx="221.3" cy="804.2" r="3.9" fill="#fff"/>
<circle cx="221.3" cy="804.2" r="3.0" fill="#5a7fd0"/>
<circle cx="221.3" cy="804.2" r="2.45" fill="#49a24d"/>
<circle cx="221.3" cy="804.2" r="1.1" fill="#3050c0"/>
<circle cx="228.9" cy="805.2" r="3.9" fill="#fff"/>
<circle cx="228.9" cy="805.2" r="3.05" fill="#6e6420"/>
<circle cx="228.9" cy="805.2" r="2.7" fill="#d9b92a"/>
<circle cx="228.9" cy="805.2" r="2.1" fill="#d81e34"/>
<circle cx="238.4" cy="808" r="3.9" fill="#fff"/>
<circle cx="238.4" cy="808" r="3.05" fill="#6e6420"/>
<circle cx="238.4" cy="808" r="2.7" fill="#d9b92a"/>
<circle cx="238.4" cy="808" r="2.1" fill="#d81e34"/>
<circle cx="253.6" cy="814.3" r="3.9" fill="#fff"/>
<circle cx="253.6" cy="814.3" r="3.0" fill="#5a7fd0"/>
<circle cx="253.6" cy="814.3" r="2.45" fill="#49a24d"/>
<circle cx="253.6" cy="814.3" r="1.1" fill="#3050c0"/>
<circle cx="261.7" cy="818.5" r="3.9" fill="#fff"/>
<circle cx="261.7" cy="818.5" r="3.0" fill="#5a7fd0"/>
<circle cx="261.7" cy="818.5" r="2.45" fill="#49a24d"/>
<circle cx="261.7" cy="818.5" r="1.1" fill="#3050c0"/>
<circle cx="266.5" cy="821.9" r="3.9" fill="#fff"/>
<circle cx="266.5" cy="821.9" r="3.05" fill="#6e6420"/>
<circle cx="266.5" cy="821.9" r="2.7" fill="#d9b92a"/>
<circle cx="266.5" cy="821.9" r="2.1" fill="#d81e34"/>
<circle cx="271.2" cy="825.1" r="3.9" fill="#fff"/>
<circle cx="271.2" cy="825.1" r="3.05" fill="#6e6420"/>
<circle cx="271.2" cy="825.1" r="2.7" fill="#d9b92a"/>
<circle cx="271.2" cy="825.1" r="2.1" fill="#d81e34"/>
<circle cx="277.3" cy="829.8" r="3.9" fill="#fff"/>
<circle cx="277.3" cy="829.8" r="3.05" fill="#6e6420"/>
<circle cx="277.3" cy="829.8" r="2.7" fill="#d9b92a"/>
<circle cx="277.3" cy="829.8" r="2.1" fill="#d81e34"/>
<circle cx="279.8" cy="832.7" r="3.9" fill="#fff"/>
<circle cx="279.8" cy="832.7" r="3.0" fill="#5a7fd0"/>
<circle cx="279.8" cy="832.7" r="2.45" fill="#49a24d"/>
<circle cx="279.8" cy="832.7" r="1.1" fill="#3050c0"/>
<circle cx="298.2" cy="853.9" r="3.9" fill="#fff"/>
<circle cx="298.2" cy="853.9" r="3.05" fill="#6e6420"/>
<circle cx="298.2" cy="853.9" r="2.7" fill="#d9b92a"/>
<circle cx="298.2" cy="853.9" r="2.1" fill="#d81e34"/>
<circle cx="294" cy="857.7" r="3.9" fill="#fff"/>
<circle cx="294" cy="857.7" r="3.0" fill="#5a7fd0"/>
<circle cx="294" cy="857.7" r="2.45" fill="#49a24d"/>
<circle cx="294" cy="857.7" r="1.1" fill="#3050c0"/>
<circle cx="305.2" cy="867.8" r="3.9" fill="#fff"/>
<circle cx="305.2" cy="867.8" r="3.0" fill="#5a7fd0"/>
<circle cx="305.2" cy="867.8" r="2.45" fill="#49a24d"/>
<circle cx="305.2" cy="867.8" r="1.1" fill="#3050c0"/>
<circle cx="309.9" cy="880.7" r="3.9" fill="#fff"/>
<circle cx="309.9" cy="880.7" r="3.0" fill="#5a7fd0"/>
<circle cx="309.9" cy="880.7" r="2.45" fill="#49a24d"/>
<circle cx="309.9" cy="880.7" r="1.1" fill="#3050c0"/>
<circle cx="312.4" cy="885.3" r="3.9" fill="#fff"/>
<circle cx="312.4" cy="885.3" r="3.05" fill="#6e6420"/>
<circle cx="312.4" cy="885.3" r="2.7" fill="#d9b92a"/>
<circle cx="312.4" cy="885.3" r="2.1" fill="#d81e34"/>
<circle cx="313.3" cy="895.9" r="3.9" fill="#fff"/>
<circle cx="313.3" cy="895.9" r="3.0" fill="#5a7fd0"/>
<circle cx="313.3" cy="895.9" r="2.45" fill="#49a24d"/>
<circle cx="313.3" cy="895.9" r="1.1" fill="#3050c0"/>
<circle cx="314.3" cy="906.1" r="3.9" fill="#fff"/>
<circle cx="314.3" cy="906.1" r="3.05" fill="#6e6420"/>
<circle cx="314.3" cy="906.1" r="2.7" fill="#d9b92a"/>
<circle cx="314.3" cy="906.1" r="2.1" fill="#d81e34"/>
<circle cx="313" cy="928.5" r="3.9" fill="#fff"/>
<circle cx="313" cy="928.5" r="3.05" fill="#6e6420"/>
<circle cx="313" cy="928.5" r="2.7" fill="#d9b92a"/>
<circle cx="313" cy="928.5" r="2.1" fill="#d81e34"/>
<circle cx="304.8" cy="952.8" r="3.9" fill="#fff"/>
<circle cx="304.8" cy="952.8" r="3.0" fill="#5a7fd0"/>
<circle cx="304.8" cy="952.8" r="2.45" fill="#49a24d"/>
<circle cx="304.8" cy="952.8" r="1.1" fill="#3050c0"/>
<circle cx="296.3" cy="967.4" r="3.9" fill="#fff"/>
<circle cx="296.3" cy="967.4" r="3.05" fill="#6e6420"/>
<circle cx="296.3" cy="967.4" r="2.7" fill="#d9b92a"/>
<circle cx="296.3" cy="967.4" r="2.1" fill="#d81e34"/>
<circle cx="292.5" cy="973.1" r="3.9" fill="#fff"/>
<circle cx="292.5" cy="973.1" r="3.05" fill="#6e6420"/>
<circle cx="292.5" cy="973.1" r="2.7" fill="#d9b92a"/>
<circle cx="292.5" cy="973.1" r="2.1" fill="#d81e34"/>
<circle cx="287.2" cy="972.1" r="3.9" fill="#fff"/>
<circle cx="287.2" cy="972.1" r="3.0" fill="#5a7fd0"/>
<circle cx="287.2" cy="972.1" r="2.45" fill="#49a24d"/>
<circle cx="287.2" cy="972.1" r="1.1" fill="#3050c0"/>
<circle cx="282" cy="984.4" r="3.9" fill="#fff"/>
<circle cx="282" cy="984.4" r="3.0" fill="#5a7fd0"/>
<circle cx="282" cy="984.4" r="2.45" fill="#49a24d"/>
<circle cx="282" cy="984.4" r="1.1" fill="#3050c0"/>
<circle cx="265.3" cy="998.7" r="3.9" fill="#fff"/>
<circle cx="265.3" cy="998.7" r="3.0" fill="#5a7fd0"/>
<circle cx="265.3" cy="998.7" r="2.45" fill="#49a24d"/>
<circle cx="265.3" cy="998.7" r="1.1" fill="#3050c0"/>
<circle cx="239" cy="1010.6" r="3.9" fill="#fff"/>
<circle cx="239" cy="1010.6" r="3.0" fill="#5a7fd0"/>
<circle cx="239" cy="1010.6" r="2.45" fill="#49a24d"/>
<circle cx="239" cy="1010.6" r="1.1" fill="#3050c0"/>
<circle cx="227.6" cy="1014.2" r="3.9" fill="#fff"/>
<circle cx="227.6" cy="1014.2" r="3.0" fill="#5a7fd0"/>
<circle cx="227.6" cy="1014.2" r="2.45" fill="#49a24d"/>
<circle cx="227.6" cy="1014.2" r="1.1" fill="#3050c0"/>
<circle cx="211.8" cy="1016.7" r="3.9" fill="#fff"/>
<circle cx="211.8" cy="1016.7" r="3.05" fill="#6e6420"/>
<circle cx="211.8" cy="1016.7" r="2.7" fill="#d9b92a"/>
<circle cx="211.8" cy="1016.7" r="2.1" fill="#d81e34"/>
<circle cx="208" cy="1017.3" r="3.9" fill="#fff"/>
<circle cx="208" cy="1017.3" r="3.0" fill="#5a7fd0"/>
<circle cx="208" cy="1017.3" r="2.45" fill="#49a24d"/>
<circle cx="208" cy="1017.3" r="1.1" fill="#3050c0"/>
<circle cx="196.6" cy="1017.6" r="3.9" fill="#fff"/>
<circle cx="196.6" cy="1017.6" r="3.05" fill="#6e6420"/>
<circle cx="196.6" cy="1017.6" r="2.7" fill="#d9b92a"/>
<circle cx="196.6" cy="1017.6" r="2.1" fill="#d81e34"/>
<circle cx="191.7" cy="1017.6" r="3.9" fill="#fff"/>
<circle cx="191.7" cy="1017.6" r="3.05" fill="#6e6420"/>
<circle cx="191.7" cy="1017.6" r="2.7" fill="#d9b92a"/>
<circle cx="191.7" cy="1017.6" r="2.1" fill="#d81e34"/>
<circle cx="178.8" cy="1016.7" r="3.9" fill="#fff"/>
<circle cx="178.8" cy="1016.7" r="3.0" fill="#5a7fd0"/>
<circle cx="178.8" cy="1016.7" r="2.45" fill="#49a24d"/>
<circle cx="178.8" cy="1016.7" r="1.1" fill="#3050c0"/>
<circle cx="168" cy="1014.4" r="3.9" fill="#fff"/>
<circle cx="168" cy="1014.4" r="3.05" fill="#6e6420"/>
<circle cx="168" cy="1014.4" r="2.7" fill="#d9b92a"/>
<circle cx="168" cy="1014.4" r="2.1" fill="#d81e34"/>
<circle cx="146.2" cy="1006.3" r="3.9" fill="#fff"/>
<circle cx="146.2" cy="1006.3" r="3.05" fill="#6e6420"/>
<circle cx="146.2" cy="1006.3" r="2.7" fill="#d9b92a"/>
<circle cx="146.2" cy="1006.3" r="2.1" fill="#d81e34"/>
<circle cx="133.4" cy="999" r="3.9" fill="#fff"/>
<circle cx="133.4" cy="999" r="3.05" fill="#6e6420"/>
<circle cx="133.4" cy="999" r="2.7" fill="#d9b92a"/>
<circle cx="133.4" cy="999" r="2.1" fill="#d81e34"/>
<circle cx="127.2" cy="994.3" r="3.9" fill="#fff"/>
<circle cx="127.2" cy="994.3" r="3.05" fill="#6e6420"/>
<circle cx="127.2" cy="994.3" r="2.7" fill="#d9b92a"/>
<circle cx="127.2" cy="994.3" r="2.1" fill="#d81e34"/>
<circle cx="133.4" cy="992.6" r="3.9" fill="#fff"/>
<circle cx="133.4" cy="992.6" r="3.0" fill="#5a7fd0"/>
<circle cx="133.4" cy="992.6" r="2.45" fill="#49a24d"/>
<circle cx="133.4" cy="992.6" r="1.1" fill="#3050c0"/>
<circle cx="108.2" cy="977.8" r="3.9" fill="#fff"/>
<circle cx="108.2" cy="977.8" r="3.0" fill="#5a7fd0"/>
<circle cx="108.2" cy="977.8" r="2.45" fill="#49a24d"/>
<circle cx="108.2" cy="977.8" r="1.1" fill="#3050c0"/>
<circle cx="103.8" cy="972.5" r="3.9" fill="#fff"/>
<circle cx="103.8" cy="972.5" r="3.05" fill="#6e6420"/>
<circle cx="103.8" cy="972.5" r="2.7" fill="#d9b92a"/>
<circle cx="103.8" cy="972.5" r="2.1" fill="#d81e34"/>
<circle cx="108.2" cy="966.8" r="3.9" fill="#fff"/>
<circle cx="108.2" cy="966.8" r="3.0" fill="#5a7fd0"/>
<circle cx="108.2" cy="966.8" r="2.45" fill="#49a24d"/>
<circle cx="108.2" cy="966.8" r="1.1" fill="#3050c0"/>
<circle cx="96.8" cy="960.3" r="3.9" fill="#fff"/>
<circle cx="96.8" cy="960.3" r="3.0" fill="#5a7fd0"/>
<circle cx="96.8" cy="960.3" r="2.45" fill="#49a24d"/>
<circle cx="96.8" cy="960.3" r="1.1" fill="#3050c0"/>
<circle cx="91.1" cy="949" r="3.9" fill="#fff"/>
<circle cx="91.1" cy="949" r="3.05" fill="#6e6420"/>
<circle cx="91.1" cy="949" r="2.7" fill="#d9b92a"/>
<circle cx="91.1" cy="949" r="2.1" fill="#d81e34"/>
<circle cx="89.2" cy="945" r="3.9" fill="#fff"/>
<circle cx="89.2" cy="945" r="3.0" fill="#5a7fd0"/>
<circle cx="89.2" cy="945" r="2.45" fill="#49a24d"/>
<circle cx="89.2" cy="945" r="1.1" fill="#3050c0"/>
<circle cx="84.1" cy="927.9" r="3.9" fill="#fff"/>
<circle cx="84.1" cy="927.9" r="3.0" fill="#5a7fd0"/>
<circle cx="84.1" cy="927.9" r="2.45" fill="#49a24d"/>
<circle cx="84.1" cy="927.9" r="1.1" fill="#3050c0"/>
<circle cx="83.5" cy="919" r="3.9" fill="#fff"/>
<circle cx="83.5" cy="919" r="3.05" fill="#6e6420"/>
<circle cx="83.5" cy="919" r="2.7" fill="#d9b92a"/>
<circle cx="83.5" cy="919" r="2.1" fill="#d81e34"/>
<circle cx="82.2" cy="913.7" r="3.9" fill="#fff"/>
<circle cx="82.2" cy="913.7" r="3.05" fill="#6e6420"/>
<circle cx="82.2" cy="913.7" r="2.7" fill="#d9b92a"/>
<circle cx="82.2" cy="913.7" r="2.1" fill="#d81e34"/>
<circle cx="88.7" cy="913.7" r="3.9" fill="#fff"/>
<circle cx="88.7" cy="913.7" r="3.0" fill="#5a7fd0"/>
<circle cx="88.7" cy="913.7" r="2.45" fill="#49a24d"/>
<circle cx="88.7" cy="913.7" r="1.1" fill="#3050c0"/>
<circle cx="82.6" cy="901" r="3.9" fill="#fff"/>
<circle cx="82.6" cy="901" r="3.0" fill="#5a7fd0"/>
<circle cx="82.6" cy="901" r="2.45" fill="#49a24d"/>
<circle cx="82.6" cy="901" r="1.1" fill="#3050c0"/>
<circle cx="85.4" cy="887.3" r="3.9" fill="#fff"/>
<circle cx="85.4" cy="887.3" r="3.05" fill="#6e6420"/>
<circle cx="85.4" cy="887.3" r="2.7" fill="#d9b92a"/>
<circle cx="85.4" cy="887.3" r="2.1" fill="#d81e34"/>
<circle cx="86.4" cy="883" r="3.9" fill="#fff"/>
<circle cx="86.4" cy="883" r="3.05" fill="#6e6420"/>
<circle cx="86.4" cy="883" r="2.7" fill="#d9b92a"/>
<circle cx="86.4" cy="883" r="2.1" fill="#d81e34"/>
<circle cx="95.9" cy="859.6" r="3.9" fill="#fff"/>
<circle cx="95.9" cy="859.6" r="3.0" fill="#5a7fd0"/>
<circle cx="95.9" cy="859.6" r="2.45" fill="#49a24d"/>
<circle cx="95.9" cy="859.6" r="1.1" fill="#3050c0"/>
<circle cx="109.2" cy="847.9" r="3.9" fill="#fff"/>
<circle cx="109.2" cy="847.9" r="3.0" fill="#5a7fd0"/>
<circle cx="109.2" cy="847.9" r="2.45" fill="#49a24d"/>
<circle cx="109.2" cy="847.9" r="1.1" fill="#3050c0"/>
<circle cx="106.7" cy="844.5" r="3.9" fill="#fff"/>
<circle cx="106.7" cy="844.5" r="3.05" fill="#6e6420"/>
<circle cx="106.7" cy="844.5" r="2.7" fill="#d9b92a"/>
<circle cx="106.7" cy="844.5" r="2.1" fill="#d81e34"/>
<circle cx="129.5" cy="822.6" r="3.9" fill="#fff"/>
<circle cx="129.5" cy="822.6" r="3.05" fill="#6e6420"/>
<circle cx="129.5" cy="822.6" r="2.7" fill="#d9b92a"/>
<circle cx="129.5" cy="822.6" r="2.1" fill="#d81e34"/>
<circle cx="131.9" cy="826.1" r="3.9" fill="#fff"/>
<circle cx="131.9" cy="826.1" r="3.0" fill="#5a7fd0"/>
<circle cx="131.9" cy="826.1" r="2.45" fill="#49a24d"/>
<circle cx="131.9" cy="826.1" r="1.1" fill="#3050c0"/>
<circle cx="142.7" cy="814.7" r="3.9" fill="#fff"/>
<circle cx="142.7" cy="814.7" r="3.0" fill="#5a7fd0"/>
<circle cx="142.7" cy="814.7" r="2.45" fill="#49a24d"/>
<circle cx="142.7" cy="814.7" r="1.1" fill="#3050c0"/>
<circle cx="152.8" cy="810.5" r="3.9" fill="#fff"/>
<circle cx="152.8" cy="810.5" r="3.0" fill="#5a7fd0"/>
<circle cx="152.8" cy="810.5" r="2.45" fill="#49a24d"/>
<circle cx="152.8" cy="810.5" r="1.1" fill="#3050c0"/>
<circle cx="170.4" cy="804.8" r="3.9" fill="#fff"/>
<circle cx="170.4" cy="804.8" r="3.05" fill="#6e6420"/>
<circle cx="170.4" cy="804.8" r="2.7" fill="#d9b92a"/>
<circle cx="170.4" cy="804.8" r="2.1" fill="#d81e34"/>
<text x="193.3" y="788.9" font-size="7.6" font-style="italic" fill="#333" text-anchor="middle" stroke="#333" stroke-width="0.2">S1a</text>
<text x="193.3" y="796.8" font-size="7.6" font-style="italic" fill="#333" text-anchor="middle" stroke="#333" stroke-width="0.2">V1a</text>
<text x="213" y="791.5" font-size="7.6" font-style="italic" fill="#333" text-anchor="middle" stroke="#333" stroke-width="0.2">V1b</text>
<text x="234.6" y="793.8" font-size="7.6" font-style="italic" fill="#333" text-anchor="middle" stroke="#333" stroke-width="0.2">V1c</text>
<text x="221.4" y="799.4" font-size="7.6" font-style="italic" fill="#333" text-anchor="middle" stroke="#333" stroke-width="0.2">S1b</text>
<text x="240.2" y="802.4" font-size="7.6" font-style="italic" fill="#333" text-anchor="middle" stroke="#333" stroke-width="0.2">V1d</text>
<text x="256.6" y="808.5" font-size="7.6" font-style="italic" fill="#333" text-anchor="middle" stroke="#333" stroke-width="0.2">S2a</text>
<text x="272.8" y="811.2" font-size="7.6" font-style="italic" fill="#333" text-anchor="middle" stroke="#333" stroke-width="0.2">S2b</text>
<text x="276.6" y="818.7" font-size="7.6" font-style="italic" fill="#333" text-anchor="middle" stroke="#333" stroke-width="0.2">V2a</text>
<text x="292.8" y="817.8" font-size="7.6" font-style="italic" fill="#333" text-anchor="middle" stroke="#333" stroke-width="0.2">V2b</text>
<text x="287.3" y="827.1" font-size="7.6" font-style="italic" fill="#333" text-anchor="middle" stroke="#333" stroke-width="0.2">V2c</text>
<text x="292.2" y="833.6" font-size="7.6" font-style="italic" fill="#333" text-anchor="middle" stroke="#333" stroke-width="0.2">S2c</text>
<text x="305.3" y="848.9" font-size="7.6" font-style="italic" fill="#333" text-anchor="middle" stroke="#333" stroke-width="0.2">V3a</text>
<text x="310.8" y="856.8" font-size="7.6" font-style="italic" fill="#333" text-anchor="middle" stroke="#333" stroke-width="0.2">S3a</text>
<text x="317" y="868.3" font-size="7.6" font-style="italic" fill="#333" text-anchor="middle" stroke="#333" stroke-width="0.2">S3b</text>
<text x="322" y="880.1" font-size="7.6" font-style="italic" fill="#333" text-anchor="middle" stroke="#333" stroke-width="0.2">S4a</text>
<text x="322.8" y="887.2" font-size="7.6" font-style="italic" fill="#333" text-anchor="middle" stroke="#333" stroke-width="0.2">V4a</text>
<text x="325.5" y="897.9" font-size="7.6" font-style="italic" fill="#333" text-anchor="middle" stroke="#333" stroke-width="0.2">S4b</text>
<text x="325.7" y="907.9" font-size="7.6" font-style="italic" fill="#333" text-anchor="middle" stroke="#333" stroke-width="0.2">V4b</text>
<text x="323.9" y="931.3" font-size="7.6" font-style="italic" fill="#333" text-anchor="middle" stroke="#333" stroke-width="0.2">V5a</text>
<text x="317.2" y="954.8" font-size="7.6" font-style="italic" fill="#333" text-anchor="middle" stroke="#333" stroke-width="0.2">S6a</text>
<text x="307.5" y="969.6" font-size="7.6" font-style="italic" fill="#333" text-anchor="middle" stroke="#333" stroke-width="0.2">V6a</text>
<text x="303.9" y="977.2" font-size="7.6" font-style="italic" fill="#333" text-anchor="middle" stroke="#333" stroke-width="0.2">V6b</text>
<text x="299.9" y="984.8" font-size="7.6" font-style="italic" fill="#333" text-anchor="middle" stroke="#333" stroke-width="0.2">S6b</text>
<text x="291.7" y="995.2" font-size="7.6" font-style="italic" fill="#333" text-anchor="middle" stroke="#333" stroke-width="0.2">S7a</text>
<text x="274.9" y="1007.2" font-size="7.6" font-style="italic" fill="#333" text-anchor="middle" stroke="#333" stroke-width="0.2">S7b</text>
<text x="248.2" y="1019.5" font-size="7.6" font-style="italic" fill="#333" text-anchor="middle" stroke="#333" stroke-width="0.2">S8a</text>
<text x="234.3" y="1026.5" font-size="7.6" font-style="italic" fill="#333" text-anchor="middle" stroke="#333" stroke-width="0.2">S8b</text>
<text x="213" y="1027.9" font-size="7.6" font-style="italic" fill="#333" text-anchor="middle" stroke="#333" stroke-width="0.2">V9a</text>
<text x="210.9" y="1037.7" font-size="7.6" font-style="italic" fill="#333" text-anchor="middle" stroke="#333" stroke-width="0.2">S9a</text>
<text x="195.1" y="1037.7" font-size="7.6" font-style="italic" fill="#333" text-anchor="middle" stroke="#333" stroke-width="0.2">V9b</text>
<text x="190.1" y="1027.9" font-size="7.6" font-style="italic" fill="#333" text-anchor="middle" stroke="#333" stroke-width="0.2">V9c</text>
<text x="174.7" y="1033.9" font-size="7.6" font-style="italic" fill="#333" text-anchor="middle" stroke="#333" stroke-width="0.2">S10a</text>
<text x="159" y="1025.4" font-size="7.6" font-style="italic" fill="#333" text-anchor="middle" stroke="#333" stroke-width="0.2">V10a</text>
<text x="142" y="1016.8" font-size="7.6" font-style="italic" fill="#333" text-anchor="middle" stroke="#333" stroke-width="0.2">V11a</text>
<text x="129" y="1008.3" font-size="7.6" font-style="italic" fill="#333" text-anchor="middle" stroke="#333" stroke-width="0.2">V11b</text>
<text x="108.3" y="1012.7" font-size="7.6" font-style="italic" fill="#333" text-anchor="middle" stroke="#333" stroke-width="0.2">S11a</text>
<text x="114.5" y="1001.3" font-size="7.6" font-style="italic" fill="#333" text-anchor="middle" stroke="#333" stroke-width="0.2">V11c</text>
<text x="100.7" y="988.2" font-size="7.6" font-style="italic" fill="#333" text-anchor="middle" stroke="#333" stroke-width="0.2">S12a</text>
<text x="90.2" y="981" font-size="7.6" font-style="italic" fill="#333" text-anchor="middle" stroke="#333" stroke-width="0.2">V12a</text>
<text x="89.8" y="973.8" font-size="7.6" font-style="italic" fill="#333" text-anchor="middle" stroke="#333" stroke-width="0.2">S12b</text>
<text x="83.1" y="964.3" font-size="7.6" font-style="italic" fill="#333" text-anchor="middle" stroke="#333" stroke-width="0.2">S13a</text>
<text x="78.1" y="955.4" font-size="7.6" font-style="italic" fill="#333" text-anchor="middle" stroke="#333" stroke-width="0.2">V13a</text>
<text x="75.2" y="947.5" font-size="7.6" font-style="italic" fill="#333" text-anchor="middle" stroke="#333" stroke-width="0.2">S13b</text>
<text x="70" y="932.4" font-size="7.6" font-style="italic" fill="#333" text-anchor="middle" stroke="#333" stroke-width="0.2">S14a</text>
<text x="68.3" y="922.3" font-size="7.6" font-style="italic" fill="#333" text-anchor="middle" stroke="#333" stroke-width="0.2">V14a</text>
<text x="63.7" y="915.4" font-size="7.6" font-style="italic" fill="#333" text-anchor="middle" stroke="#333" stroke-width="0.2">V&amp;S14b</text>
<text x="70.1" y="902.3" font-size="7.6" font-style="italic" fill="#333" text-anchor="middle" stroke="#333" stroke-width="0.2">S15a</text>
<text x="72.1" y="888.8" font-size="7.6" font-style="italic" fill="#333" text-anchor="middle" stroke="#333" stroke-width="0.2">V15a</text>
<text x="73.7" y="880.7" font-size="7.6" font-style="italic" fill="#333" text-anchor="middle" stroke="#333" stroke-width="0.2">V15b</text>
<text x="82" y="860" font-size="7.6" font-style="italic" fill="#333" text-anchor="middle" stroke="#333" stroke-width="0.2">S16a</text>
<text x="92.5" y="846.3" font-size="7.6" font-style="italic" fill="#333" text-anchor="middle" stroke="#333" stroke-width="0.2">S17a</text>
<text x="97.4" y="837.6" font-size="7.6" font-style="italic" fill="#333" text-anchor="middle" stroke="#333" stroke-width="0.2">V17a</text>
<text x="112" y="821.8" font-size="7.6" font-style="italic" fill="#333" text-anchor="middle" stroke="#333" stroke-width="0.2">V&amp;S18a</text>
<text x="131.4" y="812" font-size="7.6" font-style="italic" fill="#333" text-anchor="middle" stroke="#333" stroke-width="0.2">S19a</text>
<text x="147.6" y="805" font-size="7.6" font-style="italic" fill="#333" text-anchor="middle" stroke="#333" stroke-width="0.2">S19b</text>
<text x="171.2" y="799.2" font-size="7.6" font-style="italic" fill="#333" text-anchor="middle" stroke="#333" stroke-width="0.2">VXa</text>
<path d="M493.88,807.16 L496.65,806.33 L499.45,805.56 L502.26,804.85 L505.1,804.22 L507.95,803.64 L510.81,803.14 L513.69,802.7 L516.58,802.33 L519.48,802.03 L522.38,801.8 L525.29,801.63" fill="none" stroke="#f5a623" stroke-width="2.8" stroke-linecap="round"/>
<path d="M544.58,802.25 L547.58,802.62 L550.58,803.06 L553.55,803.57 L556.51,804.16 L559.46,804.81 L562.38,805.54 L565.29,806.34 L568.17,807.21 L571.02,808.15 L573.85,809.16 L576.65,810.23" fill="none" stroke="#000" stroke-width="2.8" stroke-linecap="round"/>
<path d="M584.96,813.92 L587.71,815.31 L590.42,816.77 L593.08,818.3 L595.7,819.89 L598.27,821.55 L600.79,823.27 L603.26,825.05 L605.68,826.9 L608.04,828.8 L610.35,830.77 L612.6,832.79 L614.79,834.86" fill="none" stroke="#f5a623" stroke-width="2.8" stroke-linecap="round"/>
<path d="M620.17,840.48 L622.04,842.63 L623.84,844.82 L625.59,847.05 L627.28,849.32 L628.9,851.64 L630.45,853.99 L631.95,856.38 L633.37,858.8 L634.73,861.26 L636.02,863.74" fill="none" stroke="#000" stroke-width="2.8" stroke-linecap="round"/>
<path d="M641.04,875.48 L642.01,878.3 L642.88,881.15 L643.68,884.02 L644.38,886.91 L645.01,889.82 L645.54,892.74 L646,895.67 L646.36,898.62 L646.64,901.57 L646.83,904.53" fill="none" stroke="#f5a623" stroke-width="2.8" stroke-linecap="round"/>
<path d="M646.88,913.27 L646.74,916.07 L646.51,918.86 L646.21,921.65 L645.84,924.44 L645.38,927.21 L644.85,929.97 L644.24,932.71 L643.55,935.44 L642.79,938.16 L641.96,940.85 L641.04,943.52" fill="none" stroke="#000" stroke-width="2.8" stroke-linecap="round"/>
<path d="M635.45,956.38 L634,959.09 L632.46,961.76 L630.85,964.39 L629.16,966.97 L627.39,969.51 L625.55,972.01 L623.63,974.45" fill="none" stroke="#f5a623" stroke-width="2.8" stroke-linecap="round"/>
<path d="M617.44,981.47 L615.44,983.51 L613.37,985.49 L611.26,987.43 L609.09,989.32 L606.87,991.15 L604.6,992.94 L602.29,994.66 L599.92,996.34 L597.51,997.95 L595.06,999.51 L592.57,1001" fill="none" stroke="#000" stroke-width="2.8" stroke-linecap="round"/>
<path d="M585.53,1004.8 L582.86,1006.08 L580.15,1007.3 L577.41,1008.46 L574.64,1009.55 L571.84,1010.57 L569.02,1011.52 L566.16,1012.4 L563.29,1013.22" fill="none" stroke="#f5a623" stroke-width="2.8" stroke-linecap="round"/>
<path d="M551.87,1015.73 L548.6,1016.24 L545.32,1016.67 L542.03,1017.01 L538.73,1017.26 L535.42,1017.42 L532.11,1017.49" fill="none" stroke="#000" stroke-width="2.8" stroke-linecap="round"/>
<path d="M490.18,1010.61 L493.06,1011.58 L495.97,1012.47 L498.91,1013.3 L501.87,1014.05 L504.85,1014.73 L507.84,1015.34 L510.86,1015.87 L513.89,1016.33 L516.93,1016.71" fill="none" stroke="#f5a623" stroke-width="2.8" stroke-linecap="round"/>
<path d="M468.39,1000.45 L470.97,1001.94 L473.59,1003.37 L476.24,1004.73 L478.94,1006.03" fill="none" stroke="#000" stroke-width="2.8" stroke-linecap="round"/>
<path d="M443.83,980.81 L445.99,983.03 L448.21,985.2 L450.5,987.3 L452.85,989.35" fill="none" stroke="#f5a623" stroke-width="2.8" stroke-linecap="round"/>
<path d="M424.1,951.54 L425.4,954.29 L426.78,957.01 L428.24,959.69 L429.77,962.33 L431.39,964.93" fill="none" stroke="#000" stroke-width="2.8" stroke-linecap="round"/>
<path d="M415.27,917.57 L415.55,920.45 L415.9,923.32 L416.34,926.18 L416.86,929.03 L417.47,931.87 L418.15,934.69" fill="none" stroke="#f5a623" stroke-width="2.8" stroke-linecap="round"/>
<path d="M415.67,897.5 L416.1,894.35 L416.63,891.21 L417.25,888.09 L417.98,884.98 L418.8,881.9" fill="none" stroke="#000" stroke-width="2.8" stroke-linecap="round"/>
<path d="M421.32,874.21 L422.35,871.53 L423.47,868.88 L424.66,866.25 L425.92,863.66" fill="none" stroke="#f5a623" stroke-width="2.8" stroke-linecap="round"/>
<path d="M434.32,849.75 L436.23,847.16 L438.22,844.61 L440.29,842.13 L442.44,839.7 L444.66,837.32 L446.95,835.01" fill="none" stroke="#000" stroke-width="2.8" stroke-linecap="round"/>
<path d="M451.93,830.43 L454.28,828.45 L456.69,826.53 L459.15,824.67 L461.67,822.88 L464.23,821.15 L466.85,819.49" fill="none" stroke="#f5a623" stroke-width="2.8" stroke-linecap="round"/>
<path d="M478.59,813.13 L480.2,812.38 L481.83,811.66" fill="none" stroke="#000" stroke-width="2.8" stroke-linecap="round"/>
<path d="M428.6,859.6 C518.67,903.51 518.78,915.6 429.5,960.3" fill="none" stroke="#3452ad" stroke-width="3.6"/>
<path d="M560.3,1014.2 C534.47,922.06 517.25,911.71 416.8,927.9" fill="none" stroke="#3452ad" stroke-width="3.6"/>
<path d="M428.6,859.6 C518.67,903.51 544.76,907.87 646,895.9" fill="none" stroke="#3452ad" stroke-width="1.3"/>
<path d="M485.5,810.5 C525.5,897.62 541,918.49 614.7,984.4" fill="none" stroke="#3452ad" stroke-width="1.3"/>
<path d="M416.8,927.9 C517.25,911.71 544.76,907.87 646,895.9" fill="none" stroke="#3452ad" stroke-width="3.6"/>
<path d="M421.9,945 C517.86,913.76 543.78,904.5 637.9,867.8" fill="none" stroke="#3452ad" stroke-width="1.3"/>
<path d="M429.5,960.3 C518.78,915.6 540.74,900.28 612.5,832.7" fill="none" stroke="#3452ad" stroke-width="3.6"/>
<path d="M440.9,977.8 C520.14,917.7 542.44,903.28 626.7,857.7" fill="none" stroke="#3452ad" stroke-width="1.3"/>
<path d="M554,804.2 C533.72,896.86 517.86,913.76 421.9,945" fill="none" stroke="#3452ad" stroke-width="2.2"/>
<path d="M594.4,818.5 C538.56,898.58 541.62,917.01 619.9,972.1" fill="none" stroke="#3452ad" stroke-width="2.2"/>
<path d="M637.5,952.8 C543.74,914.7 517.25,911.71 416.8,927.9" fill="none" stroke="#3452ad" stroke-width="3.6"/>
<path d="M614.7,984.4 C541,918.49 520.14,916.38 440.9,966.8" fill="none" stroke="#3452ad" stroke-width="3.6"/>
<path d="M598,998.7 C539,920.2 533.72,896.86 554,804.2" fill="none" stroke="#3452ad" stroke-width="3.6"/>
<path d="M571.7,1010.6 C535.84,921.63 531.51,897.32 535.6,808" fill="none" stroke="#3452ad" stroke-width="3.6"/>
<path d="M511.5,1016.7 C528.62,922.36 538.56,898.58 594.4,818.5" fill="none" stroke="#3452ad" stroke-width="1.3"/>
<path d="M586.3,814.3 C537.59,898.08 517.41,906.84 418.1,887.3" fill="none" stroke="#f59a1c" stroke-width="1.3"/>
<path d="M500.7,1014.4 C527.32,922.09 538.56,898.58 594.4,818.5" fill="none" stroke="#f59a1c" stroke-width="3.6"/>
<path d="M544.5,1016.7 C532.58,922.36 540.74,900.28 612.5,832.7" fill="none" stroke="#f59a1c" stroke-width="3.6"/>
<path d="M642.6,880.7 C544.35,906.04 517.41,906.84 418.1,887.3" fill="none" stroke="#f59a1c" stroke-width="3.6"/>
<path d="M630.9,853.9 C542.94,902.83 517.8,910 421.4,913.7" fill="none" stroke="#f59a1c" stroke-width="2.2"/>
<path d="M466.1,992.6 C523.17,919.47 542.94,902.83 630.9,853.9" fill="none" stroke="#f59a1c" stroke-width="1.3"/>
<path d="M440.9,977.8 C520.14,917.7 544.65,906.6 645.1,885.3" fill="none" stroke="#f59a1c" stroke-width="1.3"/>
<path d="M423.8,949 C518.09,914.24 544.76,907.87 646,895.9" fill="none" stroke="#f59a1c" stroke-width="1.3"/>
<path d="M418.1,887.3 C517.41,906.84 542.44,903.28 626.7,857.7" fill="none" stroke="#f59a1c" stroke-width="1.3"/>
<path d="M599.2,821.9 C539.14,898.99 517.86,913.76 421.9,945" fill="none" stroke="#f59a1c" stroke-width="2.2"/>
<path d="M418.1,887.3 C517.41,906.84 543.74,914.7 637.5,952.8" fill="none" stroke="#f59a1c" stroke-width="1.3"/>
<path d="M645.1,885.3 C544.65,906.6 517.8,910 421.4,913.7" fill="none" stroke="#f59a1c" stroke-width="2.2"/>
<path d="M603.9,825.1 C539.7,899.37 523.17,919.47 466.1,992.6" fill="none" stroke="#f59a1c" stroke-width="3.6"/>
<path d="M536.4,801.4 C531.6,896.53 523.17,920.24 466.1,999" fill="none" stroke="#e8202a" stroke-width="3.6"/>
<path d="M536.4,801.4 C531.6,896.53 532.58,922.36 544.5,1016.7" fill="none" stroke="#e8202a" stroke-width="2.2"/>
<path d="M536.4,801.4 C531.6,896.53 530.16,922.47 524.4,1017.6" fill="none" stroke="#e8202a" stroke-width="1.3"/>
<path d="M541.3,802.3 C532.19,896.64 519.62,917.06 436.5,972.5" fill="none" stroke="#e8202a" stroke-width="2.2"/>
<path d="M561.6,805.2 C534.63,896.98 539.7,899.37 603.9,825.1" fill="none" stroke="#e8202a" stroke-width="2.2"/>
<path d="M571.1,808 C535.77,897.32 518.09,914.24 423.8,949" fill="none" stroke="#e8202a" stroke-width="2.2"/>
<path d="M610,829.8 C540.44,899.94 544.88,909.09 647,906.1" fill="none" stroke="#e8202a" stroke-width="2.2"/>
<path d="M645.7,928.5 C544.72,911.78 517.02,910 414.9,913.7" fill="none" stroke="#e8202a" stroke-width="2.2"/>
<path d="M629,967.4 C542.72,916.45 519.96,901.7 439.4,844.5" fill="none" stroke="#e8202a" stroke-width="3.6"/>
<path d="M625.2,973.1 C542.26,917.13 517.53,906.32 419.1,883" fill="none" stroke="#e8202a" stroke-width="3.6"/>
<path d="M478.9,1006.3 C524.7,921.12 517.18,910.64 416.2,919" fill="none" stroke="#e8202a" stroke-width="3.6"/>
<path d="M414.9,913.7 C517.02,910 544.88,909.09 647,906.1" fill="none" stroke="#e8202a" stroke-width="3.6"/>
<path d="M462.2,822.6 C522.7,899.07 531.6,896.53 536.4,801.4" fill="none" stroke="#e8202a" stroke-width="2.2"/>
<path d="M603.9,825.1 C539.7,899.37 517.18,910.64 416.2,919" fill="none" stroke="#e8202a" stroke-width="2.2"/>
<circle cx="536.4" cy="801.4" r="3.9" fill="#fff"/>
<circle cx="536.4" cy="801.4" r="3.05" fill="#6e6420"/>
<circle cx="536.4" cy="801.4" r="2.7" fill="#d9b92a"/>
<circle cx="536.4" cy="801.4" r="2.1" fill="#d81e34"/>
<circle cx="541.3" cy="802.3" r="3.9" fill="#fff"/>
<circle cx="541.3" cy="802.3" r="3.05" fill="#6e6420"/>
<circle cx="541.3" cy="802.3" r="2.7" fill="#d9b92a"/>
<circle cx="541.3" cy="802.3" r="2.1" fill="#d81e34"/>
<circle cx="535.6" cy="808" r="3.9" fill="#fff"/>
<circle cx="535.6" cy="808" r="3.0" fill="#5a7fd0"/>
<circle cx="535.6" cy="808" r="2.45" fill="#49a24d"/>
<circle cx="535.6" cy="808" r="1.1" fill="#3050c0"/>
<circle cx="554" cy="804.2" r="3.9" fill="#fff"/>
<circle cx="554" cy="804.2" r="3.0" fill="#5a7fd0"/>
<circle cx="554" cy="804.2" r="2.45" fill="#49a24d"/>
<circle cx="554" cy="804.2" r="1.1" fill="#3050c0"/>
<circle cx="561.6" cy="805.2" r="3.9" fill="#fff"/>
<circle cx="561.6" cy="805.2" r="3.05" fill="#6e6420"/>
<circle cx="561.6" cy="805.2" r="2.7" fill="#d9b92a"/>
<circle cx="561.6" cy="805.2" r="2.1" fill="#d81e34"/>
<circle cx="571.1" cy="808" r="3.9" fill="#fff"/>
<circle cx="571.1" cy="808" r="3.05" fill="#6e6420"/>
<circle cx="571.1" cy="808" r="2.7" fill="#d9b92a"/>
<circle cx="571.1" cy="808" r="2.1" fill="#d81e34"/>
<circle cx="586.3" cy="814.3" r="3.9" fill="#fff"/>
<circle cx="586.3" cy="814.3" r="3.0" fill="#5a7fd0"/>
<circle cx="586.3" cy="814.3" r="2.45" fill="#49a24d"/>
<circle cx="586.3" cy="814.3" r="1.1" fill="#3050c0"/>
<circle cx="594.4" cy="818.5" r="3.9" fill="#fff"/>
<circle cx="594.4" cy="818.5" r="3.0" fill="#5a7fd0"/>
<circle cx="594.4" cy="818.5" r="2.45" fill="#49a24d"/>
<circle cx="594.4" cy="818.5" r="1.1" fill="#3050c0"/>
<circle cx="599.2" cy="821.9" r="3.9" fill="#fff"/>
<circle cx="599.2" cy="821.9" r="3.05" fill="#6e6420"/>
<circle cx="599.2" cy="821.9" r="2.7" fill="#d9b92a"/>
<circle cx="599.2" cy="821.9" r="2.1" fill="#d81e34"/>
<circle cx="603.9" cy="825.1" r="3.9" fill="#fff"/>
<circle cx="603.9" cy="825.1" r="3.05" fill="#6e6420"/>
<circle cx="603.9" cy="825.1" r="2.7" fill="#d9b92a"/>
<circle cx="603.9" cy="825.1" r="2.1" fill="#d81e34"/>
<circle cx="610" cy="829.8" r="3.9" fill="#fff"/>
<circle cx="610" cy="829.8" r="3.05" fill="#6e6420"/>
<circle cx="610" cy="829.8" r="2.7" fill="#d9b92a"/>
<circle cx="610" cy="829.8" r="2.1" fill="#d81e34"/>
<circle cx="612.5" cy="832.7" r="3.9" fill="#fff"/>
<circle cx="612.5" cy="832.7" r="3.0" fill="#5a7fd0"/>
<circle cx="612.5" cy="832.7" r="2.45" fill="#49a24d"/>
<circle cx="612.5" cy="832.7" r="1.1" fill="#3050c0"/>
<circle cx="630.9" cy="853.9" r="3.9" fill="#fff"/>
<circle cx="630.9" cy="853.9" r="3.05" fill="#6e6420"/>
<circle cx="630.9" cy="853.9" r="2.7" fill="#d9b92a"/>
<circle cx="630.9" cy="853.9" r="2.1" fill="#d81e34"/>
<circle cx="626.7" cy="857.7" r="3.9" fill="#fff"/>
<circle cx="626.7" cy="857.7" r="3.0" fill="#5a7fd0"/>
<circle cx="626.7" cy="857.7" r="2.45" fill="#49a24d"/>
<circle cx="626.7" cy="857.7" r="1.1" fill="#3050c0"/>
<circle cx="637.9" cy="867.8" r="3.9" fill="#fff"/>
<circle cx="637.9" cy="867.8" r="3.0" fill="#5a7fd0"/>
<circle cx="637.9" cy="867.8" r="2.45" fill="#49a24d"/>
<circle cx="637.9" cy="867.8" r="1.1" fill="#3050c0"/>
<circle cx="642.6" cy="880.7" r="3.9" fill="#fff"/>
<circle cx="642.6" cy="880.7" r="3.0" fill="#5a7fd0"/>
<circle cx="642.6" cy="880.7" r="2.45" fill="#49a24d"/>
<circle cx="642.6" cy="880.7" r="1.1" fill="#3050c0"/>
<circle cx="645.1" cy="885.3" r="3.9" fill="#fff"/>
<circle cx="645.1" cy="885.3" r="3.05" fill="#6e6420"/>
<circle cx="645.1" cy="885.3" r="2.7" fill="#d9b92a"/>
<circle cx="645.1" cy="885.3" r="2.1" fill="#d81e34"/>
<circle cx="646" cy="895.9" r="3.9" fill="#fff"/>
<circle cx="646" cy="895.9" r="3.0" fill="#5a7fd0"/>
<circle cx="646" cy="895.9" r="2.45" fill="#49a24d"/>
<circle cx="646" cy="895.9" r="1.1" fill="#3050c0"/>
<circle cx="647" cy="906.1" r="3.9" fill="#fff"/>
<circle cx="647" cy="906.1" r="3.05" fill="#6e6420"/>
<circle cx="647" cy="906.1" r="2.7" fill="#d9b92a"/>
<circle cx="647" cy="906.1" r="2.1" fill="#d81e34"/>
<circle cx="645.7" cy="928.5" r="3.9" fill="#fff"/>
<circle cx="645.7" cy="928.5" r="3.05" fill="#6e6420"/>
<circle cx="645.7" cy="928.5" r="2.7" fill="#d9b92a"/>
<circle cx="645.7" cy="928.5" r="2.1" fill="#d81e34"/>
<circle cx="637.5" cy="952.8" r="3.9" fill="#fff"/>
<circle cx="637.5" cy="952.8" r="3.0" fill="#5a7fd0"/>
<circle cx="637.5" cy="952.8" r="2.45" fill="#49a24d"/>
<circle cx="637.5" cy="952.8" r="1.1" fill="#3050c0"/>
<circle cx="629" cy="967.4" r="3.9" fill="#fff"/>
<circle cx="629" cy="967.4" r="3.05" fill="#6e6420"/>
<circle cx="629" cy="967.4" r="2.7" fill="#d9b92a"/>
<circle cx="629" cy="967.4" r="2.1" fill="#d81e34"/>
<circle cx="625.2" cy="973.1" r="3.9" fill="#fff"/>
<circle cx="625.2" cy="973.1" r="3.05" fill="#6e6420"/>
<circle cx="625.2" cy="973.1" r="2.7" fill="#d9b92a"/>
<circle cx="625.2" cy="973.1" r="2.1" fill="#d81e34"/>
<circle cx="619.9" cy="972.1" r="3.9" fill="#fff"/>
<circle cx="619.9" cy="972.1" r="3.0" fill="#5a7fd0"/>
<circle cx="619.9" cy="972.1" r="2.45" fill="#49a24d"/>
<circle cx="619.9" cy="972.1" r="1.1" fill="#3050c0"/>
<circle cx="614.7" cy="984.4" r="3.9" fill="#fff"/>
<circle cx="614.7" cy="984.4" r="3.0" fill="#5a7fd0"/>
<circle cx="614.7" cy="984.4" r="2.45" fill="#49a24d"/>
<circle cx="614.7" cy="984.4" r="1.1" fill="#3050c0"/>
<circle cx="598" cy="998.7" r="3.9" fill="#fff"/>
<circle cx="598" cy="998.7" r="3.0" fill="#5a7fd0"/>
<circle cx="598" cy="998.7" r="2.45" fill="#49a24d"/>
<circle cx="598" cy="998.7" r="1.1" fill="#3050c0"/>
<circle cx="571.7" cy="1010.6" r="3.9" fill="#fff"/>
<circle cx="571.7" cy="1010.6" r="3.0" fill="#5a7fd0"/>
<circle cx="571.7" cy="1010.6" r="2.45" fill="#49a24d"/>
<circle cx="571.7" cy="1010.6" r="1.1" fill="#3050c0"/>
<circle cx="560.3" cy="1014.2" r="3.9" fill="#fff"/>
<circle cx="560.3" cy="1014.2" r="3.0" fill="#5a7fd0"/>
<circle cx="560.3" cy="1014.2" r="2.45" fill="#49a24d"/>
<circle cx="560.3" cy="1014.2" r="1.1" fill="#3050c0"/>
<circle cx="544.5" cy="1016.7" r="3.9" fill="#fff"/>
<circle cx="544.5" cy="1016.7" r="3.05" fill="#6e6420"/>
<circle cx="544.5" cy="1016.7" r="2.7" fill="#d9b92a"/>
<circle cx="544.5" cy="1016.7" r="2.1" fill="#d81e34"/>
<circle cx="540.7" cy="1017.3" r="3.9" fill="#fff"/>
<circle cx="540.7" cy="1017.3" r="3.0" fill="#5a7fd0"/>
<circle cx="540.7" cy="1017.3" r="2.45" fill="#49a24d"/>
<circle cx="540.7" cy="1017.3" r="1.1" fill="#3050c0"/>
<circle cx="529.3" cy="1017.6" r="3.9" fill="#fff"/>
<circle cx="529.3" cy="1017.6" r="3.05" fill="#6e6420"/>
<circle cx="529.3" cy="1017.6" r="2.7" fill="#d9b92a"/>
<circle cx="529.3" cy="1017.6" r="2.1" fill="#d81e34"/>
<circle cx="524.4" cy="1017.6" r="3.9" fill="#fff"/>
<circle cx="524.4" cy="1017.6" r="3.05" fill="#6e6420"/>
<circle cx="524.4" cy="1017.6" r="2.7" fill="#d9b92a"/>
<circle cx="524.4" cy="1017.6" r="2.1" fill="#d81e34"/>
<circle cx="511.5" cy="1016.7" r="3.9" fill="#fff"/>
<circle cx="511.5" cy="1016.7" r="3.0" fill="#5a7fd0"/>
<circle cx="511.5" cy="1016.7" r="2.45" fill="#49a24d"/>
<circle cx="511.5" cy="1016.7" r="1.1" fill="#3050c0"/>
<circle cx="500.7" cy="1014.4" r="3.9" fill="#fff"/>
<circle cx="500.7" cy="1014.4" r="3.05" fill="#6e6420"/>
<circle cx="500.7" cy="1014.4" r="2.7" fill="#d9b92a"/>
<circle cx="500.7" cy="1014.4" r="2.1" fill="#d81e34"/>
<circle cx="478.9" cy="1006.3" r="3.9" fill="#fff"/>
<circle cx="478.9" cy="1006.3" r="3.05" fill="#6e6420"/>
<circle cx="478.9" cy="1006.3" r="2.7" fill="#d9b92a"/>
<circle cx="478.9" cy="1006.3" r="2.1" fill="#d81e34"/>
<circle cx="466.1" cy="999" r="3.9" fill="#fff"/>
<circle cx="466.1" cy="999" r="3.05" fill="#6e6420"/>
<circle cx="466.1" cy="999" r="2.7" fill="#d9b92a"/>
<circle cx="466.1" cy="999" r="2.1" fill="#d81e34"/>
<circle cx="459.9" cy="994.3" r="3.9" fill="#fff"/>
<circle cx="459.9" cy="994.3" r="3.05" fill="#6e6420"/>
<circle cx="459.9" cy="994.3" r="2.7" fill="#d9b92a"/>
<circle cx="459.9" cy="994.3" r="2.1" fill="#d81e34"/>
<circle cx="466.1" cy="992.6" r="3.9" fill="#fff"/>
<circle cx="466.1" cy="992.6" r="3.0" fill="#5a7fd0"/>
<circle cx="466.1" cy="992.6" r="2.45" fill="#49a24d"/>
<circle cx="466.1" cy="992.6" r="1.1" fill="#3050c0"/>
<circle cx="440.9" cy="977.8" r="3.9" fill="#fff"/>
<circle cx="440.9" cy="977.8" r="3.0" fill="#5a7fd0"/>
<circle cx="440.9" cy="977.8" r="2.45" fill="#49a24d"/>
<circle cx="440.9" cy="977.8" r="1.1" fill="#3050c0"/>
<circle cx="436.5" cy="972.5" r="3.9" fill="#fff"/>
<circle cx="436.5" cy="972.5" r="3.05" fill="#6e6420"/>
<circle cx="436.5" cy="972.5" r="2.7" fill="#d9b92a"/>
<circle cx="436.5" cy="972.5" r="2.1" fill="#d81e34"/>
<circle cx="440.9" cy="966.8" r="3.9" fill="#fff"/>
<circle cx="440.9" cy="966.8" r="3.0" fill="#5a7fd0"/>
<circle cx="440.9" cy="966.8" r="2.45" fill="#49a24d"/>
<circle cx="440.9" cy="966.8" r="1.1" fill="#3050c0"/>
<circle cx="429.5" cy="960.3" r="3.9" fill="#fff"/>
<circle cx="429.5" cy="960.3" r="3.0" fill="#5a7fd0"/>
<circle cx="429.5" cy="960.3" r="2.45" fill="#49a24d"/>
<circle cx="429.5" cy="960.3" r="1.1" fill="#3050c0"/>
<circle cx="423.8" cy="949" r="3.9" fill="#fff"/>
<circle cx="423.8" cy="949" r="3.05" fill="#6e6420"/>
<circle cx="423.8" cy="949" r="2.7" fill="#d9b92a"/>
<circle cx="423.8" cy="949" r="2.1" fill="#d81e34"/>
<circle cx="421.9" cy="945" r="3.9" fill="#fff"/>
<circle cx="421.9" cy="945" r="3.0" fill="#5a7fd0"/>
<circle cx="421.9" cy="945" r="2.45" fill="#49a24d"/>
<circle cx="421.9" cy="945" r="1.1" fill="#3050c0"/>
<circle cx="416.8" cy="927.9" r="3.9" fill="#fff"/>
<circle cx="416.8" cy="927.9" r="3.0" fill="#5a7fd0"/>
<circle cx="416.8" cy="927.9" r="2.45" fill="#49a24d"/>
<circle cx="416.8" cy="927.9" r="1.1" fill="#3050c0"/>
<circle cx="416.2" cy="919" r="3.9" fill="#fff"/>
<circle cx="416.2" cy="919" r="3.05" fill="#6e6420"/>
<circle cx="416.2" cy="919" r="2.7" fill="#d9b92a"/>
<circle cx="416.2" cy="919" r="2.1" fill="#d81e34"/>
<circle cx="414.9" cy="913.7" r="3.9" fill="#fff"/>
<circle cx="414.9" cy="913.7" r="3.05" fill="#6e6420"/>
<circle cx="414.9" cy="913.7" r="2.7" fill="#d9b92a"/>
<circle cx="414.9" cy="913.7" r="2.1" fill="#d81e34"/>
<circle cx="421.4" cy="913.7" r="3.9" fill="#fff"/>
<circle cx="421.4" cy="913.7" r="3.0" fill="#5a7fd0"/>
<circle cx="421.4" cy="913.7" r="2.45" fill="#49a24d"/>
<circle cx="421.4" cy="913.7" r="1.1" fill="#3050c0"/>
<circle cx="415.3" cy="901" r="3.9" fill="#fff"/>
<circle cx="415.3" cy="901" r="3.0" fill="#5a7fd0"/>
<circle cx="415.3" cy="901" r="2.45" fill="#49a24d"/>
<circle cx="415.3" cy="901" r="1.1" fill="#3050c0"/>
<circle cx="418.1" cy="887.3" r="3.9" fill="#fff"/>
<circle cx="418.1" cy="887.3" r="3.05" fill="#6e6420"/>
<circle cx="418.1" cy="887.3" r="2.7" fill="#d9b92a"/>
<circle cx="418.1" cy="887.3" r="2.1" fill="#d81e34"/>
<circle cx="419.1" cy="883" r="3.9" fill="#fff"/>
<circle cx="419.1" cy="883" r="3.05" fill="#6e6420"/>
<circle cx="419.1" cy="883" r="2.7" fill="#d9b92a"/>
<circle cx="419.1" cy="883" r="2.1" fill="#d81e34"/>
<circle cx="428.6" cy="859.6" r="3.9" fill="#fff"/>
<circle cx="428.6" cy="859.6" r="3.0" fill="#5a7fd0"/>
<circle cx="428.6" cy="859.6" r="2.45" fill="#49a24d"/>
<circle cx="428.6" cy="859.6" r="1.1" fill="#3050c0"/>
<circle cx="441.9" cy="847.9" r="3.9" fill="#fff"/>
<circle cx="441.9" cy="847.9" r="3.0" fill="#5a7fd0"/>
<circle cx="441.9" cy="847.9" r="2.45" fill="#49a24d"/>
<circle cx="441.9" cy="847.9" r="1.1" fill="#3050c0"/>
<circle cx="439.4" cy="844.5" r="3.9" fill="#fff"/>
<circle cx="439.4" cy="844.5" r="3.05" fill="#6e6420"/>
<circle cx="439.4" cy="844.5" r="2.7" fill="#d9b92a"/>
<circle cx="439.4" cy="844.5" r="2.1" fill="#d81e34"/>
<circle cx="462.2" cy="822.6" r="3.9" fill="#fff"/>
<circle cx="462.2" cy="822.6" r="3.05" fill="#6e6420"/>
<circle cx="462.2" cy="822.6" r="2.7" fill="#d9b92a"/>
<circle cx="462.2" cy="822.6" r="2.1" fill="#d81e34"/>
<circle cx="464.6" cy="826.1" r="3.9" fill="#fff"/>
<circle cx="464.6" cy="826.1" r="3.0" fill="#5a7fd0"/>
<circle cx="464.6" cy="826.1" r="2.45" fill="#49a24d"/>
<circle cx="464.6" cy="826.1" r="1.1" fill="#3050c0"/>
<circle cx="475.4" cy="814.7" r="3.9" fill="#fff"/>
<circle cx="475.4" cy="814.7" r="3.0" fill="#5a7fd0"/>
<circle cx="475.4" cy="814.7" r="2.45" fill="#49a24d"/>
<circle cx="475.4" cy="814.7" r="1.1" fill="#3050c0"/>
<circle cx="485.5" cy="810.5" r="3.9" fill="#fff"/>
<circle cx="485.5" cy="810.5" r="3.0" fill="#5a7fd0"/>
<circle cx="485.5" cy="810.5" r="2.45" fill="#49a24d"/>
<circle cx="485.5" cy="810.5" r="1.1" fill="#3050c0"/>
<circle cx="503.1" cy="804.8" r="3.9" fill="#fff"/>
<circle cx="503.1" cy="804.8" r="3.05" fill="#6e6420"/>
<circle cx="503.1" cy="804.8" r="2.7" fill="#d9b92a"/>
<circle cx="503.1" cy="804.8" r="2.1" fill="#d81e34"/>
<text x="526" y="788.9" font-size="7.6" font-style="italic" fill="#333" text-anchor="middle" stroke="#333" stroke-width="0.2">S1a</text>
<text x="526" y="796.8" font-size="7.6" font-style="italic" fill="#333" text-anchor="middle" stroke="#333" stroke-width="0.2">V1a</text>
<text x="545.7" y="791.5" font-size="7.6" font-style="italic" fill="#333" text-anchor="middle" stroke="#333" stroke-width="0.2">V1b</text>
<text x="567.3" y="793.8" font-size="7.6" font-style="italic" fill="#333" text-anchor="middle" stroke="#333" stroke-width="0.2">V1c</text>
<text x="554.1" y="799.4" font-size="7.6" font-style="italic" fill="#333" text-anchor="middle" stroke="#333" stroke-width="0.2">S1b</text>
<text x="572.9" y="802.4" font-size="7.6" font-style="italic" fill="#333" text-anchor="middle" stroke="#333" stroke-width="0.2">V1d</text>
<text x="589.3" y="808.5" font-size="7.6" font-style="italic" fill="#333" text-anchor="middle" stroke="#333" stroke-width="0.2">S2a</text>
<text x="605.5" y="811.2" font-size="7.6" font-style="italic" fill="#333" text-anchor="middle" stroke="#333" stroke-width="0.2">S2b</text>
<text x="609.3" y="818.7" font-size="7.6" font-style="italic" fill="#333" text-anchor="middle" stroke="#333" stroke-width="0.2">V2a</text>
<text x="625.5" y="817.8" font-size="7.6" font-style="italic" fill="#333" text-anchor="middle" stroke="#333" stroke-width="0.2">V2b</text>
<text x="620" y="827.1" font-size="7.6" font-style="italic" fill="#333" text-anchor="middle" stroke="#333" stroke-width="0.2">V2c</text>
<text x="624.9" y="833.6" font-size="7.6" font-style="italic" fill="#333" text-anchor="middle" stroke="#333" stroke-width="0.2">S2c</text>
<text x="638" y="848.9" font-size="7.6" font-style="italic" fill="#333" text-anchor="middle" stroke="#333" stroke-width="0.2">V3a</text>
<text x="643.5" y="856.8" font-size="7.6" font-style="italic" fill="#333" text-anchor="middle" stroke="#333" stroke-width="0.2">S3a</text>
<text x="649.7" y="868.3" font-size="7.6" font-style="italic" fill="#333" text-anchor="middle" stroke="#333" stroke-width="0.2">S3b</text>
<text x="654.7" y="880.1" font-size="7.6" font-style="italic" fill="#333" text-anchor="middle" stroke="#333" stroke-width="0.2">S4a</text>
<text x="655.5" y="887.2" font-size="7.6" font-style="italic" fill="#333" text-anchor="middle" stroke="#333" stroke-width="0.2">V4a</text>
<text x="658.2" y="897.9" font-size="7.6" font-style="italic" fill="#333" text-anchor="middle" stroke="#333" stroke-width="0.2">S4b</text>
<text x="658.4" y="907.9" font-size="7.6" font-style="italic" fill="#333" text-anchor="middle" stroke="#333" stroke-width="0.2">V4b</text>
<text x="656.6" y="931.3" font-size="7.6" font-style="italic" fill="#333" text-anchor="middle" stroke="#333" stroke-width="0.2">V5a</text>
<text x="649.9" y="954.8" font-size="7.6" font-style="italic" fill="#333" text-anchor="middle" stroke="#333" stroke-width="0.2">S6a</text>
<text x="640.2" y="969.6" font-size="7.6" font-style="italic" fill="#333" text-anchor="middle" stroke="#333" stroke-width="0.2">V6a</text>
<text x="636.6" y="977.2" font-size="7.6" font-style="italic" fill="#333" text-anchor="middle" stroke="#333" stroke-width="0.2">V6b</text>
<text x="632.6" y="984.8" font-size="7.6" font-style="italic" fill="#333" text-anchor="middle" stroke="#333" stroke-width="0.2">S6b</text>
<text x="624.4" y="995.2" font-size="7.6" font-style="italic" fill="#333" text-anchor="middle" stroke="#333" stroke-width="0.2">S7a</text>
<text x="607.6" y="1007.2" font-size="7.6" font-style="italic" fill="#333" text-anchor="middle" stroke="#333" stroke-width="0.2">S7b</text>
<text x="580.9" y="1019.5" font-size="7.6" font-style="italic" fill="#333" text-anchor="middle" stroke="#333" stroke-width="0.2">S8a</text>
<text x="567" y="1026.5" font-size="7.6" font-style="italic" fill="#333" text-anchor="middle" stroke="#333" stroke-width="0.2">S8b</text>
<text x="545.7" y="1027.9" font-size="7.6" font-style="italic" fill="#333" text-anchor="middle" stroke="#333" stroke-width="0.2">V9a</text>
<text x="543.6" y="1037.7" font-size="7.6" font-style="italic" fill="#333" text-anchor="middle" stroke="#333" stroke-width="0.2">S9a</text>
<text x="527.8" y="1037.7" font-size="7.6" font-style="italic" fill="#333" text-anchor="middle" stroke="#333" stroke-width="0.2">V9b</text>
<text x="522.8" y="1027.9" font-size="7.6" font-style="italic" fill="#333" text-anchor="middle" stroke="#333" stroke-width="0.2">V9c</text>
<text x="507.4" y="1033.9" font-size="7.6" font-style="italic" fill="#333" text-anchor="middle" stroke="#333" stroke-width="0.2">S10a</text>
<text x="491.7" y="1025.4" font-size="7.6" font-style="italic" fill="#333" text-anchor="middle" stroke="#333" stroke-width="0.2">V10a</text>
<text x="474.7" y="1016.8" font-size="7.6" font-style="italic" fill="#333" text-anchor="middle" stroke="#333" stroke-width="0.2">V11a</text>
<text x="461.7" y="1008.3" font-size="7.6" font-style="italic" fill="#333" text-anchor="middle" stroke="#333" stroke-width="0.2">V11b</text>
<text x="441" y="1012.7" font-size="7.6" font-style="italic" fill="#333" text-anchor="middle" stroke="#333" stroke-width="0.2">S11a</text>
<text x="447.2" y="1001.3" font-size="7.6" font-style="italic" fill="#333" text-anchor="middle" stroke="#333" stroke-width="0.2">V11c</text>
<text x="433.4" y="988.2" font-size="7.6" font-style="italic" fill="#333" text-anchor="middle" stroke="#333" stroke-width="0.2">S12a</text>
<text x="422.9" y="981" font-size="7.6" font-style="italic" fill="#333" text-anchor="middle" stroke="#333" stroke-width="0.2">V12a</text>
<text x="422.5" y="973.8" font-size="7.6" font-style="italic" fill="#333" text-anchor="middle" stroke="#333" stroke-width="0.2">S12b</text>
<text x="415.8" y="964.3" font-size="7.6" font-style="italic" fill="#333" text-anchor="middle" stroke="#333" stroke-width="0.2">S13a</text>
<text x="410.8" y="955.4" font-size="7.6" font-style="italic" fill="#333" text-anchor="middle" stroke="#333" stroke-width="0.2">V13a</text>
<text x="407.9" y="947.5" font-size="7.6" font-style="italic" fill="#333" text-anchor="middle" stroke="#333" stroke-width="0.2">S13b</text>
<text x="402.7" y="932.4" font-size="7.6" font-style="italic" fill="#333" text-anchor="middle" stroke="#333" stroke-width="0.2">S14a</text>
<text x="401" y="922.3" font-size="7.6" font-style="italic" fill="#333" text-anchor="middle" stroke="#333" stroke-width="0.2">V14a</text>
<text x="396.4" y="915.4" font-size="7.6" font-style="italic" fill="#333" text-anchor="middle" stroke="#333" stroke-width="0.2">V&amp;S14b</text>
<text x="402.8" y="902.3" font-size="7.6" font-style="italic" fill="#333" text-anchor="middle" stroke="#333" stroke-width="0.2">S15a</text>
<text x="404.8" y="888.8" font-size="7.6" font-style="italic" fill="#333" text-anchor="middle" stroke="#333" stroke-width="0.2">V15a</text>
<text x="406.4" y="880.7" font-size="7.6" font-style="italic" fill="#333" text-anchor="middle" stroke="#333" stroke-width="0.2">V15b</text>
<text x="414.7" y="860" font-size="7.6" font-style="italic" fill="#333" text-anchor="middle" stroke="#333" stroke-width="0.2">S16a</text>
<text x="425.2" y="846.3" font-size="7.6" font-style="italic" fill="#333" text-anchor="middle" stroke="#333" stroke-width="0.2">S17a</text>
<text x="430.1" y="837.6" font-size="7.6" font-style="italic" fill="#333" text-anchor="middle" stroke="#333" stroke-width="0.2">V17a</text>
<text x="444.7" y="821.8" font-size="7.6" font-style="italic" fill="#333" text-anchor="middle" stroke="#333" stroke-width="0.2">V&amp;S18a</text>
<text x="464.1" y="812" font-size="7.6" font-style="italic" fill="#333" text-anchor="middle" stroke="#333" stroke-width="0.2">S19a</text>
<text x="480.3" y="805" font-size="7.6" font-style="italic" fill="#333" text-anchor="middle" stroke="#333" stroke-width="0.2">S19b</text>
<text x="503.9" y="799.2" font-size="7.6" font-style="italic" fill="#333" text-anchor="middle" stroke="#333" stroke-width="0.2">VXa</text>
<text x="-0.6" y="778" font-size="13.5" font-weight="bold" fill="#000" stroke="#000" stroke-width="0.14">g</text>
<text x="381.0" y="778.7" font-size="13.5" font-weight="bold" fill="#000" stroke="#000" stroke-width="0.14">h</text>
<text x="19.2" y="780" font-size="7.9" fill="#222" text-anchor="start"  stroke="#222" stroke-width="0.2">Male</text>
<text x="410.9" y="780" font-size="7.9" fill="#222" text-anchor="start"  stroke="#222" stroke-width="0.2">Female</text>
<text x="22.2" y="803" font-size="7.9" fill="#222" stroke="#222" stroke-width="0.2">T<tspan font-size="4.6" dy="2.2" font-style="italic">42</tspan></text>
<text x="402.7" y="803" font-size="7.9" fill="#222" stroke="#222" stroke-width="0.2">T<tspan font-size="4.6" dy="2.2" font-style="italic">42</tspan></text>
<text x="141.3" y="780" font-size="8" fill="#222" text-anchor="start"  stroke="#222" stroke-width="0.2">Chromosome X</text>
<text x="218.3" y="780" font-size="8" fill="#222" text-anchor="start"  stroke="#222" stroke-width="0.2">Chromosome 1</text>
<text x="650" y="800.5" font-size="8" fill="#222" text-anchor="middle"  stroke="#222" stroke-width="0.2">Chromosome 2</text>
<text x="125" y="793.2" font-size="7.6" fill="#222" text-anchor="middle"  stroke="#222" stroke-width="0.2">19</text>
<text x="71.2" y="834" font-size="7.6" fill="#222" text-anchor="middle"  stroke="#222" stroke-width="0.2">17</text>
<text x="46.3" y="885.2" font-size="7.6" fill="#222" text-anchor="middle"  stroke="#222" stroke-width="0.2">15</text>
<text x="56.4" y="969.3" font-size="7.6" fill="#222" text-anchor="middle"  stroke="#222" stroke-width="0.2">13</text>
<text x="115.8" y="1029.8" font-size="7.6" fill="#222" text-anchor="middle"  stroke="#222" stroke-width="0.2">11</text>
<text x="203" y="1053.8" font-size="7.6" fill="#222" text-anchor="middle"  stroke="#222" stroke-width="0.2">9</text>
<text x="290.6" y="1018.7" font-size="7.6" fill="#222" text-anchor="middle"  stroke="#222" stroke-width="0.2">7</text>
<text x="322" y="846.8" font-size="7.6" fill="#222" text-anchor="middle"  stroke="#222" stroke-width="0.2">3</text>
<text x="431.2" y="810.7" font-size="7.6" fill="#222" text-anchor="middle"  stroke="#222" stroke-width="0.2">18</text>
<text x="389.9" y="858.6" font-size="7.6" fill="#222" text-anchor="middle"  stroke="#222" stroke-width="0.2">16</text>
<text x="413" y="1002.5" font-size="7.6" fill="#222" text-anchor="middle"  stroke="#222" stroke-width="0.2">12</text>
<text x="501.2" y="1051.4" font-size="7.6" fill="#222" text-anchor="middle"  stroke="#222" stroke-width="0.2">10</text>
<text x="581.8" y="1039.8" font-size="7.6" fill="#222" text-anchor="middle"  stroke="#222" stroke-width="0.2">8</text>
<text x="653.3" y="982.9" font-size="7.6" fill="#222" text-anchor="middle"  stroke="#222" stroke-width="0.2">6</text>
<text x="673.4" y="883.7" font-size="7.6" fill="#222" text-anchor="middle"  stroke="#222" stroke-width="0.2">4</text>
<circle cx="325.95" cy="799.4" r="6.1" fill="#5a5a40"/><circle cx="325.95" cy="799.4" r="5.7" fill="#e2c02a"/><circle cx="325.95" cy="799.4" r="4.9" fill="#d42035"/>
<circle cx="326.2" cy="819.8" r="6.1" fill="#3b5fc2"/><circle cx="326.2" cy="819.8" r="3.7" fill="none" stroke="#5ac050" stroke-width="0.7"/>
<text x="337.9" y="803.8" font-size="8" fill="#222" text-anchor="start" font-style="italic" stroke="#222" stroke-width="0.2">Vita</text>
<text x="337.9" y="823" font-size="8" fill="#222" text-anchor="start" font-style="italic" stroke="#222" stroke-width="0.2">Soma</text>
<line x1="318.6" y1="1011.8" x2="340.2" y2="1011.8" stroke="#e8202a" stroke-width="3.3" stroke-linecap="round"/>
<text x="347.2" y="1014.7" font-size="8" fill="#222" text-anchor="start" font-style="italic" stroke="#222" stroke-width="0.2">Vita–Vita</text>
<line x1="318.6" y1="1024.3" x2="340.2" y2="1024.3" stroke="#f59a1c" stroke-width="3.3" stroke-linecap="round"/>
<text x="347.2" y="1027.2" font-size="8" fill="#222" text-anchor="start" font-style="italic" stroke="#222" stroke-width="0.2">Vita–Soma</text>
<line x1="318.6" y1="1037.0" x2="340.2" y2="1037.0" stroke="#3452ad" stroke-width="3.3" stroke-linecap="round"/>
<text x="347.2" y="1039.9" font-size="8" fill="#222" text-anchor="start" font-style="italic" stroke="#222" stroke-width="0.2">Soma–Soma</text>
<line x1="12.6" y1="1003.3" x2="35.7" y2="1003.3" stroke="#000" stroke-width="1.7" stroke-linecap="round"/>
<text x="41.6" y="1006.3" font-size="8" fill="#222" text-anchor="start"  stroke="#222" stroke-width="0.2">3.8–4.2</text>
<line x1="12.6" y1="1014.8" x2="35.7" y2="1014.8" stroke="#000" stroke-width="2.5" stroke-linecap="round"/>
<text x="41.6" y="1017.8" font-size="8" fill="#222" text-anchor="start"  stroke="#222" stroke-width="0.2">4.2–4.5</text>
<line x1="12.6" y1="1026.3" x2="35.7" y2="1026.3" stroke="#000" stroke-width="3.6" stroke-linecap="round"/>
<text x="41.6" y="1029.3" font-size="8" fill="#222" text-anchor="start"  stroke="#222" stroke-width="0.2">4.5+</text>
<text x="648.8" y="1008" font-size="8" fill="#222" text-anchor="start"  stroke="#222" stroke-width="0.2">Male = 78</text>
<text x="639.6" y="1019" font-size="8" fill="#222" text-anchor="start"  stroke="#222" stroke-width="0.2">Female = 72</text>
<text x="638.6" y="1030" font-size="8" fill="#222" text-anchor="start"  stroke="#222" stroke-width="0.2">Overlap = 2</text>
</svg>
</body></html>
